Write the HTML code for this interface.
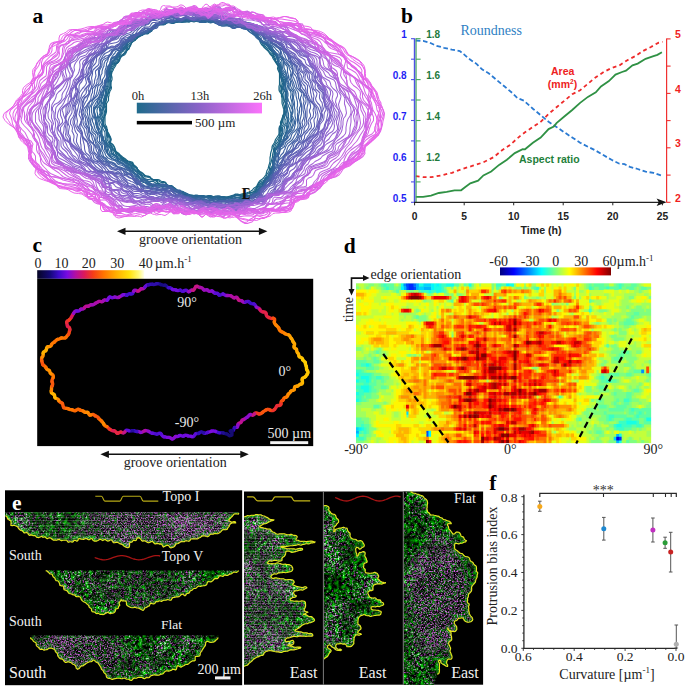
<!DOCTYPE html>
<html><head><meta charset="utf-8"><title>figure</title>
<style>
html,body{margin:0;padding:0;background:#fff;}
body{width:685px;height:687px;overflow:hidden;}
svg{display:block;}
text{font-family:'Liberation Serif',serif;}
.s{font-family:'Liberation Sans',sans-serif;font-weight:bold;}
.lab{font-family:'Liberation Serif',serif;font-weight:bold;font-size:21.5px;}
</style></head>
<body>
<svg width="685" height="687" viewBox="0 0 685 687">
<text class="lab" x="32.6" y="22.8">a</text><g fill="none" stroke-width="1.05" stroke-linejoin="round" transform="scale(0.5)"><polygon points="213,220 213,217 213,213 213,210 213,207 215,204 217,201 217,197 217,194 218,191 218,188 219,185 220,182 222,179 223,175 222,172 222,168 222,165 223,162 224,159 224,155 223,151 223,148 224,144 226,141 227,138 229,135 231,132 232,129 234,126 236,124 238,121 239,118 241,115 243,112 246,110 248,107 250,104 252,102 255,100 258,98 259,95 261,91 262,88 264,84 267,82 270,81 272,78 274,75 278,74 281,72 283,70 286,67 289,66 293,66 296,64 298,61 300,58 303,56 307,55 310,54 313,52 316,51 320,50 323,49 326,48 329,46 333,45 336,44 340,44 343,44 347,43 350,42 353,41 357,41 360,42 364,43 367,44 371,44 374,44 378,44 381,43 384,43 388,44 391,43 395,42 398,42 401,42 405,42 408,42 412,41 415,42 419,42 422,42 426,42 429,43 433,43 436,43 440,44 443,43 447,43 451,43 455,44 458,45 461,46 465,47 469,47 473,47 477,48 480,50 484,50 489,50 492,51 496,53 499,55 502,57 504,60 507,63 510,66 512,69 513,73 515,77 518,79 520,83 521,86 523,89 526,92 528,95 531,97 533,99 536,102 538,105 540,108 543,111 545,114 546,117 548,120 550,123 553,126 555,129 556,133 555,137 556,140 558,144 559,147 559,151 559,155 559,158 559,162 559,166 559,169 558,173 558,177 558,180 559,183 561,186 563,189 563,193 564,196 564,200 564,203 564,206 565,210 566,213 567,217 569,220 569,223 568,227 566,230 565,234 564,237 563,240 561,244 561,247 562,250 561,254 561,257 561,261 560,264 559,267 557,270 555,273 553,276 551,279 550,282 549,285 547,288 545,291 544,294 544,297 543,301 542,304 541,308 541,311 540,315 540,319 540,323 539,327 538,330 537,334 536,338 534,341 533,345 532,349 530,352 528,355 525,358 522,360 519,362 517,365 515,369 513,373 510,375 507,377 505,380 502,382 498,384 495,385 491,387 487,387 483,388 480,389 476,390 472,391 468,391 464,392 461,392 457,393 454,394 450,394 446,394 443,395 439,396 436,397 433,398 429,397 425,396 422,396 418,395 414,394 411,393 407,393 404,393 401,393 398,393 394,393 391,392 388,391 384,390 381,390 378,390 375,390 372,388 368,387 365,385 363,383 360,382 356,382 354,380 351,377 348,375 345,374 342,374 340,373 337,371 334,369 332,366 330,364 327,363 324,363 321,362 319,360 316,359 313,359 309,359 306,359 303,358 301,356 299,353 296,352 292,352 289,350 287,348 285,346 282,344 280,343 277,341 275,338 274,336 272,333 269,331 267,329 266,326 264,324 260,323 256,322 253,320 251,318 248,316 245,314 243,312 240,310 238,307 235,305 232,303 231,300 230,297 229,294 227,291 224,288 221,286 221,283 221,279 220,276 219,273 218,269 217,266 215,263 215,260 214,257 213,253 211,250 210,247 210,244 210,240 210,237 210,233 211,230 212,227 213,223" stroke="#186482" stroke-width="2.30"/><polygon points="213,220 212,217 211,213 210,210 211,207 212,203 213,200 213,197 214,194 215,190 216,187 217,184 218,181 220,178 221,175 221,171 220,168 220,164 220,161 221,158 222,154 222,151 223,147 223,144 224,140 225,137 227,134 229,131 231,128 234,126 237,124 239,121 240,118 241,114 243,112 246,110 248,107 251,105 253,102 255,100 257,97 259,94 261,91 262,88 264,85 267,82 270,81 272,78 275,76 277,73 280,71 283,69 286,68 291,68 295,68 297,67 299,63 301,60 304,57 307,55 310,53 313,51 316,49 319,49 323,47 326,46 329,45 333,44 336,44 340,43 343,43 347,43 350,43 354,43 357,42 360,43 364,43 367,43 371,43 374,43 378,44 381,43 384,42 388,42 391,41 395,40 398,40 401,41 405,42 408,41 412,40 415,41 419,42 422,42 426,42 429,42 433,42 436,43 440,43 443,43 447,43 451,44 454,45 458,46 461,46 466,46 470,45 474,45 478,46 481,48 484,49 488,50 492,51 496,52 499,54 502,57 505,60 508,62 510,65 512,69 514,73 516,76 519,78 521,81 523,85 525,88 527,91 529,94 531,97 534,99 537,101 539,104 542,107 544,109 546,113 548,116 549,119 551,122 553,126 555,129 557,132 558,136 558,139 559,143 560,147 561,150 563,153 563,157 563,161 562,165 562,168 561,172 560,176 560,179 561,183 563,186 564,189 565,192 566,196 566,199 566,203 567,206 568,210 569,213 569,217 569,220 569,223 569,227 567,230 566,234 565,237 564,240 563,244 562,247 562,250 561,254 560,257 560,260 560,264 560,267 559,271 558,274 556,277 554,280 552,283 551,286 549,289 547,292 546,295 547,299 547,303 546,306 545,310 545,314 544,317 543,321 542,325 541,328 540,332 539,336 539,340 537,344 535,347 533,350 532,354 531,358 528,361 524,362 520,364 518,366 516,370 514,374 512,377 509,380 507,383 503,385 499,385 495,387 492,388 488,388 484,390 480,390 476,391 472,391 468,391 465,392 461,393 457,394 454,394 450,394 446,394 443,394 439,394 435,395 432,395 428,395 425,395 421,395 418,394 414,393 411,393 407,392 404,391 401,391 397,392 394,393 391,393 388,391 384,391 381,391 378,392 375,390 371,389 368,387 365,386 362,384 359,383 356,383 353,381 351,378 348,377 345,376 342,375 339,374 336,373 334,371 332,367 330,365 327,365 323,365 320,364 318,362 315,361 312,361 308,361 305,360 303,358 301,355 299,353 295,353 292,352 289,351 287,349 284,347 282,345 279,344 276,342 274,339 273,336 271,334 269,332 266,330 265,327 262,325 259,324 255,323 252,321 250,319 247,317 244,315 242,313 240,310 237,308 234,306 231,303 230,300 229,297 228,294 227,291 224,288 221,286 221,283 222,279 221,275 220,272 218,269 216,267 214,264 212,260 212,257 211,254 208,251 207,248 207,244 208,240 208,237 209,234 209,230 210,227 212,223" stroke="#1a6484" stroke-width="2.30"/><polygon points="211,220 210,217 209,213 209,210 210,207 211,203 210,200 210,196 212,193 214,190 216,187 216,184 217,181 219,178 220,175 220,171 221,168 221,164 220,161 221,157 222,154 221,150 221,146 221,143 222,139 223,136 225,133 227,130 230,128 234,127 237,124 239,121 239,118 241,115 244,112 247,111 250,109 252,106 253,103 254,99 255,95 257,92 260,90 262,87 263,83 265,80 268,79 272,78 275,76 277,73 280,71 282,68 286,67 290,67 294,67 297,66 300,64 302,61 304,58 307,55 309,52 312,51 316,49 319,47 322,45 325,44 329,44 332,44 336,43 339,43 343,43 347,43 350,43 354,43 357,43 361,43 364,43 367,42 371,41 374,41 378,42 381,42 384,40 388,40 391,41 395,41 398,40 401,40 405,41 408,41 412,40 415,41 419,42 422,41 426,41 429,42 433,43 436,44 439,44 443,44 447,45 450,46 454,46 458,45 462,44 466,44 470,44 474,44 479,44 482,46 485,48 489,50 493,51 497,51 500,54 502,57 505,59 508,62 510,66 512,69 514,72 517,75 519,78 522,80 524,83 527,86 528,89 530,92 533,95 536,97 539,99 542,102 544,105 546,108 547,112 548,116 550,119 551,123 552,126 554,129 557,132 558,135 558,139 559,143 561,146 563,149 564,153 565,156 566,160 566,163 565,168 563,172 563,175 563,179 563,182 564,186 565,189 566,192 567,196 568,199 569,202 571,206 572,209 571,213 570,217 568,220 568,223 568,227 567,230 566,234 565,237 565,240 563,244 563,247 561,250 559,253 558,257 558,260 558,263 558,267 559,271 559,274 558,278 557,281 556,284 553,287 551,290 550,293 549,296 549,300 549,304 548,308 548,311 548,315 547,319 546,323 546,327 545,331 543,334 541,337 541,342 540,346 538,349 536,353 534,356 532,359 529,362 526,364 522,366 519,368 516,371 515,374 513,378 511,382 508,384 504,386 500,387 496,388 493,389 489,390 485,391 480,391 476,390 472,391 469,392 465,394 462,395 458,395 454,395 450,394 446,394 442,393 438,392 435,392 431,392 428,393 425,394 421,393 418,393 414,394 411,394 408,394 404,392 401,392 397,392 394,392 391,392 388,391 384,391 381,392 378,392 375,391 371,390 368,388 365,386 362,385 359,385 356,384 353,383 350,381 347,379 345,377 342,375 339,374 336,373 333,372 331,370 328,368 325,368 321,369 318,368 316,365 314,362 312,360 309,360 306,359 303,357 301,356 297,355 294,354 291,354 288,352 285,351 283,349 281,346 279,343 277,341 275,338 274,335 271,334 268,332 266,330 264,328 261,326 258,324 255,323 252,322 248,320 246,318 243,315 241,313 239,311 236,309 233,306 231,304 229,301 227,298 225,295 224,292 222,289 221,286 221,282 222,279 221,275 219,273 216,270 214,267 213,264 212,261 211,257 210,254 208,251 207,248 206,244 206,241 207,237 208,234 208,230 210,227 211,223" stroke="#1c6486" stroke-width="2.29"/><polygon points="208,220 206,217 206,213 207,210 208,206 208,203 208,200 209,196 211,193 214,190 216,187 216,184 216,180 218,177 220,175 221,171 221,168 221,165 220,161 220,157 221,154 220,150 219,146 219,142 220,139 222,135 223,132 225,129 229,127 233,126 236,124 237,120 238,117 239,113 242,111 245,109 248,107 250,104 252,101 253,98 254,94 255,90 258,88 260,86 261,82 263,78 266,76 270,75 274,74 277,72 279,70 282,68 285,67 289,65 292,63 295,63 299,62 302,61 304,58 307,55 310,53 313,51 316,49 319,47 322,45 325,44 329,44 333,44 336,44 340,44 343,43 346,42 350,42 353,42 357,43 361,44 364,44 367,43 371,42 374,42 378,42 381,42 384,41 388,41 391,41 394,42 398,41 401,41 405,40 408,41 412,41 415,42 419,42 422,42 426,42 429,43 432,44 436,44 439,44 443,45 447,45 450,45 454,45 458,44 463,43 466,44 470,45 474,45 478,45 482,46 486,48 489,49 493,50 497,51 500,53 503,56 506,58 508,62 510,66 511,70 514,72 517,75 519,77 522,80 525,83 527,85 530,88 533,90 536,92 539,95 541,98 544,101 546,104 547,108 548,111 550,115 551,118 552,122 554,125 556,128 558,131 558,135 559,139 560,142 561,146 563,149 563,153 564,156 567,159 568,163 567,167 566,171 565,175 565,178 566,182 567,185 568,189 568,192 568,196 568,199 569,202 571,206 571,209 570,213 569,217 568,220 568,223 569,227 568,230 566,234 566,237 565,241 565,244 564,247 562,250 560,253 559,257 559,260 560,264 560,268 561,271 560,275 560,278 559,282 558,285 556,288 554,291 552,294 551,297 550,301 550,305 550,309 550,313 550,317 550,321 549,325 548,329 547,332 544,335 543,338 543,343 542,347 540,351 538,354 536,357 532,360 529,362 527,365 524,367 520,369 518,372 515,375 513,379 511,382 509,386 506,388 502,389 498,391 494,391 489,391 484,390 479,389 475,388 471,389 468,392 465,394 462,395 458,395 454,395 450,395 446,394 442,393 439,393 435,394 432,394 428,394 424,393 421,392 417,392 414,392 411,393 408,394 404,393 401,392 398,393 394,393 391,393 388,393 384,392 381,392 378,392 375,391 371,390 368,389 365,387 362,385 359,385 356,385 353,384 350,383 347,380 345,377 342,375 339,373 337,372 334,372 330,371 327,370 324,370 321,370 318,369 316,367 314,364 311,361 308,360 305,360 302,360 298,359 295,359 292,358 289,357 286,354 284,352 282,350 280,347 279,344 277,341 275,339 273,337 270,335 267,333 265,331 262,329 260,327 257,326 254,324 251,322 248,321 245,319 243,316 241,313 238,311 234,310 231,307 230,304 228,302 226,299 224,296 223,293 221,290 219,287 219,283 218,280 218,276 217,273 216,270 214,267 213,264 213,260 212,257 209,254 207,251 206,248 205,244 205,241 207,237 208,234 208,230 208,227 209,223" stroke="#1f6588" stroke-width="2.29"/><polygon points="206,220 206,217 208,213 208,210 208,206 208,203 209,200 210,196 210,193 212,190 213,187 213,183 214,180 215,177 217,174 218,171 218,167 218,164 218,160 218,156 219,153 220,150 219,146 219,142 219,138 220,135 222,131 224,128 228,127 232,125 234,123 235,119 236,115 238,113 240,110 242,107 244,104 247,102 249,99 251,96 252,93 254,89 256,86 258,83 260,80 262,77 265,75 269,74 273,73 276,71 279,70 282,69 286,67 288,65 291,62 295,62 299,62 302,61 305,59 307,56 310,54 313,52 316,50 319,49 323,48 326,48 330,47 333,46 336,45 340,45 343,45 347,45 350,44 354,44 357,44 361,44 364,45 367,44 371,43 374,43 378,42 381,42 384,42 388,42 391,41 394,42 398,43 401,42 405,41 408,41 412,41 415,42 419,42 422,43 425,44 429,44 432,44 436,44 439,45 443,45 446,46 450,45 455,44 459,43 463,43 467,44 470,45 473,47 477,47 481,47 485,48 489,49 493,50 496,52 500,54 502,57 505,60 507,63 510,66 512,69 514,72 517,74 520,77 522,80 524,83 527,86 531,87 535,89 537,91 539,95 541,98 544,101 546,104 547,107 550,110 552,113 554,116 555,120 557,124 558,127 559,131 559,135 560,139 562,142 562,146 562,150 562,153 563,157 565,160 567,163 568,167 567,170 566,174 567,178 569,181 571,184 571,188 571,192 571,195 571,199 570,202 571,206 571,209 571,213 570,216 570,220 570,224 571,227 570,231 568,234 568,237 568,241 568,244 567,248 565,251 563,254 563,258 563,261 564,265 563,268 563,272 562,275 562,279 560,282 559,285 558,289 556,292 554,295 552,298 551,301 551,305 551,309 550,313 550,317 550,321 548,324 547,328 547,332 546,336 544,339 542,343 541,347 539,350 538,354 535,357 532,359 529,361 526,364 524,368 522,371 519,374 517,377 514,380 512,383 509,386 506,388 502,390 499,392 495,393 490,392 485,391 480,390 475,389 471,388 467,390 464,391 461,393 458,395 454,396 450,395 446,394 443,394 439,395 436,396 432,395 428,394 424,392 421,391 417,391 414,392 411,393 407,393 404,393 401,393 398,394 394,394 391,393 388,392 384,392 381,392 378,391 375,390 371,389 368,387 365,385 362,384 359,383 356,384 353,383 350,381 348,378 345,375 343,372 340,372 337,372 334,371 331,371 327,370 324,370 322,369 319,367 315,367 312,367 310,365 307,363 304,363 300,363 296,362 294,361 291,359 288,357 286,355 284,352 282,350 279,348 277,346 275,343 272,341 270,339 268,337 266,335 264,332 261,330 258,329 255,327 252,325 250,323 247,321 244,319 242,316 239,314 235,313 231,311 228,309 227,306 226,303 225,299 224,296 223,293 220,290 218,287 217,284 215,281 214,278 215,274 215,270 215,267 214,263 214,260 212,257 209,254 207,251 206,248 204,244 204,241 204,237 205,234 204,230 205,227 206,223" stroke="#21658a" stroke-width="2.28"/><polygon points="205,220 207,217 209,213 209,210 208,206 209,203 210,200 211,196 211,193 212,190 212,186 212,183 212,180 214,176 215,173 216,170 216,167 217,163 217,160 217,156 218,153 220,150 220,146 219,142 218,137 219,134 220,130 223,128 227,126 230,124 232,121 233,118 234,114 236,111 239,109 240,106 242,102 245,100 247,97 249,94 251,91 253,88 255,85 257,82 260,80 262,77 265,75 268,73 272,72 276,71 280,71 283,70 286,68 289,65 291,63 295,63 299,63 303,63 305,60 307,56 310,53 313,51 316,50 320,49 323,50 327,50 330,49 333,46 336,45 340,45 344,46 347,46 351,45 354,45 357,44 361,44 364,44 368,44 371,44 374,43 377,42 381,41 384,41 388,41 391,41 395,41 398,42 401,43 405,43 408,42 412,41 415,42 419,42 422,42 425,43 429,44 432,43 436,43 439,44 443,44 447,43 451,43 455,43 459,43 463,43 467,44 470,45 474,46 477,47 481,47 485,49 489,50 492,51 496,53 499,54 502,57 504,61 507,64 509,66 512,69 514,72 516,75 519,77 522,80 524,83 527,85 531,87 534,89 536,93 538,96 541,98 544,101 546,103 549,107 551,109 554,112 556,115 556,120 557,124 558,127 560,130 561,134 562,138 562,141 563,145 562,150 561,154 562,157 563,161 566,163 567,167 567,171 566,174 566,178 569,181 571,184 572,188 572,191 573,195 574,198 574,202 573,206 573,209 573,213 572,216 572,220 571,224 571,227 570,231 569,234 570,238 572,241 572,245 570,248 568,251 565,255 565,258 565,262 565,265 564,269 563,272 563,276 562,279 561,282 559,286 558,289 557,292 555,295 553,298 550,301 550,304 549,308 549,312 549,316 549,320 548,324 547,328 548,333 548,337 546,341 543,344 541,346 539,350 537,354 535,357 532,359 528,361 527,365 525,369 524,373 521,376 519,379 516,382 513,384 509,386 506,388 502,390 499,392 495,394 491,393 486,393 481,393 477,392 472,391 468,391 464,392 461,393 458,394 454,395 450,395 446,393 442,393 439,394 436,395 432,395 428,394 425,393 421,392 418,392 414,393 411,393 407,392 404,392 401,393 398,393 394,392 391,391 388,391 384,391 381,391 378,390 375,389 372,388 368,387 366,384 363,383 359,383 356,383 353,382 351,379 348,376 346,373 343,371 340,371 337,372 333,372 330,371 327,371 324,370 321,369 318,369 314,370 310,370 307,370 304,369 301,367 298,365 295,364 292,363 290,361 287,359 285,356 283,354 281,351 279,349 276,346 275,344 272,342 269,340 267,338 265,336 263,333 261,331 258,329 254,328 251,326 249,324 246,322 243,320 241,317 237,316 234,314 230,312 227,310 224,307 223,304 223,300 222,297 221,294 218,291 216,288 214,285 212,282 212,278 212,275 213,271 213,267 213,264 212,260 210,257 208,254 206,251 206,248 206,244 205,241 203,238 202,234 202,231 203,227 204,223" stroke="#23658d" stroke-width="2.28"/><polygon points="203,220 204,217 206,213 207,210 207,206 208,203 210,200 212,197 213,193 212,190 211,186 211,183 211,179 212,176 213,173 214,170 214,166 215,163 216,159 217,156 218,153 218,149 217,145 216,140 217,137 218,133 220,130 223,128 226,125 228,123 230,120 232,117 233,113 235,110 237,107 239,105 241,102 244,99 247,98 250,95 252,92 253,88 255,85 258,83 260,80 263,78 265,75 268,73 272,72 276,72 280,72 284,71 287,68 289,66 292,64 296,63 299,63 302,61 304,58 306,54 309,52 312,50 316,49 319,49 323,48 327,49 330,48 333,46 336,45 340,46 344,47 347,47 351,45 354,44 357,44 361,43 364,42 367,42 371,42 374,41 377,40 381,39 384,39 388,41 391,40 395,40 398,41 401,43 405,43 408,42 412,41 415,42 418,43 422,44 425,44 429,43 433,43 436,44 439,44 444,43 448,41 452,41 455,43 458,45 462,45 466,45 470,46 473,47 477,47 481,48 485,48 488,50 492,52 495,53 499,54 502,57 505,60 508,62 510,65 512,68 514,72 516,75 519,78 522,80 524,83 528,85 532,86 534,89 537,92 540,94 542,98 544,101 546,103 549,106 552,109 554,112 555,116 555,120 556,124 558,127 560,130 562,134 562,138 562,142 563,145 563,149 563,153 563,157 565,160 568,163 569,166 569,170 568,174 568,178 569,181 570,184 572,188 572,191 573,195 574,198 574,202 573,206 573,209 573,213 574,216 574,220 573,224 572,227 572,231 573,234 574,238 576,242 575,245 572,249 570,252 569,255 568,259 568,262 568,266 566,269 564,272 563,276 562,279 561,282 559,285 558,289 556,292 555,295 553,298 550,301 550,304 550,308 550,313 549,316 548,320 547,323 546,327 546,332 547,337 546,341 544,344 541,347 539,350 537,353 534,356 531,358 528,361 527,365 526,370 525,374 522,377 519,380 516,382 513,384 509,387 507,389 503,392 500,393 496,394 491,394 487,394 482,395 478,395 473,394 469,393 466,394 462,396 459,396 455,396 451,396 446,395 442,393 438,392 435,392 432,393 428,395 425,395 422,395 418,394 414,394 411,392 407,391 404,391 401,391 397,391 394,390 391,390 388,391 384,391 381,390 378,389 375,388 372,388 368,387 366,384 363,383 359,383 356,383 353,382 351,379 348,376 346,374 343,372 340,373 336,374 333,374 330,373 327,373 323,372 320,372 317,372 313,372 309,372 306,372 302,371 300,370 297,368 294,366 291,365 287,364 285,362 283,359 281,357 278,354 276,351 275,348 274,345 271,343 268,341 266,339 264,336 262,334 260,331 258,328 256,327 253,325 249,323 246,322 242,320 239,319 236,316 234,314 231,311 227,310 224,307 222,304 222,301 221,297 219,294 217,292 214,289 213,285 212,282 211,279 210,275 210,272 210,268 210,265 208,261 206,258 205,255 205,251 205,248 205,244 203,241 201,238 200,234 202,231 202,227 202,223" stroke="#25658f" stroke-width="2.27"/><polygon points="201,220 201,216 203,213 204,210 205,206 206,203 207,199 208,196 209,193 208,189 207,185 208,182 209,179 210,176 211,172 212,169 212,165 212,162 213,158 214,155 216,152 217,148 217,145 218,141 219,138 220,134 221,131 223,128 224,125 226,122 228,119 230,116 233,113 235,110 237,108 240,105 242,102 245,100 249,99 252,97 253,93 254,89 255,86 258,83 261,81 264,79 268,78 270,76 273,73 276,72 280,71 284,71 287,69 290,67 293,66 296,65 300,64 302,62 304,58 306,54 309,52 312,50 315,49 319,47 322,46 326,46 329,46 333,45 336,44 340,45 344,45 347,45 350,44 354,43 357,42 360,42 364,41 367,42 371,42 374,42 378,42 381,40 384,39 388,39 391,39 395,39 398,42 401,44 404,44 408,43 412,42 415,43 418,45 421,46 425,45 429,44 432,44 436,44 440,44 444,42 448,42 451,43 455,44 458,45 461,47 465,48 468,48 472,49 476,49 480,49 484,50 488,51 492,52 496,53 499,55 502,57 505,60 508,62 510,65 513,68 515,72 516,75 518,79 520,82 523,84 527,85 531,87 534,89 537,91 541,93 542,97 543,101 546,104 549,106 552,109 554,112 554,116 555,120 556,124 557,128 559,131 561,134 562,137 562,142 563,145 565,148 566,152 567,155 569,159 570,162 570,166 570,170 570,174 570,177 570,181 571,184 572,188 573,191 573,195 574,198 573,202 572,206 572,209 573,213 574,216 574,220 574,224 574,227 574,231 574,234 576,238 576,242 575,245 574,249 573,252 573,256 572,259 572,263 571,267 570,270 568,273 567,277 565,280 563,283 561,286 558,289 556,292 554,295 552,298 551,301 551,305 551,309 550,312 548,316 547,319 546,323 546,327 546,332 547,337 546,341 544,344 542,348 540,351 537,353 533,355 530,357 528,361 528,366 527,371 524,373 520,375 518,379 516,382 513,385 510,387 507,390 504,392 500,394 496,394 491,395 487,395 483,396 479,396 474,395 470,395 466,396 463,397 459,398 455,397 451,397 447,397 443,396 439,394 435,393 432,394 429,396 425,396 422,396 418,395 415,395 411,394 408,394 404,393 401,392 397,391 394,391 391,392 388,393 384,393 381,392 378,390 375,388 372,386 369,385 366,383 363,382 359,382 356,383 353,381 351,379 348,378 345,376 342,374 339,373 336,373 333,374 329,374 326,374 323,373 320,371 317,371 313,371 309,372 305,373 302,372 299,371 296,369 294,367 291,365 287,365 284,363 282,360 280,357 278,355 275,353 273,350 271,348 269,345 266,343 265,340 263,337 260,335 258,333 257,330 255,327 253,324 250,323 245,322 241,321 238,319 235,317 234,313 232,311 228,309 224,307 222,304 222,301 221,297 218,295 216,292 213,289 212,286 210,283 208,280 205,277 204,273 204,270 204,266 204,262 204,259 204,255 204,252 203,248 201,245 199,241 198,238 199,234 201,231 202,227 202,224" stroke="#286591" stroke-width="2.27"/><polygon points="199,220 199,216 200,213 202,209 203,206 203,202 203,199 204,196 206,192 206,189 206,185 206,182 208,179 209,175 210,172 210,168 211,165 211,161 212,158 213,155 214,151 216,148 217,145 219,142 220,138 221,135 222,131 223,128 224,124 226,122 229,119 231,116 233,113 235,110 237,108 239,105 242,102 245,100 248,99 251,96 252,93 253,89 255,85 257,82 260,80 264,79 268,78 270,76 273,73 276,71 280,71 284,70 287,68 290,67 293,66 296,65 300,64 302,62 304,58 307,55 310,53 313,51 316,49 319,47 322,45 325,43 328,43 332,43 336,43 340,43 343,44 347,44 350,42 353,40 357,40 360,42 364,42 367,42 371,42 374,42 378,42 381,41 384,40 388,39 391,38 395,39 398,42 401,45 404,45 408,44 411,43 415,43 418,44 422,45 425,44 429,44 432,46 435,46 439,45 443,43 447,44 450,45 454,46 457,46 461,48 464,50 467,50 471,50 475,51 479,51 483,52 488,52 492,52 496,53 499,55 501,58 504,61 507,63 510,66 513,68 516,70 517,74 519,78 521,82 523,85 526,86 530,88 533,90 536,92 539,95 541,98 543,101 547,103 550,105 553,108 554,112 554,116 555,120 556,124 558,127 561,130 562,133 563,137 562,141 563,145 565,148 567,152 569,155 571,158 571,162 571,166 571,169 571,173 572,177 573,180 573,184 574,187 574,191 574,195 573,199 573,202 573,206 573,209 574,213 574,216 575,220 576,224 577,227 577,231 577,235 578,238 577,242 576,246 576,249 575,253 575,256 574,260 573,263 572,267 571,270 569,274 568,277 567,281 566,284 564,287 560,290 556,292 554,295 552,298 551,301 551,305 551,309 549,312 547,315 546,319 545,322 545,327 546,332 546,337 545,340 542,343 541,347 539,350 536,352 533,355 530,357 529,361 529,367 527,371 523,372 519,373 517,378 516,382 514,386 511,388 507,390 503,392 500,394 496,396 492,396 488,396 484,397 479,397 475,396 471,397 467,397 463,397 459,398 455,397 451,397 448,398 444,398 440,397 436,395 432,394 428,395 425,396 422,397 418,396 415,395 411,395 408,395 404,395 401,394 398,394 394,395 391,395 388,395 384,394 381,393 378,391 375,389 372,387 369,385 366,384 362,384 359,383 357,381 354,380 351,379 347,379 345,376 343,373 339,373 336,374 333,374 330,373 327,372 324,372 321,370 317,370 314,370 310,371 306,372 302,372 299,370 297,368 294,367 291,365 287,364 284,363 282,360 280,357 278,355 275,353 273,350 270,348 268,346 266,343 265,340 263,337 260,336 257,334 255,331 253,328 251,326 248,324 243,324 239,323 236,321 234,317 233,314 230,312 226,310 222,309 219,306 218,302 217,299 216,296 214,292 213,289 211,286 208,283 205,281 203,277 202,274 201,270 202,266 203,263 203,259 202,255 200,252 199,249 198,245 197,242 196,238 197,234 198,231 200,227 200,224" stroke="#2a6693" stroke-width="2.26"/><polygon points="194,220 195,216 198,213 200,209 200,206 201,202 202,199 204,196 205,192 206,189 207,186 207,182 207,178 208,175 209,172 210,168 211,165 213,162 215,159 215,155 214,151 215,148 216,144 217,141 218,138 220,134 221,131 222,127 224,124 227,122 230,120 232,117 235,114 236,111 237,108 238,104 240,101 243,98 246,96 248,94 251,91 251,87 253,83 255,80 259,78 262,77 265,75 268,73 271,71 274,69 278,69 282,69 286,67 289,65 291,63 294,61 298,60 301,59 304,56 306,54 309,52 313,51 316,50 319,48 322,46 325,44 328,43 332,43 336,43 340,44 343,44 347,43 350,41 353,40 357,41 360,42 364,42 367,41 371,40 374,40 377,40 381,40 384,40 388,40 391,40 395,41 398,42 401,44 404,45 408,45 411,45 415,44 418,43 422,42 426,42 429,43 432,47 435,47 439,46 443,45 446,46 449,48 453,48 457,48 460,49 463,51 468,50 472,50 476,50 479,51 483,53 486,53 491,54 495,55 497,57 500,60 503,62 505,65 508,68 512,69 515,71 518,74 520,77 521,81 523,85 526,87 530,88 533,90 536,93 539,95 541,98 545,100 549,102 551,105 553,108 555,111 556,115 557,119 559,122 561,125 562,129 562,133 562,137 563,141 564,145 565,149 567,152 570,154 571,158 572,162 572,165 572,169 571,173 571,177 572,180 573,184 574,187 573,191 572,195 573,199 573,202 574,206 576,209 577,213 579,216 580,220 581,224 582,227 582,231 582,235 582,239 581,242 579,246 578,249 577,253 576,257 575,260 573,264 572,267 570,270 570,274 568,277 567,281 567,284 565,288 562,290 558,293 556,296 556,300 555,303 553,306 551,309 549,312 548,316 548,320 547,323 546,327 546,332 545,336 543,339 541,342 539,345 537,348 536,352 534,356 532,359 530,363 529,367 527,371 523,373 519,374 517,377 515,381 513,385 511,388 507,390 503,392 500,394 497,397 493,398 489,398 484,398 480,399 476,400 472,400 468,400 464,400 460,400 455,398 451,397 447,397 444,398 440,397 436,397 432,395 428,395 425,397 422,398 418,398 415,395 411,394 408,394 404,395 401,394 398,394 394,394 391,395 388,396 384,395 381,393 378,391 375,389 372,387 369,386 365,387 362,387 359,384 357,381 354,380 351,379 348,378 345,376 342,374 339,375 336,375 333,373 330,372 327,371 324,371 321,370 317,370 314,371 310,371 306,371 303,370 301,368 297,367 294,366 291,365 288,364 285,362 283,359 281,357 279,354 277,351 274,349 271,348 268,347 265,344 263,341 261,339 259,337 256,335 254,332 251,330 249,328 246,326 242,325 238,323 236,321 234,318 231,316 227,314 223,312 219,310 216,308 215,304 215,300 214,296 213,293 212,290 210,287 209,283 207,280 206,277 205,273 203,270 202,267 201,263 200,260 198,256 195,253 193,250 193,246 194,242 194,238 195,235 195,231 195,227 194,224" stroke="#2c6695" stroke-width="2.26"/><polygon points="189,220 191,216 194,213 197,209 198,206 200,202 202,199 203,196 205,192 206,189 207,186 208,182 208,179 207,175 209,172 210,168 212,165 215,163 216,159 215,155 215,151 215,148 215,144 215,140 216,137 218,134 221,131 222,128 223,124 226,121 230,120 233,117 235,115 237,112 238,108 238,104 240,100 241,97 244,94 246,92 249,89 250,86 252,82 254,79 257,76 260,74 262,72 266,71 270,70 274,68 277,67 282,68 286,68 289,66 291,63 294,60 297,59 300,58 303,55 306,53 309,51 312,50 315,48 319,47 322,45 325,45 329,45 332,44 336,44 340,43 343,43 347,43 350,42 354,43 357,42 360,41 364,40 367,39 370,39 374,40 377,41 381,41 384,41 388,41 391,42 394,43 398,44 401,45 404,45 408,45 411,44 415,42 419,41 422,41 426,42 429,43 432,46 435,48 439,47 442,48 445,50 448,50 453,49 456,49 459,51 463,52 467,52 471,51 475,50 479,51 483,53 486,55 489,56 492,58 495,60 498,63 501,65 504,67 507,69 510,71 513,73 516,75 519,77 522,80 524,83 527,86 530,88 533,90 537,92 540,94 542,97 546,99 549,102 551,105 553,108 555,112 556,115 559,118 563,120 564,124 564,128 564,133 563,137 564,141 566,144 567,147 570,150 572,154 573,157 573,161 574,165 576,168 575,172 574,176 574,180 575,183 576,187 576,191 575,195 576,198 577,202 579,205 580,209 582,213 583,216 585,220 586,224 585,228 583,231 582,235 583,239 583,243 582,246 581,250 580,254 580,257 578,261 575,264 572,267 572,271 573,275 571,278 568,281 566,284 565,288 562,290 559,293 559,297 559,301 559,305 555,307 551,309 549,312 547,315 547,319 547,324 547,328 547,332 546,336 544,339 542,342 540,346 538,349 537,353 536,357 533,360 531,363 529,367 528,371 526,375 523,378 520,380 516,382 513,385 510,388 507,390 503,392 500,393 497,396 494,399 489,399 485,399 481,401 478,403 474,403 469,402 465,401 461,402 456,401 452,399 448,399 444,399 441,399 437,399 433,398 429,397 426,398 423,400 419,399 415,396 411,396 408,397 405,396 401,396 398,396 394,395 391,395 388,396 384,395 381,393 378,390 375,388 372,388 368,387 365,387 362,386 359,383 356,382 353,381 350,380 348,378 345,377 341,377 338,377 336,375 334,372 331,370 327,370 324,372 320,372 317,372 313,372 310,372 306,371 304,369 301,367 299,365 296,363 293,362 290,360 287,359 284,358 280,357 278,354 277,351 275,349 271,348 267,347 265,345 263,342 261,340 258,337 256,335 253,333 250,331 247,329 245,327 242,325 238,323 235,321 231,319 227,318 224,316 221,313 219,310 216,308 214,305 213,301 212,298 211,294 210,290 210,287 209,283 207,280 207,276 206,273 204,270 201,267 198,264 196,260 194,257 193,253 192,250 191,246 191,242 192,238 193,235 191,231 190,227 189,224" stroke="#2f6697" stroke-width="2.25"/><polygon points="188,220 190,216 193,213 196,209 198,206 198,202 199,198 201,195 203,192 203,188 204,185 206,182 208,179 208,175 209,172 210,168 212,165 214,162 215,159 215,155 215,152 216,148 215,144 214,140 214,136 216,132 218,130 221,127 221,123 223,119 226,117 230,115 233,113 235,110 237,107 239,104 241,101 242,98 243,94 245,91 248,88 251,86 254,84 256,81 257,77 259,74 262,71 265,70 270,69 273,68 277,67 281,67 286,67 290,67 293,66 296,64 299,62 301,59 303,56 306,52 309,51 312,49 315,48 318,46 322,45 325,45 329,44 332,42 335,41 339,41 343,41 346,41 350,43 354,43 357,42 360,41 364,40 367,40 370,39 374,40 377,41 381,42 384,42 388,42 391,41 395,41 398,43 401,45 405,44 408,42 412,40 415,39 419,40 422,42 425,44 428,45 431,47 435,48 438,49 441,51 444,52 448,52 452,51 456,51 459,52 462,53 466,54 470,54 474,53 479,52 483,53 486,54 489,56 492,58 496,60 498,62 501,65 504,67 507,69 510,72 512,75 515,77 518,79 521,81 525,82 529,84 532,86 535,88 539,90 541,93 543,96 546,99 548,102 550,105 553,108 554,112 557,114 562,116 565,119 567,123 567,127 566,132 565,136 566,140 568,143 571,146 572,149 574,153 574,157 574,161 576,164 578,168 578,171 577,175 578,179 581,182 582,186 582,190 581,194 582,198 583,201 584,205 584,209 584,212 585,216 586,220 585,224 583,227 582,231 583,235 585,239 586,243 586,247 585,250 583,254 582,258 580,261 577,264 574,267 574,271 575,275 572,278 567,281 564,284 563,287 562,291 561,294 560,298 560,301 559,305 557,308 553,310 550,313 548,316 547,319 547,324 548,328 547,333 547,337 546,341 543,344 542,347 540,351 539,355 537,359 535,362 532,364 529,367 528,372 527,377 525,381 523,384 519,386 514,386 509,386 505,388 502,390 499,392 496,395 493,398 489,398 484,398 481,400 478,403 474,403 469,401 465,401 461,403 457,403 453,403 449,402 445,403 442,403 438,402 433,400 429,398 426,399 423,401 419,401 415,400 412,400 408,401 405,399 401,397 398,396 394,396 391,396 388,394 384,393 381,392 378,391 375,390 371,391 368,390 365,387 362,385 359,384 356,384 353,383 350,380 348,378 345,377 342,376 339,375 336,373 334,371 331,370 327,370 324,371 320,372 317,372 314,371 310,370 307,369 304,369 301,367 298,365 296,362 294,360 291,359 287,359 283,359 280,358 277,356 275,353 274,350 270,348 268,347 266,344 263,341 260,340 258,338 255,336 253,333 250,331 247,329 244,327 241,326 238,323 234,322 230,320 226,318 223,316 221,313 219,310 216,308 214,305 213,301 211,298 210,294 210,290 209,287 207,284 205,281 206,277 206,273 204,270 201,267 198,264 197,260 197,256 196,253 196,249 195,246 193,242 192,239 191,235 190,231 189,227 188,224" stroke="#336599" stroke-width="2.25"/><polygon points="187,220 188,216 191,213 194,209 195,205 195,202 197,198 199,195 200,192 201,188 203,185 206,182 208,179 209,175 210,172 210,168 210,165 211,161 214,159 215,155 215,151 214,147 214,143 214,140 216,136 217,133 219,130 220,126 221,122 222,119 225,116 228,114 232,112 234,109 236,106 238,104 241,102 244,99 245,95 246,91 248,88 250,86 254,84 257,82 259,79 261,76 263,72 266,70 269,69 273,67 277,66 281,66 285,66 289,65 293,66 296,64 298,61 300,58 303,55 306,52 308,50 312,49 315,48 318,46 321,44 325,44 328,43 332,43 336,43 339,43 343,41 346,40 350,41 353,42 357,41 360,41 364,41 367,41 370,39 374,39 377,40 381,41 384,41 388,41 391,41 395,41 398,42 401,42 405,41 408,40 412,39 416,39 419,40 422,42 425,44 429,45 432,46 435,48 438,50 441,51 444,52 448,52 452,52 455,52 459,53 462,54 465,56 469,56 473,54 478,53 482,55 485,56 489,56 493,57 498,57 501,59 503,62 506,65 508,68 510,71 513,73 515,76 518,79 521,81 525,82 529,84 533,85 536,88 539,90 542,92 545,95 546,99 548,102 551,105 554,107 557,110 560,113 564,115 567,118 568,122 568,126 568,130 568,135 569,138 571,142 572,145 573,149 574,153 575,157 576,160 577,164 578,167 578,171 578,175 581,179 584,182 586,185 585,189 585,193 585,197 585,201 586,205 587,209 586,212 585,216 585,220 584,224 583,228 584,231 586,235 588,239 589,243 589,247 587,251 585,254 584,258 582,262 579,265 576,268 575,272 574,275 571,278 567,281 565,284 565,288 563,291 560,294 559,297 559,301 559,305 558,309 555,311 552,314 551,317 550,321 549,325 548,328 547,332 547,337 546,341 545,345 544,349 544,354 542,358 539,360 536,363 533,366 531,369 528,372 526,376 524,380 523,384 520,388 516,388 510,387 505,388 503,390 500,393 497,396 494,399 489,399 484,398 480,398 477,400 473,401 469,401 465,402 462,404 458,404 454,404 449,403 446,403 442,403 437,401 433,399 429,398 426,399 422,400 419,401 415,401 412,400 408,399 405,398 401,395 398,394 394,395 391,394 388,394 384,394 381,393 378,392 375,392 371,393 368,392 365,389 362,386 359,383 356,383 353,383 350,381 347,380 344,379 341,377 339,375 336,373 334,371 331,370 328,370 325,369 321,369 318,370 314,370 311,369 308,368 304,369 300,370 297,368 295,365 293,362 290,360 286,361 282,361 278,360 275,358 274,355 272,351 270,349 268,347 265,344 263,342 260,340 258,338 255,336 252,334 250,331 248,329 244,328 239,327 236,325 234,322 230,320 226,318 223,316 220,314 217,311 215,308 213,305 211,302 209,299 209,295 209,291 207,288 204,285 203,281 203,277 203,274 202,270 199,267 197,264 196,260 195,257 194,253 195,249 193,246 191,242 190,239 189,235 190,231 189,227 187,224" stroke="#36659c" stroke-width="2.24"/><polygon points="187,220 187,216 188,212 190,209 192,205 194,202 197,198 199,195 200,191 201,188 203,185 206,182 207,178 208,175 210,172 211,169 210,165 211,161 213,158 214,155 213,151 212,146 212,143 215,140 217,137 219,134 220,130 221,127 221,123 222,119 224,116 227,114 231,112 233,109 235,106 238,104 242,102 244,99 244,95 246,91 248,89 251,86 254,84 258,83 261,81 262,77 264,73 267,72 271,71 274,69 278,68 281,67 285,65 287,63 291,62 294,62 297,60 300,58 304,56 306,54 309,51 312,49 315,48 319,47 322,46 326,46 329,46 333,45 336,44 340,44 343,43 346,41 350,41 353,41 357,41 360,40 364,40 367,39 370,38 374,38 377,38 381,38 384,39 388,39 391,39 395,38 398,38 402,38 405,37 409,37 412,39 415,40 419,41 422,41 426,41 429,42 432,44 435,47 438,50 441,50 445,50 449,50 452,50 455,51 459,52 462,54 464,56 468,57 473,55 478,54 481,55 484,57 488,58 492,58 497,58 501,58 504,61 507,64 509,66 512,69 515,71 517,74 519,78 521,81 524,83 529,84 533,85 536,87 540,89 544,91 547,93 550,96 552,99 556,102 558,105 559,109 561,112 564,115 566,118 567,122 569,126 571,129 574,132 575,136 575,140 575,144 576,148 577,152 577,156 579,159 581,163 581,167 581,171 582,174 584,178 587,181 588,185 588,189 587,193 587,197 588,201 589,205 589,208 589,212 589,216 590,220 590,224 590,228 590,232 591,236 592,240 591,244 591,247 590,251 589,255 588,259 585,262 582,266 580,269 578,272 576,276 573,279 570,282 568,285 567,289 565,292 560,294 557,296 556,299 556,304 557,308 555,311 554,315 554,319 553,323 552,326 550,330 549,334 549,338 547,342 546,346 547,351 546,356 544,359 540,361 536,363 533,366 530,369 529,372 526,376 524,379 521,382 520,387 517,390 513,391 508,391 504,393 501,395 497,397 494,399 490,399 485,399 480,399 476,399 473,401 469,401 465,403 462,405 458,405 454,404 450,404 446,404 442,403 437,401 433,400 430,400 426,401 423,401 419,402 416,401 412,400 408,399 405,398 401,396 398,396 394,397 391,397 388,397 384,397 381,397 378,395 374,393 371,393 368,393 365,390 362,384 360,380 357,381 353,382 350,382 347,381 344,380 341,378 339,375 337,372 334,371 331,370 328,369 325,368 322,368 318,370 314,371 311,370 308,368 304,368 300,369 296,370 293,368 290,366 288,363 284,363 280,363 276,362 274,360 273,356 271,353 268,351 265,349 263,346 261,343 259,341 256,339 253,337 251,335 248,333 245,331 241,330 237,329 234,326 232,323 229,321 224,320 220,318 216,316 213,313 211,310 210,306 208,303 206,300 205,297 205,292 204,289 202,286 199,283 199,279 199,275 199,271 197,268 194,265 192,261 190,258 189,254 188,250 187,247 185,243 185,239 187,235 188,231 188,228 187,224" stroke="#3a649e" stroke-width="2.24"/><polygon points="183,220 183,216 183,212 185,209 187,205 190,201 194,198 197,195 199,191 200,188 201,184 202,181 204,178 205,174 208,171 209,168 209,164 209,161 212,158 213,155 213,151 213,147 213,143 215,140 216,137 217,133 218,130 220,126 221,122 221,119 223,115 225,112 227,109 230,106 231,103 235,101 240,101 243,98 244,95 246,92 249,90 252,87 254,84 258,83 262,82 264,80 267,77 269,74 272,72 274,69 278,68 282,68 285,66 288,64 291,62 294,60 297,59 301,59 304,58 307,56 310,53 312,50 315,48 319,48 323,48 326,47 329,46 333,44 336,43 340,44 343,45 347,43 350,41 353,40 357,41 360,42 364,41 367,39 370,38 374,37 377,36 381,37 384,38 388,39 391,38 395,38 398,38 402,38 405,37 409,37 412,39 415,40 419,40 423,38 426,38 429,41 432,44 435,47 438,50 441,49 446,48 450,47 453,47 457,47 460,49 463,52 465,56 468,57 473,55 478,54 482,54 485,56 488,58 492,59 496,59 501,59 504,61 507,63 510,65 514,67 517,69 520,71 522,74 523,79 525,82 529,84 534,84 538,86 542,87 546,89 550,91 553,94 557,96 560,99 561,103 561,108 562,112 564,115 566,118 568,122 570,125 574,128 577,131 578,134 579,138 581,142 582,146 581,150 580,155 581,159 583,162 584,166 585,170 586,173 587,177 590,181 591,184 592,188 592,192 593,196 594,200 595,204 595,208 595,212 594,216 595,220 596,224 595,228 595,232 595,236 595,240 595,244 596,248 596,252 595,256 592,260 589,263 585,266 583,270 582,274 581,277 578,280 574,283 571,286 570,290 569,293 565,296 562,298 559,301 558,305 557,308 557,312 557,317 557,321 556,325 554,328 552,332 551,335 549,339 547,342 545,345 545,350 544,355 542,358 538,360 535,362 533,365 530,369 529,373 527,377 524,380 521,382 519,385 516,389 513,391 509,393 506,395 502,396 497,397 493,397 489,398 485,399 481,401 478,402 474,403 470,403 466,404 462,405 458,406 454,405 449,403 445,403 441,403 438,402 434,403 430,402 426,401 423,400 419,400 415,400 412,399 408,400 405,400 401,399 398,399 395,400 391,399 388,398 384,398 381,399 378,398 374,395 371,393 368,392 365,390 362,385 360,381 357,380 353,381 350,381 347,379 345,378 342,376 339,374 337,372 334,370 331,370 327,371 324,371 321,370 317,371 313,373 309,372 307,370 303,370 299,371 294,372 290,372 287,370 285,368 282,366 278,366 274,365 273,361 272,357 270,354 267,353 264,351 263,347 261,344 259,341 255,340 252,339 248,337 245,336 241,334 236,333 233,331 231,328 228,326 224,324 219,323 216,321 213,317 210,315 207,313 206,309 205,305 203,302 202,298 203,293 202,290 199,287 196,284 194,280 195,276 196,272 195,268 192,265 188,262 186,258 185,255 183,251 182,247 181,243 182,239 184,235 185,232 184,228 183,224" stroke="#3d64a0" stroke-width="2.23"/><polygon points="179,220 179,216 181,212 183,208 184,205 185,201 189,197 192,194 195,191 197,187 198,184 199,180 200,177 201,173 204,170 206,167 205,163 205,159 207,156 209,153 210,149 210,146 210,142 211,138 212,135 213,131 213,127 215,123 216,120 217,116 219,113 221,110 223,106 225,103 228,100 232,99 237,98 241,97 243,93 244,90 247,88 250,85 254,84 258,83 263,83 266,81 268,78 270,75 272,73 275,70 278,68 282,68 286,67 288,65 291,63 294,61 297,59 301,59 304,57 307,56 311,55 314,53 316,50 319,48 322,46 325,45 329,44 332,43 336,42 340,44 343,44 347,44 350,42 353,40 357,41 361,43 364,42 367,40 370,38 374,36 377,36 381,36 384,37 388,39 391,39 395,39 398,40 401,40 405,38 409,38 412,40 415,41 419,40 423,39 426,39 429,41 432,44 435,46 438,49 442,48 446,46 451,44 455,44 458,46 461,48 463,50 466,54 469,55 473,55 478,54 482,54 486,54 489,56 493,56 498,56 502,57 505,60 507,63 510,66 514,67 518,68 522,69 525,72 526,75 528,79 531,81 536,83 539,84 543,86 548,88 551,90 554,93 557,96 560,99 562,102 563,106 564,110 566,114 568,117 571,120 573,124 576,127 578,130 580,133 583,137 585,140 585,145 583,150 583,154 584,158 585,161 587,165 588,169 589,173 591,176 593,180 596,184 597,188 597,192 597,196 599,200 600,204 601,208 601,212 599,216 599,220 599,224 598,228 597,232 597,236 597,240 598,244 600,249 600,253 598,257 595,260 593,264 591,268 589,271 587,275 585,279 582,282 578,285 575,287 573,291 571,294 570,298 568,301 567,305 564,308 562,310 560,314 558,317 556,320 555,324 555,328 554,333 552,336 549,339 548,343 546,346 544,349 542,353 540,356 538,360 535,362 532,364 530,368 529,373 527,376 523,378 520,381 518,384 515,388 513,391 510,394 507,396 502,397 498,398 494,398 489,398 485,400 482,403 479,404 474,404 470,403 465,403 461,403 457,403 453,403 449,402 445,401 441,402 438,403 434,404 430,403 426,401 423,401 419,401 416,401 412,402 409,403 405,402 401,399 398,398 395,399 391,399 388,397 384,399 381,401 377,399 374,395 371,391 368,391 365,392 362,390 359,387 356,383 353,381 351,380 348,378 345,376 342,374 339,374 336,375 333,374 329,374 325,375 322,376 319,375 315,375 311,377 307,377 304,376 301,374 298,373 294,373 290,373 286,372 283,370 280,369 276,368 273,366 271,363 270,359 268,356 265,354 263,352 261,349 260,345 258,342 255,341 252,339 248,337 244,336 239,335 235,334 232,332 230,329 227,327 222,325 217,324 213,322 212,318 209,316 205,313 202,310 201,306 201,302 200,298 199,295 198,291 195,288 193,285 191,281 192,277 192,273 191,269 187,266 184,263 183,259 184,255 182,251 180,248 180,244 180,240 180,236 180,232 179,228 179,224" stroke="#4163a2" stroke-width="2.23"/><polygon points="175,220 176,216 178,212 178,208 179,204 183,201 187,197 190,194 192,190 193,187 194,183 195,179 195,176 196,172 200,169 203,166 202,162 201,158 201,154 202,150 204,147 204,143 205,139 206,136 208,132 208,128 209,125 211,121 214,119 217,116 218,112 220,109 222,106 223,102 227,100 232,99 237,98 240,96 241,92 243,89 245,86 249,84 253,83 257,82 261,81 264,79 266,77 269,74 272,72 275,70 278,68 281,66 284,64 288,64 292,64 295,62 298,60 301,59 305,58 308,57 312,57 315,55 317,51 319,47 322,45 325,43 328,43 332,42 336,42 339,42 343,42 346,42 350,41 353,39 356,38 360,40 364,40 367,38 370,36 374,36 377,36 381,36 384,37 388,38 391,39 395,40 398,41 401,40 405,38 409,37 412,37 416,38 419,39 423,39 426,40 429,41 432,44 435,47 438,49 442,48 446,46 451,44 455,44 458,45 461,47 464,50 466,53 469,55 473,55 477,55 481,55 485,55 489,56 494,55 500,54 504,54 506,58 508,62 510,65 514,66 518,67 522,69 525,72 527,75 530,78 533,80 537,81 541,83 544,86 548,88 552,90 554,93 557,96 561,98 565,100 567,104 568,108 570,111 571,115 573,119 576,122 579,125 581,128 583,132 585,136 586,140 586,144 585,149 586,153 588,157 589,160 591,164 592,168 593,172 594,176 597,179 601,183 604,186 603,191 601,195 601,199 602,204 603,208 603,212 603,216 603,220 603,224 603,228 602,232 601,236 600,240 600,245 601,249 601,253 599,257 597,261 596,265 595,269 594,272 592,276 589,280 586,283 583,286 580,289 577,292 575,296 574,299 573,303 571,307 569,310 566,313 563,316 560,318 557,321 556,324 555,329 556,334 554,337 552,341 551,344 548,347 544,349 541,352 540,356 539,360 536,363 533,366 530,368 528,371 525,374 522,377 519,380 517,383 515,387 512,389 508,392 505,394 502,396 498,398 494,400 490,400 486,401 482,402 477,401 472,400 468,399 464,400 460,400 456,400 452,401 449,401 445,401 441,402 438,404 435,405 431,404 427,403 423,402 419,403 416,404 413,405 409,404 405,402 401,400 398,399 395,399 391,399 388,398 384,400 381,401 377,399 374,395 371,393 368,392 364,393 361,392 358,389 356,385 353,381 350,380 347,380 345,378 342,375 339,375 335,377 332,377 328,377 325,377 321,378 317,378 313,379 309,380 305,380 303,378 300,376 297,374 294,373 289,374 286,372 283,370 280,369 276,369 273,367 270,364 268,361 267,358 265,355 263,352 260,349 258,347 255,345 252,343 250,340 247,338 243,337 239,336 235,334 232,332 229,329 226,327 222,325 217,324 213,322 210,319 207,317 203,314 200,312 198,308 198,304 199,299 198,295 195,292 192,289 191,285 190,282 189,278 188,274 186,270 183,267 180,264 179,260 179,256 178,252 177,248 177,244 178,240 177,236 176,232 175,228 174,224" stroke="#4463a5" stroke-width="2.22"/><polygon points="171,220 173,216 175,212 176,208 179,204 183,201 186,197 187,193 188,190 189,186 189,182 190,178 191,175 193,171 197,168 198,165 198,161 198,157 198,153 199,149 199,145 199,141 201,137 203,134 204,131 204,126 205,122 207,119 211,117 215,115 218,112 222,110 224,107 225,103 228,100 232,99 236,98 239,95 241,92 243,89 246,86 250,85 253,83 255,80 259,79 263,78 266,76 269,74 271,71 275,70 278,68 279,64 282,62 286,62 291,62 294,61 297,59 301,59 305,59 308,58 311,55 313,53 316,50 319,47 322,46 325,45 329,43 332,42 335,40 339,40 343,41 346,40 349,38 352,36 356,36 360,37 363,38 367,36 370,35 374,36 377,36 381,36 384,37 388,37 391,39 395,40 398,41 402,39 405,37 409,35 413,35 416,36 419,38 423,39 426,39 429,41 432,44 435,48 438,49 442,49 446,47 450,45 455,44 458,44 461,46 464,48 467,51 470,52 474,54 477,55 481,55 485,55 489,56 494,56 499,55 504,54 507,57 509,61 511,64 515,66 519,67 523,68 525,71 528,74 531,77 536,77 540,78 542,82 544,86 547,89 551,90 555,93 558,95 562,97 566,100 568,103 571,106 574,109 576,113 577,117 578,121 580,124 583,128 585,131 586,135 586,140 586,144 588,148 591,151 593,155 594,159 595,163 596,167 597,171 598,175 600,179 604,182 608,186 607,190 606,195 607,199 608,203 607,207 606,212 606,216 606,220 607,224 608,228 608,233 607,237 605,241 604,245 605,249 604,254 601,257 599,261 599,265 597,269 596,273 595,277 592,281 588,284 585,287 584,291 582,294 580,298 578,301 575,304 573,307 570,310 568,314 566,317 564,320 562,324 559,327 557,330 556,334 557,339 555,343 553,346 550,349 547,351 543,354 541,357 540,362 539,366 536,369 532,370 529,373 528,377 526,381 522,383 518,385 514,387 510,388 507,390 504,393 502,396 499,399 495,401 491,402 487,402 482,402 477,400 472,398 467,398 464,399 460,400 456,400 453,401 449,402 445,401 441,402 438,403 434,404 431,405 427,405 424,405 420,406 416,406 413,405 409,404 405,402 402,401 398,401 395,401 391,401 388,401 384,402 381,402 377,399 374,396 371,395 368,394 364,393 361,391 359,388 356,386 353,385 350,384 347,383 344,381 341,378 338,377 334,379 331,379 328,379 324,379 321,379 317,379 314,378 310,378 307,378 303,377 299,377 296,375 293,374 290,373 287,371 283,371 279,370 276,369 273,366 271,364 269,361 266,358 265,355 264,351 261,349 258,347 254,346 251,344 248,342 245,340 241,338 238,336 235,334 231,333 227,331 224,329 220,327 215,325 211,323 207,321 204,318 201,316 198,312 198,308 198,304 197,300 195,296 192,293 189,290 187,287 187,283 185,279 184,275 183,271 182,268 179,264 178,260 177,256 175,252 173,249 174,244 175,240 174,236 172,232 170,228 170,224" stroke="#4862a7" stroke-width="2.22"/><polygon points="167,220 169,216 173,212 175,208 178,204 181,200 182,197 182,193 183,189 185,185 185,181 185,177 188,174 191,171 193,167 194,164 194,160 196,156 197,152 197,148 197,144 197,140 199,137 201,134 202,129 201,125 202,121 204,117 208,115 211,112 216,111 220,109 222,106 224,102 226,99 230,98 235,96 238,94 241,92 243,89 245,86 249,84 252,82 255,80 259,78 262,77 266,76 269,74 272,72 276,71 279,69 280,65 282,62 286,61 289,59 292,57 296,56 300,58 304,58 307,56 309,52 312,49 315,48 319,48 323,48 326,46 328,43 331,39 334,36 338,37 342,39 346,38 349,36 352,36 356,38 360,38 363,38 367,37 370,36 374,37 377,37 381,37 384,36 388,36 391,38 395,40 398,41 402,39 405,37 409,36 412,36 416,38 419,40 422,40 426,40 429,41 432,44 435,46 439,47 442,48 445,49 450,47 454,45 458,45 461,47 464,48 468,49 472,49 475,51 479,52 483,53 487,53 490,54 494,56 498,55 503,55 508,56 510,59 512,63 515,65 521,65 525,66 527,70 528,74 532,76 538,75 542,77 543,81 545,85 548,87 551,90 554,93 558,95 562,97 566,99 569,103 572,105 577,107 580,110 581,115 581,120 581,124 584,127 588,130 590,134 590,138 590,143 592,146 595,150 596,154 597,158 598,162 599,166 600,170 601,174 601,178 604,182 607,186 609,190 610,194 612,198 612,203 611,207 609,211 609,216 610,220 611,224 611,229 611,233 610,237 609,241 610,246 609,250 606,254 604,258 603,262 603,266 601,270 598,273 596,277 595,281 591,284 588,288 587,292 586,296 585,300 581,302 576,305 572,307 569,310 568,314 567,318 566,322 564,325 562,328 559,331 557,335 557,339 555,343 553,346 551,350 548,353 545,355 542,358 542,363 541,368 537,370 533,371 530,374 528,378 527,382 524,385 520,387 515,388 512,389 508,391 504,393 500,394 497,396 494,399 491,401 487,403 483,403 478,402 473,400 469,401 465,403 461,403 457,402 453,402 449,403 445,402 441,402 438,402 434,403 431,404 427,405 424,406 420,406 416,405 413,405 409,404 405,403 402,402 398,401 395,401 391,402 388,402 384,402 381,400 378,397 374,395 371,396 367,396 364,394 361,391 358,389 355,388 352,388 349,386 346,384 343,382 340,381 337,380 334,380 331,380 327,381 323,383 320,381 317,379 315,376 312,374 308,374 304,376 300,377 296,376 293,374 289,373 286,373 282,371 279,370 277,367 275,364 272,362 270,360 267,357 265,354 264,350 261,348 257,348 253,347 250,345 248,342 245,340 241,339 236,338 232,336 227,335 223,334 220,331 218,328 215,326 210,324 205,322 201,320 199,317 197,313 196,309 195,305 193,302 192,298 191,294 189,290 186,287 183,284 180,281 178,277 179,272 178,268 177,264 177,260 176,256 173,253 171,249 170,245 171,241 171,236 169,232 167,228 166,224" stroke="#4c62a9" stroke-width="2.21"/><polygon points="164,220 166,216 167,212 169,208 171,204 174,200 175,196 177,192 179,188 180,184 181,180 182,177 185,173 187,170 189,166 189,162 190,158 191,155 192,151 191,146 191,142 194,139 197,136 200,133 201,129 201,125 201,120 203,117 205,113 207,110 210,107 214,105 218,103 221,100 225,98 229,97 232,94 235,92 239,90 242,88 244,85 247,83 251,81 255,80 259,79 262,77 266,76 269,74 271,71 274,69 277,68 280,64 282,62 285,60 288,58 291,56 296,57 300,58 304,56 306,53 309,50 311,47 314,46 318,46 322,46 326,45 329,43 331,39 334,36 337,35 341,36 345,36 349,35 352,36 356,38 360,38 363,38 367,37 370,37 374,37 377,38 381,38 384,37 388,35 391,36 395,37 398,37 402,37 405,37 409,37 412,37 416,38 419,39 423,39 426,38 430,39 433,40 436,43 439,45 442,46 446,47 450,46 454,45 458,45 461,46 465,47 469,46 474,46 477,47 481,48 485,49 489,50 492,51 496,52 500,53 505,53 510,53 513,56 514,60 516,64 520,65 524,67 527,69 530,72 535,73 539,74 543,76 544,80 548,83 551,85 553,89 555,92 559,94 563,96 567,99 570,102 573,105 576,108 580,111 581,115 582,119 583,123 586,126 590,129 593,133 593,137 594,141 595,146 596,150 596,154 597,158 599,162 600,166 601,170 601,174 601,178 604,182 607,186 610,190 613,194 615,198 616,202 616,207 615,211 614,216 614,220 614,224 614,229 614,233 613,237 613,242 614,246 613,250 610,254 608,259 608,263 607,267 604,271 600,274 599,278 598,282 596,286 593,289 591,293 590,297 588,301 584,304 578,306 573,308 570,310 568,314 567,318 566,322 564,325 562,329 560,332 559,336 557,340 555,343 553,346 551,350 549,353 546,356 543,359 543,364 541,368 537,370 534,372 530,374 527,376 524,380 523,385 521,389 518,391 515,394 511,395 505,394 500,394 496,395 493,397 490,399 486,401 482,402 478,402 473,402 470,403 466,405 462,405 457,403 453,402 449,402 445,402 441,402 438,404 434,404 431,405 428,407 424,407 420,405 416,403 412,404 409,405 405,405 402,404 398,403 395,402 391,402 388,403 384,400 381,397 378,396 374,396 371,396 368,394 365,392 361,391 358,390 355,390 352,389 349,387 346,384 343,382 340,382 337,382 334,381 330,381 327,381 323,382 320,382 317,379 314,377 311,376 307,377 303,378 299,377 296,376 292,376 288,376 285,374 283,371 281,367 279,365 276,362 274,360 271,358 268,356 265,354 263,351 260,350 255,349 251,349 248,346 247,343 245,340 241,338 236,338 230,338 225,337 222,334 219,332 216,329 212,327 207,326 204,323 201,320 198,317 195,314 194,310 191,307 188,304 187,300 188,295 188,291 185,287 181,284 179,281 177,277 176,273 175,269 174,265 174,261 173,257 169,253 167,249 166,245 166,241 167,237 166,233 164,228 163,224" stroke="#4f61ab" stroke-width="2.21"/><polygon points="164,220 165,216 165,212 166,207 167,203 168,199 171,195 174,192 178,188 179,184 180,180 182,177 183,173 184,169 184,165 184,161 183,156 184,152 185,148 185,144 186,140 189,137 192,134 196,131 198,127 198,123 198,119 200,115 202,111 204,108 207,105 210,102 213,99 217,97 222,96 226,95 230,93 233,90 237,88 240,86 243,84 246,81 249,79 254,79 259,79 261,76 264,74 268,73 271,71 274,68 276,66 279,64 282,61 284,58 287,56 290,54 295,54 299,54 301,51 303,47 306,45 310,45 314,44 317,44 321,42 324,41 328,40 331,39 334,37 338,36 341,36 345,35 349,35 352,36 356,36 360,38 363,39 367,38 370,37 374,36 377,37 381,37 384,38 388,39 391,40 395,37 398,35 402,34 405,36 409,38 412,39 416,39 419,39 423,39 426,38 430,39 434,39 437,41 440,43 443,45 446,46 450,46 454,46 458,46 461,46 465,46 470,45 475,44 478,45 482,47 485,48 489,48 494,48 499,48 503,50 507,50 511,51 514,54 514,60 516,65 519,67 523,67 528,68 533,69 538,69 541,72 543,76 546,79 549,81 553,84 555,87 558,90 562,92 565,95 568,98 571,101 573,105 575,109 577,112 579,116 581,120 583,123 586,127 590,129 592,133 593,137 594,141 596,145 598,149 598,153 599,157 600,162 601,166 603,170 604,174 606,178 609,181 611,185 613,190 614,194 616,198 618,202 620,207 621,211 621,216 619,220 619,224 621,229 621,233 618,238 616,242 617,247 618,251 617,255 614,260 611,263 607,267 604,271 603,275 603,279 600,283 597,286 594,290 592,293 589,297 586,300 582,303 578,305 574,308 570,311 568,314 566,317 565,321 564,325 563,329 561,332 559,336 558,340 557,344 554,347 551,350 549,354 547,357 544,360 542,363 539,366 536,369 533,371 530,374 526,375 522,377 522,383 521,389 519,393 515,394 511,395 506,395 501,396 497,397 494,399 490,400 486,402 483,403 479,404 475,405 471,406 467,407 462,405 457,403 453,403 450,404 446,404 442,405 439,406 435,406 431,406 428,407 424,407 420,405 416,404 413,405 409,406 406,406 402,405 398,403 395,401 391,401 388,400 384,398 381,395 378,394 374,394 371,393 368,392 365,390 361,391 358,391 355,391 352,389 349,388 346,385 343,382 340,382 337,383 333,383 330,382 327,381 324,380 320,381 316,381 312,381 309,380 306,380 302,379 299,378 295,377 291,378 287,377 284,375 282,371 281,367 280,363 277,361 274,360 271,358 267,357 263,357 260,355 257,353 254,351 250,349 246,348 243,346 242,343 239,340 234,339 229,339 225,337 222,334 219,332 215,330 209,329 205,327 202,324 199,321 196,318 193,315 191,311 189,308 185,305 183,301 183,297 183,292 181,289 179,285 177,281 175,278 173,274 171,270 170,266 169,262 168,258 165,254 163,250 162,246 163,241 165,237 165,233 164,228 162,224" stroke="#5361ad" stroke-width="2.20"/><polygon points="164,220 165,216 165,212 165,207 165,203 167,199 169,195 174,192 177,188 178,184 176,180 177,176 179,172 181,168 181,164 179,159 178,155 180,151 182,147 183,143 183,139 184,135 187,131 190,128 192,125 193,120 193,116 195,112 198,109 203,107 206,104 208,101 211,98 215,96 220,95 226,94 232,94 236,92 238,89 240,86 242,83 244,79 247,77 251,76 255,75 259,73 263,72 267,72 270,70 272,66 274,63 276,60 279,57 282,54 285,52 289,52 292,50 296,49 299,46 300,42 304,40 308,41 312,41 316,40 319,38 322,35 326,35 330,36 334,36 337,35 341,34 345,34 348,35 352,35 356,37 360,39 364,40 367,38 370,37 374,37 377,37 381,38 384,39 388,41 391,41 395,37 398,34 402,33 405,35 409,38 412,38 416,37 419,38 423,38 426,39 429,41 433,41 437,41 441,41 444,42 447,44 450,46 454,46 457,47 461,48 465,48 469,46 474,45 478,46 481,48 485,48 490,47 495,46 500,46 504,47 508,48 511,51 513,55 514,61 515,65 519,66 525,66 531,66 535,66 538,69 540,73 542,77 545,79 549,81 553,83 556,86 559,89 563,92 566,94 570,97 573,100 574,104 574,109 576,113 579,116 581,120 583,123 586,126 591,129 595,132 596,136 597,140 598,144 601,148 603,152 602,157 602,161 604,165 607,169 610,172 611,177 612,181 612,185 613,190 615,194 617,198 620,202 624,206 628,211 628,215 626,220 627,225 627,229 626,234 622,238 620,242 622,247 623,252 622,256 618,260 615,264 611,268 609,272 609,276 607,280 603,284 597,286 594,290 592,294 589,297 584,299 582,303 579,306 576,309 572,312 570,315 570,319 569,323 568,327 564,330 561,333 559,336 558,340 557,344 556,348 554,352 552,355 548,358 545,361 542,364 540,367 537,370 534,372 531,375 526,376 523,378 522,383 521,389 519,392 515,394 511,395 507,397 504,399 500,401 495,401 491,402 487,403 484,406 481,408 476,408 472,408 467,407 462,405 458,404 454,405 451,407 447,408 443,409 440,409 435,408 431,406 427,405 424,405 420,405 416,404 412,404 409,404 405,405 402,405 398,404 395,402 391,401 388,399 384,397 381,396 378,395 374,394 371,394 368,394 364,393 361,391 358,390 355,390 351,391 348,391 345,390 342,388 339,386 336,384 333,384 330,383 327,381 324,380 320,381 316,382 311,383 307,384 303,385 300,384 297,382 293,381 289,381 286,380 283,377 281,374 280,369 278,365 275,364 271,363 268,361 266,359 263,357 259,356 256,354 253,352 249,351 245,350 242,348 239,345 236,343 232,341 227,340 223,339 219,336 217,333 213,331 208,329 205,327 202,324 197,322 192,320 188,317 187,313 186,309 182,306 180,302 180,298 180,293 178,290 176,286 174,282 171,279 167,275 165,271 165,267 164,263 162,259 160,255 160,250 162,246 163,241 165,237 164,233 163,228 163,224" stroke="#5660b0" stroke-width="2.20"/><polygon points="160,220 161,216 162,211 162,207 162,203 163,199 165,195 169,191 172,187 173,183 172,179 173,175 177,171 180,168 179,164 177,159 177,154 179,151 182,147 183,143 183,139 182,134 184,130 186,126 187,122 189,118 190,114 192,111 196,108 200,106 204,103 207,100 210,97 215,95 219,94 224,92 230,93 235,92 238,89 240,86 241,82 243,78 246,76 249,74 252,72 256,70 260,69 264,68 267,65 269,62 272,60 275,57 277,54 279,51 283,50 288,50 291,49 295,48 298,46 301,43 304,41 308,40 311,38 315,37 318,35 321,33 325,32 329,34 333,33 337,32 341,33 344,33 348,33 352,34 356,36 360,38 363,37 367,35 370,34 374,34 377,35 381,36 384,36 388,37 391,37 395,35 398,34 402,36 405,38 409,39 412,37 416,36 420,36 423,37 426,39 430,40 434,39 438,37 442,37 445,40 447,42 451,44 454,46 457,48 461,48 465,47 470,45 474,45 478,46 481,47 486,47 491,46 496,45 500,46 504,47 508,49 510,52 512,57 513,62 515,65 519,67 524,66 530,66 533,68 535,73 536,77 539,80 543,81 548,82 553,83 557,85 560,88 564,91 567,93 570,96 573,100 574,104 575,108 578,111 582,114 585,118 586,121 590,125 595,127 598,130 600,135 599,139 601,143 606,146 608,150 606,155 605,160 608,164 612,167 615,171 615,176 615,180 615,185 616,189 618,193 620,198 622,202 626,206 629,211 630,215 630,220 631,225 632,229 631,234 628,239 628,243 629,248 629,253 627,257 623,261 620,265 618,269 615,273 613,277 610,281 606,284 601,288 598,291 596,295 591,298 587,300 585,304 583,308 579,311 576,313 574,317 572,320 571,324 569,328 566,331 563,334 561,337 558,340 556,343 554,347 552,350 549,353 547,357 544,359 542,363 541,367 538,370 534,372 531,375 528,378 525,380 522,384 521,389 520,394 517,396 512,398 509,399 505,402 501,403 496,402 491,402 487,403 484,406 481,408 477,409 472,409 468,409 463,408 459,408 455,409 452,411 449,413 444,412 440,411 436,410 432,408 428,407 424,407 420,405 416,402 412,401 409,401 405,403 402,404 398,403 395,403 391,403 388,402 384,401 381,400 377,399 374,397 371,397 367,397 364,394 361,390 358,389 355,391 351,393 347,393 344,392 341,390 339,387 336,384 333,383 329,384 325,385 322,386 318,386 314,385 310,385 306,387 301,389 297,388 294,386 291,384 288,382 285,380 281,379 278,378 276,374 274,371 272,368 269,366 266,364 262,363 259,361 255,360 252,358 249,355 246,353 244,350 242,347 238,346 233,345 228,344 223,343 218,342 215,339 213,336 210,333 207,330 204,327 201,324 195,323 189,322 184,319 183,315 182,311 180,307 178,303 178,299 177,294 176,290 175,286 173,283 169,279 165,276 164,272 163,267 162,263 159,259 157,255 159,250 161,246 163,241 162,237 160,233 158,229 159,224" stroke="#5a60b2" stroke-width="2.20"/><polygon points="155,220 156,216 157,211 158,207 159,203 160,198 162,194 163,190 165,186 168,182 170,178 173,175 177,171 179,168 177,163 175,158 174,153 176,150 179,146 181,143 182,138 181,134 182,129 183,125 185,121 187,118 190,114 192,110 196,108 200,105 203,103 207,100 212,98 215,95 216,91 218,88 223,87 228,86 233,85 237,83 239,80 241,76 243,73 247,71 250,69 254,67 258,66 261,65 264,62 267,60 270,57 273,54 275,51 278,48 281,46 285,45 289,44 293,43 296,42 300,41 304,39 307,39 311,37 314,36 318,34 321,32 325,32 329,32 333,32 337,32 341,33 344,33 348,32 351,31 355,31 359,30 362,30 366,31 370,32 374,35 377,37 381,38 384,37 388,35 391,33 395,35 398,37 402,38 405,39 409,39 412,37 416,36 420,36 423,36 427,38 430,37 434,36 438,35 442,37 444,40 448,42 451,43 454,44 458,44 462,44 466,44 471,44 474,45 477,47 481,47 486,46 491,46 495,47 498,49 502,50 506,51 510,53 511,57 513,61 516,64 519,67 523,68 527,69 530,72 532,75 535,78 538,80 542,82 547,83 552,84 556,86 560,89 563,91 566,94 569,97 572,100 575,104 577,107 580,111 584,113 587,116 590,120 593,123 597,126 600,129 602,134 602,138 604,142 609,145 611,149 610,154 610,159 614,163 617,166 618,171 620,175 621,179 621,184 622,188 623,193 624,197 624,202 626,206 630,211 633,215 634,220 635,225 636,230 636,234 635,239 634,244 634,248 633,253 631,258 627,262 624,266 621,270 618,274 615,278 611,281 607,285 604,289 603,293 601,297 598,300 593,303 589,306 585,309 580,311 577,314 575,318 574,321 571,325 569,328 567,331 565,335 563,338 559,341 555,343 552,345 548,348 546,351 546,356 544,360 543,364 541,368 538,371 534,373 532,376 529,379 525,381 522,383 521,388 520,394 518,398 513,399 509,400 506,402 502,404 496,403 492,403 488,405 485,407 481,409 477,410 473,410 469,411 465,412 460,411 456,411 453,413 449,413 444,412 440,411 436,411 432,411 428,409 424,409 420,407 416,404 412,402 409,403 405,405 402,405 398,404 395,404 391,405 388,405 384,403 381,401 377,400 374,399 371,398 367,397 364,395 361,392 358,392 354,393 351,393 348,391 345,390 342,387 339,384 337,382 333,382 329,385 324,389 320,389 317,387 315,384 311,384 307,385 302,387 298,387 294,386 291,384 288,382 285,380 281,381 277,380 274,377 272,374 269,371 266,369 262,368 259,367 255,365 253,363 250,360 248,357 246,354 244,351 241,348 236,347 231,347 225,347 220,346 215,344 212,342 210,338 207,335 204,332 202,329 198,326 193,324 186,323 182,320 181,316 179,312 176,309 172,306 170,302 169,297 169,293 168,288 167,284 166,280 165,276 165,271 164,267 162,263 159,259 156,255 154,251 154,247 155,242 154,238 153,233 153,229 154,224" stroke="#5e60b4" stroke-width="2.19"/><polygon points="152,220 151,216 151,211 154,207 156,202 158,198 158,194 158,189 159,185 162,181 165,177 168,174 171,170 173,166 172,161 171,157 172,153 175,149 177,145 178,141 179,137 180,133 181,129 182,124 184,121 187,118 191,115 194,112 198,109 202,106 205,104 208,101 212,98 213,94 213,89 214,84 218,82 223,81 228,80 232,79 236,77 238,73 241,70 244,68 248,66 251,64 254,62 258,61 262,59 265,57 268,55 272,53 275,51 278,48 280,44 283,42 287,40 290,39 294,38 299,38 303,38 307,37 310,36 314,35 318,34 321,32 325,31 328,29 332,28 335,28 339,28 343,29 347,29 351,28 355,28 358,28 362,28 366,29 370,31 374,34 377,36 381,39 384,39 388,37 391,35 395,36 398,38 402,39 405,39 409,38 412,36 416,36 420,35 424,35 427,35 431,35 435,35 438,36 441,38 444,41 448,42 451,43 455,44 458,44 462,45 465,47 469,46 473,48 475,50 479,51 485,49 489,49 493,50 497,51 501,52 505,53 508,56 510,60 513,62 516,64 519,66 522,68 526,70 529,72 533,74 536,77 540,79 543,81 547,83 552,84 558,85 562,87 564,90 566,94 567,98 570,102 573,105 577,107 580,110 584,113 588,116 593,118 596,122 599,125 602,129 605,132 607,136 608,141 612,144 614,148 615,153 616,157 619,161 621,165 622,170 623,174 625,179 626,183 627,188 628,192 627,197 627,202 629,206 633,211 636,215 638,220 640,225 642,230 642,235 640,239 637,244 636,249 635,253 634,258 631,262 628,267 624,271 620,274 616,278 611,282 608,285 607,289 606,294 605,298 601,301 596,304 591,306 586,309 581,312 578,315 577,318 576,323 574,326 571,329 567,332 565,335 562,338 559,341 555,343 552,346 550,349 549,353 548,358 546,361 543,364 541,367 537,370 534,372 531,375 528,378 525,380 522,383 521,389 521,395 519,399 515,400 510,402 506,403 502,404 497,403 492,404 489,406 485,408 481,409 477,410 473,411 469,412 466,414 461,413 457,413 453,414 449,413 444,412 440,412 437,413 433,413 428,410 424,409 421,410 417,409 413,407 409,406 405,404 402,403 398,403 395,404 391,406 388,406 384,403 381,399 377,399 374,399 371,397 368,395 364,394 361,394 358,394 354,394 351,393 348,390 345,389 342,388 338,388 335,386 332,385 329,385 325,386 322,385 318,384 315,385 311,384 308,383 304,383 300,384 296,383 292,383 288,383 284,383 279,383 277,380 275,376 271,375 268,373 264,372 259,372 256,370 255,366 253,362 249,360 246,358 244,355 242,352 239,350 234,349 230,347 226,346 221,345 215,344 209,343 205,341 204,337 201,334 198,331 195,328 190,326 185,324 181,321 178,317 175,314 172,310 168,307 165,304 163,300 162,295 162,290 161,286 161,282 161,277 162,272 162,268 159,264 155,260 153,256 151,252 149,247 149,243 150,238 150,234 151,229 152,224" stroke="#6161b6" stroke-width="2.19"/><polygon points="151,220 150,215 149,211 151,207 153,202 156,198 156,194 155,189 156,185 158,181 158,176 158,172 160,167 163,164 165,160 167,156 171,153 175,149 176,145 176,140 177,136 180,133 180,128 181,124 184,121 186,117 190,114 195,112 199,110 201,106 203,102 206,99 208,96 210,92 212,88 214,85 218,82 222,81 227,79 231,77 233,74 235,70 238,67 241,65 244,62 246,59 250,57 254,55 257,53 261,51 265,50 269,49 273,48 276,45 280,44 284,43 287,41 291,39 294,38 298,37 302,37 306,36 310,36 314,35 317,33 320,31 324,29 328,28 332,28 335,27 339,27 343,28 347,28 351,27 355,27 358,28 362,28 366,30 370,31 374,33 377,35 381,37 384,39 388,38 391,35 395,34 398,34 402,36 405,38 409,38 412,37 416,36 420,34 424,33 427,34 431,35 434,36 438,36 442,37 445,38 448,40 452,41 455,42 459,43 461,46 465,47 469,47 472,48 475,51 479,52 483,52 487,52 492,52 496,52 500,53 503,55 506,58 509,61 512,63 516,64 519,67 522,69 526,71 530,72 534,74 537,76 541,78 544,80 547,83 553,84 559,84 563,86 565,90 566,94 566,99 569,102 574,104 579,106 584,108 587,112 590,115 594,118 598,121 601,124 604,128 607,131 609,136 611,140 614,143 618,147 619,152 619,156 621,161 624,165 625,169 626,174 627,178 631,182 634,187 633,192 631,197 632,201 635,206 639,210 641,215 642,220 643,225 645,230 645,235 643,240 640,244 638,249 638,254 638,259 636,263 632,268 627,271 622,275 618,279 614,282 612,286 611,291 609,295 607,299 603,302 598,305 594,308 590,311 586,313 582,316 579,319 578,324 576,327 572,330 568,332 564,334 562,338 561,342 558,345 556,349 554,352 552,356 550,360 548,363 545,366 542,368 538,370 534,373 531,376 528,378 525,380 523,384 523,391 523,397 520,400 516,402 511,403 506,403 501,403 497,404 493,405 489,406 485,408 480,407 475,406 472,408 469,411 465,412 461,413 457,413 453,413 448,411 444,411 440,411 436,411 432,411 428,409 424,408 421,409 417,410 413,409 409,406 405,403 402,401 398,401 395,403 391,405 388,405 384,402 381,399 378,398 374,397 371,396 368,394 365,392 361,391 358,393 354,394 351,393 348,391 345,390 341,390 338,391 334,391 331,389 328,387 325,385 322,385 318,386 313,387 310,387 307,385 304,382 301,381 297,381 292,382 288,382 284,381 281,381 278,378 275,376 272,374 269,372 264,372 258,373 255,371 255,366 252,363 248,362 244,361 242,357 240,354 236,353 232,351 229,348 227,345 223,343 216,343 209,344 204,342 200,339 197,337 193,334 190,331 187,327 184,324 181,321 176,318 170,316 166,313 165,309 163,304 161,300 159,296 157,292 155,288 153,284 153,279 154,274 155,269 152,265 150,261 149,256 148,252 146,247 146,243 147,238 149,234 151,229 152,224" stroke="#6561b8" stroke-width="2.18"/><polygon points="148,220 146,215 147,211 149,206 151,202 153,198 153,193 153,189 156,185 156,180 153,175 152,170 154,166 157,162 158,158 161,154 167,151 172,148 173,144 172,139 173,135 175,131 177,127 180,123 183,120 185,117 189,113 193,111 198,109 200,106 202,102 204,98 206,94 208,91 212,88 216,86 219,84 222,81 226,78 230,77 234,75 235,70 237,66 240,64 243,61 245,58 248,55 252,53 255,50 258,48 263,47 267,46 271,44 275,43 279,43 284,43 288,42 291,40 295,38 298,36 301,35 306,35 310,34 313,33 317,31 320,29 323,27 328,29 332,31 336,31 340,31 344,31 347,30 351,29 355,29 359,29 362,28 366,28 370,30 374,33 377,35 381,37 384,40 388,40 391,37 395,35 398,34 402,34 405,35 409,36 412,36 416,36 420,36 423,36 427,36 431,35 434,36 438,36 442,37 445,38 448,40 452,41 456,40 460,40 464,41 468,41 472,41 474,44 477,48 480,50 484,51 488,52 492,51 498,50 502,50 506,52 508,55 511,57 515,59 517,63 519,66 523,68 528,68 532,70 535,73 539,74 545,74 550,75 552,79 554,83 558,85 563,86 567,89 569,93 569,97 572,101 576,103 582,104 587,107 589,110 591,115 594,118 597,121 600,125 604,128 608,131 611,135 613,139 617,143 621,146 624,150 624,155 624,160 628,164 631,168 630,173 631,178 636,182 640,186 639,191 639,196 641,201 644,205 645,210 644,215 644,220 643,225 643,230 641,235 640,239 639,244 638,249 637,254 637,259 637,263 635,268 631,272 626,276 622,280 617,283 615,287 614,292 610,295 606,299 603,302 599,305 596,309 592,312 588,315 585,318 582,321 579,324 577,328 574,331 571,334 567,337 565,340 564,344 561,347 558,350 556,353 553,357 551,360 549,364 547,368 544,371 540,372 536,375 534,378 531,381 528,384 526,388 524,393 523,397 520,401 517,404 512,405 507,404 501,403 496,402 492,403 488,404 484,406 480,406 475,405 471,406 467,407 463,407 459,408 456,409 452,410 448,409 444,409 439,408 435,408 432,408 428,408 424,407 420,407 417,409 413,408 409,405 405,402 402,402 398,403 395,403 391,403 388,404 384,403 381,400 378,397 374,395 371,397 367,398 364,396 361,394 358,394 354,395 351,395 347,393 344,392 341,390 338,390 334,390 331,390 327,389 324,389 320,389 317,388 313,388 310,387 307,386 304,384 300,382 296,383 292,383 289,381 286,379 282,378 278,377 274,377 270,376 267,374 263,373 258,373 254,372 252,368 250,366 246,364 242,363 239,360 237,357 234,354 231,352 228,349 225,346 221,345 214,345 207,345 203,343 198,341 193,339 190,336 186,333 183,330 181,326 179,322 174,319 168,317 164,314 163,309 161,305 159,301 157,297 154,293 151,289 148,285 147,280 148,275 148,271 146,266 144,262 145,257 144,252 141,248 141,243 142,239 146,234 148,229 149,225" stroke="#6961ba" stroke-width="2.18"/><polygon points="144,220 144,215 145,211 146,206 147,202 149,197 150,193 152,189 155,185 155,180 152,175 151,170 154,166 157,162 157,158 160,154 165,150 168,147 168,142 167,137 168,133 171,129 174,126 178,122 181,119 183,115 185,112 189,109 193,106 198,104 201,101 203,97 205,93 207,90 210,87 215,85 218,83 221,80 224,77 229,76 233,74 237,72 239,69 242,66 245,64 247,60 249,55 250,51 253,48 258,47 262,46 266,44 269,42 273,41 278,41 284,43 289,44 293,43 296,41 298,36 301,33 305,34 309,34 313,32 316,30 320,29 324,28 328,29 332,31 336,32 340,30 344,30 347,29 351,28 355,29 359,30 362,30 366,30 370,31 373,33 377,35 381,37 384,39 388,37 391,35 395,34 398,35 402,34 406,33 409,33 413,34 416,35 420,37 423,38 427,37 431,36 435,35 439,35 442,35 446,37 449,38 453,38 457,38 461,37 466,36 470,37 473,38 476,42 478,46 481,48 485,49 488,50 493,50 498,49 503,49 506,51 509,54 512,56 516,57 519,60 521,64 525,66 530,66 534,68 537,70 541,73 547,73 553,72 557,75 559,79 561,82 565,84 570,86 572,90 573,95 575,98 579,101 583,104 587,106 591,109 593,113 596,117 600,120 603,123 605,127 609,131 613,134 617,138 620,142 624,145 626,149 626,154 626,159 630,163 634,167 635,172 637,177 641,181 645,185 644,190 644,195 647,200 649,205 649,210 648,215 646,220 643,225 642,230 641,235 639,239 637,244 636,249 635,253 636,258 636,263 634,268 630,272 626,276 623,280 619,284 617,288 616,292 611,296 606,299 603,302 601,306 597,309 592,312 588,314 585,318 582,321 581,325 579,329 577,333 575,336 573,340 570,343 567,346 562,348 559,351 557,355 556,359 553,362 550,365 549,369 547,374 543,376 539,378 537,382 535,386 533,389 529,392 526,395 523,397 519,400 516,403 512,404 506,403 500,401 494,400 491,401 488,404 484,406 480,406 475,406 471,407 467,406 462,405 458,406 455,408 451,409 447,409 443,408 439,406 435,406 431,406 427,406 424,407 421,409 417,410 413,408 409,405 405,403 402,403 398,402 395,401 391,402 388,406 384,406 381,403 377,399 374,396 371,397 367,398 364,398 360,399 357,399 353,399 350,399 347,397 344,395 340,394 337,393 334,390 332,387 328,389 323,392 318,393 315,392 312,390 309,389 305,389 301,388 298,387 295,385 292,383 289,381 286,380 282,379 277,379 273,379 269,378 265,377 262,374 258,374 254,373 251,370 247,368 244,367 240,365 237,362 235,359 233,355 230,353 227,350 224,348 219,346 214,345 208,344 203,343 197,342 192,339 189,336 185,334 181,331 179,327 177,323 174,319 170,316 166,313 163,309 160,306 157,302 155,298 151,294 146,290 142,286 141,282 141,277 140,272 137,268 137,263 138,258 139,253 137,249 136,244 137,239 139,234 142,229 144,225" stroke="#6d62bd" stroke-width="2.17"/><polygon points="140,220 140,215 141,211 143,206 144,202 147,197 151,193 153,189 155,184 154,180 152,175 152,170 154,166 158,162 161,159 165,155 166,151 165,146 165,141 166,137 168,133 171,129 173,125 175,121 177,117 179,113 183,110 187,108 192,106 198,104 202,102 204,98 205,94 207,90 211,87 215,86 219,84 222,81 225,78 228,75 232,73 236,72 240,70 243,67 245,64 248,60 248,55 250,50 253,47 257,45 260,44 265,42 269,41 272,39 278,40 284,44 290,46 293,45 296,41 298,36 300,32 304,30 308,30 312,29 315,28 320,28 324,29 328,28 331,27 336,29 340,29 344,29 347,29 351,27 355,27 359,29 362,30 366,29 370,30 373,31 377,33 381,35 384,34 388,31 391,29 395,32 398,33 402,32 406,31 410,31 413,32 416,34 420,36 423,38 426,39 430,38 434,36 439,34 443,34 446,34 450,34 454,35 458,36 462,36 466,36 470,37 473,39 475,43 478,45 482,46 486,47 489,49 493,49 498,49 502,50 506,52 509,54 513,56 516,58 520,59 524,61 528,62 532,64 536,66 539,68 542,71 546,73 551,74 555,76 559,79 563,81 568,82 572,85 573,90 575,94 579,96 584,98 588,101 592,104 595,107 597,111 601,114 606,117 610,120 611,125 613,129 618,132 623,135 626,140 627,144 628,149 629,154 630,158 633,163 636,167 637,172 639,176 644,180 647,185 647,190 646,195 648,200 649,205 650,210 652,215 652,220 649,225 648,230 648,235 647,240 643,245 640,249 639,254 638,259 636,263 633,268 630,272 626,276 624,280 622,284 618,288 615,292 611,296 607,299 605,303 602,307 599,310 593,312 589,315 587,319 587,323 585,327 581,330 579,334 577,338 576,342 573,346 570,348 565,350 561,352 560,357 559,361 555,364 551,366 550,371 550,376 547,379 543,381 540,385 538,389 535,392 530,393 526,394 522,397 518,398 514,399 510,402 506,403 501,402 495,401 490,401 487,403 484,406 480,407 477,410 474,412 469,412 464,410 460,410 456,410 451,409 447,409 443,407 439,406 435,406 431,407 428,407 424,409 421,411 417,412 413,409 409,405 405,404 402,404 398,403 395,403 391,404 388,406 384,407 381,404 377,400 374,398 371,397 367,398 364,399 360,400 356,401 353,400 350,398 347,397 343,397 340,396 337,394 334,390 332,387 327,390 322,395 317,397 313,397 310,395 307,394 303,393 299,392 296,391 293,388 290,386 288,383 284,381 280,381 276,381 272,380 268,379 265,377 262,375 258,374 253,373 249,372 245,370 242,368 239,366 236,363 234,360 230,358 226,356 223,354 220,351 217,348 213,346 208,344 202,343 195,343 191,340 188,337 184,334 180,331 177,328 174,324 172,320 170,316 168,312 167,308 164,304 159,301 153,298 147,295 142,292 139,287 139,282 139,277 137,273 134,269 134,264 134,259 134,254 135,249 134,244 132,239 132,235 134,230 138,225" stroke="#7162bf" stroke-width="2.17"/><polygon points="136,220 136,215 138,211 139,206 142,201 145,197 148,193 150,188 152,184 151,179 151,175 152,170 155,166 159,163 163,159 167,156 167,151 166,146 166,141 167,137 168,133 170,129 171,124 173,120 175,116 178,113 182,110 187,108 193,106 198,104 201,101 203,97 204,93 208,90 211,88 216,86 220,84 223,81 226,78 228,75 229,71 233,69 238,68 242,66 244,62 246,59 247,54 250,51 254,49 258,48 262,46 266,44 269,42 274,41 279,43 286,46 290,46 293,43 295,39 298,36 301,33 304,31 308,30 312,30 316,29 320,29 323,27 327,25 331,25 335,27 339,27 343,28 347,28 351,28 355,27 358,28 362,28 366,26 369,27 373,28 377,29 381,30 384,30 388,27 392,26 395,29 399,31 402,31 406,31 409,32 413,34 416,35 420,36 423,39 426,39 430,37 435,34 439,33 443,33 447,33 451,33 454,34 458,36 461,38 464,40 468,42 471,44 474,45 479,44 484,43 487,45 490,48 493,50 498,50 502,51 506,51 510,52 514,53 519,55 523,55 528,56 533,57 536,60 539,63 542,66 544,69 547,72 552,74 556,75 561,77 566,78 570,81 573,84 575,88 580,90 584,93 587,96 590,100 594,102 598,106 600,110 605,112 612,114 617,117 619,122 619,127 621,131 626,134 629,139 630,143 631,148 631,153 630,158 632,163 636,167 639,171 641,176 646,180 650,185 649,190 647,195 647,200 648,205 650,210 652,215 655,220 656,225 655,230 654,235 653,240 651,245 649,250 648,255 644,260 639,264 637,268 635,273 631,277 628,281 625,285 624,290 620,294 615,297 611,300 608,304 605,308 601,311 596,313 593,317 592,321 591,325 587,328 582,331 578,334 576,337 575,342 575,346 572,349 567,351 563,354 562,359 561,363 558,366 554,369 552,372 550,377 548,381 545,384 542,387 539,390 536,393 530,392 524,392 520,393 517,396 514,399 511,403 508,406 504,407 498,406 492,404 488,404 484,406 481,410 479,414 476,416 471,415 466,414 461,412 456,410 452,410 448,411 444,411 439,409 435,408 432,408 428,409 425,411 421,412 418,413 413,411 409,407 406,406 402,407 398,407 395,406 391,406 388,406 384,405 381,403 377,402 374,401 370,401 367,401 364,401 360,401 356,401 353,399 350,396 347,397 343,396 340,395 337,393 334,391 330,391 326,395 321,397 317,396 314,396 309,397 305,396 302,395 299,393 296,391 293,389 289,388 285,387 282,385 279,383 274,383 270,383 266,382 263,379 260,377 256,376 252,374 249,372 246,370 242,368 238,366 235,364 230,363 226,362 222,359 220,356 217,353 215,349 212,346 207,345 200,345 192,344 189,341 186,338 182,335 179,332 176,328 173,325 170,321 166,318 163,314 163,309 163,304 159,301 153,298 148,295 144,291 140,287 137,283 135,278 132,274 131,269 132,264 132,259 131,254 132,249 133,244 131,239 130,235 132,230 135,225" stroke="#7462c1" stroke-width="2.16"/><polygon points="132,220 132,215 135,210 138,206 141,201 143,197 143,192 143,187 144,183 146,178 149,174 153,171 156,166 158,162 162,159 165,155 166,151 164,146 164,141 166,137 167,132 169,128 172,125 174,121 175,116 176,112 181,109 187,107 192,105 196,103 198,99 201,96 204,93 207,90 210,87 214,85 218,82 221,80 224,77 226,73 228,69 232,67 237,66 241,65 244,62 246,59 248,55 251,52 256,51 261,51 265,50 269,48 272,47 276,45 280,44 284,43 287,41 290,38 293,36 297,34 301,33 305,32 308,31 312,31 316,31 320,29 323,27 327,26 331,26 335,27 339,28 343,28 347,29 351,28 354,27 358,26 362,26 366,25 369,25 373,25 377,26 381,28 384,28 388,28 391,28 395,30 399,32 402,33 406,33 409,34 413,33 417,33 420,34 423,36 427,37 431,35 435,33 439,32 443,33 447,33 450,34 454,35 457,37 460,40 463,43 466,44 470,45 474,44 480,43 484,42 488,44 490,48 493,51 496,53 501,52 506,51 512,50 516,51 520,53 524,54 530,54 534,55 537,59 539,63 541,66 544,69 549,71 554,72 560,72 565,73 569,76 572,80 574,83 578,86 582,89 584,92 587,96 590,100 594,103 598,105 602,109 608,111 614,113 618,117 620,121 620,126 622,131 625,135 630,138 634,142 636,147 634,152 631,158 632,163 636,167 640,171 644,175 649,180 652,184 650,190 648,195 648,200 650,205 651,210 654,215 658,220 661,225 660,230 658,236 655,241 652,245 651,250 650,255 646,260 642,264 640,269 639,274 636,278 631,282 628,286 626,291 625,295 621,299 616,302 612,305 608,309 605,312 601,316 598,319 596,323 592,326 588,329 584,332 579,334 576,337 575,342 574,346 572,349 568,353 566,356 566,361 564,365 561,369 557,371 553,373 551,378 550,382 548,386 544,389 540,392 536,393 531,393 525,393 520,393 516,396 514,399 511,403 508,405 504,407 500,409 495,408 490,408 486,409 483,413 481,418 477,420 473,421 468,420 463,417 457,414 452,412 448,412 444,411 440,410 435,408 431,407 428,408 424,408 420,409 417,410 413,411 410,410 406,409 402,408 398,406 395,405 391,405 388,406 384,407 381,406 377,405 374,405 370,404 367,403 363,402 360,402 357,400 354,396 350,396 347,397 343,396 340,394 337,393 333,393 329,395 325,398 321,398 317,396 314,395 309,396 305,398 301,397 298,396 294,394 291,392 287,391 284,390 280,388 276,387 272,387 267,387 264,384 261,382 258,380 254,378 251,376 247,374 244,372 241,369 238,367 235,364 231,362 226,361 222,359 218,357 214,355 211,352 209,348 205,347 198,346 192,345 190,341 187,338 183,335 180,331 177,328 173,324 169,322 163,319 160,316 159,311 158,306 155,302 151,299 147,295 145,291 142,287 137,283 131,279 128,275 126,270 127,265 128,260 128,255 130,249 131,244 131,239 131,235 132,230 132,225" stroke="#7863c3" stroke-width="2.16"/><polygon points="124,220 127,215 133,210 138,206 141,201 142,197 141,192 139,187 140,182 143,178 148,174 150,170 151,165 153,161 157,157 161,154 162,150 162,145 163,140 166,137 167,132 168,128 171,124 173,120 174,116 176,112 180,109 185,107 190,104 193,101 195,98 198,94 202,92 207,90 212,88 216,86 219,83 220,79 222,75 225,72 228,70 233,68 236,66 239,63 242,60 247,59 250,57 253,54 257,53 262,53 266,52 270,51 274,49 277,46 279,43 282,40 286,39 290,39 295,39 299,38 301,34 304,30 308,29 312,31 317,32 320,31 324,28 328,28 332,28 336,28 340,29 344,30 347,30 351,27 354,25 358,25 362,26 366,26 369,26 373,27 377,29 381,30 384,29 388,28 391,29 395,31 399,30 402,31 406,33 409,34 413,34 417,33 420,33 424,35 427,37 431,37 435,35 439,34 443,33 447,32 451,34 454,35 458,35 461,37 464,40 468,41 473,39 477,39 481,40 485,42 488,43 492,44 494,48 496,52 501,52 507,50 513,49 516,51 518,55 522,57 526,59 529,61 533,63 536,65 540,68 545,68 550,69 555,71 560,72 565,74 568,77 571,80 574,83 578,86 580,90 582,94 585,97 590,100 596,101 601,104 605,107 609,110 613,114 616,118 618,122 619,127 621,131 624,135 630,138 636,142 638,146 636,152 634,157 637,162 642,166 645,170 647,175 650,180 651,184 650,190 649,195 649,200 651,205 654,210 656,215 659,220 661,225 660,230 658,236 655,241 652,245 650,250 649,255 646,260 643,264 642,269 641,274 637,278 631,282 627,286 626,291 626,295 624,300 621,304 618,308 614,311 610,315 605,318 600,320 596,323 593,327 592,331 590,335 587,338 582,341 579,344 578,349 576,352 572,355 569,358 567,363 565,367 563,370 560,374 557,377 554,380 552,384 548,387 545,389 540,391 537,394 533,396 528,397 523,398 518,398 514,400 511,403 508,405 504,408 500,409 495,409 490,409 487,411 484,415 481,417 477,418 472,419 468,420 464,420 459,418 454,416 449,414 444,412 440,410 436,409 432,408 428,408 424,408 421,409 417,410 413,410 410,410 406,408 402,404 398,403 395,405 391,406 388,407 384,408 381,409 377,407 374,405 370,404 367,403 363,403 360,403 357,400 354,396 350,397 346,398 343,398 340,396 336,396 332,397 328,399 324,400 320,399 317,396 314,395 309,397 304,399 300,399 297,397 294,394 291,393 286,392 282,392 278,392 274,391 269,390 266,389 263,386 260,383 256,382 251,381 247,380 245,377 243,372 242,368 239,365 235,364 230,363 225,362 221,360 217,358 212,356 208,355 205,352 200,350 195,348 191,345 190,340 188,337 184,334 180,331 175,329 170,326 164,324 159,321 157,317 156,312 153,308 150,304 147,300 143,296 141,292 140,287 135,283 129,280 126,275 124,271 122,266 121,261 121,255 125,250 130,244 131,239 129,235 127,230 126,225" stroke="#7c63c5" stroke-width="2.15"/><polygon points="121,220 125,215 131,210 136,206 136,201 137,196 139,192 141,187 142,183 143,178 146,174 148,169 149,165 150,160 155,157 159,153 161,149 162,145 163,140 165,137 166,132 165,127 167,122 171,119 174,116 177,112 181,109 186,107 189,104 190,99 190,94 193,90 198,89 205,88 210,87 213,84 215,80 217,77 220,73 223,71 227,69 232,67 235,65 237,60 239,57 244,56 249,56 253,54 256,52 261,51 266,52 271,52 275,51 277,48 280,44 283,41 287,40 292,41 297,42 299,40 301,33 303,29 308,30 313,34 319,37 323,37 326,35 329,33 332,31 336,29 339,28 343,28 347,27 351,27 355,28 359,29 362,29 366,30 370,30 373,29 377,30 381,30 384,28 388,27 391,29 395,31 399,30 402,30 406,32 409,33 413,33 417,33 420,32 424,33 427,35 430,37 434,37 439,35 443,31 448,30 451,33 453,36 458,36 462,35 466,37 469,37 474,37 478,37 481,39 485,42 488,43 492,44 495,47 498,50 502,50 507,50 510,52 513,55 516,58 520,60 522,63 526,65 531,65 536,65 540,67 546,67 552,68 555,71 557,75 560,77 565,79 570,81 576,82 578,86 580,90 582,94 585,97 590,100 597,101 604,103 608,105 612,109 615,113 616,117 617,122 619,127 623,130 627,134 630,138 633,142 635,147 637,151 638,156 640,161 644,165 647,170 650,174 650,179 650,185 650,190 650,195 651,200 655,205 657,210 658,215 658,220 659,225 661,230 660,236 657,241 656,246 655,251 654,256 649,260 645,265 645,270 643,275 640,279 635,283 631,287 629,291 627,296 624,300 622,304 620,309 618,313 613,316 608,319 602,321 597,324 594,327 594,332 594,337 592,342 588,345 585,348 583,352 580,355 575,357 571,360 568,363 566,367 565,373 564,377 561,381 558,384 553,385 549,387 545,390 542,393 538,396 535,398 530,400 525,401 521,402 517,404 513,406 509,407 504,408 500,409 496,410 491,410 487,412 484,414 480,415 475,416 471,416 467,417 463,417 458,417 454,416 449,415 445,414 441,413 436,410 432,410 429,412 425,412 421,411 417,410 413,409 409,407 405,404 402,402 398,404 395,406 391,406 388,407 384,408 381,408 377,408 374,405 370,404 367,403 363,402 360,402 356,402 353,400 350,400 346,400 343,398 340,395 336,396 332,397 328,398 324,400 319,401 316,399 313,397 309,398 304,399 300,399 297,397 294,395 290,394 285,395 280,395 276,395 271,395 268,393 265,390 263,386 260,383 255,383 250,383 246,382 243,378 242,374 240,371 236,368 233,366 228,365 222,365 217,364 213,362 209,359 207,355 205,351 202,349 196,347 191,345 189,341 187,337 184,334 179,332 173,330 167,328 162,325 157,322 154,318 151,314 146,311 143,307 141,302 138,298 135,294 133,289 131,285 128,280 127,275 125,270 122,266 118,261 116,256 119,251 125,245 125,240 123,235 121,230 121,225" stroke="#8063c7" stroke-width="2.15"/><polygon points="118,220 121,215 125,210 128,205 130,200 132,196 135,191 138,187 140,182 141,178 143,173 145,169 146,164 147,160 150,156 153,152 156,148 158,143 159,139 160,134 160,129 159,124 161,120 165,117 171,114 176,112 178,108 182,105 185,101 187,98 190,94 193,91 198,89 204,88 209,86 212,83 213,79 216,75 220,73 223,70 225,67 229,64 233,62 235,58 237,55 241,52 246,52 250,51 254,48 259,48 264,49 269,49 274,49 277,48 281,45 284,43 288,42 292,42 295,40 298,36 300,32 304,30 309,32 314,35 319,37 323,39 327,39 330,36 333,33 336,29 339,27 343,25 347,25 351,28 355,30 359,31 363,32 366,31 370,29 373,26 377,27 381,28 384,28 388,28 391,31 395,32 399,31 402,30 406,29 410,28 414,27 417,28 421,29 425,30 428,33 431,36 434,37 438,36 443,34 447,31 451,32 454,36 457,38 461,39 465,38 469,37 474,37 478,37 482,39 485,41 488,44 491,47 494,49 498,50 502,51 505,53 508,55 512,56 518,56 523,56 525,60 527,64 531,65 535,67 539,69 545,68 552,68 554,71 554,77 558,80 564,80 571,80 578,81 581,84 582,88 585,92 588,95 592,99 597,101 605,102 613,103 617,106 617,112 616,118 617,122 620,126 625,129 630,133 632,137 632,143 635,147 639,151 642,155 641,161 641,166 644,170 648,175 650,179 651,184 652,189 653,195 655,199 658,204 660,210 661,215 660,220 661,225 663,231 661,236 659,241 657,246 656,251 655,256 651,261 648,265 646,270 645,275 642,280 639,284 635,288 631,292 629,296 626,301 623,304 620,308 618,313 614,316 609,319 605,322 602,326 599,330 597,334 595,338 593,342 590,346 587,349 585,353 583,357 579,360 574,362 570,365 568,369 568,375 567,380 564,383 559,385 553,386 548,387 544,389 541,392 538,395 534,398 531,401 528,404 524,407 519,407 514,407 508,406 503,407 500,409 496,411 492,412 487,412 482,411 478,412 474,413 470,414 466,414 462,416 458,416 454,416 449,415 445,415 441,414 437,413 433,415 430,416 425,414 421,410 417,408 413,408 409,407 405,405 402,405 398,406 395,406 391,405 388,405 384,407 381,409 377,410 374,407 370,405 367,403 364,401 360,400 356,401 353,401 350,399 346,398 343,397 340,396 336,397 332,399 328,398 324,399 319,402 315,403 311,402 308,399 305,397 301,397 297,398 293,396 290,394 285,395 280,396 276,395 272,394 268,393 264,392 261,389 258,386 255,384 251,383 247,381 243,379 240,376 235,375 231,373 229,370 226,367 219,367 212,368 208,365 207,361 207,356 205,351 201,349 196,347 190,346 185,344 181,341 178,338 175,334 170,331 166,328 161,325 156,323 151,320 147,316 144,312 141,308 138,303 134,299 130,295 127,291 126,286 126,280 125,275 123,271 121,266 117,261 115,256 117,251 119,245 118,240 115,235 115,230 116,225" stroke="#8463c9" stroke-width="2.14"/><polygon points="111,220 112,215 116,210 122,205 126,200 130,196 132,191 133,186 135,182 137,177 139,172 140,168 140,163 141,158 143,154 145,149 147,145 149,140 148,135 149,130 151,126 154,122 157,118 160,114 166,112 172,110 175,106 178,102 182,100 187,97 193,96 197,93 200,90 203,87 205,83 208,80 211,77 215,74 219,73 222,70 224,65 227,62 230,60 234,58 238,56 242,53 245,51 248,48 252,46 257,46 263,47 267,46 272,47 277,47 281,46 285,44 289,44 293,43 295,39 297,35 301,33 305,33 310,34 314,35 318,36 322,36 326,35 330,35 333,34 337,32 340,30 343,27 347,26 351,27 355,30 359,31 362,29 366,27 369,23 373,21 377,23 381,28 384,30 388,31 391,32 395,30 399,30 402,29 406,26 410,23 414,23 418,25 421,28 425,30 428,32 431,33 435,33 439,34 442,36 446,36 450,35 454,35 457,37 461,38 465,38 469,38 474,37 478,37 482,38 485,41 487,45 489,49 493,50 498,49 502,50 506,51 510,52 515,52 521,52 525,53 527,57 529,61 531,65 533,68 538,69 545,68 551,69 553,73 554,77 559,79 566,78 573,79 578,81 582,83 586,86 590,89 594,92 596,96 600,99 606,101 612,103 616,107 616,112 615,118 617,122 621,126 626,129 631,133 634,137 634,142 636,147 640,151 643,155 642,160 641,166 644,170 647,175 649,180 650,185 653,189 656,194 658,199 661,204 663,209 663,215 663,220 665,225 666,231 664,236 663,241 660,246 656,251 653,256 651,261 649,265 648,270 646,275 645,280 644,285 641,290 636,293 632,297 630,302 626,306 622,309 619,313 614,316 610,320 608,324 606,328 604,332 601,336 598,340 593,342 589,345 587,349 585,354 582,357 578,359 573,361 569,364 568,369 568,374 566,379 563,382 558,384 553,386 547,386 542,387 538,388 535,392 533,397 531,401 529,405 525,407 518,406 512,404 507,405 503,406 498,407 495,408 491,410 486,410 481,409 478,411 475,415 471,417 467,417 463,417 458,417 454,417 450,417 446,416 441,415 437,415 434,416 430,417 426,415 421,412 417,410 413,409 410,410 406,411 402,410 399,408 395,405 391,403 388,404 384,406 381,409 377,410 373,407 370,404 367,402 364,399 361,397 357,398 353,398 350,398 346,399 342,400 339,399 336,398 331,399 328,400 324,400 319,401 315,403 311,402 309,398 307,394 303,394 298,395 294,395 291,392 286,393 280,395 276,395 272,394 267,394 262,394 259,392 256,388 253,385 250,384 246,381 243,379 238,378 231,379 224,380 222,376 222,371 219,368 213,367 209,365 208,360 206,356 203,353 199,351 196,348 191,345 185,344 178,343 172,341 170,337 167,333 163,330 159,326 153,324 148,321 143,317 139,313 136,309 134,305 130,301 125,297 122,292 122,287 122,281 121,276 118,272 115,267 114,262 114,256 116,251 116,246 114,241 110,236 110,231 111,225" stroke="#8864cc" stroke-width="2.14"/><polygon points="105,220 105,215 109,209 117,205 122,200 124,195 124,190 126,185 129,181 132,176 134,171 135,167 136,162 139,158 143,154 145,149 146,144 144,139 141,133 141,127 145,124 151,121 154,117 156,112 160,109 166,106 171,104 175,101 180,99 186,97 191,95 194,91 197,88 199,84 201,80 203,76 207,74 211,72 216,70 220,68 224,65 227,62 231,61 236,60 240,58 243,55 247,53 251,51 254,49 258,48 262,46 266,45 271,45 276,46 281,46 284,44 289,44 293,43 295,40 298,36 302,35 306,36 310,36 314,34 317,33 321,31 324,30 329,32 334,35 337,34 340,31 343,29 347,25 350,24 354,26 358,28 362,27 366,26 369,23 373,21 377,23 380,27 384,30 388,29 392,27 395,26 399,26 403,26 407,24 411,22 414,23 418,25 421,28 425,30 428,30 432,30 436,31 439,34 441,39 444,42 448,40 453,39 457,39 460,39 465,38 470,37 474,37 478,37 482,38 485,41 487,45 490,47 494,48 498,49 501,52 505,52 511,51 517,51 520,52 523,55 526,59 529,61 532,64 536,66 541,66 547,67 552,68 556,70 559,73 563,75 569,76 573,78 578,81 583,82 589,84 594,86 598,90 600,94 603,98 606,101 611,104 614,108 615,113 617,117 621,121 624,125 626,129 630,133 633,137 635,142 636,147 638,151 640,156 641,161 641,166 645,170 650,174 653,179 655,184 656,189 656,194 657,199 661,204 665,209 666,215 667,220 669,225 670,231 668,236 666,241 665,247 663,252 660,257 657,262 653,266 651,271 650,276 648,281 648,286 647,291 643,295 637,299 634,303 631,307 628,311 623,315 617,318 614,321 611,325 607,329 605,333 604,338 600,341 593,342 589,345 588,350 585,354 581,356 576,358 572,361 570,365 568,369 567,374 565,379 563,382 559,385 554,387 549,388 544,389 539,390 536,393 533,397 531,400 527,403 521,403 515,401 510,401 507,404 503,406 498,406 494,406 489,407 485,408 481,409 478,412 476,416 473,420 468,419 463,417 458,416 453,415 449,414 445,414 441,413 437,413 433,415 430,417 426,417 422,416 418,416 414,416 410,414 406,413 403,413 399,410 395,407 391,405 388,405 384,405 381,405 377,407 374,407 370,406 366,406 363,404 360,402 356,402 353,401 350,400 346,401 342,401 339,398 336,398 331,400 327,401 324,400 320,400 316,400 313,399 310,396 306,394 302,395 298,395 294,395 290,394 285,394 280,396 275,397 271,395 267,394 263,393 259,391 256,389 252,388 247,387 243,385 241,381 237,380 229,381 222,382 219,379 219,373 219,368 216,364 214,361 212,357 208,355 202,353 198,351 196,347 193,344 186,343 177,343 171,342 167,338 164,334 161,330 157,327 151,325 146,322 140,318 134,315 130,311 126,307 122,303 118,299 118,293 118,288 118,282 115,278 112,273 110,268 109,263 110,257 111,252 111,246 110,241 108,236 108,231 108,225" stroke="#8b64ce" stroke-width="2.13"/><polygon points="103,220 103,215 104,209 107,204 110,199 112,194 113,189 117,184 122,180 126,175 129,170 131,166 134,161 138,157 144,154 146,150 144,144 141,138 139,132 139,127 142,122 147,119 150,115 153,111 158,108 162,105 167,102 172,99 177,97 183,95 188,93 190,89 194,86 198,83 201,80 204,77 208,74 211,71 214,68 218,66 221,63 225,60 231,61 237,61 241,59 244,56 249,56 254,56 257,53 260,50 263,47 266,45 271,45 277,47 282,47 285,45 289,44 293,45 296,42 299,39 302,37 306,36 310,35 313,33 317,33 321,33 325,33 329,34 333,33 336,29 339,25 343,25 346,24 350,25 355,28 359,30 362,29 366,26 369,24 373,23 377,25 381,28 384,28 388,26 392,25 395,24 399,24 403,24 407,25 410,26 414,27 417,27 421,26 425,27 428,29 432,29 436,30 439,34 441,38 445,39 449,37 453,37 456,39 460,40 465,38 470,37 473,38 477,39 481,41 484,42 487,45 491,46 494,48 497,51 500,53 505,53 511,52 516,52 519,54 523,56 527,58 530,60 533,63 538,64 544,64 549,64 554,66 559,67 562,71 565,74 569,76 572,79 576,82 583,83 588,84 593,87 596,90 599,94 601,98 606,101 611,104 615,107 618,111 622,115 625,119 626,124 627,129 629,133 631,138 634,142 637,146 640,151 642,155 643,160 644,165 647,170 654,174 659,178 661,183 661,188 659,194 659,199 663,204 666,209 668,215 671,220 674,225 674,231 672,236 669,242 668,247 669,252 668,258 665,263 658,267 653,272 650,276 648,281 648,286 648,292 645,296 639,300 636,304 634,308 631,313 625,316 618,318 612,321 608,324 604,327 603,332 602,337 597,339 591,341 588,345 588,350 586,354 581,356 576,358 573,361 572,366 570,370 567,374 564,377 560,380 556,382 552,384 549,388 546,391 542,393 536,393 532,395 529,398 524,399 519,399 514,400 510,402 507,404 502,405 497,403 492,404 488,405 485,407 482,410 478,411 475,414 471,416 466,415 462,414 457,414 452,412 448,410 444,410 440,410 436,410 432,411 429,412 425,412 421,413 418,416 415,419 410,417 406,413 402,411 399,409 395,409 391,410 388,410 384,409 381,407 377,407 373,408 370,409 366,409 363,408 359,406 356,406 352,406 348,406 345,404 342,403 339,400 335,399 331,400 328,400 324,398 321,397 317,398 313,397 310,395 306,395 302,396 297,397 292,398 288,398 283,399 276,402 271,403 268,400 265,397 261,395 258,393 254,391 249,391 243,391 240,389 239,384 236,380 231,379 225,379 221,378 218,374 218,369 217,363 216,359 213,356 209,354 202,354 196,352 192,350 187,348 181,346 175,344 171,341 168,338 163,335 157,332 151,330 146,327 141,323 138,319 133,316 129,312 123,308 117,305 114,300 114,294 115,288 115,283 113,278 108,273 106,268 105,263 105,258 105,252 107,247 105,241 103,236 103,231 104,225" stroke="#9064cf" stroke-width="2.13"/><polygon points="98,220 99,215 99,209 98,204 101,198 106,193 109,188 110,183 113,178 118,174 123,169 127,165 131,161 136,157 140,153 140,148 137,142 135,136 136,131 138,126 141,122 145,118 149,114 152,111 157,107 160,103 163,99 167,96 173,94 181,94 186,91 190,89 195,86 199,84 203,81 206,79 210,76 212,72 214,68 215,63 218,59 223,59 231,61 238,62 243,61 246,58 251,58 257,59 261,58 264,55 266,52 270,50 273,48 278,48 282,48 286,47 291,47 295,47 297,44 300,40 302,37 305,34 309,32 313,31 317,32 321,33 325,32 329,31 332,30 336,29 339,27 343,27 347,29 352,32 356,34 359,34 362,31 366,27 369,26 373,26 377,27 380,27 384,25 388,24 392,26 395,28 399,28 403,27 406,27 410,27 414,28 418,26 421,26 424,30 427,34 431,33 435,32 438,35 442,37 446,35 450,34 454,36 456,39 460,39 465,39 468,40 471,42 476,42 480,42 484,43 487,45 491,46 494,49 495,53 499,55 503,55 508,56 512,56 517,56 522,57 526,59 530,60 534,62 538,63 544,64 549,65 554,66 559,68 563,70 566,72 571,75 573,78 577,81 584,82 590,83 594,87 597,90 600,94 602,98 605,102 611,104 616,107 621,110 625,114 628,118 629,123 630,128 631,132 633,137 634,142 638,146 641,150 644,155 648,159 652,164 653,169 656,173 661,178 665,183 666,188 665,193 664,199 666,204 669,209 673,215 677,220 678,226 677,231 675,237 673,242 673,247 675,253 675,259 671,264 665,268 661,273 658,278 653,282 649,286 647,291 645,296 641,300 637,304 635,309 630,312 623,315 615,317 609,319 605,322 602,326 602,331 600,336 596,339 591,341 589,345 589,350 586,354 580,355 574,357 571,360 569,364 567,368 564,371 560,374 558,377 555,381 551,383 548,387 546,391 542,394 537,394 532,395 529,398 524,400 520,401 518,405 514,407 508,405 502,404 496,402 491,402 488,405 485,408 482,410 477,409 473,410 469,411 464,410 460,410 456,411 452,411 447,409 444,409 440,409 436,408 431,407 427,406 424,407 421,410 418,414 414,416 410,415 406,412 402,409 399,408 395,409 391,411 388,411 384,409 381,408 377,409 373,409 370,408 366,406 363,405 359,405 356,406 352,407 348,406 345,405 341,406 338,404 335,399 332,398 328,400 324,400 320,399 315,402 311,402 308,400 305,398 301,397 297,397 291,399 286,401 281,402 275,403 269,406 265,405 263,400 261,396 257,395 252,394 248,393 243,391 239,389 237,385 235,381 231,380 226,379 221,377 217,375 213,373 211,369 210,364 208,360 206,356 201,354 195,353 189,352 183,351 177,349 172,346 169,343 166,339 161,336 154,334 147,332 143,328 139,324 135,321 130,317 125,313 120,309 117,305 114,300 113,294 114,289 114,283 113,278 110,273 108,268 106,263 103,258 103,252 104,247 101,242 97,237 96,231 96,226" stroke="#9464d0" stroke-width="2.12"/><polygon points="92,220 94,214 95,209 96,203 99,198 102,193 104,188 105,182 109,178 116,173 121,169 124,164 130,160 134,156 133,151 131,145 131,140 132,135 134,130 136,125 139,121 143,117 146,113 149,109 153,105 157,102 161,99 166,96 171,93 178,92 183,90 188,88 194,86 198,83 201,80 206,78 209,75 211,71 213,67 215,63 219,61 224,60 232,61 239,63 245,63 249,62 253,61 257,60 261,58 264,56 268,54 271,52 274,50 278,48 282,47 286,48 291,47 294,45 296,42 299,40 303,38 306,35 308,31 311,27 315,27 320,28 324,29 328,30 333,32 337,32 340,30 343,29 348,32 352,35 356,34 359,31 362,26 365,23 369,23 373,25 377,26 380,26 384,24 388,24 392,27 395,31 398,33 402,33 406,30 410,27 414,25 418,25 421,26 425,29 428,31 432,31 436,31 439,35 442,37 446,36 450,34 453,37 456,40 460,40 464,40 467,44 469,46 473,47 478,46 483,45 487,45 490,47 492,51 494,55 498,56 503,56 506,58 510,59 514,60 520,60 525,59 531,59 536,60 540,62 544,64 548,66 554,66 559,67 564,69 568,71 571,74 575,77 580,79 586,80 591,82 594,86 598,90 602,93 605,96 608,100 612,103 617,107 623,109 628,112 632,116 634,121 634,126 634,131 636,136 639,141 641,145 643,150 645,154 652,158 659,162 661,167 662,172 666,177 672,182 675,187 675,192 672,198 671,204 673,209 674,215 677,220 679,226 680,231 679,237 678,242 677,248 678,253 677,259 675,264 673,270 671,275 667,280 660,284 653,288 649,292 647,297 645,301 641,305 634,309 628,311 621,314 614,317 609,319 606,323 605,328 604,332 603,337 599,340 595,343 593,347 591,352 588,355 581,356 575,357 571,360 569,364 567,368 565,372 563,376 561,380 557,383 551,384 548,387 546,391 543,395 538,396 534,397 530,400 525,401 521,402 518,405 514,408 509,407 503,405 497,404 491,402 488,404 485,407 481,409 476,407 471,407 468,409 464,410 461,412 457,412 452,411 448,411 444,412 440,412 436,410 432,408 428,407 424,408 421,411 417,413 414,414 410,415 407,415 403,414 399,412 395,410 391,410 388,411 384,410 381,409 377,407 374,407 370,406 367,404 363,404 359,405 356,405 353,403 349,402 345,403 341,405 338,402 336,398 332,398 327,400 323,401 320,401 315,402 311,403 307,402 303,401 300,400 296,399 290,402 284,405 280,404 276,403 270,404 265,404 262,401 260,397 255,396 249,397 246,395 242,392 239,390 235,388 231,385 228,383 225,380 222,377 217,375 210,376 205,374 204,369 204,363 204,358 202,353 198,351 190,351 183,351 177,349 171,347 167,344 162,341 157,338 150,336 145,333 141,329 136,326 130,322 124,319 118,316 115,311 115,305 114,300 111,295 108,290 108,285 110,279 109,273 106,269 102,264 100,258 99,253 98,247 94,242 91,237 91,231 91,226" stroke="#9864d2" stroke-width="2.12"/><polygon points="92,220 91,214 92,209 96,203 99,198 100,193 101,187 104,182 109,177 115,173 121,169 126,165 130,160 130,155 127,149 125,143 128,139 132,135 134,130 133,124 134,119 137,115 141,111 145,107 150,104 155,101 160,98 165,95 170,92 174,89 178,86 183,84 189,82 193,80 197,77 202,76 207,73 210,71 216,70 221,69 225,67 229,65 234,64 241,65 247,66 252,65 254,62 257,59 260,57 264,55 268,54 271,52 274,50 277,47 282,47 287,48 291,47 293,45 296,42 300,40 303,39 306,36 308,31 311,27 315,26 319,27 324,28 328,29 332,30 336,30 339,27 343,25 347,27 351,29 355,29 358,26 361,21 365,18 369,21 373,24 377,24 380,24 384,24 388,24 392,25 395,27 399,29 402,30 406,29 410,26 414,24 418,25 422,24 426,22 430,23 433,26 436,29 439,33 442,36 446,36 450,35 453,37 456,40 460,41 463,41 466,44 470,46 474,46 479,44 484,43 488,43 490,47 492,51 495,55 498,56 502,56 506,58 509,60 513,62 518,62 525,60 531,59 536,60 539,62 544,64 549,64 556,64 562,65 565,67 568,71 571,75 575,77 582,78 588,79 593,81 596,85 600,88 605,91 609,94 611,98 613,103 617,106 623,109 630,111 636,114 639,119 639,124 638,130 639,135 643,139 647,143 649,148 652,153 659,156 668,160 671,165 672,171 673,176 675,181 679,186 682,192 681,197 679,203 677,209 678,214 680,220 683,226 685,231 683,237 682,243 682,248 682,254 680,259 677,265 675,270 673,275 670,280 666,285 661,290 658,294 655,299 649,303 643,306 636,309 630,312 624,315 618,318 614,321 611,325 608,329 605,333 603,337 601,341 598,345 596,349 594,354 590,357 584,358 579,360 575,363 573,367 569,370 567,374 565,378 563,383 559,385 553,385 548,387 545,390 541,392 538,395 535,399 531,401 525,400 520,400 516,402 512,405 508,406 504,407 499,407 494,407 490,408 486,409 481,409 475,406 471,406 468,408 465,411 461,412 456,411 452,411 448,412 445,413 441,414 437,413 433,412 429,411 425,411 421,412 418,413 414,414 410,416 407,418 403,418 399,416 395,413 391,412 388,414 384,413 381,410 377,407 373,408 370,409 366,410 362,410 359,409 356,405 353,401 350,400 346,401 342,402 339,400 335,398 331,401 327,403 323,402 320,400 316,400 312,400 307,401 302,403 298,404 293,404 288,406 283,407 279,405 276,402 272,402 266,403 261,403 258,400 253,400 248,399 244,397 241,394 237,392 232,391 227,389 225,386 223,381 222,376 218,374 211,375 205,374 203,369 204,363 204,358 202,354 197,352 190,351 180,352 173,351 167,349 163,346 160,342 154,340 148,337 142,334 137,331 130,328 124,325 118,321 113,317 111,312 111,306 109,301 105,297 103,292 104,286 106,280 104,274 98,270 95,265 95,259 95,253 93,248 89,243 87,237 90,231 92,226" stroke="#9d64d3" stroke-width="2.11"/><polygon points="90,220 90,214 92,209 97,203 101,198 102,193 104,188 106,182 109,177 113,173 119,169 125,164 127,160 126,154 124,148 123,143 124,138 127,133 129,128 130,123 129,117 131,112 134,108 140,105 147,102 152,100 158,97 163,94 167,91 173,89 177,86 180,82 184,79 188,76 194,75 201,74 206,73 211,71 217,71 223,70 228,69 233,68 239,69 245,69 249,68 252,65 254,61 257,59 262,59 266,58 269,56 272,53 274,50 278,48 283,50 288,50 290,46 292,43 296,41 299,39 303,38 306,35 309,32 313,33 317,32 320,30 324,28 328,28 332,28 335,28 339,27 343,27 346,25 350,23 354,23 358,23 361,21 365,20 369,22 373,23 377,22 380,21 384,20 388,19 392,19 395,21 399,25 402,29 406,30 410,26 414,23 418,23 422,24 426,22 430,22 433,25 437,27 440,30 443,34 446,35 450,34 453,37 456,39 460,40 464,39 468,41 472,41 476,42 479,44 483,45 486,46 489,49 492,52 495,54 500,54 504,54 507,57 510,60 513,61 519,60 525,60 530,60 535,60 540,61 545,63 550,63 557,63 563,63 566,67 569,71 573,73 580,73 587,74 592,76 595,80 599,83 603,86 607,90 610,93 613,98 616,101 622,104 629,106 635,109 639,113 639,119 640,124 641,129 642,134 646,138 652,142 657,146 660,151 666,155 673,159 678,164 678,169 678,175 679,181 682,186 687,191 690,197 689,203 689,208 691,214 692,220 693,226 691,232 687,237 686,243 686,249 685,254 684,260 682,265 678,271 674,276 670,280 668,285 665,290 663,296 659,300 652,304 644,307 638,310 633,313 626,316 621,319 618,324 616,328 612,331 609,335 608,340 605,344 602,348 599,351 594,354 590,357 587,360 584,364 580,367 577,370 574,373 570,377 568,381 565,384 560,386 556,388 551,390 545,390 539,389 535,392 533,396 528,397 521,396 517,397 513,399 510,402 507,405 504,408 500,410 496,410 491,410 487,411 482,410 477,409 472,408 468,409 465,411 460,411 456,410 452,410 449,412 445,413 441,413 437,414 433,415 429,415 425,413 421,412 418,415 414,417 411,418 407,418 403,416 399,414 395,414 392,416 388,419 384,418 380,414 377,411 373,411 369,413 366,414 362,412 359,409 356,407 352,406 348,406 345,405 342,402 339,399 335,400 330,403 326,406 322,405 319,402 315,402 311,402 307,403 302,404 297,405 293,405 288,406 284,405 280,403 276,402 271,402 266,403 261,402 256,403 250,403 246,402 243,398 239,396 235,395 230,394 225,392 223,387 223,381 223,376 219,374 211,374 206,373 205,368 205,362 202,359 198,357 193,355 186,354 178,354 172,352 167,349 161,347 154,345 149,342 144,339 139,336 131,333 125,330 120,327 117,322 114,317 110,312 107,308 103,303 102,298 103,292 103,286 101,281 97,276 92,271 91,265 92,259 93,254 91,248 89,243 88,237 89,231 90,226" stroke="#a164d5" stroke-width="2.11"/><polygon points="86,220 88,214 92,209 96,203 99,198 104,193 107,188 107,183 107,177 108,172 112,167 115,162 117,157 120,153 121,148 120,142 121,137 123,132 126,127 129,123 131,118 131,112 132,107 138,104 146,102 152,100 156,96 159,92 163,88 169,86 175,84 178,80 180,76 187,75 195,75 201,74 207,73 212,72 218,72 223,70 228,69 234,70 240,70 245,69 248,67 251,65 254,62 258,61 263,61 267,60 270,57 273,54 276,52 279,50 283,50 287,49 289,45 292,42 296,41 299,39 302,36 306,35 310,35 315,37 319,37 322,34 325,31 328,30 332,29 335,27 339,27 343,26 346,22 349,20 354,21 358,25 362,26 365,24 369,23 373,22 377,22 380,21 384,18 388,16 392,17 396,20 399,25 402,30 406,30 410,28 414,24 418,23 422,25 425,26 429,26 433,26 437,27 440,28 444,29 448,30 451,31 455,33 458,35 462,35 466,35 470,36 474,37 477,39 479,43 482,46 486,48 489,49 492,51 497,51 501,51 505,53 509,55 512,57 516,58 521,58 527,58 532,58 538,57 544,57 548,60 551,62 557,63 563,63 568,65 573,67 578,69 584,70 590,72 593,75 596,79 600,83 604,86 607,90 611,93 616,96 621,99 628,101 635,103 641,107 642,112 640,118 640,124 641,129 644,134 649,137 657,140 663,144 666,149 668,154 673,159 677,164 679,169 679,175 681,180 686,186 690,191 692,197 693,202 697,208 701,214 702,220 702,226 700,232 696,238 694,244 693,249 692,255 692,261 691,267 687,272 681,277 675,281 670,286 666,291 667,297 665,302 657,305 650,309 645,312 641,317 636,320 630,323 626,327 621,330 617,333 613,337 611,342 610,347 606,350 601,352 596,355 593,359 592,364 589,368 585,371 582,374 579,378 576,382 571,383 566,385 561,387 556,389 551,389 543,388 536,387 533,389 531,394 527,396 522,397 518,398 515,401 512,404 508,407 505,409 500,410 496,411 492,411 488,412 484,414 480,416 475,416 470,413 465,412 460,411 456,411 453,414 450,417 446,417 442,417 438,416 434,417 430,417 426,416 422,415 418,417 415,419 411,419 407,418 403,414 399,413 395,414 392,417 388,419 384,419 380,416 377,412 373,411 370,412 366,412 362,409 359,407 355,408 351,410 347,410 344,408 341,404 338,402 334,403 329,406 324,410 320,411 316,410 312,410 308,410 304,408 301,406 297,404 293,405 288,406 284,405 280,404 276,403 271,403 267,401 263,400 257,401 251,403 246,401 244,397 239,396 234,395 230,393 227,389 224,387 221,384 218,380 214,378 210,376 207,372 205,368 202,365 198,362 193,360 187,359 182,357 178,354 175,350 170,347 162,346 153,346 146,344 142,340 138,336 131,333 123,331 117,328 115,323 114,317 112,312 108,307 106,302 106,297 105,291 101,286 96,282 93,277 90,271 89,266 90,260 91,254 89,248 88,243 87,237 87,231 86,226" stroke="#a564d6" stroke-width="2.10"/><polygon points="81,220 84,214 85,209 86,203 89,197 96,192 101,187 103,182 103,177 103,171 105,166 108,161 112,156 116,152 117,147 118,141 119,136 121,131 124,126 126,122 129,117 131,112 133,108 139,104 146,102 150,98 152,94 156,90 161,87 166,84 171,82 176,79 181,77 190,77 196,76 200,73 205,72 211,71 217,71 222,69 227,68 232,68 237,66 241,65 245,64 249,62 253,60 257,59 262,59 266,58 269,56 273,54 276,53 280,51 283,48 285,46 288,43 292,42 296,41 299,39 302,37 306,36 311,37 315,37 318,35 321,32 324,30 328,29 332,28 335,27 339,27 342,24 345,20 349,18 353,19 357,21 361,22 365,22 369,22 373,24 377,26 380,26 384,23 388,20 392,19 396,20 399,22 403,25 406,27 410,27 414,26 418,24 422,23 426,25 430,24 434,24 437,25 441,26 445,26 449,27 452,29 455,32 459,33 463,33 468,32 472,31 476,32 480,34 482,39 484,43 487,46 490,47 495,47 499,47 504,47 508,49 513,49 516,51 519,54 523,56 528,56 533,56 540,56 546,55 550,58 552,62 556,64 563,63 571,63 576,64 580,67 584,71 587,74 592,76 597,79 602,81 605,85 608,89 613,92 620,94 626,96 631,99 636,103 641,106 643,111 644,117 646,122 647,127 648,132 652,136 660,140 666,143 669,149 670,154 673,159 675,164 677,170 679,175 682,180 686,186 690,191 694,196 698,202 701,208 706,214 707,220 704,226 702,232 702,238 702,244 701,250 700,256 700,262 699,268 696,274 689,278 681,283 674,287 670,292 671,298 669,303 662,307 656,311 654,316 652,321 647,324 639,327 632,329 625,332 619,334 616,338 615,344 614,349 610,352 605,355 602,359 598,362 593,365 590,368 587,372 585,376 581,379 576,382 570,383 565,385 561,387 555,387 549,388 544,388 538,389 534,391 532,396 531,401 528,404 524,406 519,407 514,407 509,407 504,408 501,411 498,413 493,414 489,415 485,416 481,418 476,418 472,417 467,417 463,417 459,418 456,421 452,422 447,421 443,420 438,419 434,417 430,417 426,417 422,416 418,417 415,418 411,419 407,419 403,418 399,417 395,417 392,417 388,417 384,417 380,415 377,412 373,411 370,410 366,409 363,406 359,405 356,406 351,410 347,413 343,413 340,411 336,409 333,408 328,410 323,414 318,417 313,418 309,418 306,415 303,412 300,409 296,408 291,409 286,410 281,410 277,408 274,406 270,404 268,400 264,398 258,400 251,402 246,401 241,400 237,399 233,397 230,393 227,389 224,387 219,386 214,384 211,380 210,376 208,371 205,368 199,367 195,365 191,361 187,359 182,357 177,354 175,350 170,347 163,346 155,345 147,343 139,341 135,338 131,334 124,331 117,328 113,323 112,318 112,312 111,307 108,302 106,296 103,291 100,287 95,282 91,277 88,272 87,266 87,260 88,254 88,248 84,243 83,237 83,232 81,226" stroke="#a964d8" stroke-width="2.10"/><polygon points="77,220 80,214 81,208 81,203 84,197 90,192 97,187 102,182 105,177 104,171 104,166 109,161 113,156 115,152 116,146 117,141 120,136 123,132 126,127 127,122 129,117 132,113 134,108 137,103 142,100 146,96 151,93 157,91 163,88 165,84 168,80 175,78 185,80 192,79 195,76 197,71 202,69 209,69 213,67 219,67 226,67 231,66 234,63 238,61 243,61 247,60 250,57 254,55 258,54 262,53 266,51 269,49 273,49 278,49 282,47 284,44 288,42 293,43 296,42 299,38 301,33 305,33 310,35 313,33 316,29 319,26 323,25 326,24 330,24 335,25 339,27 342,24 345,19 349,17 353,18 357,20 361,22 365,24 369,26 373,28 377,29 381,30 384,28 388,23 392,20 396,19 399,19 403,20 407,22 410,23 414,25 418,26 422,24 426,22 430,21 434,20 438,22 442,23 446,24 450,24 453,27 456,29 460,31 464,30 469,29 473,29 478,28 482,29 484,34 486,39 490,40 495,40 499,40 504,40 508,41 513,42 517,43 521,45 524,48 527,51 531,53 535,54 540,55 546,56 551,57 555,59 560,61 564,63 570,64 575,65 580,68 584,71 588,73 593,75 600,77 604,80 607,84 611,87 616,90 623,92 629,95 633,99 637,103 641,107 644,111 648,115 654,119 657,123 656,129 657,135 661,139 665,144 669,148 672,154 674,159 677,164 679,169 683,174 687,180 690,185 692,191 696,196 699,202 701,208 706,214 709,220 709,226 707,232 708,238 710,245 710,251 707,257 705,263 703,269 699,274 692,279 686,284 681,289 677,294 676,299 672,304 666,308 659,312 655,316 653,321 649,325 642,328 635,331 627,333 621,336 619,340 618,345 616,350 611,353 606,356 604,360 601,364 595,366 591,369 589,373 587,378 584,382 579,384 573,385 568,387 562,388 556,388 550,389 545,390 541,392 536,393 534,397 533,403 530,407 526,409 520,408 514,407 509,407 504,408 501,410 497,412 492,412 488,413 483,413 478,412 474,413 471,416 468,419 464,421 461,425 458,427 452,424 447,421 443,421 439,421 434,420 430,419 426,419 422,419 419,419 414,417 410,417 407,419 403,419 399,417 395,414 392,414 388,416 384,418 380,418 377,417 373,416 369,412 366,408 363,407 359,406 356,407 351,409 347,413 343,415 339,415 335,414 331,413 327,414 322,418 317,420 312,421 308,421 304,420 300,417 298,414 294,413 289,413 284,413 280,411 277,409 273,408 268,407 264,405 260,404 254,405 249,404 245,403 241,401 236,400 233,397 229,394 226,391 222,389 215,389 211,387 211,381 212,374 210,370 206,367 202,365 198,362 194,360 189,358 184,356 179,353 176,349 171,347 163,346 156,344 147,343 137,342 130,340 128,335 127,330 122,326 115,323 111,318 110,313 109,307 108,302 104,297 101,292 98,287 94,282 91,277 89,271 88,266 87,260 87,254 85,249 80,243 78,238 78,232 77,226" stroke="#ae64d9" stroke-width="2.10"/><polygon points="74,220 79,214 83,208 84,203 86,197 90,192 95,187 102,182 107,177 107,172 106,166 109,161 111,156 112,151 114,146 118,141 121,137 126,133 132,129 134,124 134,119 135,114 136,109 138,104 142,100 147,97 153,94 159,92 163,88 166,84 168,80 174,78 183,78 188,76 189,71 192,67 198,66 206,67 212,66 219,67 226,68 231,66 234,63 237,61 242,60 246,58 248,55 251,51 254,49 259,49 264,48 267,46 270,44 276,45 280,44 282,41 287,40 292,42 296,40 297,35 300,32 304,31 308,31 312,29 315,26 318,24 322,24 326,23 330,23 335,24 339,25 342,22 345,19 349,18 354,21 358,24 362,26 366,27 370,29 373,29 377,27 380,26 384,26 388,23 392,22 396,20 399,19 403,20 407,20 411,20 415,21 418,22 422,21 427,18 431,17 435,17 439,19 443,21 447,20 451,19 455,20 460,20 464,21 467,23 471,24 475,26 479,26 484,25 487,29 489,33 494,33 499,33 502,35 506,37 510,38 515,40 519,41 521,44 524,48 528,50 533,50 538,51 542,53 548,53 553,54 558,56 564,56 569,59 573,61 577,64 581,66 587,68 592,70 597,73 602,75 608,77 614,79 617,84 618,89 623,92 630,94 636,97 640,101 644,105 647,110 651,114 655,118 659,123 662,128 663,133 663,139 665,144 670,148 675,153 677,158 678,164 679,169 683,174 690,179 696,184 698,190 699,196 701,202 704,208 709,214 713,220 714,226 712,232 712,239 713,245 713,251 710,257 707,263 703,269 697,274 692,279 689,284 686,290 683,295 679,300 675,305 669,309 661,312 656,316 653,321 651,326 647,330 639,333 631,335 624,337 622,341 620,346 616,350 610,352 607,356 605,360 601,364 597,367 593,371 590,374 587,378 585,383 582,387 576,388 569,388 562,387 556,389 550,389 544,389 539,390 536,393 534,397 532,402 529,405 524,407 519,407 515,409 511,410 507,411 501,411 497,412 494,415 490,417 485,416 479,414 474,414 471,417 468,420 464,421 461,423 456,424 452,422 447,422 444,424 440,425 435,424 431,421 427,420 423,422 419,423 415,419 411,417 407,419 403,420 399,416 395,412 392,413 388,416 384,418 380,417 377,416 373,415 369,414 366,412 362,412 358,412 355,411 351,411 347,413 342,416 338,418 334,419 330,418 326,416 322,417 318,417 313,418 308,420 303,421 299,419 296,417 292,416 287,417 281,418 278,415 275,412 271,411 265,412 259,413 254,413 249,412 245,410 242,406 240,403 236,400 231,399 226,397 223,395 218,393 212,393 208,389 210,382 211,375 208,371 205,368 203,364 200,360 196,358 190,357 185,354 182,351 178,348 172,347 162,346 152,346 144,345 138,342 133,338 130,334 127,329 123,325 116,322 111,318 109,313 108,307 107,302 103,297 100,292 97,287 94,282 91,277 88,272 85,266 83,261 79,255 75,250 71,244 71,238 71,232 71,226" stroke="#b264db" stroke-width="2.09"/><polygon points="69,220 75,214 81,208 85,203 88,197 91,192 96,187 101,182 103,177 101,171 101,165 104,160 106,155 107,150 112,145 118,141 124,138 130,134 135,130 137,126 137,120 138,115 140,110 141,105 145,101 150,98 156,96 159,92 162,88 165,84 170,81 177,80 183,78 187,75 190,72 194,69 200,68 208,69 216,69 223,70 229,70 234,70 237,67 240,63 242,60 245,57 249,55 251,52 254,49 259,48 263,48 266,45 269,42 274,41 278,41 282,40 286,39 291,39 293,36 295,30 298,28 303,28 308,30 312,31 316,29 320,28 324,28 327,26 330,24 334,23 339,24 343,25 346,25 350,24 354,23 358,24 362,24 366,26 369,27 373,27 377,24 380,23 384,21 388,22 392,24 395,24 399,22 403,21 407,20 411,18 415,17 419,17 423,16 427,16 432,14 436,14 440,16 443,19 447,19 452,17 457,15 462,14 466,14 470,17 473,20 476,23 480,23 485,23 488,26 491,29 496,29 500,30 504,33 507,35 512,36 515,38 519,41 522,44 524,48 528,50 534,49 540,49 546,49 552,49 557,51 562,53 567,54 573,55 576,58 579,62 582,66 586,69 591,71 594,75 597,78 604,80 611,81 616,85 617,89 621,93 627,96 634,98 640,101 645,105 649,109 652,114 653,119 656,124 659,129 660,134 662,139 666,143 672,148 675,153 676,158 676,164 678,169 683,174 692,179 700,184 705,190 708,195 710,201 712,208 714,214 715,220 715,226 716,233 716,239 715,245 714,251 713,257 710,263 706,269 699,274 693,279 691,285 688,290 685,296 681,301 677,306 673,310 666,314 659,317 656,322 654,327 650,331 642,334 633,336 626,338 622,341 619,346 615,349 610,352 608,357 607,362 606,367 602,371 597,373 591,375 587,378 584,382 580,385 572,384 565,385 561,387 558,391 553,391 545,390 541,392 540,398 539,403 535,406 531,407 527,410 522,411 518,413 514,415 510,417 505,417 499,416 495,418 491,420 487,421 482,420 477,419 474,422 470,424 465,422 460,421 457,424 453,427 449,426 444,425 440,425 436,424 431,423 427,423 423,424 419,425 415,423 411,421 407,422 403,422 399,420 395,418 392,417 388,417 384,417 380,416 377,416 373,416 369,416 365,416 362,417 357,419 354,419 350,415 347,414 343,415 339,416 335,416 331,415 327,414 323,414 318,415 314,416 309,417 305,417 301,416 296,417 291,419 285,421 280,421 276,419 272,417 267,418 260,420 254,422 249,420 246,417 243,413 239,410 236,407 233,403 229,401 225,399 222,396 218,393 214,391 210,388 207,384 205,380 203,376 200,372 198,368 196,363 195,359 190,357 184,355 179,353 174,350 169,348 162,346 155,345 148,343 143,340 137,337 131,334 126,330 120,327 114,323 111,318 109,313 108,307 106,302 104,297 100,292 95,288 93,282 91,277 85,272 80,267 78,261 75,256 69,250 65,244 64,238 64,232 65,226" stroke="#b664dc" stroke-width="2.09"/><polygon points="62,220 67,214 76,208 84,203 88,197 91,192 94,186 96,181 98,176 98,170 101,165 104,160 106,155 108,150 113,145 119,142 125,138 130,134 133,130 135,125 137,120 141,117 144,112 145,107 147,102 152,99 158,97 162,93 165,90 168,86 173,83 181,83 188,82 193,80 195,76 198,72 204,71 211,71 217,70 223,70 229,70 233,68 235,65 238,62 241,59 245,57 250,56 252,53 254,49 258,47 262,45 265,43 269,42 273,41 278,41 281,38 284,36 288,34 291,32 294,29 298,28 304,30 309,32 313,32 316,30 320,30 324,30 328,28 331,25 335,24 339,27 343,29 347,28 350,24 353,21 357,20 361,21 365,24 369,25 373,23 377,22 380,22 384,18 388,18 392,22 395,24 399,23 403,23 407,24 411,21 415,18 419,17 423,15 428,14 432,12 436,12 440,14 443,18 447,18 452,17 456,17 461,17 466,15 470,16 473,20 475,25 479,26 484,25 489,25 493,26 498,27 501,28 505,31 508,34 512,35 517,37 521,38 525,40 528,43 531,46 534,49 540,49 546,49 552,49 557,50 564,51 570,51 574,54 576,59 577,64 580,67 586,69 591,71 593,75 595,80 600,82 607,84 613,86 619,88 624,91 628,95 633,99 639,102 646,104 653,107 658,111 660,116 659,123 659,129 661,134 667,137 673,142 675,147 675,153 676,158 678,164 682,169 689,173 696,178 702,184 706,189 710,195 714,201 717,207 717,214 716,220 717,226 719,233 720,239 721,246 720,252 718,258 713,264 708,269 703,275 700,280 697,286 692,291 687,296 682,301 679,306 677,311 672,316 665,320 660,324 657,329 654,333 647,336 638,338 631,341 629,345 627,350 623,354 617,356 613,360 613,366 613,372 607,374 598,374 592,376 590,380 587,385 581,386 574,386 569,388 566,392 562,395 556,395 549,394 546,397 545,404 542,407 536,407 533,410 531,415 526,417 521,417 517,419 513,422 508,422 501,418 495,416 491,418 487,421 482,421 478,422 475,425 471,427 466,425 462,425 458,428 454,429 449,427 444,425 440,426 436,426 432,425 428,426 424,426 419,424 415,422 411,421 407,421 403,420 399,420 396,421 392,421 388,420 384,419 380,418 376,420 373,422 369,421 365,419 361,418 357,421 353,423 349,420 346,416 343,413 340,411 336,411 332,412 327,414 323,414 319,415 314,415 310,415 305,417 300,419 295,420 289,422 284,423 279,423 275,421 271,419 267,418 260,420 253,423 248,422 245,417 243,412 239,411 233,410 231,406 229,401 226,398 222,395 219,392 215,389 210,387 204,387 199,385 197,381 195,376 193,372 192,367 191,361 188,358 183,356 177,354 172,352 168,349 163,346 158,343 152,340 146,338 139,336 132,333 125,330 117,328 110,324 106,320 105,314 105,308 104,303 99,298 94,294 91,289 90,283 89,277 85,272 80,267 77,261 73,256 68,250 64,245 62,239 62,232 62,226" stroke="#ba64de" stroke-width="2.08"/><polygon points="59,220 64,214 75,208 83,203 87,197 89,192 92,186 94,181 96,175 100,171 104,166 106,160 108,155 110,150 114,146 120,142 125,138 130,134 133,130 133,124 135,120 140,116 145,113 146,107 148,103 154,100 159,97 162,94 165,90 169,87 175,85 183,84 191,84 196,82 199,79 202,75 206,73 211,71 216,70 222,70 229,70 232,67 234,63 237,61 239,57 242,54 245,51 249,49 252,47 257,46 261,44 264,41 268,40 274,42 279,42 281,39 284,35 288,34 293,35 297,35 302,36 306,35 310,34 313,33 317,31 321,31 325,31 328,29 331,26 335,27 339,28 343,28 347,27 350,23 353,20 357,21 362,24 366,27 369,26 373,22 377,21 380,20 384,17 388,18 392,22 395,23 399,24 403,25 406,26 411,23 415,20 419,19 423,18 428,15 432,13 436,15 439,17 443,19 447,21 451,21 455,22 459,20 465,17 470,16 473,19 475,24 478,28 483,28 489,25 495,23 499,24 502,27 505,30 509,33 513,34 517,35 522,36 527,38 531,39 534,42 536,46 540,49 546,49 552,49 557,50 563,51 568,53 571,56 573,61 574,66 577,70 583,71 591,71 595,74 597,79 600,82 607,84 615,85 623,86 629,89 631,93 633,99 638,102 647,104 656,106 661,110 664,115 663,121 664,127 669,131 678,134 683,139 682,145 681,151 684,157 688,162 691,167 695,173 699,178 703,184 707,189 712,195 717,201 720,207 721,214 722,220 725,226 728,233 727,240 727,246 725,252 721,258 716,264 712,270 708,276 705,281 701,287 696,292 692,297 689,303 686,308 683,313 678,318 672,322 667,326 663,331 660,336 654,339 646,342 640,345 637,350 636,355 633,359 629,363 626,368 623,372 618,375 609,376 600,376 594,377 592,382 590,387 585,389 578,390 573,392 569,395 564,397 559,398 553,398 549,401 547,406 543,408 537,408 533,410 530,414 525,416 521,417 517,420 513,422 508,422 500,418 493,415 490,417 487,420 483,422 479,424 476,426 471,427 466,426 462,426 458,427 453,427 449,427 445,428 441,430 437,430 432,428 428,426 424,426 420,425 415,425 411,425 407,422 403,421 399,422 396,423 392,424 388,424 384,422 380,421 376,422 372,425 368,424 365,421 361,418 357,420 353,422 349,420 347,415 344,410 340,409 336,412 331,414 326,418 321,420 317,419 314,416 310,415 305,417 299,420 294,422 288,424 283,424 278,424 274,423 270,421 266,419 260,420 254,421 249,421 245,417 242,414 238,412 232,412 228,409 227,403 225,399 220,397 216,395 212,392 207,391 202,389 199,385 197,381 194,377 190,374 188,370 187,365 184,361 180,358 173,357 168,354 164,351 160,348 155,345 151,341 147,338 140,335 133,333 125,330 115,328 107,325 104,321 103,315 103,309 101,304 96,299 91,295 90,289 90,283 88,277 85,272 82,267 78,261 72,256 68,250 64,245 60,239 59,232 59,226" stroke="#bf64df" stroke-width="2.08"/><polygon points="61,220 67,214 75,208 81,203 83,197 85,191 87,186 89,180 94,175 99,170 103,165 104,160 105,155 108,150 111,145 117,141 122,137 127,133 129,128 130,123 133,119 139,116 143,112 143,106 147,103 154,100 158,97 162,93 167,91 173,89 178,86 184,85 190,83 195,81 200,79 204,77 209,76 212,72 215,69 222,69 229,70 233,68 235,65 237,61 239,57 242,54 246,52 248,49 251,45 256,45 261,44 264,41 268,40 272,39 277,40 281,39 285,37 288,35 293,36 298,37 303,37 306,36 309,34 313,33 317,33 322,34 325,31 327,27 330,24 334,24 339,25 343,26 347,25 350,21 353,19 357,22 362,25 366,27 369,26 373,23 377,21 380,20 384,19 388,22 392,27 395,27 399,25 403,25 406,26 410,25 414,23 418,22 422,22 426,21 431,20 434,21 438,22 442,22 446,22 451,21 455,21 460,19 465,18 469,18 473,19 476,22 479,27 482,29 487,28 493,26 498,26 502,28 505,30 510,32 514,33 518,35 521,37 525,40 529,41 535,42 538,44 542,47 547,48 553,48 557,51 560,54 564,57 568,59 572,61 575,65 577,70 582,72 589,72 595,74 598,78 602,81 610,82 619,82 627,84 633,87 636,91 637,97 640,101 648,103 655,106 658,111 661,116 664,121 668,125 674,129 682,133 687,138 687,144 688,150 691,155 694,161 694,167 695,173 698,178 702,184 707,189 712,195 717,201 722,207 725,214 727,220 731,227 732,233 731,240 730,246 729,253 728,259 724,265 720,271 717,277 713,283 708,288 703,294 697,299 692,304 690,309 687,314 682,319 679,324 675,329 671,334 665,338 658,341 651,344 645,347 640,351 637,356 635,361 632,365 629,370 625,374 619,376 612,378 604,379 598,380 594,384 592,389 588,391 581,392 575,393 571,396 567,400 563,402 558,404 553,405 549,408 544,409 538,409 533,411 530,415 527,417 522,419 517,419 511,419 506,419 501,419 496,419 491,419 487,420 483,422 479,423 475,425 471,425 466,424 461,423 457,424 453,426 450,430 446,433 442,432 436,428 431,424 427,423 424,425 420,427 416,425 411,423 407,419 403,420 400,424 396,426 392,426 388,425 384,424 380,423 376,423 372,423 369,424 365,423 361,421 357,419 354,416 351,413 347,412 344,410 340,411 335,413 331,413 326,416 321,419 317,419 313,419 309,419 303,421 298,423 293,424 288,424 284,423 279,423 274,422 269,422 264,423 258,424 253,423 248,422 244,420 240,417 237,413 232,411 228,410 225,406 222,402 218,400 213,398 209,395 206,392 203,388 200,384 196,382 191,379 188,376 186,371 183,367 180,364 174,362 167,361 162,358 159,354 154,351 148,348 145,344 143,340 137,337 128,335 118,333 110,331 104,327 102,321 101,316 99,310 96,305 93,300 90,295 89,289 87,284 85,278 82,273 79,267 75,262 70,256 67,250 65,245 61,239 59,232 59,226" stroke="#c364e0" stroke-width="2.07"/><polygon points="63,220 67,214 73,208 76,202 76,196 79,191 83,185 85,180 90,175 96,170 99,165 99,159 101,154 104,149 107,144 112,140 118,136 121,131 124,127 128,122 134,119 141,116 143,112 144,107 149,104 155,101 159,97 163,94 170,93 177,91 180,88 184,85 191,84 199,84 204,82 207,79 210,76 213,73 216,70 220,67 224,66 228,64 233,63 237,60 238,56 241,53 245,51 248,48 251,45 255,44 260,43 264,42 268,40 271,37 275,36 280,36 284,36 287,32 290,29 294,29 300,31 305,32 309,33 313,33 318,34 322,34 325,33 328,28 330,22 333,19 337,19 342,21 346,22 349,19 353,18 357,20 362,23 365,24 369,24 373,23 377,21 380,20 384,20 388,24 392,27 395,27 399,27 403,28 406,29 410,29 414,28 418,25 422,24 426,24 430,24 433,26 437,27 441,26 445,25 450,24 454,23 459,21 463,21 467,23 471,24 476,24 480,25 483,27 487,29 492,29 497,28 501,29 504,32 508,34 512,36 516,37 520,39 524,41 528,43 533,44 539,43 546,43 551,44 554,47 557,51 560,54 564,57 568,59 574,60 579,63 583,65 588,68 592,70 596,73 601,76 606,78 613,80 620,82 626,85 631,88 635,91 639,96 644,99 650,103 656,106 659,111 661,116 666,120 672,124 677,128 682,133 686,138 689,143 692,149 693,155 693,161 694,167 696,172 702,178 709,183 712,189 714,195 719,201 726,207 732,213 736,220 738,227 738,233 735,240 731,246 731,253 733,260 733,267 729,273 726,279 723,285 717,290 709,295 702,300 697,305 693,310 690,316 688,321 688,328 685,333 677,336 667,339 660,342 654,346 649,349 644,353 642,358 640,363 637,368 632,371 626,374 620,377 614,379 607,381 600,382 595,384 591,388 588,391 582,393 576,394 572,397 570,402 567,406 562,408 556,409 549,408 543,408 537,408 533,411 531,415 529,421 526,424 520,424 513,422 506,420 501,420 497,421 492,420 486,418 481,417 477,419 474,423 471,426 466,425 461,423 456,423 452,424 449,426 445,427 440,427 436,424 431,421 427,420 423,423 419,424 415,422 411,420 407,418 403,417 399,420 396,424 392,427 388,426 384,424 380,424 376,422 373,421 368,424 364,427 361,424 358,418 355,412 351,411 347,414 343,414 339,414 335,415 331,415 327,416 323,415 318,415 313,418 308,422 302,425 296,427 292,426 287,425 283,424 280,421 276,420 270,420 263,424 257,425 252,424 248,422 243,421 239,419 236,414 232,411 227,410 223,408 221,404 219,399 215,396 211,394 208,390 206,385 203,382 197,381 191,379 188,376 185,372 180,370 175,367 170,365 165,362 160,359 156,356 151,353 146,350 142,346 139,342 133,338 124,336 113,335 103,333 99,328 99,322 98,317 94,312 91,307 88,301 84,296 82,291 80,285 79,279 77,274 74,268 70,262 66,257 62,251 60,245 59,239 59,232 61,226" stroke="#c764e2" stroke-width="2.07"/><polygon points="60,220 64,214 69,208 71,202 71,196 74,190 79,185 83,179 88,174 93,169 94,164 95,158 98,153 103,149 106,143 107,138 111,134 116,129 121,125 127,122 133,119 138,115 138,110 139,105 145,102 154,100 161,99 165,95 170,92 174,90 177,86 181,83 189,83 198,83 202,81 203,76 203,71 206,67 209,64 213,62 218,60 224,59 230,60 235,58 237,54 240,51 243,48 245,44 248,41 253,40 257,39 261,38 266,37 270,36 274,34 278,32 281,31 285,28 288,25 293,26 299,29 305,32 310,34 313,33 317,33 322,34 325,32 327,27 329,20 333,17 337,19 342,22 346,23 350,21 353,20 357,21 361,21 365,22 369,21 373,20 376,20 380,20 384,19 388,20 392,22 395,25 399,28 402,30 406,29 410,31 413,31 417,28 421,26 425,25 429,26 433,27 436,29 440,28 445,27 449,26 453,26 457,26 461,28 464,30 468,31 473,29 478,27 483,27 488,27 492,27 496,29 499,32 502,35 506,38 511,38 515,38 519,40 524,41 528,43 531,46 537,46 544,45 550,45 554,48 557,51 562,52 568,53 574,54 579,56 584,58 589,60 595,62 600,65 604,68 609,70 614,73 619,77 623,80 627,84 632,87 637,91 642,94 647,98 650,102 655,106 661,110 665,115 669,119 675,123 682,127 686,132 687,138 690,143 696,148 700,153 700,159 702,165 707,171 714,176 720,182 721,188 720,194 723,201 729,207 737,213 742,220 742,227 739,233 736,240 733,246 732,253 732,260 730,266 726,272 724,278 723,285 720,291 715,296 709,302 703,306 699,312 696,317 694,323 693,329 688,334 679,337 671,341 666,345 659,348 652,351 648,355 645,360 643,365 640,370 634,373 627,375 620,377 613,379 606,380 600,382 594,384 589,386 585,389 582,393 576,395 572,397 569,402 566,405 561,407 554,407 547,406 542,407 538,409 534,412 531,416 529,421 526,425 521,426 515,424 508,422 502,421 498,422 493,422 486,419 481,417 477,419 475,424 471,427 466,426 461,424 456,422 451,421 447,420 443,422 440,425 436,425 431,422 426,417 422,415 418,418 415,421 411,422 407,422 403,420 399,419 396,421 392,424 388,425 384,425 380,425 376,424 372,423 368,425 364,427 361,423 358,417 355,412 351,411 347,413 343,412 340,411 336,411 331,413 327,415 322,416 318,417 312,420 307,423 302,423 298,424 293,424 288,424 284,422 281,419 276,418 270,420 264,423 258,423 254,421 250,420 244,419 240,418 236,414 233,410 229,408 225,406 222,402 219,398 216,395 211,393 207,391 205,387 201,384 195,382 190,381 187,377 184,372 179,371 173,369 169,366 165,362 160,359 154,357 149,354 143,351 138,348 133,344 128,341 121,338 110,337 101,334 97,329 96,324 93,318 90,313 87,308 83,303 79,298 77,292 76,286 73,280 69,275 67,269 67,263 63,257 59,251 57,245 55,239 55,233 57,226" stroke="#cb64e3" stroke-width="2.06"/><polygon points="55,220 57,214 62,208 67,202 69,196 71,190 75,184 82,179 89,174 92,169 94,164 96,158 100,153 104,149 105,143 106,138 109,133 116,129 123,126 129,123 134,119 136,115 136,109 137,103 141,100 150,98 158,97 162,93 165,90 170,87 174,84 178,81 184,79 190,78 194,75 197,71 199,67 201,62 203,59 209,58 215,57 221,57 226,55 228,51 230,47 234,45 238,43 242,40 246,38 250,36 253,33 257,32 263,32 268,33 273,32 276,30 280,28 284,26 289,26 294,28 300,31 305,34 310,36 313,33 317,32 321,32 324,30 327,25 329,20 333,18 338,21 342,24 346,24 350,21 353,21 358,23 362,24 365,22 369,18 372,17 376,20 380,21 384,20 388,19 392,21 395,23 399,27 402,30 406,29 410,30 413,33 417,32 421,30 425,27 429,25 433,24 437,25 441,26 444,29 447,31 451,31 456,30 460,29 463,32 467,34 472,32 477,30 483,26 490,23 495,22 498,26 499,32 501,37 505,39 511,37 517,36 520,39 524,41 530,41 534,42 538,44 544,44 550,45 553,48 556,51 562,53 570,52 577,51 583,52 588,55 593,57 600,58 604,61 609,65 615,67 617,71 619,76 622,80 626,84 631,88 638,90 644,93 648,97 651,102 653,107 659,111 665,114 671,118 676,123 680,128 683,133 685,138 688,144 696,148 704,152 710,158 712,164 715,170 719,175 723,181 725,188 725,194 727,200 733,207 740,213 745,220 744,227 740,233 736,240 734,247 734,253 732,260 728,266 727,272 726,279 724,285 723,292 720,298 714,303 706,307 700,312 697,318 695,324 692,329 685,333 677,336 672,341 670,346 664,350 656,353 652,357 648,362 646,367 643,372 637,375 627,375 620,377 614,379 608,381 602,383 595,384 588,385 584,388 582,393 577,396 572,397 568,400 564,403 560,406 556,409 552,411 548,414 544,417 538,417 533,418 529,421 526,425 521,425 514,424 508,422 502,421 497,421 493,422 488,423 484,424 480,427 478,432 473,432 467,427 461,423 456,422 452,422 448,425 445,427 440,426 435,424 431,422 426,418 422,415 418,418 415,423 412,425 408,426 404,425 400,424 396,424 392,423 388,422 384,423 380,424 376,425 372,426 368,426 365,424 361,421 358,418 354,415 351,414 347,414 344,411 340,408 337,407 332,411 327,415 322,416 318,417 313,418 308,420 303,421 299,422 294,422 289,421 286,419 282,418 276,418 270,420 265,421 260,420 255,419 251,418 246,417 240,417 235,416 232,412 230,407 226,404 223,401 218,399 213,398 207,397 204,394 202,389 198,386 193,384 189,381 186,377 182,374 176,373 170,371 166,367 162,364 157,361 151,359 145,356 138,354 133,351 128,347 123,343 118,339 111,336 103,333 97,329 93,325 90,319 87,314 84,309 81,303 79,298 77,292 74,286 70,281 68,275 67,269 67,263 64,257 59,251 55,245 53,239 52,233 54,226" stroke="#ce64e4" stroke-width="2.06"/><polygon points="47,220 48,214 56,207 65,202 70,196 73,190 77,184 83,179 90,175 95,170 97,164 99,159 100,154 100,148 102,142 105,137 110,133 117,130 124,127 130,123 134,119 135,114 135,108 135,102 137,98 144,95 150,93 155,90 159,86 165,84 170,81 175,79 179,76 184,73 189,71 196,70 200,68 202,64 205,60 209,58 214,56 218,54 223,52 227,50 230,47 234,45 238,43 242,40 245,38 248,34 252,32 257,32 262,31 266,29 269,26 273,25 279,25 284,26 288,25 292,25 298,27 304,30 309,33 314,34 318,35 321,33 325,31 328,30 331,27 334,24 338,23 342,24 346,23 350,22 354,22 358,22 361,23 365,23 369,20 372,18 376,19 380,21 384,20 388,20 392,20 395,21 399,24 403,27 406,28 410,29 413,33 416,37 420,34 425,28 430,23 434,20 439,19 442,24 443,32 445,39 448,39 454,35 460,31 463,32 467,34 472,32 478,29 483,26 489,24 494,25 496,29 499,33 502,36 506,37 512,36 517,36 520,39 523,42 529,41 535,41 540,42 546,43 551,43 555,47 557,50 562,52 570,51 578,50 585,51 593,51 599,53 604,55 608,59 612,63 617,65 620,70 622,75 624,80 627,84 632,87 635,91 637,97 640,101 645,105 650,108 657,112 665,114 673,118 678,122 680,128 682,133 686,138 690,143 696,148 705,152 712,157 715,163 718,169 720,175 723,181 727,187 731,194 735,200 739,207 742,213 743,220 740,227 736,233 732,240 732,246 734,253 732,260 729,266 728,273 728,279 726,286 723,292 720,298 715,303 708,308 703,313 699,318 695,324 690,328 683,333 677,336 672,341 668,346 663,350 657,353 652,357 647,361 642,365 637,368 630,371 623,372 617,375 615,380 612,384 606,386 598,387 590,387 585,389 584,395 582,400 576,401 569,402 565,404 562,409 560,414 557,418 553,420 548,421 541,421 534,420 530,423 527,427 522,428 516,426 509,425 503,423 497,421 493,423 489,425 485,426 481,428 478,431 473,431 467,427 461,424 457,424 453,426 450,429 445,430 440,425 434,419 430,419 427,422 423,423 419,424 416,427 412,428 408,428 404,428 400,428 396,427 392,423 388,420 384,421 380,423 376,426 372,429 368,429 364,427 361,424 357,421 354,418 350,417 346,416 344,411 341,407 337,408 332,411 327,414 323,414 319,414 314,415 309,418 304,419 299,420 295,420 290,420 285,421 280,422 275,421 271,419 267,417 262,417 256,418 250,418 245,418 239,418 233,419 229,415 227,410 224,408 220,405 217,401 213,398 208,397 203,394 200,391 196,388 191,386 186,383 181,381 175,380 170,377 166,374 163,369 160,366 155,362 149,360 142,358 133,356 127,354 122,350 118,346 112,342 106,338 101,334 94,330 88,326 84,321 82,316 80,310 78,304 78,298 78,292 76,286 72,281 69,275 69,269 67,263 64,257 58,251 52,245 49,239 49,233 49,226" stroke="#d164e5" stroke-width="2.05"/><polygon points="45,220 47,214 54,207 62,201 68,196 73,190 77,185 81,179 84,174 90,169 95,164 98,159 98,153 98,147 99,142 102,137 107,132 115,129 123,126 128,122 131,118 132,113 132,107 131,101 133,96 138,92 143,89 148,85 154,83 161,82 167,79 173,77 178,75 181,71 187,69 195,70 201,69 204,65 208,62 211,59 214,56 219,54 223,52 227,50 231,48 236,47 240,45 243,42 245,38 248,34 253,34 260,35 264,34 267,31 269,27 273,25 278,25 283,25 287,23 290,21 295,22 301,24 307,27 312,29 316,30 320,29 324,31 329,32 332,31 335,26 338,24 342,23 346,21 350,22 354,21 357,18 361,16 365,17 369,19 373,20 377,21 380,23 384,23 388,22 392,22 395,23 399,27 402,30 406,30 410,28 413,30 416,34 420,34 425,30 429,25 434,22 439,20 442,21 445,25 447,31 450,35 454,34 459,32 463,33 468,32 473,30 478,28 483,28 487,29 491,30 494,32 498,34 503,35 507,36 512,36 517,36 521,38 524,41 529,42 535,41 541,41 546,42 551,43 555,47 557,51 563,51 572,49 579,49 587,49 597,47 605,48 607,53 610,58 614,61 618,65 619,70 622,75 625,79 630,82 635,86 637,91 635,97 637,102 643,106 650,108 660,110 671,112 679,115 683,120 682,127 682,133 685,138 690,143 696,148 704,152 711,157 718,163 724,168 727,174 729,181 731,187 735,193 738,200 740,207 740,213 737,220 735,227 735,233 736,240 736,247 737,254 734,260 730,266 728,272 726,279 723,285 720,291 720,298 717,304 713,309 709,315 704,320 697,324 691,329 684,333 678,337 672,341 667,345 661,349 656,353 652,357 647,361 641,364 634,366 628,369 622,372 618,375 615,379 611,383 608,388 604,391 598,393 592,395 589,400 587,404 581,406 574,406 568,407 563,409 560,413 557,418 553,420 548,422 542,422 534,420 528,420 525,423 521,426 516,426 511,427 505,426 500,426 495,426 489,425 484,423 479,423 475,425 471,427 467,429 463,429 458,427 453,427 449,427 444,426 439,422 434,417 430,417 426,420 423,423 419,424 415,424 411,422 407,421 403,423 400,425 396,426 392,425 388,424 384,424 380,425 376,428 372,430 368,428 364,425 361,424 357,423 354,419 350,417 346,416 343,413 340,410 336,411 331,413 327,414 323,413 320,412 316,411 311,413 306,414 301,415 296,417 291,418 286,418 280,420 275,420 272,418 268,416 262,417 255,420 248,422 242,422 237,421 231,421 228,417 226,412 222,409 219,405 218,400 215,396 209,395 202,395 196,394 194,390 191,386 186,383 180,382 175,380 170,377 166,373 161,371 155,368 151,365 147,361 140,359 130,358 122,356 115,353 108,350 101,347 96,343 92,338 87,333 83,328 81,322 81,316 79,310 75,305 73,299 73,293 74,286 70,281 66,275 64,269 60,264 55,258 49,252 44,246 42,240 44,233 45,226" stroke="#d364e5" stroke-width="2.05"/><polygon points="43,220 46,214 52,207 57,201 63,195 70,190 76,184 78,179 80,173 82,167 87,162 92,158 96,153 97,147 98,141 99,136 101,130 108,127 117,124 121,120 124,115 126,110 128,105 128,99 129,94 133,90 137,86 142,82 149,80 157,79 164,77 170,76 175,73 179,70 185,68 193,68 198,67 203,64 207,62 211,59 215,57 220,56 224,53 226,49 229,46 234,45 240,45 246,45 249,42 251,38 254,34 258,33 263,32 266,29 270,27 274,26 279,26 283,25 286,22 291,21 295,20 299,19 304,21 309,23 315,26 319,27 324,28 328,29 332,29 335,27 339,27 343,26 346,23 350,23 354,21 357,19 361,18 365,17 369,18 373,19 376,20 380,21 384,20 388,20 392,20 395,21 399,24 403,27 406,29 410,29 413,30 417,32 420,33 425,28 430,23 434,22 438,22 442,21 447,20 451,21 454,25 457,27 461,28 464,30 469,30 474,28 479,27 483,28 487,29 491,30 495,30 500,31 504,33 508,34 513,34 519,33 524,34 528,36 531,39 535,41 540,43 545,44 549,46 552,49 556,51 566,49 576,46 582,46 589,47 597,47 603,50 603,56 604,62 609,64 614,67 617,71 622,74 629,77 635,79 640,83 643,88 645,93 648,97 652,102 658,105 669,107 680,109 687,112 691,118 691,124 689,131 688,137 693,142 699,147 705,152 712,157 720,162 727,168 734,173 738,180 738,186 736,193 736,200 738,207 738,213 737,220 736,227 739,233 741,240 739,247 736,253 734,260 732,266 730,273 728,279 725,285 724,292 724,299 720,304 714,310 709,315 703,320 695,324 688,328 683,332 678,337 671,341 666,345 662,349 658,354 653,358 648,361 642,364 635,367 629,370 625,373 621,377 615,380 609,382 608,388 607,394 603,397 597,399 593,402 588,405 583,408 579,411 574,414 569,415 563,417 559,420 554,422 548,422 541,420 533,419 527,418 523,420 519,423 514,424 509,424 504,425 500,427 496,428 490,426 483,422 478,421 474,423 471,426 466,426 461,423 456,422 452,422 448,422 443,423 439,422 434,420 430,417 426,416 422,418 418,418 414,417 410,414 406,415 403,418 399,421 396,424 392,426 388,425 384,424 380,424 376,426 372,428 368,426 365,423 361,422 357,419 354,416 350,414 347,414 343,415 339,415 335,415 331,415 327,414 324,412 320,410 317,408 313,407 308,409 302,413 297,416 292,416 288,414 283,415 277,417 272,417 268,416 262,416 256,419 248,422 241,424 235,424 231,421 227,418 224,415 221,411 218,407 215,403 211,400 205,400 197,400 192,398 191,392 189,387 185,384 181,381 177,378 174,374 169,371 164,369 157,367 150,365 145,362 139,360 131,358 123,356 114,354 102,353 93,350 89,346 86,340 82,335 77,330 72,325 71,319 71,312 68,307 63,302 61,296 61,289 59,283 56,277 53,271 50,265 44,259 39,253 37,247 38,240 41,233 42,227" stroke="#d664e6" stroke-width="2.04"/><polygon points="40,220 42,213 47,207 53,201 58,195 63,189 69,184 75,178 77,173 78,167 80,161 86,156 92,152 93,146 93,140 93,134 96,129 104,125 113,123 120,119 123,115 124,109 125,104 125,98 127,92 130,88 134,84 140,81 147,79 154,77 160,75 166,73 171,70 177,68 185,68 191,66 196,65 200,62 204,59 208,57 213,55 218,54 222,51 225,48 228,45 233,44 239,43 245,44 250,44 254,41 256,37 258,32 261,29 265,28 270,27 275,28 280,29 284,27 287,24 292,25 297,24 300,22 304,22 310,25 315,27 319,28 323,27 328,28 332,30 336,29 340,29 343,28 347,26 350,23 353,20 357,20 362,24 365,24 369,20 372,18 376,18 380,18 384,17 388,17 392,19 396,19 399,20 403,22 407,24 410,27 414,28 417,31 420,32 425,28 430,23 434,22 438,22 442,21 447,19 452,18 455,20 459,22 462,25 465,28 469,29 473,29 477,29 482,30 486,30 491,29 498,26 504,24 509,25 513,27 517,28 522,29 527,30 530,34 532,38 536,40 539,43 544,45 548,47 551,50 556,51 567,47 577,45 583,46 588,49 593,51 597,54 599,59 600,65 603,68 611,70 618,71 626,72 633,74 640,77 645,80 649,84 654,88 657,93 662,97 670,100 679,103 685,107 689,112 693,117 695,123 694,129 695,136 703,140 711,145 715,150 718,156 721,162 726,168 736,173 743,179 743,186 739,193 737,200 739,207 740,213 741,220 744,227 747,234 747,241 743,247 740,254 738,260 736,267 732,273 728,279 725,285 725,292 725,299 720,304 712,309 707,314 701,319 692,323 684,326 680,331 677,337 671,340 663,343 660,348 658,354 653,358 646,360 640,363 635,367 633,372 631,377 627,381 620,383 614,386 612,391 608,395 601,396 594,397 591,401 587,404 584,408 581,413 577,417 571,418 565,419 560,421 553,421 545,418 538,418 532,417 526,417 521,418 517,420 512,421 506,420 501,418 497,420 494,425 491,428 485,426 480,425 475,426 470,423 463,417 457,414 454,415 450,417 446,418 443,421 439,422 435,421 430,417 426,415 422,416 418,417 414,418 411,418 407,417 403,417 399,420 396,424 392,427 388,426 384,424 380,421 376,420 373,422 369,422 365,421 361,419 358,417 354,417 350,417 346,417 342,419 338,419 334,418 330,418 326,418 322,418 318,415 316,410 313,407 308,409 302,415 296,418 292,416 289,413 284,414 277,417 272,417 269,414 264,414 257,417 248,421 240,425 234,426 230,422 226,419 222,417 218,414 213,412 210,409 205,406 200,404 197,401 193,397 189,394 184,392 180,389 178,384 177,378 174,374 170,371 165,368 158,367 150,365 142,364 134,362 126,360 120,357 112,355 102,353 94,350 88,346 82,342 77,337 71,332 64,328 61,322 60,316 60,309 57,303 56,297 55,290 53,284 51,278 47,272 42,266 36,260 32,254 33,247 36,240 39,233 39,227" stroke="#d864e7" stroke-width="2.04"/><polygon points="39,220 40,213 45,207 51,201 58,195 62,189 66,183 70,178 73,172 74,166 75,160 79,155 84,150 87,145 88,139 89,133 94,128 101,124 109,121 115,117 118,113 119,107 118,101 119,95 123,91 131,89 138,86 141,82 144,77 150,75 158,73 164,71 170,70 178,69 185,68 190,66 195,64 199,61 204,59 208,57 212,54 217,52 222,51 227,50 232,48 236,47 239,44 243,41 248,41 254,42 258,40 259,35 261,30 266,29 271,30 276,30 281,29 284,27 289,27 294,27 297,26 302,26 307,28 311,29 315,27 318,25 323,25 328,29 333,31 336,30 340,29 343,28 347,26 350,23 353,21 358,23 362,28 366,29 369,23 373,19 376,16 380,15 384,14 388,13 392,14 396,17 399,19 403,18 407,17 411,18 414,22 417,27 421,29 425,25 430,21 435,20 438,21 442,21 447,21 451,20 455,19 460,19 464,21 467,24 470,26 474,27 477,30 482,30 487,29 491,29 498,26 504,24 509,25 512,28 517,29 522,29 526,31 528,35 532,38 537,39 539,43 541,48 544,51 549,52 556,52 565,49 573,48 577,51 582,53 587,55 592,58 597,61 600,64 604,68 612,68 621,69 629,70 636,72 644,74 649,78 651,83 656,87 661,91 666,95 673,99 679,103 682,108 686,113 691,118 696,123 699,128 703,133 711,138 719,143 723,148 725,155 724,162 725,168 733,173 742,179 745,186 742,193 740,200 743,206 744,213 746,220 750,227 753,234 754,241 752,248 750,255 749,262 744,268 734,273 725,279 722,285 723,292 723,298 719,304 713,309 708,314 701,319 693,323 687,327 684,333 681,338 673,341 664,344 659,348 656,353 652,357 647,361 642,365 638,369 635,374 635,380 631,384 625,387 619,389 615,393 609,395 600,395 592,395 588,398 586,403 583,408 579,411 574,414 568,415 562,416 557,418 552,419 545,419 539,418 532,417 526,416 521,418 517,420 512,420 506,419 500,417 495,417 492,421 490,426 486,427 481,427 476,428 470,425 464,420 459,418 455,418 451,419 447,419 443,421 439,421 434,420 430,419 426,419 423,421 419,422 415,423 411,423 407,420 403,417 399,419 396,423 392,427 388,428 384,425 380,420 377,417 373,417 369,418 365,418 361,417 357,419 353,423 349,425 345,422 341,421 337,420 334,418 331,415 326,416 321,419 317,419 315,414 312,411 307,412 300,417 295,420 292,416 289,412 284,414 278,416 273,416 270,413 264,413 257,417 249,421 241,423 236,423 232,419 228,417 223,415 217,415 212,414 208,410 204,408 198,406 195,402 192,398 185,397 178,396 175,393 175,386 174,380 170,377 164,375 159,372 153,370 145,368 135,368 125,367 117,365 111,362 106,358 101,353 98,348 93,344 83,341 75,338 68,333 64,328 60,323 57,317 58,310 60,302 59,296 57,290 53,284 50,278 45,272 38,267 34,260 32,254 33,247 36,240 38,233 40,227" stroke="#da64e7" stroke-width="2.03"/><polygon points="36,220 39,213 43,207 48,201 54,195 61,189 65,183 69,177 69,171 68,165 70,159 74,154 81,149 85,144 86,138 87,132 91,127 97,123 103,119 109,115 114,111 117,106 116,100 117,94 122,90 130,88 137,86 138,80 140,75 148,73 159,74 167,73 171,70 175,67 182,66 188,65 192,62 196,59 202,57 208,57 213,55 218,53 224,53 229,53 233,50 236,47 240,45 244,43 250,44 257,46 261,44 262,39 263,33 267,31 273,32 277,31 280,28 284,27 289,27 294,28 298,27 302,27 307,28 310,26 313,23 318,22 323,26 328,29 333,31 336,30 339,28 343,27 346,24 350,21 354,21 358,26 362,29 366,27 369,22 373,18 376,15 380,14 384,13 388,11 392,12 396,16 399,20 403,20 407,18 411,18 414,22 418,26 422,25 426,21 431,17 435,17 439,18 443,19 447,20 450,22 455,21 460,19 465,18 469,19 473,20 476,22 480,25 485,24 490,24 493,27 497,28 502,28 506,29 510,31 516,30 521,31 524,34 527,37 533,37 539,37 543,39 545,44 549,46 553,48 558,49 565,49 572,49 578,51 583,53 587,56 590,60 595,62 602,63 610,64 618,65 626,66 632,68 639,71 646,73 651,77 652,83 657,87 664,90 669,94 673,99 675,104 679,109 685,113 690,118 696,123 701,127 706,133 712,138 718,143 724,148 727,154 727,161 726,168 731,174 739,180 742,186 743,193 747,199 751,206 753,213 754,220 758,227 759,234 757,241 755,248 754,255 755,262 750,269 740,274 732,280 727,286 725,292 727,299 726,306 721,312 714,316 706,321 699,325 694,330 689,335 683,339 676,343 669,346 663,350 656,353 651,357 648,362 647,367 643,372 640,376 635,380 630,383 624,386 619,389 614,392 606,393 597,393 590,393 584,395 582,400 580,405 578,410 574,413 568,414 561,414 555,416 552,419 546,420 540,420 534,419 527,418 522,419 517,419 512,420 508,422 504,424 499,424 495,426 491,428 486,428 481,427 476,428 471,427 466,425 461,425 457,425 453,425 448,424 444,424 439,423 435,423 431,423 427,425 424,427 420,426 415,423 411,421 407,420 403,421 400,423 396,425 392,425 388,425 384,424 380,421 377,419 373,417 369,415 366,413 362,414 357,420 352,426 348,428 344,425 341,420 338,417 335,414 332,411 328,411 323,415 318,416 315,414 311,412 306,413 300,418 294,420 291,417 288,414 284,413 279,414 274,415 269,415 263,416 256,418 250,420 244,420 238,419 233,419 227,418 221,418 216,417 211,414 208,410 205,406 199,405 194,403 189,401 183,399 177,398 174,394 173,387 172,381 168,378 161,377 156,374 151,371 142,370 133,369 125,367 117,365 108,363 102,359 99,354 97,349 94,344 86,340 76,337 68,333 65,328 64,321 62,315 61,309 60,302 59,296 58,290 56,284 50,278 42,273 35,267 34,260 35,254 36,247 37,240 37,233 36,227" stroke="#dd64e8" stroke-width="2.03"/><polygon points="36,220 35,213 34,207 38,200 47,194 56,188 63,183 66,177 65,171 62,164 65,158 74,154 82,149 86,144 86,138 86,132 90,127 96,123 102,119 106,114 111,110 115,106 116,100 115,93 118,88 123,85 130,82 134,78 137,73 144,71 154,71 162,70 168,68 174,66 182,66 189,65 192,61 193,56 198,54 206,55 212,54 218,53 223,52 227,50 230,46 234,45 241,46 247,46 253,47 258,48 262,46 264,41 266,37 269,34 274,34 278,33 281,30 283,26 287,23 292,25 298,27 303,28 306,26 309,22 313,22 318,24 323,26 327,27 331,27 335,25 338,22 342,21 345,20 349,19 353,20 358,25 362,28 366,27 369,23 373,19 376,17 380,18 384,18 388,15 392,15 396,18 399,22 403,22 407,21 411,21 414,22 418,21 423,19 427,17 431,17 435,18 439,20 443,19 447,19 452,18 456,17 461,17 465,18 469,19 473,20 477,20 481,22 485,23 489,25 491,30 494,33 499,32 505,31 509,32 513,34 517,36 521,38 526,39 532,38 539,36 545,37 550,38 554,40 558,43 561,47 565,49 572,49 579,49 585,51 590,54 593,57 598,60 607,60 617,59 625,60 631,62 637,66 641,69 645,73 649,78 653,82 658,86 665,90 671,93 676,97 679,103 683,107 688,112 691,118 694,123 700,128 705,133 710,138 715,143 720,149 724,155 727,161 730,167 733,173 738,180 742,186 745,193 750,199 755,206 758,213 763,220 765,227 763,234 759,241 757,248 758,256 760,263 757,270 750,276 744,282 735,287 728,293 729,300 730,307 726,313 719,318 711,322 704,327 697,331 689,335 685,340 682,345 678,350 671,354 663,356 655,359 648,361 645,366 643,372 640,376 633,379 626,381 620,383 617,388 613,391 604,392 596,392 590,393 584,395 580,398 580,405 578,410 574,414 570,416 565,418 559,420 554,421 547,421 541,421 536,423 530,422 523,420 516,418 512,420 509,425 507,429 502,430 497,430 492,430 486,428 480,427 476,428 472,428 467,427 463,428 459,430 454,430 449,428 445,427 440,425 436,425 432,426 428,427 424,429 420,428 415,425 411,422 407,422 404,425 400,427 396,428 392,427 388,426 384,424 380,423 376,421 373,418 369,416 366,412 362,411 358,417 353,424 348,427 345,425 342,420 339,414 336,411 332,411 327,413 323,413 319,413 315,414 310,416 305,418 299,420 295,419 291,418 287,417 282,417 278,415 274,414 268,416 260,420 254,422 249,421 244,420 238,420 231,421 225,421 220,420 216,417 212,413 209,410 203,408 196,408 191,406 187,403 184,399 179,396 175,393 171,389 168,385 164,381 159,379 153,376 147,374 138,372 131,371 124,368 115,366 105,365 99,361 95,356 92,351 87,346 80,342 73,338 69,333 66,327 65,321 63,315 60,309 58,303 59,296 61,289 59,283 52,278 43,273 38,267 37,260 36,253 34,247 35,240 36,233 36,227" stroke="#df64e8" stroke-width="2.02"/><polygon points="35,220 37,213 37,207 40,200 45,194 52,188 57,182 60,176 62,170 64,164 68,159 77,154 84,150 85,144 85,138 85,132 88,126 92,121 96,117 101,112 107,108 112,104 113,98 113,92 116,87 121,84 127,80 130,75 133,71 142,70 151,69 158,67 163,64 170,63 179,63 187,63 190,60 191,55 196,52 204,53 211,53 217,53 222,51 225,48 229,45 235,46 242,47 247,46 250,44 254,42 258,40 262,39 267,38 270,36 274,34 279,34 283,34 286,31 289,27 292,24 296,23 300,22 304,20 308,19 313,20 318,24 323,26 327,26 331,27 335,25 338,21 341,19 346,21 350,24 354,24 358,23 362,26 366,27 369,24 373,20 376,18 380,20 384,20 388,18 392,17 396,19 399,18 403,17 407,17 411,18 415,19 419,17 423,16 427,17 431,19 434,21 438,24 442,23 447,19 452,15 457,14 462,15 465,18 467,22 471,25 475,25 478,27 483,28 487,29 491,30 495,32 499,32 504,32 508,34 511,38 514,41 519,40 526,39 532,37 538,37 544,38 550,38 555,40 558,43 563,44 569,46 574,47 580,48 586,50 594,50 599,53 601,57 607,60 616,59 624,60 630,63 635,67 639,70 644,74 651,77 658,80 664,83 668,88 673,92 677,97 681,102 685,107 688,112 689,118 693,124 700,128 707,132 713,137 717,143 719,149 723,155 731,160 735,166 737,173 741,179 745,186 749,192 751,199 756,206 762,213 767,220 768,227 766,234 763,242 762,249 763,256 761,263 756,270 750,276 742,282 735,287 731,293 730,300 728,306 723,312 718,317 711,322 701,326 690,329 684,333 682,338 679,344 675,349 670,353 662,356 655,359 649,362 644,366 641,371 637,375 631,377 624,380 619,383 615,387 611,390 605,392 598,393 593,396 587,398 583,401 583,408 582,414 577,417 571,418 566,420 560,421 554,422 546,420 541,420 537,423 532,425 527,426 521,425 516,427 513,430 509,433 503,432 498,432 493,432 488,432 483,433 478,433 472,430 466,426 461,425 458,427 453,427 449,426 445,427 441,428 437,429 433,430 429,431 424,430 420,427 416,425 411,423 407,422 403,423 400,425 396,426 392,426 388,426 384,426 380,426 376,423 373,420 369,419 365,419 361,419 357,421 353,423 349,422 345,421 342,419 338,416 335,414 331,415 326,416 323,415 319,413 315,413 310,416 305,418 301,417 296,417 290,419 285,420 281,419 277,417 273,416 266,419 258,423 253,423 248,422 242,423 235,424 228,424 223,424 219,421 216,416 212,413 207,411 202,409 197,407 193,404 190,400 188,395 185,391 179,389 173,387 169,384 165,381 160,377 153,376 144,376 133,376 124,375 117,372 110,369 103,366 97,362 93,357 88,352 82,348 77,344 76,337 74,331 70,326 66,320 63,315 60,309 61,302 64,295 66,288 62,282 51,278 41,273 40,266 41,260 38,253 33,247 30,240 30,234 32,227" stroke="#e164e9" stroke-width="2.02"/><polygon points="29,220 36,213 41,207 44,200 45,194 47,188 52,182 58,176 63,170 68,165 71,159 74,154 77,148 80,143 83,137 83,131 83,125 85,119 90,114 97,111 102,106 104,101 104,94 106,89 112,85 121,83 128,81 129,75 133,70 141,69 149,68 155,65 161,63 169,62 176,61 181,59 186,56 192,55 198,54 205,54 211,53 217,52 221,51 226,49 231,48 236,47 241,46 246,45 250,43 253,40 256,38 261,37 264,34 267,31 271,29 276,30 282,33 288,35 292,33 293,27 294,18 298,17 304,21 310,24 314,25 318,25 323,25 327,26 331,28 335,27 339,25 342,23 346,24 351,26 354,25 357,21 361,19 365,19 369,20 373,19 376,17 380,18 384,19 388,20 392,20 396,19 400,17 403,17 407,19 411,21 414,22 419,20 423,16 428,14 431,16 435,18 439,20 443,20 448,17 452,16 456,17 460,18 464,20 467,24 469,28 473,30 476,33 480,34 484,33 489,33 493,34 497,36 503,35 509,33 513,35 517,36 523,35 529,35 534,35 540,36 545,37 550,38 554,41 558,43 564,44 570,45 575,46 582,47 589,47 597,48 601,51 601,57 604,62 611,63 618,65 625,67 632,69 638,71 645,74 653,76 661,78 666,82 671,86 677,91 680,96 683,101 686,106 690,111 695,116 700,121 708,125 715,130 721,135 724,141 723,148 725,155 734,160 740,166 742,172 747,179 752,185 754,192 755,199 759,206 764,213 766,220 769,227 768,235 766,242 765,249 763,256 759,263 753,269 745,275 738,281 733,287 730,293 727,299 724,305 721,312 718,318 712,322 702,326 693,330 686,333 678,337 673,341 671,347 668,352 662,356 655,359 648,362 643,365 637,368 632,372 626,374 622,378 619,383 617,388 615,393 611,397 603,398 596,399 592,402 589,406 587,412 584,416 580,419 574,421 567,421 560,421 552,419 543,416 538,418 537,423 534,428 530,430 525,431 518,430 513,430 509,433 505,436 501,438 497,441 494,444 489,445 482,442 474,434 466,427 461,425 457,426 453,425 449,426 445,429 441,429 436,427 433,430 429,434 425,434 420,431 416,429 412,426 407,423 403,422 400,424 396,425 392,424 388,424 384,425 380,426 376,426 372,425 368,425 365,423 361,423 357,424 353,421 350,417 346,420 341,424 337,424 333,422 329,422 325,421 321,421 316,422 312,422 307,422 303,421 299,421 294,422 288,423 284,423 279,422 275,421 269,422 261,427 254,430 249,429 244,427 239,427 233,427 228,425 222,424 217,422 213,419 210,416 205,413 202,410 199,405 198,400 196,394 194,390 189,388 182,387 176,385 170,383 164,381 158,379 150,378 140,378 130,378 120,377 115,373 111,368 106,364 100,361 95,356 90,352 84,347 81,342 80,336 78,330 72,325 66,321 62,315 62,309 64,301 64,295 62,289 56,284 46,279 37,274 36,267 37,260 36,253 32,247 28,240 26,234 26,227" stroke="#e464e9" stroke-width="2.01"/><polygon points="21,220 29,213 36,207 41,200 45,194 48,188 52,182 58,176 63,170 67,165 70,159 70,153 69,146 71,140 75,135 78,130 80,124 81,118 86,113 93,109 98,105 98,98 99,92 102,87 109,84 120,83 127,80 130,75 134,71 139,68 144,64 149,61 158,61 169,62 176,61 179,57 185,55 193,56 200,56 205,54 211,53 217,53 224,53 230,53 234,51 237,48 242,47 248,47 253,47 256,44 257,39 259,35 260,29 264,26 269,26 275,28 281,30 288,34 292,33 294,28 295,21 300,21 306,26 312,30 316,31 319,28 323,25 326,24 330,23 334,21 338,20 342,20 345,20 349,20 353,21 357,18 361,15 365,15 369,20 373,22 376,19 380,18 384,20 388,23 392,22 396,19 400,17 403,18 407,20 411,23 414,23 419,20 424,14 429,10 433,11 436,12 441,12 445,12 450,10 454,10 458,11 462,14 464,19 466,25 469,29 473,30 477,31 480,33 484,34 488,35 492,36 496,37 502,35 509,32 515,31 520,32 525,33 529,34 535,35 540,35 545,37 550,38 557,38 563,38 569,39 575,40 581,41 588,42 593,44 597,48 598,53 600,58 605,61 611,63 619,64 628,65 638,65 644,68 649,71 655,75 660,79 665,83 671,87 676,91 683,95 687,99 690,105 695,110 704,113 712,118 719,122 723,128 726,134 729,140 729,147 730,154 736,159 741,166 744,172 749,178 754,185 756,192 758,199 762,206 762,213 760,220 761,227 761,234 761,241 763,249 762,256 759,263 754,269 747,275 741,282 737,288 731,293 725,299 721,305 718,311 715,317 711,322 705,327 699,332 691,335 682,339 676,342 672,347 667,351 660,355 652,357 646,360 640,363 634,366 629,370 626,374 623,379 620,384 619,389 617,395 612,398 605,399 597,400 591,401 588,406 587,412 584,416 579,418 574,421 569,424 563,424 553,421 545,418 540,420 539,426 537,431 533,435 528,436 520,433 513,431 510,435 508,440 504,444 500,445 495,447 490,447 483,443 475,436 468,430 463,430 459,431 454,429 450,431 447,435 441,431 435,424 431,423 428,429 425,433 421,434 416,431 412,428 408,427 404,428 400,429 396,427 392,424 388,422 384,422 380,426 376,429 372,428 368,426 365,423 361,424 356,426 353,423 350,417 346,418 341,422 337,424 332,424 329,423 324,422 320,424 314,427 310,426 307,423 302,423 297,426 291,427 287,426 283,425 277,426 272,427 266,428 259,430 252,433 247,432 241,432 236,431 231,429 228,425 224,422 218,422 212,421 208,418 206,412 205,407 201,403 199,398 199,392 194,389 187,389 180,388 176,385 171,382 164,381 156,381 148,380 140,378 132,376 124,375 117,372 112,368 107,364 101,360 94,357 88,353 83,348 80,342 79,336 75,331 71,326 67,320 62,315 61,309 62,302 59,296 54,291 50,285 45,279 40,273 36,267 32,261 28,254 25,248 24,241 22,234 19,227" stroke="#e664ea" stroke-width="2.01"/><polygon points="18,220 26,213 31,206 36,200 43,194 47,188 49,181 52,175 58,170 64,164 68,159 66,152 65,145 66,139 70,134 74,128 77,123 81,118 86,113 93,109 98,105 100,99 102,94 105,88 111,85 119,82 123,78 125,73 130,69 136,66 140,62 146,59 156,60 166,60 172,59 178,56 184,55 190,54 197,53 202,51 208,50 214,50 220,49 227,50 233,50 238,49 243,49 249,49 254,48 256,44 256,38 258,33 261,29 265,28 270,28 275,27 280,27 285,28 289,27 292,24 296,22 300,22 305,24 310,24 314,25 318,24 322,22 325,20 329,17 332,15 336,14 340,14 345,15 349,16 353,17 357,16 360,14 364,14 369,18 373,21 376,19 380,18 384,19 388,21 392,21 396,19 400,17 403,17 407,16 412,15 416,14 420,14 424,11 429,8 433,10 437,10 442,8 446,8 450,8 455,8 459,9 462,13 465,16 469,19 472,21 476,23 480,25 483,28 487,29 491,31 494,33 498,34 503,34 508,34 513,34 520,32 525,32 529,34 533,36 538,37 543,38 550,38 559,36 568,33 574,34 579,36 586,37 592,38 596,42 597,48 599,53 604,55 611,57 618,58 625,60 633,61 641,63 647,66 652,70 656,74 660,79 665,83 672,86 678,90 685,93 691,98 692,104 697,109 705,113 713,117 720,122 725,127 729,133 730,140 729,147 730,154 732,160 737,166 744,172 748,178 751,185 753,192 755,199 758,206 760,213 759,220 757,227 756,234 756,241 757,248 757,255 757,263 755,269 751,276 745,282 738,288 730,293 724,299 720,304 717,310 714,316 709,321 702,326 696,330 688,334 681,338 676,342 670,347 663,350 656,353 652,357 648,362 643,365 635,367 629,370 626,375 623,379 620,383 619,389 616,394 610,396 604,398 598,400 591,401 588,405 587,411 585,417 580,420 575,422 570,424 564,425 556,424 548,422 543,423 540,428 536,431 532,434 528,437 523,437 517,437 512,437 507,439 503,441 497,441 492,440 486,439 480,437 474,433 468,430 464,433 461,436 456,435 452,436 447,436 442,432 436,427 432,426 428,428 424,429 420,429 416,427 412,428 408,432 404,435 400,432 396,428 392,425 388,422 384,422 380,425 376,428 372,428 368,425 365,422 361,425 356,428 352,426 349,421 346,419 341,420 337,423 332,424 328,423 324,422 320,423 316,423 312,421 308,422 302,423 296,427 290,431 285,431 281,429 275,430 269,432 264,432 258,432 253,432 246,434 238,436 233,435 229,432 226,427 223,424 217,423 211,422 207,419 205,414 204,408 200,405 195,402 194,397 190,394 182,393 175,393 170,390 166,387 160,384 153,383 147,380 141,377 135,375 127,373 118,371 110,369 105,365 97,362 90,359 84,355 79,350 75,345 73,338 71,333 67,327 64,321 60,316 61,309 61,302 58,296 54,291 49,285 45,279 42,273 39,267 34,260 26,254 21,248 17,241 12,234 12,227" stroke="#e964ea" stroke-width="2.00"/><polygon points="17,220 26,213 30,206 33,200 40,194 45,187 45,181 47,175 54,169 62,164 66,158 67,152 68,146 69,140 72,134 73,128 76,123 82,118 90,114 95,110 96,104 98,98 103,94 110,91 115,87 118,82 118,76 120,70 127,67 133,64 137,60 145,59 155,59 162,58 169,56 175,54 182,53 189,53 196,52 201,50 206,49 210,46 215,44 223,46 231,48 237,48 241,46 246,45 250,43 252,40 255,36 258,32 261,30 266,29 271,30 275,28 277,23 281,21 285,20 290,20 294,19 298,18 303,18 308,20 314,23 318,23 321,19 323,13 327,11 331,12 336,12 340,12 344,14 348,14 352,14 356,13 360,10 364,10 368,12 372,16 376,16 380,15 384,15 388,16 392,17 396,17 400,18 403,17 408,11 412,8 416,10 420,14 424,15 428,13 432,12 437,9 443,5 447,5 451,7 454,10 458,11 462,12 467,12 471,14 474,17 478,19 482,21 485,24 488,26 493,27 497,28 501,29 506,30 509,32 513,34 518,35 522,36 526,38 532,38 540,35 547,34 552,36 559,35 568,33 575,33 580,35 586,36 592,38 594,43 596,48 601,51 608,52 616,53 622,55 625,60 628,64 635,67 643,68 650,71 654,75 658,80 664,83 671,87 677,90 684,94 690,98 694,104 697,109 701,114 706,119 713,124 721,129 727,134 730,140 731,147 731,153 731,160 735,166 741,172 745,179 746,186 747,192 748,199 751,206 757,213 759,220 757,227 755,234 754,241 752,248 750,255 751,262 752,269 749,276 743,282 733,287 726,292 722,298 719,304 717,310 713,316 705,320 696,324 689,328 684,333 679,337 676,343 671,347 664,350 660,354 657,359 653,364 647,368 639,370 632,371 626,374 622,378 620,383 617,388 613,392 606,393 601,396 599,401 594,404 588,405 585,409 584,417 582,422 577,424 570,425 564,425 558,426 551,426 546,427 542,431 538,433 532,434 527,435 523,437 518,439 513,441 508,440 502,440 497,440 491,438 485,437 480,436 474,434 469,434 465,435 460,433 455,433 452,436 447,436 442,434 438,433 433,433 429,433 425,431 420,429 416,427 412,428 408,432 404,433 400,431 396,428 392,426 388,426 384,427 380,429 376,429 372,429 368,426 365,422 361,423 356,426 352,428 348,426 345,422 341,423 335,428 330,431 326,430 323,429 318,429 313,430 309,429 305,428 301,426 297,426 289,431 283,434 279,433 274,432 269,433 264,432 258,432 253,432 247,432 241,432 235,432 230,431 227,427 223,423 217,423 210,423 204,423 201,418 201,410 199,406 194,403 191,399 186,397 179,396 173,394 168,391 164,388 157,387 148,386 142,383 137,380 131,377 125,374 117,372 111,369 104,365 96,363 87,360 79,357 73,352 70,347 71,339 72,332 68,327 63,322 58,316 57,310 59,303 57,296 53,291 46,285 41,280 38,273 36,267 33,261 26,254 17,248 10,241 6,234 8,227" stroke="#eb64eb" stroke-width="2.00"/></g><defs><clipPath id="dclip"><rect x="240" y="185" width="9.5" height="16"/></clipPath></defs><text x="241.5" y="198.8" font-size="16.5" font-weight="bold" fill="#111" clip-path="url(#dclip)">D</text><defs><linearGradient id="tg" x1="0" x2="1" y1="0" y2="0"><stop offset="0" stop-color="#1f6b8c"/><stop offset="0.5" stop-color="#8a62c8"/><stop offset="1" stop-color="#fb72fb"/></linearGradient></defs><rect x="136.8" y="102.7" width="125.2" height="10.7" fill="url(#tg)"/><text x="131.8" y="99.9" font-size="12.5" fill="#222">0h</text><text x="199.8" y="99.9" font-size="12.5" fill="#222" text-anchor="middle">13h</text><text x="272" y="99.9" font-size="12.5" fill="#222" text-anchor="end">26h</text><rect x="136.8" y="120.9" width="55.2" height="3.5" fill="#000"/><text x="195" y="126.7" font-size="13" fill="#222">500 µm</text><line x1="124" y1="231.3" x2="261" y2="231.3" stroke="#111" stroke-width="1.6"/><path d="M117,231.3 l8.5,-3.6 l0,7.2Z M267.4,231.3 l-8.5,-3.6 l0,7.2Z" fill="#111"/><text x="190.6" y="243.9" font-size="14" fill="#222" text-anchor="middle">groove orientation</text><text class="lab" x="401" y="23.3">b</text><path d="M415.8,40.5 423.1,41 429.6,42.6 436.2,45.7 444,47.8 451.9,49.6 459.8,51 463.7,54.1 469,58.8 476.8,64.1 482,69.3 488.6,73.2 496.5,79.8 504.3,86.3 512.2,92.9 517.4,98.1 524,100.7 532.9,108.7 540.7,115.2 548.6,121.8 556.5,127 564.3,132.3 572.2,137.5 580.1,142.7 587.9,146.7 595.8,150.6 603.7,155.3 611.5,159.8 619.4,163.7 624.6,164.2 629.9,166.9 637.7,169 645.6,171.6 653.5,172.9 661.3,175.5" fill="none" stroke="#2a7ad2" stroke-width="1.8" stroke-dasharray="4.6,2.6"/><path d="M415.8,176.2 423.1,177.2 431,177.2 441.4,175.4 451.9,172.8 462.4,168.9 472.9,165.7 483.4,162.3 493.8,157.1 501.7,150.5 509.6,145.3 520,136.1 525,132.3 532.9,127 540.7,121.8 548.6,113.9 556.5,107.3 564.3,100.8 572.2,94.2 580.1,90.3 587.9,83.7 595.8,77.2 603.7,72 611.5,68 619.4,65.4 627.3,60.2 635.1,56.2 643,51 650.9,47 658.7,42.6 662.6,41.8" fill="none" stroke="#ee2a2a" stroke-width="1.8" stroke-dasharray="3.8,3.2"/><path d="M415.8,196.9 423.1,196.9 431,195.6 438.8,193 446.7,191.9 454.5,190.3 461.1,190.3 465,187.2 470.3,183.3 478.1,180.6 483.4,175.4 491.2,171.5 499.1,164.9 506.9,159.7 514.8,153.1 522.7,149.2 525,149.3 532.9,142.7 540.7,137.5 548.6,129.1 553.8,126.5 556.5,123.1 564.3,116.5 572.2,110 580.1,102.9 587.9,96.9 595.8,92.4 601,86.4 608.9,81.1 615.5,74.6 622,72 626,70.6 632.5,65.4 637.7,63.6 645.6,58.8 653.5,56.2 657.4,54.9 661.9,52.3" fill="none" stroke="#2f9144" stroke-width="1.8"/><line x1="414.6" y1="38.2" x2="414.6" y2="202.6" stroke="#4f4fe6" stroke-width="1.6"/><line x1="416.1" y1="38.2" x2="416.1" y2="202" stroke="#46a85a" stroke-width="1.1"/><line x1="411" y1="38.7" x2="414" y2="38.7" stroke="#4f4fe6" stroke-width="1.1"/><line x1="416" y1="38.7" x2="420.6" y2="38.7" stroke="#46a85a" stroke-width="1.1"/><line x1="411" y1="59.2" x2="414" y2="59.2" stroke="#4f4fe6" stroke-width="1.1"/><line x1="416" y1="59.2" x2="420.6" y2="59.2" stroke="#46a85a" stroke-width="1.1"/><line x1="411" y1="79.6" x2="414" y2="79.6" stroke="#4f4fe6" stroke-width="1.1"/><line x1="416" y1="79.6" x2="420.6" y2="79.6" stroke="#46a85a" stroke-width="1.1"/><line x1="411" y1="100" x2="414" y2="100" stroke="#4f4fe6" stroke-width="1.1"/><line x1="416" y1="100" x2="420.6" y2="100" stroke="#46a85a" stroke-width="1.1"/><line x1="411" y1="120.5" x2="414" y2="120.5" stroke="#4f4fe6" stroke-width="1.1"/><line x1="416" y1="120.5" x2="420.6" y2="120.5" stroke="#46a85a" stroke-width="1.1"/><line x1="411" y1="140.9" x2="414" y2="140.9" stroke="#4f4fe6" stroke-width="1.1"/><line x1="416" y1="140.9" x2="420.6" y2="140.9" stroke="#46a85a" stroke-width="1.1"/><line x1="411" y1="161.4" x2="414" y2="161.4" stroke="#4f4fe6" stroke-width="1.1"/><line x1="416" y1="161.4" x2="420.6" y2="161.4" stroke="#46a85a" stroke-width="1.1"/><line x1="411" y1="181.9" x2="414" y2="181.9" stroke="#4f4fe6" stroke-width="1.1"/><line x1="416" y1="181.9" x2="420.6" y2="181.9" stroke="#46a85a" stroke-width="1.1"/><line x1="411" y1="202.3" x2="414" y2="202.3" stroke="#4f4fe6" stroke-width="1.1"/><text class="s" x="406.7" y="38.2" font-size="10" fill="#1f1ff5" text-anchor="end">1</text><text class="s" x="406.7" y="79.1" font-size="10" fill="#1f1ff5" text-anchor="end">0.8</text><text class="s" x="406.7" y="120" font-size="10" fill="#1f1ff5" text-anchor="end">0.7</text><text class="s" x="406.7" y="160.9" font-size="10" fill="#1f1ff5" text-anchor="end">0.6</text><text class="s" x="406.7" y="201.8" font-size="10" fill="#1f1ff5" text-anchor="end">0.5</text><text class="s" x="426.2" y="38.2" font-size="10" fill="#1e7a3c">1.8</text><text class="s" x="426.2" y="79.1" font-size="10" fill="#1e7a3c">1.6</text><text class="s" x="426.2" y="120" font-size="10" fill="#1e7a3c">1.4</text><text class="s" x="426.2" y="160.9" font-size="10" fill="#1e7a3c">1.2</text><line x1="666.6" y1="38.6" x2="666.6" y2="202.6" stroke="#f03030" stroke-width="1.2"/><line x1="666.6" y1="38.9" x2="670.6" y2="38.9" stroke="#f03030" stroke-width="1.1"/><line x1="666.6" y1="66.1" x2="670.6" y2="66.1" stroke="#f03030" stroke-width="1.1"/><line x1="666.6" y1="93.4" x2="670.6" y2="93.4" stroke="#f03030" stroke-width="1.1"/><line x1="666.6" y1="120.6" x2="670.6" y2="120.6" stroke="#f03030" stroke-width="1.1"/><line x1="666.6" y1="147.8" x2="670.6" y2="147.8" stroke="#f03030" stroke-width="1.1"/><line x1="666.6" y1="175.1" x2="670.6" y2="175.1" stroke="#f03030" stroke-width="1.1"/><line x1="666.6" y1="202.3" x2="670.6" y2="202.3" stroke="#f03030" stroke-width="1.1"/><text class="s" x="675" y="38.3" font-size="10.5" fill="#f01e1e">5</text><text class="s" x="675" y="92.7" font-size="10.5" fill="#f01e1e">4</text><text class="s" x="675" y="147.2" font-size="10.5" fill="#f01e1e">3</text><text class="s" x="675" y="202.4" font-size="10.5" fill="#f01e1e">2</text><line x1="414" y1="202.3" x2="660" y2="202.3" stroke="#222" stroke-width="1.3"/><path d="M666.6,202.3 L656.6,198.5 L658.8,202.3 L656.6,206.1Z" fill="#111"/><line x1="414.6" y1="202.3" x2="414.6" y2="205.3" stroke="#222" stroke-width="1"/><text class="s" x="414.6" y="219.8" font-size="10.3" fill="#222" text-anchor="middle">0</text><line x1="464.2" y1="202.3" x2="464.2" y2="205.3" stroke="#222" stroke-width="1"/><text class="s" x="464.2" y="219.8" font-size="10.3" fill="#222" text-anchor="middle">5</text><line x1="513.7" y1="202.3" x2="513.7" y2="205.3" stroke="#222" stroke-width="1"/><text class="s" x="513.7" y="219.8" font-size="10.3" fill="#222" text-anchor="middle">10</text><line x1="563.2" y1="202.3" x2="563.2" y2="205.3" stroke="#222" stroke-width="1"/><text class="s" x="563.2" y="219.8" font-size="10.3" fill="#222" text-anchor="middle">15</text><line x1="612.8" y1="202.3" x2="612.8" y2="205.3" stroke="#222" stroke-width="1"/><text class="s" x="612.8" y="219.8" font-size="10.3" fill="#222" text-anchor="middle">20</text><line x1="662.4" y1="202.3" x2="662.4" y2="205.3" stroke="#222" stroke-width="1"/><text class="s" x="662.4" y="219.8" font-size="10.3" fill="#222" text-anchor="middle">25</text><text class="s" x="541" y="233.7" font-size="10.6" fill="#222" text-anchor="middle">Time (h)</text><text x="460.5" y="35" font-size="14" fill="#2f7fc4">Roundness</text><text class="s" x="562.7" y="74.6" font-size="10.5" fill="#ee2222" text-anchor="middle">Area</text><text class="s" x="562.5" y="88.2" font-size="10.5" fill="#ee2222" text-anchor="middle">(mm<tspan font-size="6.5" dy="-4">2</tspan><tspan dy="4">)</tspan></text><text class="s" x="519" y="162.5" font-size="10.5" fill="#1e7f3a">Aspect ratio</text><text class="lab" x="32.5" y="252.3">c</text><defs><linearGradient id="fire" x1="0" x2="1" y1="0" y2="0"><stop offset="0.00" stop-color="#050523"/><stop offset="0.12" stop-color="#140878"/><stop offset="0.20" stop-color="#3c0ac8"/><stop offset="0.28" stop-color="#780ae1"/><stop offset="0.36" stop-color="#b40fa0"/><stop offset="0.44" stop-color="#dc195a"/><stop offset="0.52" stop-color="#f53c19"/><stop offset="0.62" stop-color="#ff7300"/><stop offset="0.74" stop-color="#ffaf00"/><stop offset="0.86" stop-color="#ffe10a"/><stop offset="0.95" stop-color="#fffa78"/><stop offset="1.00" stop-color="#ffffeb"/></linearGradient></defs><rect x="37.2" y="270.2" width="107" height="8.6" fill="url(#fire)"/><text x="37.9" y="267.6" font-size="14" fill="#222" text-anchor="middle">0</text><text x="61.5" y="267.6" font-size="14" fill="#222" text-anchor="middle">10</text><text x="88.8" y="267.6" font-size="14" fill="#222" text-anchor="middle">20</text><text x="117.2" y="267.6" font-size="14" fill="#222" text-anchor="middle">30</text><text x="138.8" y="267.6" font-size="14" fill="#222">40<tspan dx="2">µm.h</tspan><tspan font-size="9" dy="-5.5">-1</tspan></text><rect x="37.2" y="278.8" width="276" height="167.3" fill="#000"/><g fill="none" stroke-width="3.4" stroke-linecap="round" stroke-linejoin="round" filter="url(#bl05)"><path d="M156.7,283.7 157.8,283.7 158.9,283.9 159.9,284.2 160.9,284.6" stroke="#27099e"/><path d="M160.9,284.6 162,284.9 163,285.2 164.1,285.2 165.1,285.2" stroke="#190883"/><path d="M165.1,285.2 166.1,285.6 166.8,286.4 167.6,287.3 168.5,287.7" stroke="#1d0889"/><path d="M168.5,287.7 169.5,287.7 170.5,287.8 171.4,288.4 172.3,289.2" stroke="#3f0ac9"/><path d="M172.3,289.2 173.2,289.7 174.2,289.8 175.2,289.8 176.2,290.1" stroke="#700ade"/><path d="M176.2,290.1 177.1,290.5 178.1,290.6 179.2,290.4 180.2,290.2" stroke="#710ade"/><path d="M180.2,290.2 181.2,290.6 182.2,291.2 183.2,291.3 184.2,290.7" stroke="#510ad1"/><path d="M184.2,290.7 185.2,290.1 186.2,290.2 187.4,291.1 188.6,291.7" stroke="#5a0ad4"/><path d="M188.6,291.7 189.6,291.5 190.5,290.6 191.3,290 192.4,290.1" stroke="#990dbd"/><path d="M192.4,290.1 193.4,290.2 194.2,289.4 195,287.9 195.9,286.5" stroke="#c51382"/><path d="M195.9,286.5 197,286.1 198.1,286.7 199.1,287.3 200.2,287.5" stroke="#c31386"/><path d="M200.2,287.5 201.2,287.6 202.2,288 203,289 203.8,289.9" stroke="#a90eab"/><path d="M203.8,289.9 204.8,290.1 205.9,289.8 207,289.7 207.8,290.3" stroke="#980dbe"/><path d="M207.8,290.3 208.6,291.1 209.6,291.4 210.7,291.2 211.9,291" stroke="#960cc1"/><path d="M211.9,291 212.8,291.3 213.5,292.3 214.3,293.1 215.3,293.2" stroke="#810bd8"/><path d="M215.3,293.2 216.4,293.1 217.4,293.2 218.2,294 219,295" stroke="#590ad4"/><path d="M219,295 219.9,295.2 221.1,294.7 222.1,294.1 223.1,294" stroke="#490ace"/><path d="M223.1,294 224.1,294.6 225,295.2 226,295.5 227,295.5" stroke="#6b0adb"/><path d="M227,295.5 228,295.5 229,295.6 230,295.6 231,295.8" stroke="#9c0dba"/><path d="M231,295.8 231.9,296.4 232.8,297.2 233.6,297.8 234.7,297.7" stroke="#b10fa3"/><path d="M234.7,297.7 235.8,297.2 236.8,297.2 237.6,298.1 238.2,299.4" stroke="#b20fa2"/><path d="M238.2,299.4 238.8,300.4 239.8,300.6 240.9,300.5 241.8,300.8" stroke="#c31386"/><path d="M241.8,300.8 242.6,301.5 243.4,302.2 244.3,302.4 245.6,302" stroke="#9c0dba"/><path d="M245.6,302 247,301.5 248.1,301.4 249.1,301.8 249.8,302.5" stroke="#540ad2"/><path d="M249.8,302.5 250.6,303.2 251.5,303.6 252.6,303.8 253.7,303.9" stroke="#3c0ac8"/><path d="M253.7,303.9 254.6,304.3 255.3,305.2 255.8,306.2 256.5,307.1" stroke="#4e0acf"/><path d="M256.5,307.1 257.3,307.6 258.3,308 259.1,308.5 259.8,309.3" stroke="#960cc1"/><path d="M259.8,309.3 260.3,310.2 260.9,311.1 261.8,311.6 262.9,311.9" stroke="#d81861"/><path d="M262.9,311.9 264.1,312 265.2,312.2 265.9,312.9 266.2,314.1" stroke="#e32347"/><path d="M266.2,314.1 266.4,315.4 267,316.4 267.9,317 268.8,317.4" stroke="#e2224a"/><path d="M268.8,317.4 269.8,317.9 270.7,318.3 271.8,318.5 272.9,318.3" stroke="#e92b39"/><path d="M272.9,318.3 273.9,318.4 274.6,319.2 274.6,320.5 274.3,321.6" stroke="#f94f10"/><path d="M274.3,321.6 274.3,322.6 274.7,323.4 275.3,324.2 275.9,325" stroke="#ff7d00"/><path d="M275.9,325 276.7,325.8 277.5,326.6 278.3,327.3 278.8,328.2" stroke="#ff8500"/><path d="M278.8,328.2 279.2,329.2 279.6,330.3 280.4,331.1 281.3,331.6" stroke="#ff7a00"/><path d="M281.3,331.6 282.3,332 283.2,332.5 284.1,333 284.9,333.6" stroke="#ff7800"/><path d="M284.9,333.6 285.8,334.1 286.7,334.4 287.8,334.6 288.8,335" stroke="#ff8800"/><path d="M288.8,335 289.6,335.7 290.1,336.6 290.6,337.5 291.2,338.3" stroke="#ff9d00"/><path d="M291.2,338.3 291.9,339.1 292.4,340 292.7,341 293.2,341.9" stroke="#ffa700"/><path d="M293.2,341.9 293.9,342.7 294.5,343.5 294.6,344.5 294.2,345.8" stroke="#ffa800"/><path d="M294.2,345.8 293.9,347.1 294.4,348 295.4,348.6 296.4,349.2" stroke="#ffa500"/><path d="M296.4,349.2 296.7,350.1 296.8,351.3 297.1,352.2 297.8,353" stroke="#ffa600"/><path d="M297.8,353 298.4,353.8 298.7,354.8 298.8,355.9 299.3,356.7" stroke="#ffb100"/><path d="M299.3,356.7 300.5,357.2 301.6,357.7 302.3,358.4 302.6,359.4" stroke="#ffbf03"/><path d="M302.6,359.4 303.1,360.3 303.9,361 304.7,361.7 305.3,362.5" stroke="#ffcd06"/><path d="M305.3,362.5 305.4,363.6 305.6,364.6 306,365.6 306.3,366.5" stroke="#ffce06"/><path d="M306.3,366.5 306.5,367.5 306.5,368.6 306.7,369.6 307.2,370.4" stroke="#ffcb06"/><path d="M307.2,370.4 307.8,371.2 308.1,372.2 307.8,373.2 307.3,374" stroke="#ffc805"/><path d="M307.3,374 306.8,374.8 306.3,375.6 305.8,376.4 305,377" stroke="#ffc705"/><path d="M305,377 304.1,377.5 303.1,377.9 302.3,378.6 302.2,379.8" stroke="#ffc404"/><path d="M302.2,379.8 302.4,381.4 302.5,382.9 302,383.8 300.9,384.2" stroke="#ffbb02"/><path d="M300.9,384.2 299.8,384.5 298.9,385.1 298.2,385.8 297.2,386.2" stroke="#ffae00"/><path d="M297.2,386.2 296,386.3 294.9,386.7 294.5,387.7 294.4,389" stroke="#ff9f00"/><path d="M294.4,389 294,390 293,390.4 291.8,390.6 290.9,391.2" stroke="#ff9500"/><path d="M290.9,391.2 290.4,392 289.8,392.9 289,393.5 288.2,394.2" stroke="#ff9300"/><path d="M288.2,394.2 287.8,395.2 287.5,396.2 286.8,397 285.7,397.3" stroke="#ff8a00"/><path d="M285.7,397.3 284.6,397.6 283.9,398.3 283.5,399.3 282.9,400.2" stroke="#ff7400"/><path d="M282.9,400.2 282.1,400.7 281.3,401.3 281,402.5 281,404" stroke="#f84d11"/><path d="M281,404 280.5,405.1 279.5,405.5 278.2,405.5 277.1,405.7" stroke="#ed312d"/><path d="M277.1,405.7 276.4,406.5 275.9,407.6 275.2,408.7 274.4,409.5" stroke="#e92b39"/><path d="M274.4,409.5 273.5,410.2 272.6,410.6 271.5,410.6 270.2,410.1" stroke="#ef3329"/><path d="M270.2,410.1 268.9,409.5 267.8,409.3 266.8,409.6 265.9,410" stroke="#f74a13"/><path d="M265.9,410 265,410.5 264.2,411.1 263.3,411.7 262.5,412.4" stroke="#fa590c"/><path d="M262.5,412.4 261.7,413 260.8,413.6 259.9,414 258.8,413.9" stroke="#f9550e"/><path d="M258.8,413.9 257.6,413.4 256.3,412.9 255.3,412.9 254.5,413.8" stroke="#f13723"/><path d="M254.5,413.8 253.8,414.8 252.9,415.2 251.7,415 250.4,414.6" stroke="#c51382"/><path d="M250.4,414.6 249.4,414.9 248.7,415.7 248,416.6 247.2,417.3" stroke="#8f0cc9"/><path d="M247.2,417.3 246.3,417.7 245.5,418.3 244.7,418.9 243.8,419.4" stroke="#8c0ccb"/><path d="M243.8,419.4 242.8,419.8 242,420.3 241.5,421.3 241,422.3" stroke="#b6109c"/><path d="M241,422.3 240.2,422.9 239.1,423.2 238.3,423.7 237.9,424.9" stroke="#be128e"/><path d="M237.9,424.9 237.7,426.4 237.2,427.3 236.1,427.4 234.8,427.5" stroke="#8a0bce"/><path d="M234.8,427.5 234.1,428.2 233.8,429.4 233.4,430.4 232.4,430.6" stroke="#370abd"/><path d="M232.4,430.6 231,430.5 230.1,431 230.7,432 231.9,432.7" stroke="#140878"/><path d="M231.9,432.7 232,435.1 229.6,435.8 228.2,434.8 227.2,434.1" stroke="#130871"/><path d="M227.2,434.1 226.3,433.8 225.3,433.7 224.3,433.4 223.4,433" stroke="#140877"/><path d="M223.4,433 222.4,432.8 221.4,432.7 220.4,432.8 219.4,432.8" stroke="#200990"/><path d="M219.4,432.8 218.4,432.6 217.5,432.2 216.5,431.8 215.5,431.4" stroke="#3f0ac9"/><path d="M215.5,431.4 214.6,431.1 213.6,431 212.5,431 211.5,431.2" stroke="#750ae0"/><path d="M211.5,431.2 210.4,431.6 209.4,431.9 208.4,432.2 207.4,432.5" stroke="#7c0add"/><path d="M207.4,432.5 206.5,432.9 205.5,433.2 204.5,433.2 203.5,432.8" stroke="#500ad0"/><path d="M203.5,432.8 202.3,432.1 201.2,431.8 200.3,432.2 199.4,432.9" stroke="#2c09a7"/><path d="M199.4,432.9 198.5,433.5 197.5,433.5 196.5,433.4 195.5,433.9" stroke="#3109b3"/><path d="M195.5,433.9 194.7,435.1 193.8,436.3 192.9,436.8 191.8,436.6" stroke="#5a0ad4"/><path d="M191.8,436.6 190.8,436.2 189.7,436.1 188.7,436.1 187.7,435.8" stroke="#750ae0"/><path d="M187.7,435.8 186.7,435.3 185.6,435.1 184.7,435.4 183.7,436" stroke="#710ade"/><path d="M183.7,436 182.7,436.2 181.7,435.9 180.7,435.5 179.6,435.6" stroke="#6c0adc"/><path d="M179.6,435.6 178.7,436.1 177.8,436.5 176.8,436.5 175.7,436.5" stroke="#790ae0"/><path d="M175.7,436.5 174.8,437.1 174.1,438 173.2,438.8 172.2,438.9" stroke="#890bcf"/><path d="M172.2,438.9 171,438.4 170,437.7 169.1,437.4 168.1,437.4" stroke="#890bcf"/><path d="M168.1,437.4 167.1,437.4 166.1,437.2 165.2,436.9 164.2,436.8" stroke="#7c0add"/><path d="M164.2,436.8 163.2,436.5 162.4,435.9 161.7,434.9 161,433.8" stroke="#680ada"/><path d="M161,433.8 160.2,433.2 159.1,433.3 157.8,433.8 156.7,434.1" stroke="#530ad2"/><path d="M156.7,434.1 155.7,433.9 154.7,433.6 153.7,433.4 152.7,433.3" stroke="#4a0ace"/><path d="M152.7,433.3 151.7,433.2 150.8,432.8 149.9,432.2 149,431.6" stroke="#5e0ad6"/><path d="M149,431.6 148,431.1 147.1,430.8 146.1,430.6 145.1,430.6" stroke="#8f0cc9"/><path d="M145.1,430.6 144,431.1 142.8,431.8 141.8,432.3 140.8,432.4" stroke="#ad0ea8"/><path d="M140.8,432.4 139.8,432 138.8,431.6 137.9,431.5 136.9,431.5" stroke="#880bcf"/><path d="M136.9,431.5 135.9,431.4 134.9,431 133.9,430.7 132.9,430.6" stroke="#3c0ac8"/><path d="M132.9,430.6 131.9,430.7 130.9,431 129.9,431.1 128.9,430.8" stroke="#27099f"/><path d="M128.9,430.8 127.8,430.3 126.8,430.1 125.8,430.6 125,431.7" stroke="#5f0ad7"/><path d="M125,431.7 124.1,432.7 123.1,433 122,432.6 121,432.1" stroke="#c31386"/><path d="M121,432.1 120,432.1 119,432.7 118,433.3 116.9,433" stroke="#e7283e"/><path d="M116.9,433 116,432.1 115.1,431.2 114.3,430.7 113.3,430.7" stroke="#e52544"/><path d="M113.3,430.7 112.3,430.6 111.4,430.2 110.6,429.7 109.8,429.2" stroke="#de1c54"/><path d="M109.8,429.2 108.9,428.7 108.3,428 107.6,427.2 106.8,426.6" stroke="#f23821"/><path d="M106.8,426.6 105.9,426.2 105,425.7 104.3,425 103.8,424.1" stroke="#ff7200"/><path d="M103.8,424.1 103.3,423.2 102.7,422.4 102.1,421.7 101.5,421" stroke="#ff8c00"/><path d="M101.5,421 100.8,420.3 100,419.7 99.3,419 98.6,418.2" stroke="#ff7600"/><path d="M98.6,418.2 98,417.3 97.2,416.7 96.2,416.2 95.2,415.8" stroke="#f9540e"/><path d="M95.2,415.8 94.4,415.2 93.5,414.5 92.4,414.5 91.1,414.9" stroke="#fb5b0b"/><path d="M91.1,414.9 90,415.2 89.2,414.7 88.5,413.5 87.8,412.5" stroke="#ff7d00"/><path d="M87.8,412.5 86.8,412.2 85.7,412.3 84.7,412.2 83.9,411.6" stroke="#ff8d00"/><path d="M83.9,411.6 83,410.9 82,410.6 81.1,410.4 80.1,410.1" stroke="#ff7b00"/><path d="M80.1,410.1 79.2,409.5 78.3,409.2 77.2,409.6 75.9,410.4" stroke="#fd6506"/><path d="M75.9,410.4 74.7,410.8 73.8,410.6 72.9,410.1 72,409.7" stroke="#fd6905"/><path d="M72,409.7 70.9,409.6 69.9,409.5 69,409.1 68,408.7" stroke="#ff7800"/><path d="M68,408.7 67,408.4 65.9,408.3 64.8,408.1 63.8,407.6" stroke="#fe7002"/><path d="M63.8,407.6 63.2,406.5 62.9,405.2 62.6,404 62.1,403.2" stroke="#fa580c"/><path d="M62.1,403.2 61.2,402.6 60.2,402.2 59.3,401.5 58.8,400.6" stroke="#fb5e0a"/><path d="M58.8,400.6 58.5,399.7 57.7,399 56.5,398.5 55.3,398" stroke="#ff8c00"/><path d="M55.3,398 54.7,397.2 54.7,396 54.5,395 53.7,394.2" stroke="#ffb802"/><path d="M53.7,394.2 52.5,393.6 51.5,392.9 51.2,392 51.3,390.7" stroke="#ffb401"/><path d="M51.3,390.7 51.5,389.5 51.5,388.4 51.6,387.2 52,386.1" stroke="#ff8500"/><path d="M52,386.1 52.5,385 52.7,384 52.5,383 52.1,382" stroke="#fa580c"/><path d="M52.1,382 51.9,381 52.1,380 52.6,378.9 53.2,377.5" stroke="#fb5b0b"/><path d="M53.2,377.5 53.3,376.1 52.9,375 51.9,374.2 50.9,373.6" stroke="#ff7a00"/><path d="M50.9,373.6 50.2,372.9 49.9,371.9 49.6,371 48.9,370.3" stroke="#ff9400"/><path d="M48.9,370.3 47.8,369.8 46.9,369.3 46.3,368.4 45.9,367.5" stroke="#ff9000"/><path d="M45.9,367.5 45.4,366.7 44.6,366 43.7,365.4 42.9,364.7" stroke="#fe7001"/><path d="M42.9,364.7 42.5,363.8 42.2,362.8 42,361.9 41.8,360.9" stroke="#f95110"/><path d="M41.8,360.9 41.7,360 41.6,359 41.7,358.1 42.1,357.2" stroke="#fc6208"/><path d="M42.1,357.2 42.7,356.5 43.1,355.7 43.2,354.7 43.1,353.4" stroke="#ff9000"/><path d="M43.1,353.4 43.4,352.3 44.2,351.5 45.2,351.1 45.9,350.5" stroke="#ffb100"/><path d="M45.9,350.5 46.4,349.4 46.6,348 47.1,347.1 48.1,346.7" stroke="#ffaf00"/><path d="M48.1,346.7 49.3,346.6 50.3,346.4 51,345.7 51.5,344.8" stroke="#ff9400"/><path d="M51.5,344.8 51.9,343.9 52.6,343.2 53.5,342.6 54.3,342.1" stroke="#ff7b00"/><path d="M54.3,342.1 55.1,341.4 55.8,340.6 56.5,339.9 57.5,339.4" stroke="#ff7300"/><path d="M57.5,339.4 58.5,339.1 59.6,338.8 60.5,338.4 61.4,338" stroke="#ff7500"/><path d="M61.4,338 62.5,337.9 63.6,338.1 64.7,338.1 65.7,337.6" stroke="#ff7900"/><path d="M65.7,337.6 66.4,336.8 67.1,335.9 67.9,335 68.5,334.2" stroke="#fe6e02"/><path d="M68.5,334.2 69.1,333.2 69.2,332.1 69.5,331 69.8,329.8" stroke="#f84c12"/><path d="M69.8,329.8 69.8,328.6 69.4,327.7 68.4,326.9 67.6,326.2" stroke="#e82a3b"/><path d="M67.6,326.2 67.2,325.3 67,324.4 66.9,323.5 66.7,322.5" stroke="#e01f4f"/><path d="M66.7,322.5 66.8,321.6 67.4,320.9 68.2,320.6 69.1,320.1" stroke="#ea2d36"/><path d="M69.1,320.1 69.7,319.5 70.3,318.7 70.9,317.9 71.5,317" stroke="#f3391e"/><path d="M71.5,317 72,316.1 72.5,315.1 73,314.2 73.6,313.3" stroke="#da185e"/><path d="M73.6,313.3 74.2,312.4 74.8,311.5 75.7,311 76.9,311" stroke="#900cc8"/><path d="M76.9,311 78.2,311 79.2,310.8 79.9,310.1 80.6,309.3" stroke="#6c0adc"/><path d="M80.6,309.3 81.6,309 82.7,309 83.7,308.7 84.4,307.9" stroke="#990dbd"/><path d="M84.4,307.9 85.1,306.8 86,306.2 87,306.2 88.1,306.3" stroke="#bb1194"/><path d="M88.1,306.3 89,305.9 89.9,305.3 90.8,304.8 91.8,304.8" stroke="#b60f9d"/><path d="M91.8,304.8 92.9,304.8 93.8,304.5 94.7,303.8 95.5,303.2" stroke="#9f0db7"/><path d="M95.5,303.2 96.4,302.8 97.3,302.4 98.1,301.8 99,301.4" stroke="#ac0ea9"/><path d="M99,301.4 100.1,301.4 101.3,301.7 102.3,301.7 103.2,301" stroke="#b30fa1"/><path d="M103.2,301 103.9,300.1 104.8,299.8 106,300.1 107.1,300.2" stroke="#a10db5"/><path d="M107.1,300.2 107.9,299.5 108.5,298.2 109.2,297.2 110.2,297.1" stroke="#790ae0"/><path d="M110.2,297.1 111.4,297.5 112.6,297.7 113.6,297.4 114.5,297.1" stroke="#6f0add"/><path d="M114.5,297.1 115.6,297.1 116.8,297.5 117.9,297.6 118.9,297.3" stroke="#8d0cca"/><path d="M118.9,297.3 119.7,296.7 120.6,296.2 121.5,295.7 122.3,295.2" stroke="#a00db5"/><path d="M122.3,295.2 123.2,294.7 124.3,294.7 125.5,294.9 126.6,295.2" stroke="#7a0adf"/><path d="M126.6,295.2 127.5,294.9 128.4,294.2 129.2,293.7 130.3,293.8" stroke="#420aca"/><path d="M130.3,293.8 131.4,294 132.4,293.8 133,292.8 133.6,291.3" stroke="#490acd"/><path d="M133.6,291.3 134.4,290.2 135.4,290.1 136.5,290.6 137.7,291.1" stroke="#950cc1"/><path d="M137.7,291.1 138.7,291 139.5,290.2 140.3,289.4 141.2,288.8" stroke="#c51382"/><path d="M141.2,288.8 142.2,288.7 143.3,288.7 144.2,288.1 144.9,287.1" stroke="#ae0fa6"/><path d="M144.9,287.1 145.7,286 146.6,285.2 147.5,284.9 148.5,284.8" stroke="#5e0ad6"/><path d="M148.5,284.8 149.5,284.5 150.5,284.2 151.5,284.2 152.6,284.3" stroke="#3109b2"/><path d="M152.6,284.3 153.7,284.5 154.7,284.4 155.7,284 156.7,283.7" stroke="#2d09a9"/></g><defs><filter id="bl05" x="-5%" y="-5%" width="110%" height="110%"><feGaussianBlur stdDeviation="0.45"/></filter></defs><text x="187" y="306.8" font-size="14" fill="#eaeaea" text-anchor="middle">90°</text><text x="278.6" y="375.8" font-size="14" fill="#eaeaea">0°</text><text x="174.8" y="427.1" font-size="14" fill="#eaeaea">-90°</text><text x="267.6" y="438.1" font-size="14" fill="#eaeaea">500 µm</text><rect x="270.2" y="441.2" width="38" height="2.9" fill="#f4f4f4"/><line x1="106.4" y1="454.3" x2="242.8" y2="454.3" stroke="#111" stroke-width="1.6"/><path d="M100.4,454.3 l8.5,-3.6 l0,7.2Z M248.8,454.3 l-8.5,-3.6 l0,7.2Z" fill="#111"/><text x="175.2" y="467.2" font-size="14" fill="#222" text-anchor="middle">groove orientation</text><text class="lab" x="343.8" y="252.8">d</text><defs><clipPath id="hmc"><rect x="356.0" y="283.2" width="295.2" height="160"/></clipPath><filter id="hmb" x="0" y="0" width="100%" height="100%"><feGaussianBlur stdDeviation="0.7"/></filter></defs><g clip-path="url(#hmc)"><g filter="url(#hmb)"><rect x="356.0" y="283.2" width="295.2" height="160" fill="#80ff80"/><path fill="#a1ff5d" d="M356 283.2h2.9v3.6h-2.9zM363.5 283.2h5.4v3.6h-5.4zM373.5 283.2h5.4v3.6h-5.4zM393.5 283.2h2.9v3.6h-2.9zM458.6 283.2h2.9v3.6h-2.9zM478.6 283.2h2.9v3.6h-2.9zM493.6 283.2h2.9v3.6h-2.9zM513.6 283.2h2.9v3.6h-2.9zM523.6 283.2h2.9v3.6h-2.9zM531.1 283.2h5.4v3.6h-5.4zM583.7 283.2h2.9v3.6h-2.9zM638.7 283.2h2.9v3.6h-2.9zM358.5 286.4h2.9v3.6h-2.9zM363.5 286.4h2.9v3.6h-2.9zM368.5 286.4h2.9v3.6h-2.9zM376 286.4h5.4v3.6h-5.4zM456.1 286.4h2.9v3.6h-2.9zM471.1 286.4h2.9v3.6h-2.9zM513.6 286.4h2.9v3.6h-2.9zM526.1 286.4h2.9v3.6h-2.9zM538.6 286.4h2.9v3.6h-2.9zM543.6 286.4h2.9v3.6h-2.9zM583.7 286.4h2.9v3.6h-2.9zM636.2 286.4h2.9v3.6h-2.9zM381 289.6h7.9v3.6h-7.9zM391 289.6h2.9v3.6h-2.9zM398.5 289.6h2.9v3.6h-2.9zM413.5 289.6h5.4v3.6h-5.4zM446.1 289.6h2.9v3.6h-2.9zM491.1 289.6h2.9v3.6h-2.9zM536.1 289.6h2.9v3.6h-2.9zM543.6 289.6h2.9v3.6h-2.9zM573.6 289.6h2.9v3.6h-2.9zM578.7 289.6h5.4v3.6h-5.4zM633.7 289.6h5.4v3.6h-5.4zM641.2 289.6h2.9v3.6h-2.9zM398.5 292.8h2.9v3.6h-2.9zM426 292.8h2.9v3.6h-2.9zM431.1 292.8h2.9v3.6h-2.9zM443.6 292.8h2.9v3.6h-2.9zM448.6 292.8h2.9v3.6h-2.9zM461.1 292.8h2.9v3.6h-2.9zM491.1 292.8h2.9v3.6h-2.9zM573.6 292.8h2.9v3.6h-2.9zM588.7 292.8h2.9v3.6h-2.9zM603.7 292.8h5.4v3.6h-5.4zM623.7 292.8h12.9v3.6h-12.9zM643.7 292.8h5.4v3.6h-5.4zM451.1 296h5.4v3.6h-5.4zM526.1 296h2.9v3.6h-2.9zM531.1 296h5.4v3.6h-5.4zM538.6 296h2.9v3.6h-2.9zM543.6 296h2.9v3.6h-2.9zM578.7 296h2.9v3.6h-2.9zM606.2 296h2.9v3.6h-2.9zM623.7 296h5.4v3.6h-5.4zM381 299.2h5.4v3.6h-5.4zM426 299.2h5.4v3.6h-5.4zM446.1 299.2h2.9v3.6h-2.9zM593.7 299.2h7.9v3.6h-7.9zM621.2 299.2h7.9v3.6h-7.9zM553.6 302.4h5.4v3.6h-5.4zM561.1 302.4h2.9v3.6h-2.9zM596.2 302.4h5.4v3.6h-5.4zM621.2 302.4h12.9v3.6h-12.9zM641.2 302.4h10.4v3.6h-10.4zM406 305.6h2.9v3.6h-2.9zM436.1 305.6h2.9v3.6h-2.9zM451.1 305.6h2.9v3.6h-2.9zM618.7 305.6h7.9v3.6h-7.9zM628.7 305.6h2.9v3.6h-2.9zM633.7 305.6h2.9v3.6h-2.9zM641.2 305.6h5.4v3.6h-5.4zM648.7 305.6h2.9v3.6h-2.9zM413.5 308.8h2.9v3.6h-2.9zM418.5 308.8h2.9v3.6h-2.9zM431.1 308.8h2.9v3.6h-2.9zM511.1 308.8h2.9v3.6h-2.9zM583.7 308.8h5.4v3.6h-5.4zM591.2 308.8h2.9v3.6h-2.9zM596.2 308.8h2.9v3.6h-2.9zM606.2 308.8h2.9v3.6h-2.9zM621.2 308.8h5.4v3.6h-5.4zM628.7 308.8h2.9v3.6h-2.9zM643.7 308.8h2.9v3.6h-2.9zM398.5 312h17.9v3.6h-17.9zM423.5 312h2.9v3.6h-2.9zM506.1 312h2.9v3.6h-2.9zM571.1 312h2.9v3.6h-2.9zM613.7 312h12.9v3.6h-12.9zM403.5 315.2h2.9v3.6h-2.9zM411 315.2h2.9v3.6h-2.9zM426 315.2h2.9v3.6h-2.9zM436.1 315.2h2.9v3.6h-2.9zM551.1 315.2h2.9v3.6h-2.9zM611.2 315.2h10.4v3.6h-10.4zM626.2 315.2h2.9v3.6h-2.9zM641.2 315.2h2.9v3.6h-2.9zM646.2 315.2h5.4v3.6h-5.4zM401 318.4h2.9v3.6h-2.9zM411 318.4h2.9v3.6h-2.9zM416 318.4h2.9v3.6h-2.9zM426 318.4h2.9v3.6h-2.9zM611.2 318.4h2.9v3.6h-2.9zM616.2 318.4h7.9v3.6h-7.9zM633.7 318.4h2.9v3.6h-2.9zM646.2 318.4h5.4v3.6h-5.4zM593.7 321.6h2.9v3.6h-2.9zM598.7 321.6h2.9v3.6h-2.9zM606.2 321.6h2.9v3.6h-2.9zM611.2 321.6h5.4v3.6h-5.4zM636.2 321.6h2.9v3.6h-2.9zM618.7 324.8h5.4v3.6h-5.4zM628.7 324.8h2.9v3.6h-2.9zM591.2 328h2.9v3.6h-2.9zM611.2 328h2.9v3.6h-2.9zM616.2 328h2.9v3.6h-2.9zM621.2 328h5.4v3.6h-5.4zM633.7 328h2.9v3.6h-2.9zM451.1 331.2h2.9v3.6h-2.9zM608.7 334.4h2.9v3.6h-2.9zM616.2 334.4h10.4v3.6h-10.4zM631.2 334.4h2.9v3.6h-2.9zM611.2 337.6h2.9v3.6h-2.9zM623.7 337.6h2.9v3.6h-2.9zM633.7 340.8h2.9v3.6h-2.9zM361 344h2.9v3.6h-2.9zM603.7 344h2.9v3.6h-2.9zM608.7 344h2.9v3.6h-2.9zM616.2 344h2.9v3.6h-2.9zM628.7 344h7.9v3.6h-7.9zM361 347.2h2.9v3.6h-2.9zM376 347.2h2.9v3.6h-2.9zM611.2 347.2h2.9v3.6h-2.9zM618.7 347.2h5.4v3.6h-5.4zM631.2 347.2h10.4v3.6h-10.4zM361 350.4h2.9v3.6h-2.9zM368.5 350.4h5.4v3.6h-5.4zM381 350.4h5.4v3.6h-5.4zM606.2 350.4h5.4v3.6h-5.4zM631.2 350.4h5.4v3.6h-5.4zM363.5 353.6h5.4v3.6h-5.4zM371 353.6h5.4v3.6h-5.4zM378.5 353.6h5.4v3.6h-5.4zM406 353.6h2.9v3.6h-2.9zM411 353.6h2.9v3.6h-2.9zM418.5 353.6h2.9v3.6h-2.9zM608.7 353.6h7.9v3.6h-7.9zM631.2 353.6h5.4v3.6h-5.4zM356 356.8h7.9v3.6h-7.9zM366 356.8h5.4v3.6h-5.4zM378.5 356.8h2.9v3.6h-2.9zM598.7 356.8h5.4v3.6h-5.4zM623.7 356.8h2.9v3.6h-2.9zM636.2 356.8h2.9v3.6h-2.9zM381 360h2.9v3.6h-2.9zM601.2 360h2.9v3.6h-2.9zM606.2 360h2.9v3.6h-2.9zM618.7 360h2.9v3.6h-2.9zM626.2 360h2.9v3.6h-2.9zM643.7 360h5.4v3.6h-5.4zM373.5 363.2h5.4v3.6h-5.4zM598.7 363.2h2.9v3.6h-2.9zM603.7 363.2h2.9v3.6h-2.9zM616.2 363.2h7.9v3.6h-7.9zM631.2 363.2h5.4v3.6h-5.4zM641.2 363.2h2.9v3.6h-2.9zM648.7 363.2h2.9v3.6h-2.9zM378.5 366.4h5.4v3.6h-5.4zM531.1 366.4h2.9v3.6h-2.9zM536.1 366.4h2.9v3.6h-2.9zM611.2 366.4h5.4v3.6h-5.4zM618.7 366.4h5.4v3.6h-5.4zM628.7 366.4h2.9v3.6h-2.9zM633.7 366.4h2.9v3.6h-2.9zM366 369.6h10.4v3.6h-10.4zM596.2 369.6h2.9v3.6h-2.9zM616.2 369.6h7.9v3.6h-7.9zM626.2 369.6h2.9v3.6h-2.9zM643.7 369.6h2.9v3.6h-2.9zM648.7 369.6h2.9v3.6h-2.9zM381 372.8h7.9v3.6h-7.9zM596.2 372.8h2.9v3.6h-2.9zM633.7 372.8h12.9v3.6h-12.9zM388.5 376h2.9v3.6h-2.9zM593.7 376h2.9v3.6h-2.9zM608.7 376h12.9v3.6h-12.9zM623.7 376h7.9v3.6h-7.9zM646.2 376h2.9v3.6h-2.9zM386 379.2h7.9v3.6h-7.9zM486.1 379.2h2.9v3.6h-2.9zM576.1 379.2h2.9v3.6h-2.9zM618.7 379.2h2.9v3.6h-2.9zM631.2 379.2h5.4v3.6h-5.4zM643.7 379.2h2.9v3.6h-2.9zM648.7 379.2h2.9v3.6h-2.9zM383.5 382.4h10.4v3.6h-10.4zM396 382.4h2.9v3.6h-2.9zM596.2 382.4h2.9v3.6h-2.9zM606.2 382.4h2.9v3.6h-2.9zM611.2 382.4h27.9v3.6h-27.9zM641.2 382.4h2.9v3.6h-2.9zM583.7 385.6h2.9v3.6h-2.9zM593.7 385.6h2.9v3.6h-2.9zM603.7 385.6h2.9v3.6h-2.9zM613.7 385.6h2.9v3.6h-2.9zM626.2 385.6h2.9v3.6h-2.9zM631.2 385.6h5.4v3.6h-5.4zM638.7 385.6h2.9v3.6h-2.9zM643.7 385.6h5.4v3.6h-5.4zM378.5 388.8h7.9v3.6h-7.9zM391 388.8h2.9v3.6h-2.9zM583.7 388.8h2.9v3.6h-2.9zM591.2 388.8h7.9v3.6h-7.9zM608.7 388.8h5.4v3.6h-5.4zM621.2 388.8h2.9v3.6h-2.9zM626.2 388.8h5.4v3.6h-5.4zM641.2 388.8h2.9v3.6h-2.9zM376 392h2.9v3.6h-2.9zM381 392h10.4v3.6h-10.4zM578.7 392h2.9v3.6h-2.9zM586.2 392h7.9v3.6h-7.9zM598.7 392h2.9v3.6h-2.9zM608.7 392h2.9v3.6h-2.9zM633.7 392h7.9v3.6h-7.9zM561.1 395.2h2.9v3.6h-2.9zM601.2 395.2h12.9v3.6h-12.9zM631.2 395.2h5.4v3.6h-5.4zM368.5 398.4h7.9v3.6h-7.9zM593.7 398.4h2.9v3.6h-2.9zM603.7 398.4h10.4v3.6h-10.4zM638.7 398.4h7.9v3.6h-7.9zM361 401.6h22.9v3.6h-22.9zM386 401.6h2.9v3.6h-2.9zM603.7 401.6h7.9v3.6h-7.9zM618.7 401.6h2.9v3.6h-2.9zM631.2 401.6h7.9v3.6h-7.9zM641.2 401.6h7.9v3.6h-7.9zM356 404.8h17.9v3.6h-17.9zM591.2 404.8h5.4v3.6h-5.4zM608.7 404.8h5.4v3.6h-5.4zM631.2 404.8h5.4v3.6h-5.4zM643.7 404.8h2.9v3.6h-2.9zM356 408h5.4v3.6h-5.4zM371 408h5.4v3.6h-5.4zM381 408h2.9v3.6h-2.9zM431.1 408h2.9v3.6h-2.9zM596.2 408h2.9v3.6h-2.9zM356 411.2h10.4v3.6h-10.4zM381 411.2h2.9v3.6h-2.9zM393.5 411.2h5.4v3.6h-5.4zM581.2 411.2h2.9v3.6h-2.9zM588.7 411.2h2.9v3.6h-2.9zM623.7 411.2h2.9v3.6h-2.9zM356 414.4h10.4v3.6h-10.4zM393.5 414.4h5.4v3.6h-5.4zM426 414.4h2.9v3.6h-2.9zM576.1 414.4h10.4v3.6h-10.4zM591.2 414.4h10.4v3.6h-10.4zM368.5 417.6h2.9v3.6h-2.9zM581.2 417.6h10.4v3.6h-10.4zM596.2 417.6h2.9v3.6h-2.9zM368.5 420.8h2.9v3.6h-2.9zM551.1 420.8h2.9v3.6h-2.9zM576.1 420.8h2.9v3.6h-2.9zM581.2 420.8h7.9v3.6h-7.9zM598.7 420.8h5.4v3.6h-5.4zM608.7 420.8h7.9v3.6h-7.9zM571.1 424h2.9v3.6h-2.9zM576.1 424h15.4v3.6h-15.4zM596.2 424h5.4v3.6h-5.4zM643.7 424h7.9v3.6h-7.9zM568.6 427.2h7.9v3.6h-7.9zM586.2 427.2h2.9v3.6h-2.9zM591.2 427.2h2.9v3.6h-2.9zM601.2 427.2h5.4v3.6h-5.4zM608.7 427.2h5.4v3.6h-5.4zM636.2 427.2h2.9v3.6h-2.9zM641.2 427.2h5.4v3.6h-5.4zM371 430.4h2.9v3.6h-2.9zM553.6 430.4h2.9v3.6h-2.9zM576.1 430.4h5.4v3.6h-5.4zM586.2 430.4h2.9v3.6h-2.9zM591.2 430.4h2.9v3.6h-2.9zM611.2 430.4h2.9v3.6h-2.9zM633.7 430.4h2.9v3.6h-2.9zM646.2 430.4h5.4v3.6h-5.4zM371 433.6h5.4v3.6h-5.4zM591.2 433.6h7.9v3.6h-7.9zM603.7 433.6h12.9v3.6h-12.9zM621.2 433.6h2.9v3.6h-2.9zM646.2 433.6h5.4v3.6h-5.4zM366 436.8h5.4v3.6h-5.4zM376 436.8h5.4v3.6h-5.4zM588.7 436.8h2.9v3.6h-2.9zM593.7 436.8h2.9v3.6h-2.9zM598.7 436.8h2.9v3.6h-2.9zM608.7 436.8h5.4v3.6h-5.4zM621.2 436.8h2.9v3.6h-2.9zM626.2 436.8h2.9v3.6h-2.9zM631.2 436.8h2.9v3.6h-2.9zM638.7 436.8h2.9v3.6h-2.9zM363.5 440h5.4v3.6h-5.4zM376 440h2.9v3.6h-2.9zM588.7 440h2.9v3.6h-2.9zM601.2 440h2.9v3.6h-2.9zM606.2 440h2.9v3.6h-2.9zM621.2 440h5.4v3.6h-5.4zM636.2 440h5.4v3.6h-5.4zM643.7 440h5.4v3.6h-5.4z"/><path fill="#c3ff3b" d="M358.5 283.2h5.4v3.6h-5.4zM396 283.2h2.9v3.6h-2.9zM461.1 283.2h2.9v3.6h-2.9zM473.6 283.2h2.9v3.6h-2.9zM551.1 283.2h2.9v3.6h-2.9zM556.1 283.2h2.9v3.6h-2.9zM561.1 283.2h2.9v3.6h-2.9zM581.2 283.2h2.9v3.6h-2.9zM608.7 283.2h5.4v3.6h-5.4zM641.2 283.2h2.9v3.6h-2.9zM361 286.4h2.9v3.6h-2.9zM373.5 286.4h2.9v3.6h-2.9zM446.1 286.4h5.4v3.6h-5.4zM473.6 286.4h2.9v3.6h-2.9zM493.6 286.4h2.9v3.6h-2.9zM511.1 286.4h2.9v3.6h-2.9zM521.1 286.4h2.9v3.6h-2.9zM528.6 286.4h2.9v3.6h-2.9zM551.1 286.4h2.9v3.6h-2.9zM571.1 286.4h2.9v3.6h-2.9zM578.7 286.4h5.4v3.6h-5.4zM378.5 289.6h2.9v3.6h-2.9zM388.5 289.6h2.9v3.6h-2.9zM401 289.6h5.4v3.6h-5.4zM456.1 289.6h2.9v3.6h-2.9zM463.6 289.6h2.9v3.6h-2.9zM496.1 289.6h2.9v3.6h-2.9zM533.6 289.6h2.9v3.6h-2.9zM566.1 289.6h7.9v3.6h-7.9zM583.7 289.6h2.9v3.6h-2.9zM588.7 289.6h15.4v3.6h-15.4zM613.7 289.6h5.4v3.6h-5.4zM621.2 289.6h5.4v3.6h-5.4zM628.7 289.6h5.4v3.6h-5.4zM643.7 289.6h5.4v3.6h-5.4zM376 292.8h15.4v3.6h-15.4zM396 292.8h2.9v3.6h-2.9zM436.1 292.8h2.9v3.6h-2.9zM463.6 292.8h2.9v3.6h-2.9zM483.6 292.8h7.9v3.6h-7.9zM523.6 292.8h2.9v3.6h-2.9zM543.6 292.8h2.9v3.6h-2.9zM578.7 292.8h7.9v3.6h-7.9zM591.2 292.8h12.9v3.6h-12.9zM608.7 292.8h2.9v3.6h-2.9zM613.7 292.8h10.4v3.6h-10.4zM636.2 292.8h7.9v3.6h-7.9zM648.7 292.8h2.9v3.6h-2.9zM373.5 296h7.9v3.6h-7.9zM501.1 296h2.9v3.6h-2.9zM528.6 296h2.9v3.6h-2.9zM541.1 296h2.9v3.6h-2.9zM551.1 296h2.9v3.6h-2.9zM571.1 296h2.9v3.6h-2.9zM588.7 296h2.9v3.6h-2.9zM608.7 296h7.9v3.6h-7.9zM621.2 296h2.9v3.6h-2.9zM633.7 296h2.9v3.6h-2.9zM646.2 296h2.9v3.6h-2.9zM358.5 299.2h2.9v3.6h-2.9zM373.5 299.2h7.9v3.6h-7.9zM386 299.2h2.9v3.6h-2.9zM393.5 299.2h5.4v3.6h-5.4zM421 299.2h2.9v3.6h-2.9zM431.1 299.2h2.9v3.6h-2.9zM478.6 299.2h2.9v3.6h-2.9zM516.1 299.2h5.4v3.6h-5.4zM601.2 299.2h7.9v3.6h-7.9zM618.7 299.2h2.9v3.6h-2.9zM628.7 299.2h2.9v3.6h-2.9zM643.7 299.2h2.9v3.6h-2.9zM378.5 302.4h2.9v3.6h-2.9zM406 302.4h7.9v3.6h-7.9zM418.5 302.4h2.9v3.6h-2.9zM428.5 302.4h5.4v3.6h-5.4zM438.6 302.4h2.9v3.6h-2.9zM443.6 302.4h2.9v3.6h-2.9zM451.1 302.4h2.9v3.6h-2.9zM463.6 302.4h2.9v3.6h-2.9zM506.1 302.4h2.9v3.6h-2.9zM558.6 302.4h2.9v3.6h-2.9zM563.6 302.4h2.9v3.6h-2.9zM588.7 302.4h2.9v3.6h-2.9zM593.7 302.4h2.9v3.6h-2.9zM601.2 302.4h2.9v3.6h-2.9zM613.7 302.4h2.9v3.6h-2.9zM618.7 302.4h2.9v3.6h-2.9zM633.7 302.4h7.9v3.6h-7.9zM383.5 305.6h2.9v3.6h-2.9zM401 305.6h5.4v3.6h-5.4zM408.5 305.6h10.4v3.6h-10.4zM423.5 305.6h2.9v3.6h-2.9zM428.5 305.6h5.4v3.6h-5.4zM443.6 305.6h7.9v3.6h-7.9zM478.6 305.6h2.9v3.6h-2.9zM531.1 305.6h2.9v3.6h-2.9zM591.2 305.6h2.9v3.6h-2.9zM613.7 305.6h5.4v3.6h-5.4zM631.2 305.6h2.9v3.6h-2.9zM646.2 305.6h2.9v3.6h-2.9zM371 308.8h7.9v3.6h-7.9zM381 308.8h5.4v3.6h-5.4zM428.5 308.8h2.9v3.6h-2.9zM436.1 308.8h2.9v3.6h-2.9zM558.6 308.8h2.9v3.6h-2.9zM581.2 308.8h2.9v3.6h-2.9zM593.7 308.8h2.9v3.6h-2.9zM608.7 308.8h2.9v3.6h-2.9zM618.7 308.8h2.9v3.6h-2.9zM626.2 308.8h2.9v3.6h-2.9zM371 312h15.4v3.6h-15.4zM391 312h2.9v3.6h-2.9zM416 312h2.9v3.6h-2.9zM421 312h2.9v3.6h-2.9zM426 312h5.4v3.6h-5.4zM436.1 312h2.9v3.6h-2.9zM448.6 312h5.4v3.6h-5.4zM491.1 312h2.9v3.6h-2.9zM568.6 312h2.9v3.6h-2.9zM588.7 312h2.9v3.6h-2.9zM593.7 312h10.4v3.6h-10.4zM606.2 312h5.4v3.6h-5.4zM356 315.2h17.9v3.6h-17.9zM398.5 315.2h5.4v3.6h-5.4zM406 315.2h5.4v3.6h-5.4zM438.6 315.2h2.9v3.6h-2.9zM491.1 315.2h2.9v3.6h-2.9zM553.6 315.2h5.4v3.6h-5.4zM601.2 315.2h10.4v3.6h-10.4zM621.2 315.2h5.4v3.6h-5.4zM643.7 315.2h2.9v3.6h-2.9zM356 318.4h5.4v3.6h-5.4zM378.5 318.4h2.9v3.6h-2.9zM398.5 318.4h2.9v3.6h-2.9zM403.5 318.4h7.9v3.6h-7.9zM413.5 318.4h2.9v3.6h-2.9zM428.5 318.4h2.9v3.6h-2.9zM451.1 318.4h2.9v3.6h-2.9zM528.6 318.4h5.4v3.6h-5.4zM636.2 318.4h2.9v3.6h-2.9zM643.7 318.4h2.9v3.6h-2.9zM356 321.6h2.9v3.6h-2.9zM418.5 321.6h2.9v3.6h-2.9zM478.6 321.6h5.4v3.6h-5.4zM551.1 321.6h2.9v3.6h-2.9zM591.2 321.6h2.9v3.6h-2.9zM601.2 321.6h5.4v3.6h-5.4zM616.2 321.6h2.9v3.6h-2.9zM638.7 321.6h5.4v3.6h-5.4zM648.7 321.6h2.9v3.6h-2.9zM368.5 324.8h2.9v3.6h-2.9zM613.7 324.8h5.4v3.6h-5.4zM631.2 324.8h5.4v3.6h-5.4zM413.5 328h2.9v3.6h-2.9zM601.2 328h10.4v3.6h-10.4zM626.2 328h2.9v3.6h-2.9zM631.2 328h2.9v3.6h-2.9zM636.2 328h2.9v3.6h-2.9zM356 331.2h5.4v3.6h-5.4zM606.2 331.2h2.9v3.6h-2.9zM613.7 331.2h5.4v3.6h-5.4zM626.2 331.2h2.9v3.6h-2.9zM633.7 331.2h5.4v3.6h-5.4zM606.2 334.4h2.9v3.6h-2.9zM626.2 334.4h5.4v3.6h-5.4zM633.7 334.4h7.9v3.6h-7.9zM648.7 334.4h2.9v3.6h-2.9zM606.2 337.6h5.4v3.6h-5.4zM626.2 337.6h7.9v3.6h-7.9zM606.2 340.8h2.9v3.6h-2.9zM613.7 340.8h5.4v3.6h-5.4zM626.2 340.8h2.9v3.6h-2.9zM631.2 340.8h2.9v3.6h-2.9zM636.2 340.8h5.4v3.6h-5.4zM646.2 340.8h5.4v3.6h-5.4zM356 344h5.4v3.6h-5.4zM363.5 344h7.9v3.6h-7.9zM626.2 344h2.9v3.6h-2.9zM636.2 344h5.4v3.6h-5.4zM363.5 347.2h2.9v3.6h-2.9zM368.5 347.2h2.9v3.6h-2.9zM373.5 347.2h2.9v3.6h-2.9zM381 347.2h2.9v3.6h-2.9zM408.5 347.2h2.9v3.6h-2.9zM598.7 347.2h5.4v3.6h-5.4zM606.2 347.2h5.4v3.6h-5.4zM623.7 347.2h7.9v3.6h-7.9zM641.2 347.2h2.9v3.6h-2.9zM356 350.4h5.4v3.6h-5.4zM363.5 350.4h5.4v3.6h-5.4zM386 350.4h2.9v3.6h-2.9zM426 350.4h2.9v3.6h-2.9zM598.7 350.4h7.9v3.6h-7.9zM641.2 350.4h2.9v3.6h-2.9zM356 353.6h7.9v3.6h-7.9zM376 353.6h2.9v3.6h-2.9zM386 353.6h2.9v3.6h-2.9zM416 353.6h2.9v3.6h-2.9zM606.2 353.6h2.9v3.6h-2.9zM636.2 353.6h5.4v3.6h-5.4zM396 356.8h10.4v3.6h-10.4zM596.2 356.8h2.9v3.6h-2.9zM603.7 356.8h7.9v3.6h-7.9zM638.7 356.8h12.9v3.6h-12.9zM383.5 360h5.4v3.6h-5.4zM418.5 360h2.9v3.6h-2.9zM598.7 360h2.9v3.6h-2.9zM608.7 360h2.9v3.6h-2.9zM621.2 360h5.4v3.6h-5.4zM633.7 360h10.4v3.6h-10.4zM378.5 363.2h2.9v3.6h-2.9zM596.2 363.2h2.9v3.6h-2.9zM606.2 363.2h10.4v3.6h-10.4zM636.2 363.2h5.4v3.6h-5.4zM643.7 363.2h5.4v3.6h-5.4zM383.5 366.4h5.4v3.6h-5.4zM608.7 366.4h2.9v3.6h-2.9zM616.2 366.4h2.9v3.6h-2.9zM623.7 366.4h5.4v3.6h-5.4zM636.2 366.4h10.4v3.6h-10.4zM648.7 366.4h2.9v3.6h-2.9zM376 369.6h17.9v3.6h-17.9zM451.1 369.6h2.9v3.6h-2.9zM536.1 369.6h2.9v3.6h-2.9zM608.7 369.6h7.9v3.6h-7.9zM623.7 369.6h2.9v3.6h-2.9zM388.5 372.8h2.9v3.6h-2.9zM571.1 372.8h2.9v3.6h-2.9zM576.1 372.8h2.9v3.6h-2.9zM591.2 372.8h5.4v3.6h-5.4zM391 376h5.4v3.6h-5.4zM621.2 376h2.9v3.6h-2.9zM631.2 376h5.4v3.6h-5.4zM638.7 376h7.9v3.6h-7.9zM393.5 379.2h5.4v3.6h-5.4zM571.1 379.2h5.4v3.6h-5.4zM591.2 379.2h7.9v3.6h-7.9zM621.2 379.2h2.9v3.6h-2.9zM628.7 379.2h2.9v3.6h-2.9zM636.2 379.2h7.9v3.6h-7.9zM393.5 382.4h2.9v3.6h-2.9zM398.5 382.4h2.9v3.6h-2.9zM558.6 382.4h2.9v3.6h-2.9zM608.7 382.4h2.9v3.6h-2.9zM648.7 382.4h2.9v3.6h-2.9zM388.5 385.6h2.9v3.6h-2.9zM396 385.6h2.9v3.6h-2.9zM591.2 385.6h2.9v3.6h-2.9zM606.2 385.6h2.9v3.6h-2.9zM611.2 385.6h2.9v3.6h-2.9zM616.2 385.6h2.9v3.6h-2.9zM623.7 385.6h2.9v3.6h-2.9zM641.2 385.6h2.9v3.6h-2.9zM648.7 385.6h2.9v3.6h-2.9zM386 388.8h5.4v3.6h-5.4zM623.7 388.8h2.9v3.6h-2.9zM378.5 392h2.9v3.6h-2.9zM391 392h2.9v3.6h-2.9zM576.1 392h2.9v3.6h-2.9zM581.2 392h5.4v3.6h-5.4zM601.2 392h7.9v3.6h-7.9zM641.2 392h2.9v3.6h-2.9zM648.7 392h2.9v3.6h-2.9zM378.5 395.2h2.9v3.6h-2.9zM383.5 395.2h10.4v3.6h-10.4zM536.1 395.2h2.9v3.6h-2.9zM556.1 395.2h2.9v3.6h-2.9zM598.7 395.2h2.9v3.6h-2.9zM636.2 395.2h5.4v3.6h-5.4zM646.2 395.2h5.4v3.6h-5.4zM376 398.4h2.9v3.6h-2.9zM381 398.4h10.4v3.6h-10.4zM588.7 398.4h2.9v3.6h-2.9zM646.2 398.4h2.9v3.6h-2.9zM388.5 401.6h2.9v3.6h-2.9zM578.7 401.6h2.9v3.6h-2.9zM588.7 401.6h7.9v3.6h-7.9zM381 404.8h2.9v3.6h-2.9zM586.2 404.8h5.4v3.6h-5.4zM636.2 404.8h2.9v3.6h-2.9zM641.2 404.8h2.9v3.6h-2.9zM361 408h10.4v3.6h-10.4zM376 408h5.4v3.6h-5.4zM383.5 408h2.9v3.6h-2.9zM426 408h5.4v3.6h-5.4zM433.6 408h2.9v3.6h-2.9zM583.7 408h2.9v3.6h-2.9zM366 411.2h7.9v3.6h-7.9zM378.5 411.2h2.9v3.6h-2.9zM383.5 411.2h2.9v3.6h-2.9zM391 411.2h2.9v3.6h-2.9zM398.5 411.2h2.9v3.6h-2.9zM426 411.2h2.9v3.6h-2.9zM443.6 411.2h5.4v3.6h-5.4zM366 414.4h10.4v3.6h-10.4zM391 414.4h2.9v3.6h-2.9zM398.5 414.4h2.9v3.6h-2.9zM423.5 414.4h2.9v3.6h-2.9zM428.5 414.4h7.9v3.6h-7.9zM371 417.6h5.4v3.6h-5.4zM391 417.6h10.4v3.6h-10.4zM561.1 417.6h2.9v3.6h-2.9zM573.6 417.6h2.9v3.6h-2.9zM591.2 417.6h5.4v3.6h-5.4zM371 420.8h2.9v3.6h-2.9zM418.5 420.8h5.4v3.6h-5.4zM431.1 420.8h2.9v3.6h-2.9zM566.1 420.8h10.4v3.6h-10.4zM578.7 420.8h2.9v3.6h-2.9zM588.7 420.8h2.9v3.6h-2.9zM593.7 420.8h5.4v3.6h-5.4zM371 424h2.9v3.6h-2.9zM568.6 424h2.9v3.6h-2.9zM573.6 424h2.9v3.6h-2.9zM591.2 424h2.9v3.6h-2.9zM601.2 424h7.9v3.6h-7.9zM376 427.2h2.9v3.6h-2.9zM566.1 427.2h2.9v3.6h-2.9zM576.1 427.2h10.4v3.6h-10.4zM588.7 427.2h2.9v3.6h-2.9zM646.2 427.2h5.4v3.6h-5.4zM388.5 430.4h2.9v3.6h-2.9zM551.1 430.4h2.9v3.6h-2.9zM581.2 430.4h5.4v3.6h-5.4zM603.7 430.4h2.9v3.6h-2.9zM608.7 430.4h2.9v3.6h-2.9zM618.7 430.4h10.4v3.6h-10.4zM631.2 430.4h2.9v3.6h-2.9zM636.2 430.4h10.4v3.6h-10.4zM578.7 433.6h12.9v3.6h-12.9zM623.7 433.6h22.9v3.6h-22.9zM371 436.8h5.4v3.6h-5.4zM381 436.8h2.9v3.6h-2.9zM568.6 436.8h2.9v3.6h-2.9zM586.2 436.8h2.9v3.6h-2.9zM591.2 436.8h2.9v3.6h-2.9zM601.2 436.8h7.9v3.6h-7.9zM623.7 436.8h2.9v3.6h-2.9zM633.7 436.8h5.4v3.6h-5.4zM641.2 436.8h10.4v3.6h-10.4zM368.5 440h2.9v3.6h-2.9zM373.5 440h2.9v3.6h-2.9zM378.5 440h7.9v3.6h-7.9zM411 440h2.9v3.6h-2.9zM418.5 440h5.4v3.6h-5.4zM566.1 440h5.4v3.6h-5.4zM586.2 440h2.9v3.6h-2.9zM603.7 440h2.9v3.6h-2.9zM648.7 440h2.9v3.6h-2.9z"/><path fill="#7fff7f" d="M368.5 283.2h5.4v3.6h-5.4zM378.5 283.2h2.9v3.6h-2.9zM398.5 283.2h2.9v3.6h-2.9zM466.1 283.2h2.9v3.6h-2.9zM471.1 283.2h2.9v3.6h-2.9zM491.1 283.2h2.9v3.6h-2.9zM586.2 283.2h2.9v3.6h-2.9zM591.2 283.2h2.9v3.6h-2.9zM603.7 283.2h5.4v3.6h-5.4zM613.7 283.2h2.9v3.6h-2.9zM623.7 283.2h7.9v3.6h-7.9zM636.2 283.2h2.9v3.6h-2.9zM356 286.4h2.9v3.6h-2.9zM366 286.4h2.9v3.6h-2.9zM381 286.4h2.9v3.6h-2.9zM393.5 286.4h5.4v3.6h-5.4zM443.6 286.4h2.9v3.6h-2.9zM451.1 286.4h2.9v3.6h-2.9zM468.6 286.4h2.9v3.6h-2.9zM491.1 286.4h2.9v3.6h-2.9zM498.6 286.4h2.9v3.6h-2.9zM516.1 286.4h5.4v3.6h-5.4zM523.6 286.4h2.9v3.6h-2.9zM531.1 286.4h2.9v3.6h-2.9zM573.6 286.4h2.9v3.6h-2.9zM586.2 286.4h2.9v3.6h-2.9zM593.7 286.4h5.4v3.6h-5.4zM621.2 286.4h5.4v3.6h-5.4zM633.7 286.4h2.9v3.6h-2.9zM638.7 286.4h2.9v3.6h-2.9zM646.2 286.4h5.4v3.6h-5.4zM393.5 289.6h2.9v3.6h-2.9zM406 289.6h7.9v3.6h-7.9zM638.7 289.6h2.9v3.6h-2.9zM428.5 292.8h2.9v3.6h-2.9zM446.1 292.8h2.9v3.6h-2.9zM451.1 292.8h2.9v3.6h-2.9zM456.1 292.8h5.4v3.6h-5.4zM498.6 296h2.9v3.6h-2.9zM523.6 296h2.9v3.6h-2.9zM536.1 296h2.9v3.6h-2.9zM573.6 296h2.9v3.6h-2.9zM628.7 296h5.4v3.6h-5.4zM648.7 296h2.9v3.6h-2.9zM423.5 299.2h2.9v3.6h-2.9zM448.6 299.2h2.9v3.6h-2.9zM591.2 299.2h2.9v3.6h-2.9zM551.1 302.4h2.9v3.6h-2.9zM566.1 302.4h2.9v3.6h-2.9zM588.7 305.6h2.9v3.6h-2.9zM626.2 305.6h2.9v3.6h-2.9zM636.2 305.6h5.4v3.6h-5.4zM416 308.8h2.9v3.6h-2.9zM556.1 308.8h2.9v3.6h-2.9zM598.7 308.8h7.9v3.6h-7.9zM631.2 308.8h12.9v3.6h-12.9zM646.2 308.8h5.4v3.6h-5.4zM626.2 312h7.9v3.6h-7.9zM638.7 312h12.9v3.6h-12.9zM413.5 315.2h2.9v3.6h-2.9zM418.5 315.2h7.9v3.6h-7.9zM628.7 315.2h2.9v3.6h-2.9zM633.7 315.2h7.9v3.6h-7.9zM418.5 318.4h7.9v3.6h-7.9zM606.2 318.4h5.4v3.6h-5.4zM613.7 318.4h2.9v3.6h-2.9zM623.7 318.4h2.9v3.6h-2.9zM631.2 318.4h2.9v3.6h-2.9zM596.2 321.6h2.9v3.6h-2.9zM608.7 321.6h2.9v3.6h-2.9zM618.7 321.6h5.4v3.6h-5.4zM633.7 321.6h2.9v3.6h-2.9zM623.7 324.8h5.4v3.6h-5.4zM613.7 328h2.9v3.6h-2.9zM618.7 328h2.9v3.6h-2.9zM618.7 331.2h7.9v3.6h-7.9zM451.1 334.4h2.9v3.6h-2.9zM611.2 334.4h5.4v3.6h-5.4zM613.7 337.6h10.4v3.6h-10.4zM611.2 344h5.4v3.6h-5.4zM356 347.2h5.4v3.6h-5.4zM378.5 347.2h2.9v3.6h-2.9zM613.7 347.2h5.4v3.6h-5.4zM373.5 350.4h2.9v3.6h-2.9zM378.5 350.4h2.9v3.6h-2.9zM611.2 350.4h10.4v3.6h-10.4zM623.7 350.4h2.9v3.6h-2.9zM628.7 350.4h2.9v3.6h-2.9zM636.2 350.4h5.4v3.6h-5.4zM368.5 353.6h2.9v3.6h-2.9zM383.5 353.6h2.9v3.6h-2.9zM408.5 353.6h2.9v3.6h-2.9zM413.5 353.6h2.9v3.6h-2.9zM616.2 353.6h2.9v3.6h-2.9zM623.7 353.6h7.9v3.6h-7.9zM363.5 356.8h2.9v3.6h-2.9zM371 356.8h2.9v3.6h-2.9zM376 356.8h2.9v3.6h-2.9zM611.2 356.8h2.9v3.6h-2.9zM618.7 356.8h5.4v3.6h-5.4zM626.2 356.8h10.4v3.6h-10.4zM366 360h7.9v3.6h-7.9zM378.5 360h2.9v3.6h-2.9zM603.7 360h2.9v3.6h-2.9zM611.2 360h7.9v3.6h-7.9zM628.7 360h5.4v3.6h-5.4zM648.7 360h2.9v3.6h-2.9zM371 363.2h2.9v3.6h-2.9zM601.2 363.2h2.9v3.6h-2.9zM623.7 363.2h7.9v3.6h-7.9zM356 366.4h10.4v3.6h-10.4zM373.5 366.4h5.4v3.6h-5.4zM533.6 366.4h2.9v3.6h-2.9zM631.2 366.4h2.9v3.6h-2.9zM363.5 369.6h2.9v3.6h-2.9zM628.7 369.6h5.4v3.6h-5.4zM373.5 372.8h7.9v3.6h-7.9zM598.7 372.8h2.9v3.6h-2.9zM603.7 372.8h5.4v3.6h-5.4zM618.7 372.8h7.9v3.6h-7.9zM631.2 372.8h2.9v3.6h-2.9zM646.2 372.8h2.9v3.6h-2.9zM383.5 376h5.4v3.6h-5.4zM596.2 376h2.9v3.6h-2.9zM606.2 376h2.9v3.6h-2.9zM648.7 376h2.9v3.6h-2.9zM371 379.2h2.9v3.6h-2.9zM376 379.2h5.4v3.6h-5.4zM383.5 379.2h2.9v3.6h-2.9zM598.7 379.2h2.9v3.6h-2.9zM616.2 379.2h2.9v3.6h-2.9zM646.2 379.2h2.9v3.6h-2.9zM376 382.4h7.9v3.6h-7.9zM598.7 382.4h7.9v3.6h-7.9zM638.7 382.4h2.9v3.6h-2.9zM373.5 385.6h7.9v3.6h-7.9zM386 385.6h2.9v3.6h-2.9zM586.2 385.6h5.4v3.6h-5.4zM596.2 385.6h2.9v3.6h-2.9zM628.7 385.6h2.9v3.6h-2.9zM636.2 385.6h2.9v3.6h-2.9zM376 388.8h2.9v3.6h-2.9zM586.2 388.8h5.4v3.6h-5.4zM598.7 388.8h10.4v3.6h-10.4zM613.7 388.8h7.9v3.6h-7.9zM631.2 388.8h2.9v3.6h-2.9zM638.7 388.8h2.9v3.6h-2.9zM371 392h5.4v3.6h-5.4zM593.7 392h5.4v3.6h-5.4zM611.2 392h2.9v3.6h-2.9zM616.2 392h10.4v3.6h-10.4zM631.2 392h2.9v3.6h-2.9zM363.5 395.2h2.9v3.6h-2.9zM371 395.2h7.9v3.6h-7.9zM613.7 395.2h12.9v3.6h-12.9zM366 398.4h2.9v3.6h-2.9zM591.2 398.4h2.9v3.6h-2.9zM596.2 398.4h2.9v3.6h-2.9zM601.2 398.4h2.9v3.6h-2.9zM613.7 398.4h2.9v3.6h-2.9zM618.7 398.4h5.4v3.6h-5.4zM631.2 398.4h7.9v3.6h-7.9zM356 401.6h5.4v3.6h-5.4zM383.5 401.6h2.9v3.6h-2.9zM596.2 401.6h7.9v3.6h-7.9zM611.2 401.6h2.9v3.6h-2.9zM616.2 401.6h2.9v3.6h-2.9zM621.2 401.6h2.9v3.6h-2.9zM628.7 401.6h2.9v3.6h-2.9zM638.7 401.6h2.9v3.6h-2.9zM648.7 401.6h2.9v3.6h-2.9zM378.5 404.8h2.9v3.6h-2.9zM596.2 404.8h2.9v3.6h-2.9zM606.2 404.8h2.9v3.6h-2.9zM613.7 404.8h2.9v3.6h-2.9zM626.2 404.8h5.4v3.6h-5.4zM646.2 404.8h5.4v3.6h-5.4zM586.2 408h10.4v3.6h-10.4zM598.7 408h10.4v3.6h-10.4zM623.7 408h5.4v3.6h-5.4zM583.7 411.2h5.4v3.6h-5.4zM591.2 411.2h12.9v3.6h-12.9zM606.2 411.2h17.9v3.6h-17.9zM626.2 411.2h2.9v3.6h-2.9zM633.7 411.2h2.9v3.6h-2.9zM643.7 411.2h2.9v3.6h-2.9zM586.2 414.4h5.4v3.6h-5.4zM601.2 414.4h5.4v3.6h-5.4zM626.2 414.4h7.9v3.6h-7.9zM361 417.6h7.9v3.6h-7.9zM576.1 417.6h2.9v3.6h-2.9zM598.7 417.6h7.9v3.6h-7.9zM613.7 417.6h10.4v3.6h-10.4zM638.7 417.6h5.4v3.6h-5.4zM363.5 420.8h5.4v3.6h-5.4zM603.7 420.8h5.4v3.6h-5.4zM616.2 420.8h2.9v3.6h-2.9zM638.7 420.8h5.4v3.6h-5.4zM368.5 424h2.9v3.6h-2.9zM593.7 424h2.9v3.6h-2.9zM608.7 424h5.4v3.6h-5.4zM368.5 427.2h7.9v3.6h-7.9zM593.7 427.2h7.9v3.6h-7.9zM606.2 427.2h2.9v3.6h-2.9zM631.2 427.2h5.4v3.6h-5.4zM638.7 427.2h2.9v3.6h-2.9zM368.5 430.4h2.9v3.6h-2.9zM588.7 430.4h2.9v3.6h-2.9zM593.7 430.4h2.9v3.6h-2.9zM601.2 430.4h2.9v3.6h-2.9zM358.5 433.6h5.4v3.6h-5.4zM366 433.6h5.4v3.6h-5.4zM598.7 433.6h5.4v3.6h-5.4zM596.2 436.8h2.9v3.6h-2.9zM628.7 436.8h2.9v3.6h-2.9zM356 440h7.9v3.6h-7.9zM591.2 440h10.4v3.6h-10.4zM608.7 440h7.9v3.6h-7.9zM628.7 440h7.9v3.6h-7.9zM641.2 440h2.9v3.6h-2.9z"/><path fill="#5dffa1" d="M381 283.2h2.9v3.6h-2.9zM386 283.2h7.9v3.6h-7.9zM453.6 283.2h5.4v3.6h-5.4zM463.6 283.2h2.9v3.6h-2.9zM501.1 283.2h5.4v3.6h-5.4zM588.7 283.2h2.9v3.6h-2.9zM593.7 283.2h10.4v3.6h-10.4zM616.2 283.2h2.9v3.6h-2.9zM621.2 283.2h2.9v3.6h-2.9zM631.2 283.2h5.4v3.6h-5.4zM383.5 286.4h2.9v3.6h-2.9zM388.5 286.4h5.4v3.6h-5.4zM398.5 286.4h2.9v3.6h-2.9zM496.1 286.4h2.9v3.6h-2.9zM533.6 286.4h2.9v3.6h-2.9zM591.2 286.4h2.9v3.6h-2.9zM598.7 286.4h7.9v3.6h-7.9zM608.7 286.4h10.4v3.6h-10.4zM626.2 286.4h7.9v3.6h-7.9zM641.2 286.4h5.4v3.6h-5.4zM396 289.6h2.9v3.6h-2.9zM418.5 289.6h2.9v3.6h-2.9zM443.6 289.6h2.9v3.6h-2.9zM451.1 299.2h2.9v3.6h-2.9zM588.7 299.2h2.9v3.6h-2.9zM633.7 312h5.4v3.6h-5.4zM416 315.2h2.9v3.6h-2.9zM631.2 315.2h2.9v3.6h-2.9zM626.2 318.4h5.4v3.6h-5.4zM623.7 321.6h10.4v3.6h-10.4zM606.2 344h2.9v3.6h-2.9zM376 350.4h2.9v3.6h-2.9zM621.2 350.4h2.9v3.6h-2.9zM626.2 350.4h2.9v3.6h-2.9zM618.7 353.6h5.4v3.6h-5.4zM373.5 356.8h2.9v3.6h-2.9zM613.7 356.8h5.4v3.6h-5.4zM356 360h10.4v3.6h-10.4zM373.5 360h5.4v3.6h-5.4zM356 363.2h5.4v3.6h-5.4zM366 366.4h7.9v3.6h-7.9zM361 369.6h2.9v3.6h-2.9zM633.7 369.6h7.9v3.6h-7.9zM371 372.8h2.9v3.6h-2.9zM601.2 372.8h2.9v3.6h-2.9zM608.7 372.8h10.4v3.6h-10.4zM626.2 372.8h5.4v3.6h-5.4zM648.7 372.8h2.9v3.6h-2.9zM356 376h2.9v3.6h-2.9zM371 376h5.4v3.6h-5.4zM381 376h2.9v3.6h-2.9zM598.7 376h2.9v3.6h-2.9zM603.7 376h2.9v3.6h-2.9zM373.5 379.2h2.9v3.6h-2.9zM381 379.2h2.9v3.6h-2.9zM601.2 379.2h5.4v3.6h-5.4zM611.2 379.2h5.4v3.6h-5.4zM356 382.4h7.9v3.6h-7.9zM368.5 382.4h7.9v3.6h-7.9zM371 385.6h2.9v3.6h-2.9zM381 385.6h5.4v3.6h-5.4zM598.7 385.6h5.4v3.6h-5.4zM356 388.8h2.9v3.6h-2.9zM371 388.8h5.4v3.6h-5.4zM633.7 388.8h5.4v3.6h-5.4zM363.5 392h7.9v3.6h-7.9zM613.7 392h2.9v3.6h-2.9zM626.2 392h5.4v3.6h-5.4zM361 395.2h2.9v3.6h-2.9zM366 395.2h5.4v3.6h-5.4zM558.6 395.2h2.9v3.6h-2.9zM626.2 395.2h5.4v3.6h-5.4zM361 398.4h5.4v3.6h-5.4zM598.7 398.4h2.9v3.6h-2.9zM616.2 398.4h2.9v3.6h-2.9zM628.7 398.4h2.9v3.6h-2.9zM613.7 401.6h2.9v3.6h-2.9zM623.7 401.6h5.4v3.6h-5.4zM373.5 404.8h5.4v3.6h-5.4zM598.7 404.8h7.9v3.6h-7.9zM616.2 404.8h10.4v3.6h-10.4zM608.7 408h15.4v3.6h-15.4zM628.7 408h2.9v3.6h-2.9zM633.7 408h17.9v3.6h-17.9zM603.7 411.2h2.9v3.6h-2.9zM628.7 411.2h5.4v3.6h-5.4zM636.2 411.2h2.9v3.6h-2.9zM641.2 411.2h2.9v3.6h-2.9zM646.2 411.2h5.4v3.6h-5.4zM406 414.4h2.9v3.6h-2.9zM606.2 414.4h2.9v3.6h-2.9zM613.7 414.4h12.9v3.6h-12.9zM633.7 414.4h2.9v3.6h-2.9zM638.7 414.4h12.9v3.6h-12.9zM356 417.6h5.4v3.6h-5.4zM578.7 417.6h2.9v3.6h-2.9zM606.2 417.6h2.9v3.6h-2.9zM611.2 417.6h2.9v3.6h-2.9zM623.7 417.6h2.9v3.6h-2.9zM631.2 417.6h7.9v3.6h-7.9zM643.7 417.6h2.9v3.6h-2.9zM356 420.8h7.9v3.6h-7.9zM643.7 420.8h7.9v3.6h-7.9zM356 424h5.4v3.6h-5.4zM363.5 424h5.4v3.6h-5.4zM631.2 424h5.4v3.6h-5.4zM641.2 424h2.9v3.6h-2.9zM366 427.2h2.9v3.6h-2.9zM613.7 427.2h2.9v3.6h-2.9zM623.7 427.2h7.9v3.6h-7.9zM361 430.4h2.9v3.6h-2.9zM366 430.4h2.9v3.6h-2.9zM596.2 430.4h5.4v3.6h-5.4zM363.5 433.6h2.9v3.6h-2.9zM356 436.8h2.9v3.6h-2.9zM363.5 436.8h2.9v3.6h-2.9zM626.2 440h2.9v3.6h-2.9z"/><path fill="#3bffc3" d="M383.5 283.2h2.9v3.6h-2.9zM441.1 283.2h5.4v3.6h-5.4zM496.1 283.2h5.4v3.6h-5.4zM618.7 283.2h2.9v3.6h-2.9zM386 286.4h2.9v3.6h-2.9zM441.1 286.4h2.9v3.6h-2.9zM536.1 286.4h2.9v3.6h-2.9zM588.7 286.4h2.9v3.6h-2.9zM606.2 286.4h2.9v3.6h-2.9zM618.7 286.4h2.9v3.6h-2.9zM421 289.6h7.9v3.6h-7.9zM431.1 289.6h5.4v3.6h-5.4zM441.1 289.6h2.9v3.6h-2.9zM588.7 308.8h2.9v3.6h-2.9zM361 363.2h5.4v3.6h-5.4zM368.5 363.2h2.9v3.6h-2.9zM356 369.6h5.4v3.6h-5.4zM358.5 372.8h12.9v3.6h-12.9zM358.5 376h2.9v3.6h-2.9zM368.5 376h2.9v3.6h-2.9zM376 376h5.4v3.6h-5.4zM601.2 376h2.9v3.6h-2.9zM358.5 379.2h7.9v3.6h-7.9zM368.5 379.2h2.9v3.6h-2.9zM606.2 379.2h5.4v3.6h-5.4zM363.5 382.4h5.4v3.6h-5.4zM356 385.6h5.4v3.6h-5.4zM368.5 385.6h2.9v3.6h-2.9zM358.5 388.8h5.4v3.6h-5.4zM368.5 388.8h2.9v3.6h-2.9zM358.5 392h5.4v3.6h-5.4zM356 395.2h5.4v3.6h-5.4zM358.5 398.4h2.9v3.6h-2.9zM623.7 398.4h5.4v3.6h-5.4zM631.2 408h2.9v3.6h-2.9zM638.7 411.2h2.9v3.6h-2.9zM608.7 414.4h5.4v3.6h-5.4zM636.2 414.4h2.9v3.6h-2.9zM608.7 417.6h2.9v3.6h-2.9zM626.2 417.6h5.4v3.6h-5.4zM618.7 420.8h7.9v3.6h-7.9zM636.2 420.8h2.9v3.6h-2.9zM361 424h2.9v3.6h-2.9zM613.7 424h2.9v3.6h-2.9zM621.2 424h10.4v3.6h-10.4zM636.2 424h5.4v3.6h-5.4zM363.5 427.2h2.9v3.6h-2.9zM616.2 427.2h7.9v3.6h-7.9zM358.5 430.4h2.9v3.6h-2.9zM363.5 430.4h2.9v3.6h-2.9zM358.5 436.8h5.4v3.6h-5.4z"/><path fill="#19ffe5" d="M401 283.2h2.9v3.6h-2.9zM418.5 283.2h5.4v3.6h-5.4zM433.6 283.2h2.9v3.6h-2.9zM438.6 283.2h2.9v3.6h-2.9zM446.1 283.2h7.9v3.6h-7.9zM468.6 283.2h2.9v3.6h-2.9zM508.6 283.2h5.4v3.6h-5.4zM433.6 286.4h7.9v3.6h-7.9zM428.5 289.6h2.9v3.6h-2.9zM436.1 289.6h5.4v3.6h-5.4zM366 363.2h2.9v3.6h-2.9zM356 372.8h2.9v3.6h-2.9zM361 376h7.9v3.6h-7.9zM356 379.2h2.9v3.6h-2.9zM366 379.2h2.9v3.6h-2.9zM361 385.6h7.9v3.6h-7.9zM363.5 388.8h5.4v3.6h-5.4zM356 392h2.9v3.6h-2.9zM356 398.4h2.9v3.6h-2.9zM646.2 417.6h5.4v3.6h-5.4zM626.2 420.8h10.4v3.6h-10.4zM616.2 424h5.4v3.6h-5.4zM361 427.2h2.9v3.6h-2.9zM618.7 433.6h2.9v3.6h-2.9zM618.7 440h2.9v3.6h-2.9z"/><path fill="#0090ff" d="M403.5 283.2h2.9v3.6h-2.9zM641.2 369.6h2.9v3.6h-2.9z"/><path fill="#004cff" d="M406 283.2h2.9v3.6h-2.9zM406 286.4h2.9v3.6h-2.9zM413.5 286.4h2.9v3.6h-2.9zM426 430.4h2.9v3.6h-2.9zM426 433.6h2.9v3.6h-2.9z"/><path fill="#002aff" d="M408.5 283.2h5.4v3.6h-5.4zM408.5 286.4h5.4v3.6h-5.4zM618.7 436.8h2.9v3.6h-2.9z"/><path fill="#006eff" d="M413.5 283.2h2.9v3.6h-2.9z"/><path fill="#00b2ff" d="M416 283.2h2.9v3.6h-2.9zM403.5 286.4h2.9v3.6h-2.9zM416 286.4h2.9v3.6h-2.9zM423.5 286.4h7.9v3.6h-7.9zM356 430.4h2.9v3.6h-2.9zM616.2 433.6h2.9v3.6h-2.9zM616.2 440h2.9v3.6h-2.9z"/><path fill="#00d4ff" d="M423.5 283.2h7.9v3.6h-7.9zM418.5 286.4h5.4v3.6h-5.4zM406 411.2h2.9v3.6h-2.9zM356 427.2h2.9v3.6h-2.9zM613.7 436.8h2.9v3.6h-2.9z"/><path fill="#00f6ff" d="M431.1 283.2h2.9v3.6h-2.9zM436.1 283.2h2.9v3.6h-2.9zM506.1 283.2h2.9v3.6h-2.9zM401 286.4h2.9v3.6h-2.9zM431.1 286.4h2.9v3.6h-2.9zM358.5 427.2h2.9v3.6h-2.9zM428.5 430.4h2.9v3.6h-2.9zM356 433.6h2.9v3.6h-2.9zM428.5 433.6h2.9v3.6h-2.9z"/><path fill="#e5ff19" d="M476.1 283.2h2.9v3.6h-2.9zM481.1 283.2h10.4v3.6h-10.4zM518.6 283.2h2.9v3.6h-2.9zM536.1 283.2h2.9v3.6h-2.9zM543.6 283.2h2.9v3.6h-2.9zM553.6 283.2h2.9v3.6h-2.9zM558.6 283.2h2.9v3.6h-2.9zM566.1 283.2h2.9v3.6h-2.9zM573.6 283.2h2.9v3.6h-2.9zM578.7 283.2h2.9v3.6h-2.9zM643.7 283.2h7.9v3.6h-7.9zM371 286.4h2.9v3.6h-2.9zM453.6 286.4h2.9v3.6h-2.9zM458.6 286.4h2.9v3.6h-2.9zM463.6 286.4h2.9v3.6h-2.9zM478.6 286.4h2.9v3.6h-2.9zM501.1 286.4h2.9v3.6h-2.9zM541.1 286.4h2.9v3.6h-2.9zM548.6 286.4h2.9v3.6h-2.9zM561.1 286.4h2.9v3.6h-2.9zM566.1 286.4h5.4v3.6h-5.4zM366 289.6h2.9v3.6h-2.9zM376 289.6h2.9v3.6h-2.9zM448.6 289.6h5.4v3.6h-5.4zM458.6 289.6h5.4v3.6h-5.4zM493.6 289.6h2.9v3.6h-2.9zM531.1 289.6h2.9v3.6h-2.9zM551.1 289.6h2.9v3.6h-2.9zM576.1 289.6h2.9v3.6h-2.9zM603.7 289.6h10.4v3.6h-10.4zM618.7 289.6h2.9v3.6h-2.9zM626.2 289.6h2.9v3.6h-2.9zM648.7 289.6h2.9v3.6h-2.9zM371 292.8h5.4v3.6h-5.4zM391 292.8h5.4v3.6h-5.4zM401 292.8h2.9v3.6h-2.9zM423.5 292.8h2.9v3.6h-2.9zM433.6 292.8h2.9v3.6h-2.9zM438.6 292.8h5.4v3.6h-5.4zM453.6 292.8h2.9v3.6h-2.9zM506.1 292.8h2.9v3.6h-2.9zM511.1 292.8h2.9v3.6h-2.9zM526.1 292.8h2.9v3.6h-2.9zM531.1 292.8h7.9v3.6h-7.9zM546.1 292.8h7.9v3.6h-7.9zM571.1 292.8h2.9v3.6h-2.9zM586.2 292.8h2.9v3.6h-2.9zM611.2 292.8h2.9v3.6h-2.9zM368.5 296h5.4v3.6h-5.4zM381 296h2.9v3.6h-2.9zM386 296h12.9v3.6h-12.9zM456.1 296h2.9v3.6h-2.9zM496.1 296h2.9v3.6h-2.9zM506.1 296h2.9v3.6h-2.9zM521.1 296h2.9v3.6h-2.9zM546.1 296h5.4v3.6h-5.4zM576.1 296h2.9v3.6h-2.9zM581.2 296h2.9v3.6h-2.9zM601.2 296h5.4v3.6h-5.4zM616.2 296h5.4v3.6h-5.4zM636.2 296h5.4v3.6h-5.4zM356 299.2h2.9v3.6h-2.9zM361 299.2h2.9v3.6h-2.9zM388.5 299.2h5.4v3.6h-5.4zM398.5 299.2h2.9v3.6h-2.9zM406 299.2h2.9v3.6h-2.9zM413.5 299.2h2.9v3.6h-2.9zM443.6 299.2h2.9v3.6h-2.9zM453.6 299.2h2.9v3.6h-2.9zM471.1 299.2h7.9v3.6h-7.9zM511.1 299.2h2.9v3.6h-2.9zM523.6 299.2h2.9v3.6h-2.9zM543.6 299.2h2.9v3.6h-2.9zM578.7 299.2h10.4v3.6h-10.4zM608.7 299.2h10.4v3.6h-10.4zM631.2 299.2h5.4v3.6h-5.4zM641.2 299.2h2.9v3.6h-2.9zM646.2 299.2h2.9v3.6h-2.9zM356 302.4h2.9v3.6h-2.9zM363.5 302.4h5.4v3.6h-5.4zM371 302.4h7.9v3.6h-7.9zM381 302.4h5.4v3.6h-5.4zM393.5 302.4h12.9v3.6h-12.9zM413.5 302.4h5.4v3.6h-5.4zM421 302.4h5.4v3.6h-5.4zM436.1 302.4h2.9v3.6h-2.9zM441.1 302.4h2.9v3.6h-2.9zM446.1 302.4h5.4v3.6h-5.4zM501.1 302.4h2.9v3.6h-2.9zM568.6 302.4h5.4v3.6h-5.4zM578.7 302.4h7.9v3.6h-7.9zM591.2 302.4h2.9v3.6h-2.9zM603.7 302.4h10.4v3.6h-10.4zM616.2 302.4h2.9v3.6h-2.9zM356 305.6h5.4v3.6h-5.4zM371 305.6h12.9v3.6h-12.9zM386 305.6h2.9v3.6h-2.9zM398.5 305.6h2.9v3.6h-2.9zM418.5 305.6h5.4v3.6h-5.4zM426 305.6h2.9v3.6h-2.9zM433.6 305.6h2.9v3.6h-2.9zM438.6 305.6h2.9v3.6h-2.9zM453.6 305.6h2.9v3.6h-2.9zM463.6 305.6h2.9v3.6h-2.9zM471.1 305.6h2.9v3.6h-2.9zM476.1 305.6h2.9v3.6h-2.9zM518.6 305.6h5.4v3.6h-5.4zM533.6 305.6h2.9v3.6h-2.9zM566.1 305.6h2.9v3.6h-2.9zM583.7 305.6h5.4v3.6h-5.4zM593.7 305.6h2.9v3.6h-2.9zM606.2 305.6h7.9v3.6h-7.9zM356 308.8h5.4v3.6h-5.4zM368.5 308.8h2.9v3.6h-2.9zM378.5 308.8h2.9v3.6h-2.9zM386 308.8h2.9v3.6h-2.9zM393.5 308.8h5.4v3.6h-5.4zM423.5 308.8h5.4v3.6h-5.4zM433.6 308.8h2.9v3.6h-2.9zM463.6 308.8h2.9v3.6h-2.9zM478.6 308.8h2.9v3.6h-2.9zM506.1 308.8h5.4v3.6h-5.4zM551.1 308.8h5.4v3.6h-5.4zM561.1 308.8h2.9v3.6h-2.9zM578.7 308.8h2.9v3.6h-2.9zM611.2 308.8h7.9v3.6h-7.9zM368.5 312h2.9v3.6h-2.9zM386 312h5.4v3.6h-5.4zM393.5 312h5.4v3.6h-5.4zM418.5 312h2.9v3.6h-2.9zM431.1 312h2.9v3.6h-2.9zM443.6 312h5.4v3.6h-5.4zM463.6 312h2.9v3.6h-2.9zM496.1 312h2.9v3.6h-2.9zM501.1 312h5.4v3.6h-5.4zM511.1 312h2.9v3.6h-2.9zM516.1 312h2.9v3.6h-2.9zM566.1 312h2.9v3.6h-2.9zM573.6 312h2.9v3.6h-2.9zM591.2 312h2.9v3.6h-2.9zM603.7 312h2.9v3.6h-2.9zM611.2 312h2.9v3.6h-2.9zM373.5 315.2h10.4v3.6h-10.4zM391 315.2h7.9v3.6h-7.9zM428.5 315.2h2.9v3.6h-2.9zM486.1 315.2h5.4v3.6h-5.4zM496.1 315.2h2.9v3.6h-2.9zM583.7 315.2h2.9v3.6h-2.9zM596.2 315.2h5.4v3.6h-5.4zM361 318.4h7.9v3.6h-7.9zM373.5 318.4h5.4v3.6h-5.4zM381 318.4h17.9v3.6h-17.9zM431.1 318.4h2.9v3.6h-2.9zM603.7 318.4h2.9v3.6h-2.9zM638.7 318.4h5.4v3.6h-5.4zM358.5 321.6h7.9v3.6h-7.9zM381 321.6h2.9v3.6h-2.9zM386 321.6h20.4v3.6h-20.4zM416 321.6h2.9v3.6h-2.9zM451.1 321.6h2.9v3.6h-2.9zM588.7 321.6h2.9v3.6h-2.9zM643.7 321.6h5.4v3.6h-5.4zM358.5 324.8h2.9v3.6h-2.9zM371 324.8h2.9v3.6h-2.9zM391 324.8h2.9v3.6h-2.9zM401 324.8h5.4v3.6h-5.4zM418.5 324.8h2.9v3.6h-2.9zM576.1 324.8h2.9v3.6h-2.9zM611.2 324.8h2.9v3.6h-2.9zM636.2 324.8h10.4v3.6h-10.4zM356 328h2.9v3.6h-2.9zM398.5 328h2.9v3.6h-2.9zM416 328h2.9v3.6h-2.9zM451.1 328h2.9v3.6h-2.9zM588.7 328h2.9v3.6h-2.9zM593.7 328h7.9v3.6h-7.9zM628.7 328h2.9v3.6h-2.9zM638.7 328h2.9v3.6h-2.9zM361 331.2h2.9v3.6h-2.9zM418.5 331.2h2.9v3.6h-2.9zM448.6 331.2h2.9v3.6h-2.9zM563.6 331.2h2.9v3.6h-2.9zM601.2 331.2h5.4v3.6h-5.4zM608.7 331.2h5.4v3.6h-5.4zM628.7 331.2h5.4v3.6h-5.4zM356 334.4h12.9v3.6h-12.9zM391 334.4h2.9v3.6h-2.9zM501.1 334.4h2.9v3.6h-2.9zM563.6 334.4h2.9v3.6h-2.9zM601.2 334.4h5.4v3.6h-5.4zM646.2 334.4h2.9v3.6h-2.9zM356 337.6h5.4v3.6h-5.4zM426 337.6h2.9v3.6h-2.9zM603.7 337.6h2.9v3.6h-2.9zM633.7 337.6h5.4v3.6h-5.4zM646.2 337.6h5.4v3.6h-5.4zM356 340.8h2.9v3.6h-2.9zM363.5 340.8h5.4v3.6h-5.4zM603.7 340.8h2.9v3.6h-2.9zM608.7 340.8h5.4v3.6h-5.4zM618.7 340.8h7.9v3.6h-7.9zM628.7 340.8h2.9v3.6h-2.9zM641.2 340.8h5.4v3.6h-5.4zM371 344h2.9v3.6h-2.9zM398.5 344h7.9v3.6h-7.9zM408.5 344h2.9v3.6h-2.9zM601.2 344h2.9v3.6h-2.9zM618.7 344h7.9v3.6h-7.9zM366 347.2h2.9v3.6h-2.9zM371 347.2h2.9v3.6h-2.9zM388.5 347.2h2.9v3.6h-2.9zM396 347.2h12.9v3.6h-12.9zM603.7 347.2h2.9v3.6h-2.9zM643.7 347.2h5.4v3.6h-5.4zM388.5 350.4h10.4v3.6h-10.4zM406 350.4h5.4v3.6h-5.4zM428.5 350.4h2.9v3.6h-2.9zM591.2 350.4h7.9v3.6h-7.9zM643.7 350.4h7.9v3.6h-7.9zM388.5 353.6h2.9v3.6h-2.9zM396 353.6h5.4v3.6h-5.4zM403.5 353.6h2.9v3.6h-2.9zM453.6 353.6h2.9v3.6h-2.9zM603.7 353.6h2.9v3.6h-2.9zM641.2 353.6h2.9v3.6h-2.9zM646.2 353.6h5.4v3.6h-5.4zM381 356.8h5.4v3.6h-5.4zM388.5 360h2.9v3.6h-2.9zM398.5 360h2.9v3.6h-2.9zM408.5 360h2.9v3.6h-2.9zM596.2 360h2.9v3.6h-2.9zM381 363.2h7.9v3.6h-7.9zM408.5 363.2h2.9v3.6h-2.9zM388.5 366.4h5.4v3.6h-5.4zM418.5 366.4h2.9v3.6h-2.9zM593.7 366.4h7.9v3.6h-7.9zM393.5 369.6h5.4v3.6h-5.4zM418.5 369.6h2.9v3.6h-2.9zM446.1 369.6h5.4v3.6h-5.4zM453.6 369.6h2.9v3.6h-2.9zM471.1 369.6h2.9v3.6h-2.9zM593.7 369.6h2.9v3.6h-2.9zM598.7 369.6h2.9v3.6h-2.9zM391 372.8h2.9v3.6h-2.9zM573.6 372.8h2.9v3.6h-2.9zM588.7 372.8h2.9v3.6h-2.9zM396 376h2.9v3.6h-2.9zM558.6 376h2.9v3.6h-2.9zM591.2 376h2.9v3.6h-2.9zM636.2 376h2.9v3.6h-2.9zM398.5 379.2h2.9v3.6h-2.9zM583.7 379.2h2.9v3.6h-2.9zM588.7 379.2h2.9v3.6h-2.9zM623.7 379.2h5.4v3.6h-5.4zM583.7 382.4h12.9v3.6h-12.9zM643.7 382.4h5.4v3.6h-5.4zM391 385.6h5.4v3.6h-5.4zM398.5 385.6h2.9v3.6h-2.9zM608.7 385.6h2.9v3.6h-2.9zM618.7 385.6h5.4v3.6h-5.4zM393.5 388.8h2.9v3.6h-2.9zM428.5 388.8h2.9v3.6h-2.9zM581.2 388.8h2.9v3.6h-2.9zM643.7 388.8h2.9v3.6h-2.9zM393.5 392h2.9v3.6h-2.9zM643.7 392h5.4v3.6h-5.4zM381 395.2h2.9v3.6h-2.9zM393.5 395.2h2.9v3.6h-2.9zM578.7 395.2h2.9v3.6h-2.9zM583.7 395.2h2.9v3.6h-2.9zM593.7 395.2h5.4v3.6h-5.4zM641.2 395.2h5.4v3.6h-5.4zM378.5 398.4h2.9v3.6h-2.9zM391 398.4h5.4v3.6h-5.4zM428.5 398.4h2.9v3.6h-2.9zM558.6 398.4h2.9v3.6h-2.9zM571.1 398.4h2.9v3.6h-2.9zM648.7 398.4h2.9v3.6h-2.9zM391 401.6h2.9v3.6h-2.9zM566.1 401.6h2.9v3.6h-2.9zM576.1 401.6h2.9v3.6h-2.9zM383.5 404.8h2.9v3.6h-2.9zM578.7 404.8h7.9v3.6h-7.9zM638.7 404.8h2.9v3.6h-2.9zM388.5 408h2.9v3.6h-2.9zM396 408h2.9v3.6h-2.9zM401 408h5.4v3.6h-5.4zM421 408h5.4v3.6h-5.4zM576.1 408h5.4v3.6h-5.4zM373.5 411.2h5.4v3.6h-5.4zM386 411.2h5.4v3.6h-5.4zM401 411.2h2.9v3.6h-2.9zM418.5 411.2h7.9v3.6h-7.9zM428.5 411.2h5.4v3.6h-5.4zM448.6 411.2h2.9v3.6h-2.9zM526.1 411.2h2.9v3.6h-2.9zM578.7 411.2h2.9v3.6h-2.9zM376 414.4h15.4v3.6h-15.4zM401 414.4h2.9v3.6h-2.9zM416 414.4h7.9v3.6h-7.9zM436.1 414.4h2.9v3.6h-2.9zM551.1 414.4h2.9v3.6h-2.9zM571.1 414.4h5.4v3.6h-5.4zM376 417.6h7.9v3.6h-7.9zM388.5 417.6h2.9v3.6h-2.9zM401 417.6h10.4v3.6h-10.4zM413.5 417.6h12.9v3.6h-12.9zM431.1 417.6h15.4v3.6h-15.4zM551.1 417.6h2.9v3.6h-2.9zM556.1 417.6h5.4v3.6h-5.4zM563.6 417.6h2.9v3.6h-2.9zM571.1 417.6h2.9v3.6h-2.9zM373.5 420.8h2.9v3.6h-2.9zM378.5 420.8h15.4v3.6h-15.4zM398.5 420.8h20.4v3.6h-20.4zM423.5 420.8h7.9v3.6h-7.9zM433.6 420.8h5.4v3.6h-5.4zM553.6 420.8h5.4v3.6h-5.4zM563.6 420.8h2.9v3.6h-2.9zM591.2 420.8h2.9v3.6h-2.9zM373.5 424h2.9v3.6h-2.9zM421 424h2.9v3.6h-2.9zM451.1 424h2.9v3.6h-2.9zM378.5 427.2h12.9v3.6h-12.9zM551.1 427.2h2.9v3.6h-2.9zM563.6 427.2h2.9v3.6h-2.9zM373.5 430.4h2.9v3.6h-2.9zM381 430.4h7.9v3.6h-7.9zM556.1 430.4h2.9v3.6h-2.9zM568.6 430.4h2.9v3.6h-2.9zM573.6 430.4h2.9v3.6h-2.9zM606.2 430.4h2.9v3.6h-2.9zM613.7 430.4h5.4v3.6h-5.4zM628.7 430.4h2.9v3.6h-2.9zM376 433.6h2.9v3.6h-2.9zM383.5 433.6h10.4v3.6h-10.4zM421 433.6h5.4v3.6h-5.4zM433.6 433.6h5.4v3.6h-5.4zM576.1 433.6h2.9v3.6h-2.9zM383.5 436.8h5.4v3.6h-5.4zM413.5 436.8h2.9v3.6h-2.9zM431.1 436.8h7.9v3.6h-7.9zM561.1 436.8h7.9v3.6h-7.9zM371 440h2.9v3.6h-2.9zM386 440h2.9v3.6h-2.9zM393.5 440h2.9v3.6h-2.9zM413.5 440h5.4v3.6h-5.4zM423.5 440h2.9v3.6h-2.9zM431.1 440h5.4v3.6h-5.4zM551.1 440h5.4v3.6h-5.4zM561.1 440h5.4v3.6h-5.4zM571.1 440h2.9v3.6h-2.9zM578.7 440h7.9v3.6h-7.9z"/><path fill="#fff600" d="M516.1 283.2h2.9v3.6h-2.9zM521.1 283.2h2.9v3.6h-2.9zM526.1 283.2h2.9v3.6h-2.9zM538.6 283.2h2.9v3.6h-2.9zM548.6 283.2h2.9v3.6h-2.9zM563.6 283.2h2.9v3.6h-2.9zM568.6 283.2h5.4v3.6h-5.4zM476.1 286.4h2.9v3.6h-2.9zM481.1 286.4h10.4v3.6h-10.4zM506.1 286.4h2.9v3.6h-2.9zM546.1 286.4h2.9v3.6h-2.9zM553.6 286.4h5.4v3.6h-5.4zM576.1 286.4h2.9v3.6h-2.9zM356 289.6h10.4v3.6h-10.4zM368.5 289.6h7.9v3.6h-7.9zM538.6 289.6h2.9v3.6h-2.9zM546.1 289.6h5.4v3.6h-5.4zM561.1 289.6h2.9v3.6h-2.9zM586.2 289.6h2.9v3.6h-2.9zM366 292.8h5.4v3.6h-5.4zM403.5 292.8h2.9v3.6h-2.9zM468.6 292.8h2.9v3.6h-2.9zM478.6 292.8h5.4v3.6h-5.4zM508.6 292.8h2.9v3.6h-2.9zM513.6 292.8h10.4v3.6h-10.4zM576.1 292.8h2.9v3.6h-2.9zM356 296h5.4v3.6h-5.4zM363.5 296h5.4v3.6h-5.4zM383.5 296h2.9v3.6h-2.9zM398.5 296h2.9v3.6h-2.9zM503.6 296h2.9v3.6h-2.9zM583.7 296h2.9v3.6h-2.9zM591.2 296h5.4v3.6h-5.4zM598.7 296h2.9v3.6h-2.9zM641.2 296h5.4v3.6h-5.4zM363.5 299.2h10.4v3.6h-10.4zM401 299.2h5.4v3.6h-5.4zM408.5 299.2h5.4v3.6h-5.4zM416 299.2h5.4v3.6h-5.4zM433.6 299.2h5.4v3.6h-5.4zM513.6 299.2h2.9v3.6h-2.9zM521.1 299.2h2.9v3.6h-2.9zM541.1 299.2h2.9v3.6h-2.9zM573.6 299.2h2.9v3.6h-2.9zM636.2 299.2h5.4v3.6h-5.4zM648.7 299.2h2.9v3.6h-2.9zM358.5 302.4h5.4v3.6h-5.4zM368.5 302.4h2.9v3.6h-2.9zM386 302.4h7.9v3.6h-7.9zM426 302.4h2.9v3.6h-2.9zM433.6 302.4h2.9v3.6h-2.9zM466.1 302.4h2.9v3.6h-2.9zM503.6 302.4h2.9v3.6h-2.9zM543.6 302.4h2.9v3.6h-2.9zM548.6 302.4h2.9v3.6h-2.9zM573.6 302.4h2.9v3.6h-2.9zM586.2 302.4h2.9v3.6h-2.9zM361 305.6h10.4v3.6h-10.4zM388.5 305.6h2.9v3.6h-2.9zM393.5 305.6h5.4v3.6h-5.4zM441.1 305.6h2.9v3.6h-2.9zM456.1 305.6h2.9v3.6h-2.9zM461.1 305.6h2.9v3.6h-2.9zM473.6 305.6h2.9v3.6h-2.9zM523.6 305.6h2.9v3.6h-2.9zM536.1 305.6h2.9v3.6h-2.9zM551.1 305.6h2.9v3.6h-2.9zM561.1 305.6h2.9v3.6h-2.9zM596.2 305.6h2.9v3.6h-2.9zM601.2 305.6h5.4v3.6h-5.4zM361 308.8h7.9v3.6h-7.9zM388.5 308.8h5.4v3.6h-5.4zM411 308.8h2.9v3.6h-2.9zM421 308.8h2.9v3.6h-2.9zM438.6 308.8h2.9v3.6h-2.9zM451.1 308.8h2.9v3.6h-2.9zM456.1 308.8h2.9v3.6h-2.9zM476.1 308.8h2.9v3.6h-2.9zM501.1 308.8h2.9v3.6h-2.9zM516.1 308.8h2.9v3.6h-2.9zM361 312h2.9v3.6h-2.9zM366 312h2.9v3.6h-2.9zM433.6 312h2.9v3.6h-2.9zM438.6 312h2.9v3.6h-2.9zM461.1 312h2.9v3.6h-2.9zM488.6 312h2.9v3.6h-2.9zM493.6 312h2.9v3.6h-2.9zM508.6 312h2.9v3.6h-2.9zM561.1 312h5.4v3.6h-5.4zM576.1 312h5.4v3.6h-5.4zM583.7 312h5.4v3.6h-5.4zM383.5 315.2h7.9v3.6h-7.9zM431.1 315.2h5.4v3.6h-5.4zM443.6 315.2h2.9v3.6h-2.9zM483.6 315.2h2.9v3.6h-2.9zM493.6 315.2h2.9v3.6h-2.9zM558.6 315.2h5.4v3.6h-5.4zM581.2 315.2h2.9v3.6h-2.9zM588.7 315.2h2.9v3.6h-2.9zM368.5 318.4h5.4v3.6h-5.4zM436.1 318.4h2.9v3.6h-2.9zM588.7 318.4h7.9v3.6h-7.9zM601.2 318.4h2.9v3.6h-2.9zM366 321.6h15.4v3.6h-15.4zM383.5 321.6h2.9v3.6h-2.9zM406 321.6h10.4v3.6h-10.4zM421 321.6h2.9v3.6h-2.9zM476.1 321.6h2.9v3.6h-2.9zM543.6 321.6h2.9v3.6h-2.9zM553.6 321.6h2.9v3.6h-2.9zM356 324.8h2.9v3.6h-2.9zM361 324.8h2.9v3.6h-2.9zM366 324.8h2.9v3.6h-2.9zM373.5 324.8h5.4v3.6h-5.4zM386 324.8h5.4v3.6h-5.4zM393.5 324.8h7.9v3.6h-7.9zM406 324.8h2.9v3.6h-2.9zM413.5 324.8h5.4v3.6h-5.4zM421 324.8h2.9v3.6h-2.9zM488.6 324.8h5.4v3.6h-5.4zM496.1 324.8h2.9v3.6h-2.9zM563.6 324.8h2.9v3.6h-2.9zM568.6 324.8h5.4v3.6h-5.4zM601.2 324.8h2.9v3.6h-2.9zM606.2 324.8h5.4v3.6h-5.4zM646.2 324.8h5.4v3.6h-5.4zM358.5 328h27.9v3.6h-27.9zM396 328h2.9v3.6h-2.9zM401 328h5.4v3.6h-5.4zM411 328h2.9v3.6h-2.9zM418.5 328h2.9v3.6h-2.9zM428.5 328h2.9v3.6h-2.9zM443.6 328h2.9v3.6h-2.9zM553.6 328h2.9v3.6h-2.9zM581.2 328h2.9v3.6h-2.9zM363.5 331.2h2.9v3.6h-2.9zM373.5 331.2h5.4v3.6h-5.4zM408.5 331.2h10.4v3.6h-10.4zM426 331.2h2.9v3.6h-2.9zM516.1 331.2h2.9v3.6h-2.9zM576.1 331.2h2.9v3.6h-2.9zM638.7 331.2h2.9v3.6h-2.9zM646.2 331.2h5.4v3.6h-5.4zM368.5 334.4h7.9v3.6h-7.9zM381 334.4h5.4v3.6h-5.4zM388.5 334.4h2.9v3.6h-2.9zM393.5 334.4h5.4v3.6h-5.4zM426 334.4h2.9v3.6h-2.9zM448.6 334.4h2.9v3.6h-2.9zM503.6 334.4h2.9v3.6h-2.9zM641.2 334.4h5.4v3.6h-5.4zM361 337.6h7.9v3.6h-7.9zM388.5 337.6h5.4v3.6h-5.4zM596.2 337.6h7.9v3.6h-7.9zM638.7 337.6h5.4v3.6h-5.4zM358.5 340.8h5.4v3.6h-5.4zM388.5 340.8h7.9v3.6h-7.9zM403.5 340.8h2.9v3.6h-2.9zM426 340.8h2.9v3.6h-2.9zM591.2 340.8h2.9v3.6h-2.9zM601.2 340.8h2.9v3.6h-2.9zM378.5 344h2.9v3.6h-2.9zM388.5 344h5.4v3.6h-5.4zM396 344h2.9v3.6h-2.9zM406 344h2.9v3.6h-2.9zM553.6 344h12.9v3.6h-12.9zM598.7 344h2.9v3.6h-2.9zM641.2 344h2.9v3.6h-2.9zM383.5 347.2h5.4v3.6h-5.4zM391 347.2h5.4v3.6h-5.4zM411 347.2h2.9v3.6h-2.9zM566.1 347.2h2.9v3.6h-2.9zM648.7 347.2h2.9v3.6h-2.9zM398.5 350.4h7.9v3.6h-7.9zM411 350.4h5.4v3.6h-5.4zM418.5 350.4h2.9v3.6h-2.9zM423.5 350.4h2.9v3.6h-2.9zM451.1 350.4h2.9v3.6h-2.9zM523.6 350.4h2.9v3.6h-2.9zM391 353.6h5.4v3.6h-5.4zM401 353.6h2.9v3.6h-2.9zM451.1 353.6h2.9v3.6h-2.9zM543.6 353.6h5.4v3.6h-5.4zM596.2 353.6h2.9v3.6h-2.9zM643.7 353.6h2.9v3.6h-2.9zM386 356.8h2.9v3.6h-2.9zM393.5 356.8h2.9v3.6h-2.9zM406 356.8h5.4v3.6h-5.4zM593.7 356.8h2.9v3.6h-2.9zM391 360h2.9v3.6h-2.9zM396 360h2.9v3.6h-2.9zM403.5 360h5.4v3.6h-5.4zM421 360h7.9v3.6h-7.9zM446.1 360h2.9v3.6h-2.9zM388.5 363.2h2.9v3.6h-2.9zM406 363.2h2.9v3.6h-2.9zM411 363.2h2.9v3.6h-2.9zM428.5 363.2h2.9v3.6h-2.9zM393.5 366.4h7.9v3.6h-7.9zM403.5 366.4h5.4v3.6h-5.4zM528.6 366.4h2.9v3.6h-2.9zM591.2 366.4h2.9v3.6h-2.9zM398.5 369.6h2.9v3.6h-2.9zM428.5 369.6h2.9v3.6h-2.9zM473.6 369.6h2.9v3.6h-2.9zM538.6 369.6h2.9v3.6h-2.9zM576.1 369.6h2.9v3.6h-2.9zM393.5 372.8h7.9v3.6h-7.9zM418.5 372.8h2.9v3.6h-2.9zM566.1 372.8h2.9v3.6h-2.9zM418.5 376h5.4v3.6h-5.4zM571.1 376h2.9v3.6h-2.9zM588.7 376h2.9v3.6h-2.9zM428.5 379.2h2.9v3.6h-2.9zM461.1 379.2h2.9v3.6h-2.9zM566.1 379.2h2.9v3.6h-2.9zM578.7 379.2h5.4v3.6h-5.4zM586.2 379.2h2.9v3.6h-2.9zM401 382.4h12.9v3.6h-12.9zM561.1 382.4h2.9v3.6h-2.9zM576.1 382.4h7.9v3.6h-7.9zM401 385.6h2.9v3.6h-2.9zM536.1 385.6h2.9v3.6h-2.9zM546.1 385.6h5.4v3.6h-5.4zM576.1 385.6h2.9v3.6h-2.9zM581.2 385.6h2.9v3.6h-2.9zM396 388.8h5.4v3.6h-5.4zM433.6 388.8h2.9v3.6h-2.9zM578.7 388.8h2.9v3.6h-2.9zM646.2 388.8h5.4v3.6h-5.4zM396 392h5.4v3.6h-5.4zM571.1 392h2.9v3.6h-2.9zM396 395.2h2.9v3.6h-2.9zM553.6 395.2h2.9v3.6h-2.9zM563.6 395.2h2.9v3.6h-2.9zM571.1 395.2h2.9v3.6h-2.9zM576.1 395.2h2.9v3.6h-2.9zM581.2 395.2h2.9v3.6h-2.9zM586.2 395.2h7.9v3.6h-7.9zM396 398.4h2.9v3.6h-2.9zM421 398.4h2.9v3.6h-2.9zM426 398.4h2.9v3.6h-2.9zM431.1 398.4h5.4v3.6h-5.4zM521.1 398.4h2.9v3.6h-2.9zM561.1 398.4h10.4v3.6h-10.4zM576.1 398.4h7.9v3.6h-7.9zM393.5 401.6h12.9v3.6h-12.9zM426 401.6h5.4v3.6h-5.4zM508.6 401.6h2.9v3.6h-2.9zM548.6 401.6h2.9v3.6h-2.9zM558.6 401.6h5.4v3.6h-5.4zM568.6 401.6h5.4v3.6h-5.4zM581.2 401.6h7.9v3.6h-7.9zM386 404.8h5.4v3.6h-5.4zM393.5 404.8h10.4v3.6h-10.4zM416 404.8h7.9v3.6h-7.9zM426 404.8h2.9v3.6h-2.9zM431.1 404.8h7.9v3.6h-7.9zM576.1 404.8h2.9v3.6h-2.9zM386 408h2.9v3.6h-2.9zM391 408h5.4v3.6h-5.4zM398.5 408h2.9v3.6h-2.9zM408.5 408h2.9v3.6h-2.9zM418.5 408h2.9v3.6h-2.9zM436.1 408h2.9v3.6h-2.9zM581.2 408h2.9v3.6h-2.9zM403.5 411.2h2.9v3.6h-2.9zM408.5 411.2h2.9v3.6h-2.9zM441.1 411.2h2.9v3.6h-2.9zM451.1 411.2h2.9v3.6h-2.9zM571.1 411.2h2.9v3.6h-2.9zM576.1 411.2h2.9v3.6h-2.9zM403.5 414.4h2.9v3.6h-2.9zM548.6 414.4h2.9v3.6h-2.9zM568.6 414.4h2.9v3.6h-2.9zM383.5 417.6h5.4v3.6h-5.4zM411 417.6h2.9v3.6h-2.9zM426 417.6h2.9v3.6h-2.9zM478.6 417.6h2.9v3.6h-2.9zM553.6 417.6h2.9v3.6h-2.9zM566.1 417.6h5.4v3.6h-5.4zM376 420.8h2.9v3.6h-2.9zM393.5 420.8h5.4v3.6h-5.4zM536.1 420.8h5.4v3.6h-5.4zM548.6 420.8h2.9v3.6h-2.9zM558.6 420.8h2.9v3.6h-2.9zM376 424h20.4v3.6h-20.4zM401 424h12.9v3.6h-12.9zM418.5 424h2.9v3.6h-2.9zM423.5 424h2.9v3.6h-2.9zM431.1 424h2.9v3.6h-2.9zM436.1 424h2.9v3.6h-2.9zM448.6 424h2.9v3.6h-2.9zM391 427.2h5.4v3.6h-5.4zM411 427.2h7.9v3.6h-7.9zM538.6 427.2h5.4v3.6h-5.4zM546.1 427.2h2.9v3.6h-2.9zM561.1 427.2h2.9v3.6h-2.9zM376 430.4h5.4v3.6h-5.4zM391 430.4h2.9v3.6h-2.9zM411 430.4h10.4v3.6h-10.4zM431.1 430.4h25.4v3.6h-25.4zM461.1 430.4h2.9v3.6h-2.9zM563.6 430.4h5.4v3.6h-5.4zM571.1 430.4h2.9v3.6h-2.9zM378.5 433.6h5.4v3.6h-5.4zM393.5 433.6h2.9v3.6h-2.9zM408.5 433.6h7.9v3.6h-7.9zM418.5 433.6h2.9v3.6h-2.9zM431.1 433.6h2.9v3.6h-2.9zM438.6 433.6h2.9v3.6h-2.9zM466.1 433.6h2.9v3.6h-2.9zM471.1 433.6h2.9v3.6h-2.9zM573.6 433.6h2.9v3.6h-2.9zM388.5 436.8h10.4v3.6h-10.4zM408.5 436.8h5.4v3.6h-5.4zM416 436.8h2.9v3.6h-2.9zM428.5 436.8h2.9v3.6h-2.9zM471.1 436.8h2.9v3.6h-2.9zM558.6 436.8h2.9v3.6h-2.9zM576.1 436.8h10.4v3.6h-10.4zM388.5 440h5.4v3.6h-5.4zM396 440h2.9v3.6h-2.9zM408.5 440h2.9v3.6h-2.9zM436.1 440h2.9v3.6h-2.9zM558.6 440h2.9v3.6h-2.9zM573.6 440h5.4v3.6h-5.4z"/><path fill="#ffd400" d="M528.6 283.2h2.9v3.6h-2.9zM541.1 283.2h2.9v3.6h-2.9zM546.1 283.2h2.9v3.6h-2.9zM576.1 283.2h2.9v3.6h-2.9zM461.1 286.4h2.9v3.6h-2.9zM466.1 286.4h2.9v3.6h-2.9zM503.6 286.4h2.9v3.6h-2.9zM508.6 286.4h2.9v3.6h-2.9zM558.6 286.4h2.9v3.6h-2.9zM563.6 286.4h2.9v3.6h-2.9zM468.6 289.6h10.4v3.6h-10.4zM488.6 289.6h2.9v3.6h-2.9zM498.6 289.6h2.9v3.6h-2.9zM541.1 289.6h2.9v3.6h-2.9zM563.6 289.6h2.9v3.6h-2.9zM363.5 292.8h2.9v3.6h-2.9zM528.6 292.8h2.9v3.6h-2.9zM538.6 292.8h5.4v3.6h-5.4zM566.1 292.8h5.4v3.6h-5.4zM361 296h2.9v3.6h-2.9zM426 296h5.4v3.6h-5.4zM478.6 296h2.9v3.6h-2.9zM511.1 296h2.9v3.6h-2.9zM518.6 296h2.9v3.6h-2.9zM553.6 296h2.9v3.6h-2.9zM586.2 296h2.9v3.6h-2.9zM596.2 296h2.9v3.6h-2.9zM438.6 299.2h5.4v3.6h-5.4zM506.1 299.2h2.9v3.6h-2.9zM526.1 299.2h2.9v3.6h-2.9zM536.1 299.2h5.4v3.6h-5.4zM561.1 299.2h2.9v3.6h-2.9zM461.1 302.4h2.9v3.6h-2.9zM491.1 302.4h2.9v3.6h-2.9zM498.6 302.4h2.9v3.6h-2.9zM511.1 302.4h2.9v3.6h-2.9zM531.1 302.4h2.9v3.6h-2.9zM546.1 302.4h2.9v3.6h-2.9zM391 305.6h2.9v3.6h-2.9zM458.6 305.6h2.9v3.6h-2.9zM481.1 305.6h5.4v3.6h-5.4zM516.1 305.6h2.9v3.6h-2.9zM526.1 305.6h5.4v3.6h-5.4zM563.6 305.6h2.9v3.6h-2.9zM568.6 305.6h5.4v3.6h-5.4zM581.2 305.6h2.9v3.6h-2.9zM598.7 305.6h2.9v3.6h-2.9zM398.5 308.8h2.9v3.6h-2.9zM453.6 308.8h2.9v3.6h-2.9zM458.6 308.8h5.4v3.6h-5.4zM466.1 308.8h2.9v3.6h-2.9zM471.1 308.8h5.4v3.6h-5.4zM513.6 308.8h2.9v3.6h-2.9zM356 312h5.4v3.6h-5.4zM363.5 312h2.9v3.6h-2.9zM456.1 312h5.4v3.6h-5.4zM466.1 312h2.9v3.6h-2.9zM471.1 312h2.9v3.6h-2.9zM478.6 312h2.9v3.6h-2.9zM483.6 312h5.4v3.6h-5.4zM498.6 312h2.9v3.6h-2.9zM551.1 312h2.9v3.6h-2.9zM556.1 312h5.4v3.6h-5.4zM581.2 312h2.9v3.6h-2.9zM481.1 315.2h2.9v3.6h-2.9zM498.6 315.2h5.4v3.6h-5.4zM531.1 315.2h2.9v3.6h-2.9zM543.6 315.2h2.9v3.6h-2.9zM548.6 315.2h2.9v3.6h-2.9zM591.2 315.2h5.4v3.6h-5.4zM433.6 318.4h2.9v3.6h-2.9zM443.6 318.4h2.9v3.6h-2.9zM448.6 318.4h2.9v3.6h-2.9zM453.6 318.4h2.9v3.6h-2.9zM463.6 318.4h2.9v3.6h-2.9zM526.1 318.4h2.9v3.6h-2.9zM581.2 318.4h5.4v3.6h-5.4zM596.2 318.4h5.4v3.6h-5.4zM436.1 321.6h2.9v3.6h-2.9zM443.6 321.6h2.9v3.6h-2.9zM453.6 321.6h2.9v3.6h-2.9zM473.6 321.6h2.9v3.6h-2.9zM483.6 321.6h2.9v3.6h-2.9zM546.1 321.6h5.4v3.6h-5.4zM363.5 324.8h2.9v3.6h-2.9zM378.5 324.8h7.9v3.6h-7.9zM411 324.8h2.9v3.6h-2.9zM436.1 324.8h2.9v3.6h-2.9zM451.1 324.8h2.9v3.6h-2.9zM498.6 324.8h5.4v3.6h-5.4zM543.6 324.8h2.9v3.6h-2.9zM553.6 324.8h5.4v3.6h-5.4zM566.1 324.8h2.9v3.6h-2.9zM573.6 324.8h2.9v3.6h-2.9zM596.2 324.8h5.4v3.6h-5.4zM603.7 324.8h2.9v3.6h-2.9zM386 328h10.4v3.6h-10.4zM406 328h5.4v3.6h-5.4zM423.5 328h5.4v3.6h-5.4zM431.1 328h2.9v3.6h-2.9zM446.1 328h5.4v3.6h-5.4zM473.6 328h2.9v3.6h-2.9zM521.1 328h2.9v3.6h-2.9zM551.1 328h2.9v3.6h-2.9zM556.1 328h2.9v3.6h-2.9zM576.1 328h2.9v3.6h-2.9zM583.7 328h5.4v3.6h-5.4zM641.2 328h2.9v3.6h-2.9zM646.2 328h5.4v3.6h-5.4zM366 331.2h7.9v3.6h-7.9zM378.5 331.2h7.9v3.6h-7.9zM396 331.2h12.9v3.6h-12.9zM421 331.2h5.4v3.6h-5.4zM428.5 331.2h2.9v3.6h-2.9zM453.6 331.2h2.9v3.6h-2.9zM466.1 331.2h2.9v3.6h-2.9zM491.1 331.2h2.9v3.6h-2.9zM496.1 331.2h2.9v3.6h-2.9zM518.6 331.2h5.4v3.6h-5.4zM561.1 331.2h2.9v3.6h-2.9zM568.6 331.2h5.4v3.6h-5.4zM578.7 331.2h5.4v3.6h-5.4zM641.2 331.2h5.4v3.6h-5.4zM376 334.4h5.4v3.6h-5.4zM386 334.4h2.9v3.6h-2.9zM398.5 334.4h2.9v3.6h-2.9zM416 334.4h5.4v3.6h-5.4zM423.5 334.4h2.9v3.6h-2.9zM428.5 334.4h2.9v3.6h-2.9zM453.6 334.4h2.9v3.6h-2.9zM491.1 334.4h2.9v3.6h-2.9zM496.1 334.4h5.4v3.6h-5.4zM566.1 334.4h2.9v3.6h-2.9zM598.7 334.4h2.9v3.6h-2.9zM368.5 337.6h2.9v3.6h-2.9zM383.5 337.6h5.4v3.6h-5.4zM393.5 337.6h7.9v3.6h-7.9zM411 337.6h10.4v3.6h-10.4zM423.5 337.6h2.9v3.6h-2.9zM428.5 337.6h2.9v3.6h-2.9zM466.1 337.6h7.9v3.6h-7.9zM511.1 337.6h2.9v3.6h-2.9zM531.1 337.6h2.9v3.6h-2.9zM643.7 337.6h2.9v3.6h-2.9zM368.5 340.8h2.9v3.6h-2.9zM373.5 340.8h2.9v3.6h-2.9zM383.5 340.8h5.4v3.6h-5.4zM396 340.8h7.9v3.6h-7.9zM413.5 340.8h7.9v3.6h-7.9zM423.5 340.8h2.9v3.6h-2.9zM428.5 340.8h2.9v3.6h-2.9zM451.1 340.8h2.9v3.6h-2.9zM496.1 340.8h7.9v3.6h-7.9zM511.1 340.8h2.9v3.6h-2.9zM516.1 340.8h2.9v3.6h-2.9zM593.7 340.8h7.9v3.6h-7.9zM373.5 344h5.4v3.6h-5.4zM381 344h7.9v3.6h-7.9zM393.5 344h2.9v3.6h-2.9zM411 344h5.4v3.6h-5.4zM566.1 344h2.9v3.6h-2.9zM591.2 344h7.9v3.6h-7.9zM643.7 344h7.9v3.6h-7.9zM413.5 347.2h2.9v3.6h-2.9zM418.5 347.2h2.9v3.6h-2.9zM511.1 347.2h2.9v3.6h-2.9zM563.6 347.2h2.9v3.6h-2.9zM596.2 347.2h2.9v3.6h-2.9zM416 350.4h2.9v3.6h-2.9zM446.1 350.4h2.9v3.6h-2.9zM521.1 350.4h2.9v3.6h-2.9zM546.1 350.4h2.9v3.6h-2.9zM421 353.6h2.9v3.6h-2.9zM456.1 353.6h5.4v3.6h-5.4zM541.1 353.6h2.9v3.6h-2.9zM581.2 353.6h2.9v3.6h-2.9zM586.2 353.6h2.9v3.6h-2.9zM598.7 353.6h5.4v3.6h-5.4zM388.5 356.8h5.4v3.6h-5.4zM418.5 356.8h2.9v3.6h-2.9zM441.1 356.8h2.9v3.6h-2.9zM573.6 356.8h2.9v3.6h-2.9zM591.2 356.8h2.9v3.6h-2.9zM393.5 360h2.9v3.6h-2.9zM401 360h2.9v3.6h-2.9zM413.5 360h5.4v3.6h-5.4zM428.5 360h2.9v3.6h-2.9zM451.1 360h2.9v3.6h-2.9zM593.7 360h2.9v3.6h-2.9zM391 363.2h5.4v3.6h-5.4zM403.5 363.2h2.9v3.6h-2.9zM413.5 363.2h2.9v3.6h-2.9zM418.5 363.2h2.9v3.6h-2.9zM451.1 363.2h5.4v3.6h-5.4zM593.7 363.2h2.9v3.6h-2.9zM401 366.4h2.9v3.6h-2.9zM408.5 366.4h2.9v3.6h-2.9zM421 366.4h2.9v3.6h-2.9zM523.6 366.4h5.4v3.6h-5.4zM538.6 366.4h2.9v3.6h-2.9zM548.6 366.4h5.4v3.6h-5.4zM566.1 366.4h2.9v3.6h-2.9zM571.1 366.4h7.9v3.6h-7.9zM581.2 366.4h2.9v3.6h-2.9zM401 369.6h10.4v3.6h-10.4zM416 369.6h2.9v3.6h-2.9zM421 369.6h2.9v3.6h-2.9zM443.6 369.6h2.9v3.6h-2.9zM516.1 369.6h2.9v3.6h-2.9zM586.2 369.6h7.9v3.6h-7.9zM401 372.8h2.9v3.6h-2.9zM408.5 372.8h5.4v3.6h-5.4zM421 372.8h2.9v3.6h-2.9zM428.5 372.8h2.9v3.6h-2.9zM463.6 372.8h2.9v3.6h-2.9zM568.6 372.8h2.9v3.6h-2.9zM578.7 372.8h2.9v3.6h-2.9zM586.2 372.8h2.9v3.6h-2.9zM398.5 376h2.9v3.6h-2.9zM403.5 376h7.9v3.6h-7.9zM451.1 376h2.9v3.6h-2.9zM566.1 376h2.9v3.6h-2.9zM576.1 376h2.9v3.6h-2.9zM401 379.2h2.9v3.6h-2.9zM431.1 379.2h7.9v3.6h-7.9zM478.6 379.2h7.9v3.6h-7.9zM488.6 379.2h2.9v3.6h-2.9zM568.6 379.2h2.9v3.6h-2.9zM413.5 382.4h2.9v3.6h-2.9zM428.5 382.4h2.9v3.6h-2.9zM433.6 382.4h2.9v3.6h-2.9zM446.1 382.4h5.4v3.6h-5.4zM461.1 382.4h2.9v3.6h-2.9zM403.5 385.6h7.9v3.6h-7.9zM461.1 385.6h5.4v3.6h-5.4zM471.1 385.6h2.9v3.6h-2.9zM501.1 385.6h2.9v3.6h-2.9zM521.1 385.6h2.9v3.6h-2.9zM551.1 385.6h2.9v3.6h-2.9zM558.6 385.6h2.9v3.6h-2.9zM578.7 385.6h2.9v3.6h-2.9zM401 388.8h2.9v3.6h-2.9zM426 388.8h2.9v3.6h-2.9zM431.1 388.8h2.9v3.6h-2.9zM436.1 388.8h2.9v3.6h-2.9zM443.6 388.8h2.9v3.6h-2.9zM461.1 388.8h2.9v3.6h-2.9zM486.1 388.8h2.9v3.6h-2.9zM576.1 388.8h2.9v3.6h-2.9zM401 392h2.9v3.6h-2.9zM421 392h2.9v3.6h-2.9zM428.5 392h2.9v3.6h-2.9zM558.6 392h2.9v3.6h-2.9zM566.1 392h2.9v3.6h-2.9zM573.6 392h2.9v3.6h-2.9zM411 395.2h12.9v3.6h-12.9zM478.6 395.2h5.4v3.6h-5.4zM538.6 395.2h2.9v3.6h-2.9zM551.1 395.2h2.9v3.6h-2.9zM566.1 395.2h2.9v3.6h-2.9zM573.6 395.2h2.9v3.6h-2.9zM398.5 398.4h7.9v3.6h-7.9zM418.5 398.4h2.9v3.6h-2.9zM423.5 398.4h2.9v3.6h-2.9zM436.1 398.4h2.9v3.6h-2.9zM526.1 398.4h2.9v3.6h-2.9zM583.7 398.4h5.4v3.6h-5.4zM406 401.6h5.4v3.6h-5.4zM416 401.6h2.9v3.6h-2.9zM423.5 401.6h2.9v3.6h-2.9zM431.1 401.6h5.4v3.6h-5.4zM516.1 401.6h2.9v3.6h-2.9zM521.1 401.6h2.9v3.6h-2.9zM546.1 401.6h2.9v3.6h-2.9zM551.1 401.6h2.9v3.6h-2.9zM556.1 401.6h2.9v3.6h-2.9zM563.6 401.6h2.9v3.6h-2.9zM573.6 401.6h2.9v3.6h-2.9zM391 404.8h2.9v3.6h-2.9zM403.5 404.8h2.9v3.6h-2.9zM423.5 404.8h2.9v3.6h-2.9zM428.5 404.8h2.9v3.6h-2.9zM571.1 404.8h2.9v3.6h-2.9zM411 408h2.9v3.6h-2.9zM416 408h2.9v3.6h-2.9zM466.1 408h2.9v3.6h-2.9zM573.6 408h2.9v3.6h-2.9zM411 411.2h2.9v3.6h-2.9zM416 411.2h2.9v3.6h-2.9zM433.6 411.2h7.9v3.6h-7.9zM461.1 411.2h2.9v3.6h-2.9zM546.1 411.2h2.9v3.6h-2.9zM561.1 411.2h10.4v3.6h-10.4zM573.6 411.2h2.9v3.6h-2.9zM408.5 414.4h7.9v3.6h-7.9zM438.6 414.4h7.9v3.6h-7.9zM546.1 414.4h2.9v3.6h-2.9zM566.1 414.4h2.9v3.6h-2.9zM428.5 417.6h2.9v3.6h-2.9zM446.1 417.6h5.4v3.6h-5.4zM438.6 420.8h7.9v3.6h-7.9zM451.1 420.8h5.4v3.6h-5.4zM466.1 420.8h2.9v3.6h-2.9zM496.1 420.8h2.9v3.6h-2.9zM546.1 420.8h2.9v3.6h-2.9zM561.1 420.8h2.9v3.6h-2.9zM396 424h5.4v3.6h-5.4zM413.5 424h5.4v3.6h-5.4zM426 424h5.4v3.6h-5.4zM433.6 424h2.9v3.6h-2.9zM438.6 424h5.4v3.6h-5.4zM453.6 424h2.9v3.6h-2.9zM478.6 424h2.9v3.6h-2.9zM483.6 424h2.9v3.6h-2.9zM566.1 424h2.9v3.6h-2.9zM396 427.2h2.9v3.6h-2.9zM408.5 427.2h2.9v3.6h-2.9zM418.5 427.2h12.9v3.6h-12.9zM478.6 427.2h2.9v3.6h-2.9zM536.1 427.2h2.9v3.6h-2.9zM543.6 427.2h2.9v3.6h-2.9zM548.6 427.2h2.9v3.6h-2.9zM553.6 427.2h2.9v3.6h-2.9zM558.6 427.2h2.9v3.6h-2.9zM393.5 430.4h5.4v3.6h-5.4zM401 430.4h2.9v3.6h-2.9zM408.5 430.4h2.9v3.6h-2.9zM421 430.4h5.4v3.6h-5.4zM456.1 430.4h5.4v3.6h-5.4zM466.1 430.4h2.9v3.6h-2.9zM546.1 430.4h2.9v3.6h-2.9zM558.6 430.4h5.4v3.6h-5.4zM403.5 433.6h5.4v3.6h-5.4zM416 433.6h2.9v3.6h-2.9zM441.1 433.6h2.9v3.6h-2.9zM468.6 433.6h2.9v3.6h-2.9zM551.1 433.6h5.4v3.6h-5.4zM561.1 433.6h5.4v3.6h-5.4zM568.6 433.6h2.9v3.6h-2.9zM398.5 436.8h2.9v3.6h-2.9zM406 436.8h2.9v3.6h-2.9zM418.5 436.8h5.4v3.6h-5.4zM438.6 436.8h2.9v3.6h-2.9zM451.1 436.8h5.4v3.6h-5.4zM546.1 436.8h2.9v3.6h-2.9zM553.6 436.8h5.4v3.6h-5.4zM571.1 436.8h5.4v3.6h-5.4zM398.5 440h5.4v3.6h-5.4zM406 440h2.9v3.6h-2.9zM438.6 440h5.4v3.6h-5.4zM471.1 440h2.9v3.6h-2.9zM533.6 440h2.9v3.6h-2.9zM546.1 440h2.9v3.6h-2.9zM556.1 440h2.9v3.6h-2.9z"/><path fill="#ffb200" d="M453.6 289.6h2.9v3.6h-2.9zM478.6 289.6h2.9v3.6h-2.9zM511.1 289.6h2.9v3.6h-2.9zM516.1 289.6h5.4v3.6h-5.4zM528.6 289.6h2.9v3.6h-2.9zM553.6 289.6h5.4v3.6h-5.4zM356 292.8h7.9v3.6h-7.9zM466.1 292.8h2.9v3.6h-2.9zM471.1 292.8h7.9v3.6h-7.9zM496.1 292.8h7.9v3.6h-7.9zM553.6 292.8h5.4v3.6h-5.4zM561.1 292.8h5.4v3.6h-5.4zM401 296h2.9v3.6h-2.9zM476.1 296h2.9v3.6h-2.9zM491.1 296h2.9v3.6h-2.9zM508.6 296h2.9v3.6h-2.9zM566.1 296h5.4v3.6h-5.4zM456.1 299.2h2.9v3.6h-2.9zM468.6 299.2h2.9v3.6h-2.9zM481.1 299.2h2.9v3.6h-2.9zM508.6 299.2h2.9v3.6h-2.9zM531.1 299.2h5.4v3.6h-5.4zM546.1 299.2h2.9v3.6h-2.9zM571.1 299.2h2.9v3.6h-2.9zM576.1 299.2h2.9v3.6h-2.9zM453.6 302.4h7.9v3.6h-7.9zM468.6 302.4h2.9v3.6h-2.9zM496.1 302.4h2.9v3.6h-2.9zM508.6 302.4h2.9v3.6h-2.9zM521.1 302.4h10.4v3.6h-10.4zM466.1 305.6h5.4v3.6h-5.4zM486.1 305.6h2.9v3.6h-2.9zM538.6 305.6h7.9v3.6h-7.9zM553.6 305.6h7.9v3.6h-7.9zM578.7 305.6h2.9v3.6h-2.9zM443.6 308.8h2.9v3.6h-2.9zM481.1 308.8h2.9v3.6h-2.9zM498.6 308.8h2.9v3.6h-2.9zM503.6 308.8h2.9v3.6h-2.9zM518.6 308.8h2.9v3.6h-2.9zM531.1 308.8h2.9v3.6h-2.9zM563.6 308.8h5.4v3.6h-5.4zM441.1 312h2.9v3.6h-2.9zM453.6 312h2.9v3.6h-2.9zM476.1 312h2.9v3.6h-2.9zM481.1 312h2.9v3.6h-2.9zM513.6 312h2.9v3.6h-2.9zM531.1 312h2.9v3.6h-2.9zM543.6 312h2.9v3.6h-2.9zM441.1 315.2h2.9v3.6h-2.9zM446.1 315.2h2.9v3.6h-2.9zM451.1 315.2h2.9v3.6h-2.9zM506.1 315.2h2.9v3.6h-2.9zM528.6 315.2h2.9v3.6h-2.9zM541.1 315.2h2.9v3.6h-2.9zM546.1 315.2h2.9v3.6h-2.9zM563.6 315.2h10.4v3.6h-10.4zM578.7 315.2h2.9v3.6h-2.9zM586.2 315.2h2.9v3.6h-2.9zM438.6 318.4h2.9v3.6h-2.9zM446.1 318.4h2.9v3.6h-2.9zM456.1 318.4h2.9v3.6h-2.9zM466.1 318.4h2.9v3.6h-2.9zM471.1 318.4h2.9v3.6h-2.9zM523.6 318.4h2.9v3.6h-2.9zM533.6 318.4h2.9v3.6h-2.9zM571.1 318.4h2.9v3.6h-2.9zM576.1 318.4h5.4v3.6h-5.4zM586.2 318.4h2.9v3.6h-2.9zM438.6 321.6h2.9v3.6h-2.9zM456.1 321.6h2.9v3.6h-2.9zM463.6 321.6h2.9v3.6h-2.9zM471.1 321.6h2.9v3.6h-2.9zM486.1 321.6h2.9v3.6h-2.9zM556.1 321.6h2.9v3.6h-2.9zM581.2 321.6h2.9v3.6h-2.9zM408.5 324.8h2.9v3.6h-2.9zM423.5 324.8h2.9v3.6h-2.9zM438.6 324.8h2.9v3.6h-2.9zM486.1 324.8h2.9v3.6h-2.9zM493.6 324.8h2.9v3.6h-2.9zM531.1 324.8h2.9v3.6h-2.9zM536.1 324.8h2.9v3.6h-2.9zM558.6 324.8h5.4v3.6h-5.4zM578.7 324.8h2.9v3.6h-2.9zM593.7 324.8h2.9v3.6h-2.9zM421 328h2.9v3.6h-2.9zM436.1 328h2.9v3.6h-2.9zM463.6 328h2.9v3.6h-2.9zM523.6 328h2.9v3.6h-2.9zM578.7 328h2.9v3.6h-2.9zM643.7 328h2.9v3.6h-2.9zM386 331.2h10.4v3.6h-10.4zM431.1 331.2h2.9v3.6h-2.9zM446.1 331.2h2.9v3.6h-2.9zM468.6 331.2h2.9v3.6h-2.9zM481.1 331.2h2.9v3.6h-2.9zM486.1 331.2h5.4v3.6h-5.4zM501.1 331.2h2.9v3.6h-2.9zM523.6 331.2h2.9v3.6h-2.9zM553.6 331.2h2.9v3.6h-2.9zM558.6 331.2h2.9v3.6h-2.9zM566.1 331.2h2.9v3.6h-2.9zM573.6 331.2h2.9v3.6h-2.9zM598.7 331.2h2.9v3.6h-2.9zM401 334.4h5.4v3.6h-5.4zM413.5 334.4h2.9v3.6h-2.9zM421 334.4h2.9v3.6h-2.9zM431.1 334.4h2.9v3.6h-2.9zM478.6 334.4h2.9v3.6h-2.9zM486.1 334.4h5.4v3.6h-5.4zM521.1 334.4h2.9v3.6h-2.9zM561.1 334.4h2.9v3.6h-2.9zM568.6 334.4h5.4v3.6h-5.4zM371 337.6h2.9v3.6h-2.9zM381 337.6h2.9v3.6h-2.9zM401 337.6h2.9v3.6h-2.9zM408.5 337.6h2.9v3.6h-2.9zM451.1 337.6h2.9v3.6h-2.9zM496.1 337.6h2.9v3.6h-2.9zM528.6 337.6h2.9v3.6h-2.9zM533.6 337.6h2.9v3.6h-2.9zM553.6 337.6h2.9v3.6h-2.9zM371 340.8h2.9v3.6h-2.9zM376 340.8h7.9v3.6h-7.9zM406 340.8h5.4v3.6h-5.4zM458.6 340.8h2.9v3.6h-2.9zM463.6 340.8h5.4v3.6h-5.4zM486.1 340.8h2.9v3.6h-2.9zM503.6 340.8h2.9v3.6h-2.9zM518.6 340.8h2.9v3.6h-2.9zM588.7 340.8h2.9v3.6h-2.9zM418.5 344h2.9v3.6h-2.9zM451.1 344h2.9v3.6h-2.9zM486.1 344h2.9v3.6h-2.9zM503.6 344h2.9v3.6h-2.9zM416 347.2h2.9v3.6h-2.9zM451.1 347.2h2.9v3.6h-2.9zM496.1 347.2h2.9v3.6h-2.9zM568.6 347.2h5.4v3.6h-5.4zM421 350.4h2.9v3.6h-2.9zM431.1 350.4h2.9v3.6h-2.9zM448.6 350.4h2.9v3.6h-2.9zM458.6 350.4h2.9v3.6h-2.9zM486.1 350.4h2.9v3.6h-2.9zM548.6 350.4h2.9v3.6h-2.9zM588.7 350.4h2.9v3.6h-2.9zM438.6 353.6h5.4v3.6h-5.4zM533.6 353.6h7.9v3.6h-7.9zM548.6 353.6h2.9v3.6h-2.9zM583.7 353.6h2.9v3.6h-2.9zM588.7 353.6h7.9v3.6h-7.9zM411 356.8h2.9v3.6h-2.9zM548.6 356.8h2.9v3.6h-2.9zM571.1 356.8h2.9v3.6h-2.9zM576.1 356.8h2.9v3.6h-2.9zM411 360h2.9v3.6h-2.9zM448.6 360h2.9v3.6h-2.9zM536.1 360h5.4v3.6h-5.4zM543.6 360h5.4v3.6h-5.4zM586.2 360h2.9v3.6h-2.9zM591.2 360h2.9v3.6h-2.9zM396 363.2h2.9v3.6h-2.9zM426 363.2h2.9v3.6h-2.9zM458.6 363.2h2.9v3.6h-2.9zM586.2 363.2h7.9v3.6h-7.9zM416 366.4h2.9v3.6h-2.9zM423.5 366.4h5.4v3.6h-5.4zM521.1 366.4h2.9v3.6h-2.9zM583.7 366.4h7.9v3.6h-7.9zM606.2 366.4h2.9v3.6h-2.9zM411 369.6h5.4v3.6h-5.4zM423.5 369.6h5.4v3.6h-5.4zM431.1 369.6h5.4v3.6h-5.4zM441.1 369.6h2.9v3.6h-2.9zM508.6 369.6h2.9v3.6h-2.9zM533.6 369.6h2.9v3.6h-2.9zM541.1 369.6h2.9v3.6h-2.9zM573.6 369.6h2.9v3.6h-2.9zM578.7 369.6h2.9v3.6h-2.9zM403.5 372.8h5.4v3.6h-5.4zM413.5 372.8h5.4v3.6h-5.4zM426 372.8h2.9v3.6h-2.9zM461.1 372.8h2.9v3.6h-2.9zM466.1 372.8h2.9v3.6h-2.9zM581.2 372.8h5.4v3.6h-5.4zM401 376h2.9v3.6h-2.9zM411 376h2.9v3.6h-2.9zM416 376h2.9v3.6h-2.9zM423.5 376h7.9v3.6h-7.9zM436.1 376h2.9v3.6h-2.9zM446.1 376h5.4v3.6h-5.4zM453.6 376h2.9v3.6h-2.9zM531.1 376h2.9v3.6h-2.9zM536.1 376h2.9v3.6h-2.9zM556.1 376h2.9v3.6h-2.9zM561.1 376h2.9v3.6h-2.9zM568.6 376h2.9v3.6h-2.9zM573.6 376h2.9v3.6h-2.9zM586.2 376h2.9v3.6h-2.9zM403.5 379.2h5.4v3.6h-5.4zM421 379.2h2.9v3.6h-2.9zM426 379.2h2.9v3.6h-2.9zM438.6 379.2h5.4v3.6h-5.4zM453.6 379.2h7.9v3.6h-7.9zM463.6 379.2h2.9v3.6h-2.9zM508.6 379.2h2.9v3.6h-2.9zM558.6 379.2h2.9v3.6h-2.9zM416 382.4h7.9v3.6h-7.9zM426 382.4h2.9v3.6h-2.9zM431.1 382.4h2.9v3.6h-2.9zM443.6 382.4h2.9v3.6h-2.9zM451.1 382.4h2.9v3.6h-2.9zM516.1 382.4h2.9v3.6h-2.9zM546.1 382.4h5.4v3.6h-5.4zM556.1 382.4h2.9v3.6h-2.9zM563.6 382.4h2.9v3.6h-2.9zM411 385.6h2.9v3.6h-2.9zM418.5 385.6h5.4v3.6h-5.4zM426 385.6h5.4v3.6h-5.4zM443.6 385.6h2.9v3.6h-2.9zM466.1 385.6h2.9v3.6h-2.9zM508.6 385.6h2.9v3.6h-2.9zM526.1 385.6h2.9v3.6h-2.9zM531.1 385.6h2.9v3.6h-2.9zM538.6 385.6h7.9v3.6h-7.9zM566.1 385.6h2.9v3.6h-2.9zM571.1 385.6h2.9v3.6h-2.9zM403.5 388.8h2.9v3.6h-2.9zM411 388.8h7.9v3.6h-7.9zM421 388.8h2.9v3.6h-2.9zM438.6 388.8h5.4v3.6h-5.4zM463.6 388.8h2.9v3.6h-2.9zM496.1 388.8h2.9v3.6h-2.9zM403.5 392h10.4v3.6h-10.4zM426 392h2.9v3.6h-2.9zM431.1 392h5.4v3.6h-5.4zM443.6 392h5.4v3.6h-5.4zM481.1 392h2.9v3.6h-2.9zM548.6 392h5.4v3.6h-5.4zM563.6 392h2.9v3.6h-2.9zM568.6 392h2.9v3.6h-2.9zM398.5 395.2h2.9v3.6h-2.9zM408.5 395.2h2.9v3.6h-2.9zM426 395.2h10.4v3.6h-10.4zM406 398.4h2.9v3.6h-2.9zM411 398.4h2.9v3.6h-2.9zM451.1 398.4h2.9v3.6h-2.9zM508.6 398.4h2.9v3.6h-2.9zM516.1 398.4h2.9v3.6h-2.9zM523.6 398.4h2.9v3.6h-2.9zM556.1 398.4h2.9v3.6h-2.9zM573.6 398.4h2.9v3.6h-2.9zM411 401.6h5.4v3.6h-5.4zM418.5 401.6h5.4v3.6h-5.4zM436.1 401.6h2.9v3.6h-2.9zM518.6 401.6h2.9v3.6h-2.9zM408.5 404.8h2.9v3.6h-2.9zM413.5 404.8h2.9v3.6h-2.9zM438.6 404.8h2.9v3.6h-2.9zM536.1 404.8h5.4v3.6h-5.4zM573.6 404.8h2.9v3.6h-2.9zM413.5 408h2.9v3.6h-2.9zM438.6 408h2.9v3.6h-2.9zM448.6 408h5.4v3.6h-5.4zM471.1 408h2.9v3.6h-2.9zM526.1 408h2.9v3.6h-2.9zM546.1 408h2.9v3.6h-2.9zM556.1 408h10.4v3.6h-10.4zM571.1 408h2.9v3.6h-2.9zM413.5 411.2h2.9v3.6h-2.9zM528.6 411.2h2.9v3.6h-2.9zM538.6 411.2h2.9v3.6h-2.9zM543.6 411.2h2.9v3.6h-2.9zM551.1 411.2h2.9v3.6h-2.9zM556.1 411.2h5.4v3.6h-5.4zM446.1 414.4h5.4v3.6h-5.4zM496.1 414.4h2.9v3.6h-2.9zM508.6 414.4h2.9v3.6h-2.9zM536.1 414.4h5.4v3.6h-5.4zM553.6 414.4h2.9v3.6h-2.9zM563.6 414.4h2.9v3.6h-2.9zM451.1 417.6h2.9v3.6h-2.9zM461.1 417.6h2.9v3.6h-2.9zM481.1 417.6h5.4v3.6h-5.4zM548.6 417.6h2.9v3.6h-2.9zM448.6 420.8h2.9v3.6h-2.9zM456.1 420.8h2.9v3.6h-2.9zM498.6 420.8h2.9v3.6h-2.9zM526.1 420.8h5.4v3.6h-5.4zM533.6 420.8h2.9v3.6h-2.9zM443.6 424h5.4v3.6h-5.4zM486.1 424h2.9v3.6h-2.9zM508.6 424h5.4v3.6h-5.4zM516.1 424h2.9v3.6h-2.9zM538.6 424h2.9v3.6h-2.9zM563.6 424h2.9v3.6h-2.9zM398.5 427.2h10.4v3.6h-10.4zM431.1 427.2h2.9v3.6h-2.9zM471.1 427.2h2.9v3.6h-2.9zM483.6 427.2h2.9v3.6h-2.9zM533.6 427.2h2.9v3.6h-2.9zM556.1 427.2h2.9v3.6h-2.9zM398.5 430.4h2.9v3.6h-2.9zM403.5 430.4h5.4v3.6h-5.4zM463.6 430.4h2.9v3.6h-2.9zM471.1 430.4h2.9v3.6h-2.9zM503.6 430.4h2.9v3.6h-2.9zM548.6 430.4h2.9v3.6h-2.9zM396 433.6h7.9v3.6h-7.9zM443.6 433.6h2.9v3.6h-2.9zM448.6 433.6h5.4v3.6h-5.4zM461.1 433.6h5.4v3.6h-5.4zM478.6 433.6h2.9v3.6h-2.9zM546.1 433.6h2.9v3.6h-2.9zM556.1 433.6h5.4v3.6h-5.4zM566.1 433.6h2.9v3.6h-2.9zM571.1 433.6h2.9v3.6h-2.9zM401 436.8h5.4v3.6h-5.4zM423.5 436.8h2.9v3.6h-2.9zM441.1 436.8h2.9v3.6h-2.9zM456.1 436.8h5.4v3.6h-5.4zM478.6 436.8h2.9v3.6h-2.9zM551.1 436.8h2.9v3.6h-2.9zM403.5 440h2.9v3.6h-2.9zM443.6 440h2.9v3.6h-2.9zM491.1 440h2.9v3.6h-2.9zM528.6 440h5.4v3.6h-5.4z"/><path fill="#ff9000" d="M466.1 289.6h2.9v3.6h-2.9zM506.1 289.6h2.9v3.6h-2.9zM513.6 289.6h2.9v3.6h-2.9zM523.6 289.6h5.4v3.6h-5.4zM558.6 289.6h2.9v3.6h-2.9zM406 292.8h2.9v3.6h-2.9zM421 292.8h2.9v3.6h-2.9zM493.6 292.8h2.9v3.6h-2.9zM503.6 292.8h2.9v3.6h-2.9zM423.5 296h2.9v3.6h-2.9zM448.6 296h2.9v3.6h-2.9zM468.6 296h5.4v3.6h-5.4zM516.1 296h2.9v3.6h-2.9zM556.1 296h2.9v3.6h-2.9zM561.1 296h2.9v3.6h-2.9zM483.6 299.2h2.9v3.6h-2.9zM491.1 299.2h2.9v3.6h-2.9zM528.6 299.2h2.9v3.6h-2.9zM551.1 299.2h2.9v3.6h-2.9zM558.6 299.2h2.9v3.6h-2.9zM471.1 302.4h2.9v3.6h-2.9zM488.6 302.4h2.9v3.6h-2.9zM518.6 302.4h2.9v3.6h-2.9zM541.1 302.4h2.9v3.6h-2.9zM576.1 302.4h2.9v3.6h-2.9zM488.6 305.6h5.4v3.6h-5.4zM501.1 305.6h2.9v3.6h-2.9zM506.1 305.6h2.9v3.6h-2.9zM548.6 305.6h2.9v3.6h-2.9zM573.6 305.6h2.9v3.6h-2.9zM441.1 308.8h2.9v3.6h-2.9zM448.6 308.8h2.9v3.6h-2.9zM468.6 308.8h2.9v3.6h-2.9zM521.1 308.8h2.9v3.6h-2.9zM576.1 308.8h2.9v3.6h-2.9zM468.6 312h2.9v3.6h-2.9zM473.6 312h2.9v3.6h-2.9zM518.6 312h2.9v3.6h-2.9zM541.1 312h2.9v3.6h-2.9zM546.1 312h2.9v3.6h-2.9zM553.6 312h2.9v3.6h-2.9zM448.6 315.2h2.9v3.6h-2.9zM458.6 315.2h7.9v3.6h-7.9zM478.6 315.2h2.9v3.6h-2.9zM503.6 315.2h2.9v3.6h-2.9zM511.1 315.2h2.9v3.6h-2.9zM516.1 315.2h2.9v3.6h-2.9zM533.6 315.2h7.9v3.6h-7.9zM458.6 318.4h2.9v3.6h-2.9zM468.6 318.4h2.9v3.6h-2.9zM521.1 318.4h2.9v3.6h-2.9zM536.1 318.4h2.9v3.6h-2.9zM558.6 318.4h2.9v3.6h-2.9zM568.6 318.4h2.9v3.6h-2.9zM573.6 318.4h2.9v3.6h-2.9zM441.1 321.6h2.9v3.6h-2.9zM446.1 321.6h5.4v3.6h-5.4zM458.6 321.6h2.9v3.6h-2.9zM466.1 321.6h2.9v3.6h-2.9zM541.1 321.6h2.9v3.6h-2.9zM558.6 321.6h2.9v3.6h-2.9zM583.7 321.6h5.4v3.6h-5.4zM443.6 324.8h2.9v3.6h-2.9zM448.6 324.8h2.9v3.6h-2.9zM463.6 324.8h2.9v3.6h-2.9zM521.1 324.8h2.9v3.6h-2.9zM533.6 324.8h2.9v3.6h-2.9zM541.1 324.8h2.9v3.6h-2.9zM551.1 324.8h2.9v3.6h-2.9zM581.2 324.8h2.9v3.6h-2.9zM591.2 324.8h2.9v3.6h-2.9zM438.6 328h5.4v3.6h-5.4zM453.6 328h10.4v3.6h-10.4zM466.1 328h2.9v3.6h-2.9zM476.1 328h5.4v3.6h-5.4zM491.1 328h2.9v3.6h-2.9zM518.6 328h2.9v3.6h-2.9zM531.1 328h2.9v3.6h-2.9zM541.1 328h5.4v3.6h-5.4zM548.6 328h2.9v3.6h-2.9zM558.6 328h2.9v3.6h-2.9zM443.6 331.2h2.9v3.6h-2.9zM463.6 331.2h2.9v3.6h-2.9zM471.1 331.2h2.9v3.6h-2.9zM493.6 331.2h2.9v3.6h-2.9zM498.6 331.2h2.9v3.6h-2.9zM511.1 331.2h2.9v3.6h-2.9zM531.1 331.2h2.9v3.6h-2.9zM591.2 331.2h2.9v3.6h-2.9zM596.2 331.2h2.9v3.6h-2.9zM406 334.4h5.4v3.6h-5.4zM446.1 334.4h2.9v3.6h-2.9zM473.6 334.4h2.9v3.6h-2.9zM481.1 334.4h2.9v3.6h-2.9zM493.6 334.4h2.9v3.6h-2.9zM506.1 334.4h2.9v3.6h-2.9zM518.6 334.4h2.9v3.6h-2.9zM523.6 334.4h2.9v3.6h-2.9zM531.1 334.4h2.9v3.6h-2.9zM553.6 334.4h2.9v3.6h-2.9zM573.6 334.4h5.4v3.6h-5.4zM581.2 334.4h2.9v3.6h-2.9zM591.2 334.4h2.9v3.6h-2.9zM373.5 337.6h7.9v3.6h-7.9zM403.5 337.6h5.4v3.6h-5.4zM421 337.6h2.9v3.6h-2.9zM431.1 337.6h2.9v3.6h-2.9zM436.1 337.6h2.9v3.6h-2.9zM473.6 337.6h2.9v3.6h-2.9zM498.6 337.6h2.9v3.6h-2.9zM516.1 337.6h2.9v3.6h-2.9zM521.1 337.6h5.4v3.6h-5.4zM551.1 337.6h2.9v3.6h-2.9zM563.6 337.6h2.9v3.6h-2.9zM576.1 337.6h7.9v3.6h-7.9zM591.2 337.6h5.4v3.6h-5.4zM411 340.8h2.9v3.6h-2.9zM421 340.8h2.9v3.6h-2.9zM431.1 340.8h2.9v3.6h-2.9zM453.6 340.8h5.4v3.6h-5.4zM461.1 340.8h2.9v3.6h-2.9zM488.6 340.8h5.4v3.6h-5.4zM586.2 340.8h2.9v3.6h-2.9zM416 344h2.9v3.6h-2.9zM506.1 344h2.9v3.6h-2.9zM551.1 344h2.9v3.6h-2.9zM568.6 344h2.9v3.6h-2.9zM426 347.2h5.4v3.6h-5.4zM436.1 347.2h2.9v3.6h-2.9zM488.6 347.2h5.4v3.6h-5.4zM503.6 347.2h2.9v3.6h-2.9zM516.1 347.2h10.4v3.6h-10.4zM531.1 347.2h2.9v3.6h-2.9zM561.1 347.2h2.9v3.6h-2.9zM573.6 347.2h2.9v3.6h-2.9zM581.2 347.2h2.9v3.6h-2.9zM593.7 347.2h2.9v3.6h-2.9zM433.6 350.4h10.4v3.6h-10.4zM453.6 350.4h5.4v3.6h-5.4zM488.6 350.4h2.9v3.6h-2.9zM528.6 350.4h5.4v3.6h-5.4zM543.6 350.4h2.9v3.6h-2.9zM551.1 350.4h2.9v3.6h-2.9zM566.1 350.4h2.9v3.6h-2.9zM581.2 350.4h2.9v3.6h-2.9zM423.5 353.6h7.9v3.6h-7.9zM466.1 353.6h2.9v3.6h-2.9zM496.1 353.6h2.9v3.6h-2.9zM413.5 356.8h5.4v3.6h-5.4zM428.5 356.8h2.9v3.6h-2.9zM438.6 356.8h2.9v3.6h-2.9zM443.6 356.8h5.4v3.6h-5.4zM531.1 356.8h2.9v3.6h-2.9zM578.7 356.8h5.4v3.6h-5.4zM586.2 356.8h5.4v3.6h-5.4zM433.6 360h12.9v3.6h-12.9zM453.6 360h2.9v3.6h-2.9zM458.6 360h2.9v3.6h-2.9zM473.6 360h2.9v3.6h-2.9zM486.1 360h2.9v3.6h-2.9zM508.6 360h5.4v3.6h-5.4zM533.6 360h2.9v3.6h-2.9zM541.1 360h2.9v3.6h-2.9zM548.6 360h2.9v3.6h-2.9zM583.7 360h2.9v3.6h-2.9zM588.7 360h2.9v3.6h-2.9zM398.5 363.2h5.4v3.6h-5.4zM416 363.2h2.9v3.6h-2.9zM421 363.2h5.4v3.6h-5.4zM431.1 363.2h2.9v3.6h-2.9zM446.1 363.2h2.9v3.6h-2.9zM456.1 363.2h2.9v3.6h-2.9zM478.6 363.2h2.9v3.6h-2.9zM548.6 363.2h2.9v3.6h-2.9zM556.1 363.2h5.4v3.6h-5.4zM581.2 363.2h5.4v3.6h-5.4zM411 366.4h5.4v3.6h-5.4zM428.5 366.4h2.9v3.6h-2.9zM471.1 366.4h2.9v3.6h-2.9zM553.6 366.4h7.9v3.6h-7.9zM578.7 366.4h2.9v3.6h-2.9zM601.2 366.4h2.9v3.6h-2.9zM436.1 369.6h5.4v3.6h-5.4zM456.1 369.6h2.9v3.6h-2.9zM468.6 369.6h2.9v3.6h-2.9zM476.1 369.6h5.4v3.6h-5.4zM506.1 369.6h2.9v3.6h-2.9zM511.1 369.6h2.9v3.6h-2.9zM521.1 369.6h2.9v3.6h-2.9zM571.1 369.6h2.9v3.6h-2.9zM581.2 369.6h5.4v3.6h-5.4zM423.5 372.8h2.9v3.6h-2.9zM458.6 372.8h2.9v3.6h-2.9zM468.6 372.8h5.4v3.6h-5.4zM516.1 372.8h2.9v3.6h-2.9zM531.1 372.8h2.9v3.6h-2.9zM413.5 376h2.9v3.6h-2.9zM438.6 376h7.9v3.6h-7.9zM563.6 376h2.9v3.6h-2.9zM578.7 376h7.9v3.6h-7.9zM408.5 379.2h5.4v3.6h-5.4zM418.5 379.2h2.9v3.6h-2.9zM443.6 379.2h2.9v3.6h-2.9zM491.1 379.2h2.9v3.6h-2.9zM506.1 379.2h2.9v3.6h-2.9zM563.6 379.2h2.9v3.6h-2.9zM436.1 382.4h7.9v3.6h-7.9zM508.6 382.4h2.9v3.6h-2.9zM551.1 382.4h2.9v3.6h-2.9zM566.1 382.4h2.9v3.6h-2.9zM413.5 385.6h5.4v3.6h-5.4zM423.5 385.6h2.9v3.6h-2.9zM433.6 385.6h2.9v3.6h-2.9zM446.1 385.6h12.9v3.6h-12.9zM506.1 385.6h2.9v3.6h-2.9zM516.1 385.6h2.9v3.6h-2.9zM523.6 385.6h2.9v3.6h-2.9zM533.6 385.6h2.9v3.6h-2.9zM553.6 385.6h5.4v3.6h-5.4zM561.1 385.6h5.4v3.6h-5.4zM573.6 385.6h2.9v3.6h-2.9zM406 388.8h5.4v3.6h-5.4zM418.5 388.8h2.9v3.6h-2.9zM423.5 388.8h2.9v3.6h-2.9zM446.1 388.8h2.9v3.6h-2.9zM456.1 388.8h2.9v3.6h-2.9zM488.6 388.8h7.9v3.6h-7.9zM508.6 388.8h2.9v3.6h-2.9zM551.1 388.8h2.9v3.6h-2.9zM571.1 388.8h2.9v3.6h-2.9zM418.5 392h2.9v3.6h-2.9zM423.5 392h2.9v3.6h-2.9zM436.1 392h7.9v3.6h-7.9zM448.6 392h5.4v3.6h-5.4zM456.1 392h2.9v3.6h-2.9zM461.1 392h2.9v3.6h-2.9zM478.6 392h2.9v3.6h-2.9zM546.1 392h2.9v3.6h-2.9zM553.6 392h2.9v3.6h-2.9zM561.1 392h2.9v3.6h-2.9zM401 395.2h7.9v3.6h-7.9zM423.5 395.2h2.9v3.6h-2.9zM436.1 395.2h2.9v3.6h-2.9zM476.1 395.2h2.9v3.6h-2.9zM486.1 395.2h2.9v3.6h-2.9zM533.6 395.2h2.9v3.6h-2.9zM548.6 395.2h2.9v3.6h-2.9zM568.6 395.2h2.9v3.6h-2.9zM408.5 398.4h2.9v3.6h-2.9zM413.5 398.4h5.4v3.6h-5.4zM438.6 398.4h7.9v3.6h-7.9zM453.6 398.4h5.4v3.6h-5.4zM518.6 398.4h2.9v3.6h-2.9zM536.1 398.4h2.9v3.6h-2.9zM438.6 401.6h2.9v3.6h-2.9zM451.1 401.6h2.9v3.6h-2.9zM526.1 401.6h2.9v3.6h-2.9zM553.6 401.6h2.9v3.6h-2.9zM411 404.8h2.9v3.6h-2.9zM443.6 404.8h2.9v3.6h-2.9zM548.6 404.8h5.4v3.6h-5.4zM558.6 404.8h12.9v3.6h-12.9zM406 408h2.9v3.6h-2.9zM441.1 408h7.9v3.6h-7.9zM486.1 408h2.9v3.6h-2.9zM548.6 408h7.9v3.6h-7.9zM566.1 408h2.9v3.6h-2.9zM456.1 411.2h2.9v3.6h-2.9zM508.6 411.2h2.9v3.6h-2.9zM523.6 411.2h2.9v3.6h-2.9zM541.1 411.2h2.9v3.6h-2.9zM548.6 411.2h2.9v3.6h-2.9zM553.6 411.2h2.9v3.6h-2.9zM451.1 414.4h2.9v3.6h-2.9zM556.1 414.4h2.9v3.6h-2.9zM561.1 414.4h2.9v3.6h-2.9zM453.6 417.6h5.4v3.6h-5.4zM466.1 417.6h2.9v3.6h-2.9zM471.1 417.6h2.9v3.6h-2.9zM476.1 417.6h2.9v3.6h-2.9zM486.1 417.6h2.9v3.6h-2.9zM496.1 417.6h2.9v3.6h-2.9zM508.6 417.6h2.9v3.6h-2.9zM526.1 417.6h5.4v3.6h-5.4zM538.6 417.6h2.9v3.6h-2.9zM546.1 417.6h2.9v3.6h-2.9zM446.1 420.8h2.9v3.6h-2.9zM461.1 420.8h2.9v3.6h-2.9zM471.1 420.8h2.9v3.6h-2.9zM501.1 420.8h2.9v3.6h-2.9zM531.1 420.8h2.9v3.6h-2.9zM456.1 424h2.9v3.6h-2.9zM466.1 424h2.9v3.6h-2.9zM481.1 424h2.9v3.6h-2.9zM488.6 424h2.9v3.6h-2.9zM518.6 424h5.4v3.6h-5.4zM541.1 424h2.9v3.6h-2.9zM546.1 424h2.9v3.6h-2.9zM433.6 427.2h7.9v3.6h-7.9zM443.6 427.2h10.4v3.6h-10.4zM468.6 430.4h2.9v3.6h-2.9zM478.6 430.4h2.9v3.6h-2.9zM508.6 430.4h2.9v3.6h-2.9zM446.1 433.6h2.9v3.6h-2.9zM453.6 433.6h2.9v3.6h-2.9zM483.6 433.6h2.9v3.6h-2.9zM548.6 433.6h2.9v3.6h-2.9zM426 436.8h2.9v3.6h-2.9zM443.6 436.8h2.9v3.6h-2.9zM448.6 436.8h2.9v3.6h-2.9zM461.1 436.8h2.9v3.6h-2.9zM466.1 436.8h5.4v3.6h-5.4zM508.6 436.8h5.4v3.6h-5.4zM516.1 436.8h5.4v3.6h-5.4zM446.1 440h7.9v3.6h-7.9zM526.1 440h2.9v3.6h-2.9zM536.1 440h7.9v3.6h-7.9zM548.6 440h2.9v3.6h-2.9z"/><path fill="#ff2a00" d="M481.1 289.6h5.4v3.6h-5.4zM503.6 289.6h2.9v3.6h-2.9zM408.5 292.8h2.9v3.6h-2.9zM418.5 292.8h2.9v3.6h-2.9zM446.1 296h2.9v3.6h-2.9zM458.6 296h2.9v3.6h-2.9zM488.6 296h2.9v3.6h-2.9zM493.6 299.2h2.9v3.6h-2.9zM501.1 299.2h5.4v3.6h-5.4zM553.6 299.2h2.9v3.6h-2.9zM481.1 302.4h2.9v3.6h-2.9zM536.1 302.4h5.4v3.6h-5.4zM493.6 305.6h2.9v3.6h-2.9zM513.6 305.6h2.9v3.6h-2.9zM576.1 305.6h2.9v3.6h-2.9zM401 308.8h2.9v3.6h-2.9zM408.5 308.8h2.9v3.6h-2.9zM486.1 308.8h2.9v3.6h-2.9zM526.1 312h2.9v3.6h-2.9zM471.1 315.2h5.4v3.6h-5.4zM513.6 315.2h2.9v3.6h-2.9zM523.6 315.2h2.9v3.6h-2.9zM483.6 318.4h2.9v3.6h-2.9zM488.6 318.4h5.4v3.6h-5.4zM498.6 318.4h2.9v3.6h-2.9zM503.6 318.4h2.9v3.6h-2.9zM516.1 318.4h5.4v3.6h-5.4zM546.1 318.4h2.9v3.6h-2.9zM551.1 318.4h2.9v3.6h-2.9zM506.1 321.6h2.9v3.6h-2.9zM526.1 321.6h2.9v3.6h-2.9zM538.6 321.6h2.9v3.6h-2.9zM566.1 321.6h2.9v3.6h-2.9zM573.6 321.6h2.9v3.6h-2.9zM431.1 324.8h2.9v3.6h-2.9zM456.1 324.8h7.9v3.6h-7.9zM471.1 324.8h5.4v3.6h-5.4zM481.1 324.8h5.4v3.6h-5.4zM526.1 324.8h2.9v3.6h-2.9zM486.1 328h2.9v3.6h-2.9zM503.6 328h2.9v3.6h-2.9zM511.1 328h2.9v3.6h-2.9zM438.6 331.2h5.4v3.6h-5.4zM461.1 331.2h2.9v3.6h-2.9zM476.1 331.2h2.9v3.6h-2.9zM508.6 331.2h2.9v3.6h-2.9zM546.1 331.2h5.4v3.6h-5.4zM443.6 334.4h2.9v3.6h-2.9zM458.6 334.4h2.9v3.6h-2.9zM463.6 334.4h2.9v3.6h-2.9zM471.1 334.4h2.9v3.6h-2.9zM508.6 334.4h2.9v3.6h-2.9zM526.1 334.4h2.9v3.6h-2.9zM536.1 334.4h2.9v3.6h-2.9zM441.1 337.6h7.9v3.6h-7.9zM456.1 337.6h2.9v3.6h-2.9zM461.1 337.6h2.9v3.6h-2.9zM478.6 337.6h5.4v3.6h-5.4zM526.1 337.6h2.9v3.6h-2.9zM538.6 337.6h2.9v3.6h-2.9zM571.1 337.6h2.9v3.6h-2.9zM583.7 337.6h5.4v3.6h-5.4zM441.1 340.8h2.9v3.6h-2.9zM473.6 340.8h2.9v3.6h-2.9zM478.6 340.8h2.9v3.6h-2.9zM563.6 340.8h2.9v3.6h-2.9zM568.6 340.8h2.9v3.6h-2.9zM428.5 344h2.9v3.6h-2.9zM456.1 344h2.9v3.6h-2.9zM463.6 344h2.9v3.6h-2.9zM471.1 344h2.9v3.6h-2.9zM491.1 344h2.9v3.6h-2.9zM496.1 344h5.4v3.6h-5.4zM541.1 344h5.4v3.6h-5.4zM571.1 344h2.9v3.6h-2.9zM578.7 344h2.9v3.6h-2.9zM446.1 347.2h5.4v3.6h-5.4zM466.1 347.2h2.9v3.6h-2.9zM471.1 347.2h5.4v3.6h-5.4zM478.6 347.2h5.4v3.6h-5.4zM513.6 347.2h2.9v3.6h-2.9zM541.1 347.2h7.9v3.6h-7.9zM588.7 347.2h2.9v3.6h-2.9zM478.6 350.4h5.4v3.6h-5.4zM493.6 350.4h2.9v3.6h-2.9zM501.1 350.4h2.9v3.6h-2.9zM538.6 350.4h2.9v3.6h-2.9zM556.1 350.4h2.9v3.6h-2.9zM561.1 350.4h2.9v3.6h-2.9zM433.6 353.6h2.9v3.6h-2.9zM506.1 353.6h2.9v3.6h-2.9zM523.6 353.6h2.9v3.6h-2.9zM553.6 353.6h12.9v3.6h-12.9zM578.7 353.6h2.9v3.6h-2.9zM451.1 356.8h2.9v3.6h-2.9zM488.6 356.8h2.9v3.6h-2.9zM506.1 356.8h2.9v3.6h-2.9zM511.1 356.8h2.9v3.6h-2.9zM516.1 356.8h2.9v3.6h-2.9zM523.6 356.8h2.9v3.6h-2.9zM541.1 356.8h2.9v3.6h-2.9zM563.6 356.8h2.9v3.6h-2.9zM568.6 356.8h2.9v3.6h-2.9zM463.6 360h7.9v3.6h-7.9zM476.1 360h2.9v3.6h-2.9zM481.1 360h2.9v3.6h-2.9zM491.1 360h2.9v3.6h-2.9zM496.1 360h2.9v3.6h-2.9zM521.1 360h2.9v3.6h-2.9zM528.6 360h2.9v3.6h-2.9zM551.1 360h2.9v3.6h-2.9zM558.6 360h5.4v3.6h-5.4zM466.1 363.2h5.4v3.6h-5.4zM476.1 363.2h2.9v3.6h-2.9zM481.1 363.2h2.9v3.6h-2.9zM503.6 363.2h2.9v3.6h-2.9zM518.6 363.2h2.9v3.6h-2.9zM526.1 363.2h2.9v3.6h-2.9zM546.1 363.2h2.9v3.6h-2.9zM431.1 366.4h2.9v3.6h-2.9zM446.1 366.4h2.9v3.6h-2.9zM451.1 366.4h2.9v3.6h-2.9zM456.1 366.4h2.9v3.6h-2.9zM476.1 366.4h2.9v3.6h-2.9zM481.1 366.4h2.9v3.6h-2.9zM486.1 366.4h2.9v3.6h-2.9zM506.1 366.4h2.9v3.6h-2.9zM518.6 366.4h2.9v3.6h-2.9zM603.7 366.4h2.9v3.6h-2.9zM463.6 369.6h2.9v3.6h-2.9zM481.1 369.6h2.9v3.6h-2.9zM513.6 369.6h2.9v3.6h-2.9zM523.6 369.6h5.4v3.6h-5.4zM546.1 369.6h5.4v3.6h-5.4zM568.6 369.6h2.9v3.6h-2.9zM606.2 369.6h2.9v3.6h-2.9zM436.1 372.8h10.4v3.6h-10.4zM448.6 372.8h5.4v3.6h-5.4zM481.1 372.8h2.9v3.6h-2.9zM496.1 372.8h2.9v3.6h-2.9zM501.1 372.8h2.9v3.6h-2.9zM506.1 372.8h2.9v3.6h-2.9zM523.6 372.8h7.9v3.6h-7.9zM541.1 372.8h5.4v3.6h-5.4zM551.1 372.8h2.9v3.6h-2.9zM456.1 376h2.9v3.6h-2.9zM516.1 376h2.9v3.6h-2.9zM523.6 376h5.4v3.6h-5.4zM543.6 376h2.9v3.6h-2.9zM531.1 379.2h2.9v3.6h-2.9zM536.1 379.2h2.9v3.6h-2.9zM541.1 379.2h2.9v3.6h-2.9zM553.6 379.2h2.9v3.6h-2.9zM476.1 382.4h2.9v3.6h-2.9zM501.1 382.4h2.9v3.6h-2.9zM506.1 382.4h2.9v3.6h-2.9zM513.6 382.4h2.9v3.6h-2.9zM536.1 382.4h2.9v3.6h-2.9zM541.1 382.4h2.9v3.6h-2.9zM476.1 385.6h2.9v3.6h-2.9zM486.1 385.6h2.9v3.6h-2.9zM511.1 385.6h2.9v3.6h-2.9zM471.1 388.8h2.9v3.6h-2.9zM498.6 388.8h2.9v3.6h-2.9zM503.6 388.8h2.9v3.6h-2.9zM528.6 388.8h2.9v3.6h-2.9zM546.1 388.8h2.9v3.6h-2.9zM556.1 388.8h2.9v3.6h-2.9zM563.6 388.8h2.9v3.6h-2.9zM501.1 392h2.9v3.6h-2.9zM526.1 392h2.9v3.6h-2.9zM541.1 392h5.4v3.6h-5.4zM448.6 395.2h2.9v3.6h-2.9zM453.6 395.2h5.4v3.6h-5.4zM473.6 395.2h2.9v3.6h-2.9zM498.6 395.2h2.9v3.6h-2.9zM503.6 395.2h2.9v3.6h-2.9zM543.6 395.2h2.9v3.6h-2.9zM476.1 398.4h2.9v3.6h-2.9zM501.1 398.4h2.9v3.6h-2.9zM533.6 398.4h2.9v3.6h-2.9zM541.1 398.4h2.9v3.6h-2.9zM548.6 398.4h2.9v3.6h-2.9zM481.1 401.6h2.9v3.6h-2.9zM498.6 401.6h2.9v3.6h-2.9zM503.6 401.6h2.9v3.6h-2.9zM528.6 401.6h5.4v3.6h-5.4zM538.6 401.6h2.9v3.6h-2.9zM543.6 401.6h2.9v3.6h-2.9zM448.6 404.8h2.9v3.6h-2.9zM463.6 404.8h2.9v3.6h-2.9zM473.6 404.8h2.9v3.6h-2.9zM481.1 404.8h2.9v3.6h-2.9zM496.1 404.8h2.9v3.6h-2.9zM518.6 404.8h2.9v3.6h-2.9zM523.6 404.8h2.9v3.6h-2.9zM531.1 404.8h5.4v3.6h-5.4zM543.6 404.8h2.9v3.6h-2.9zM531.1 408h2.9v3.6h-2.9zM536.1 408h2.9v3.6h-2.9zM463.6 411.2h2.9v3.6h-2.9zM471.1 411.2h2.9v3.6h-2.9zM491.1 411.2h2.9v3.6h-2.9zM496.1 411.2h2.9v3.6h-2.9zM506.1 411.2h2.9v3.6h-2.9zM513.6 411.2h5.4v3.6h-5.4zM531.1 411.2h2.9v3.6h-2.9zM461.1 414.4h2.9v3.6h-2.9zM503.6 414.4h2.9v3.6h-2.9zM511.1 414.4h5.4v3.6h-5.4zM518.6 414.4h2.9v3.6h-2.9zM458.6 417.6h2.9v3.6h-2.9zM468.6 417.6h2.9v3.6h-2.9zM473.6 417.6h2.9v3.6h-2.9zM493.6 417.6h2.9v3.6h-2.9zM501.1 417.6h2.9v3.6h-2.9zM506.1 417.6h2.9v3.6h-2.9zM533.6 417.6h2.9v3.6h-2.9zM473.6 420.8h5.4v3.6h-5.4zM483.6 420.8h2.9v3.6h-2.9zM508.6 420.8h2.9v3.6h-2.9zM468.6 424h2.9v3.6h-2.9zM496.1 424h2.9v3.6h-2.9zM503.6 424h2.9v3.6h-2.9zM533.6 424h2.9v3.6h-2.9zM461.1 427.2h2.9v3.6h-2.9zM511.1 427.2h2.9v3.6h-2.9zM481.1 430.4h2.9v3.6h-2.9zM488.6 430.4h2.9v3.6h-2.9zM496.1 430.4h7.9v3.6h-7.9zM506.1 430.4h2.9v3.6h-2.9zM538.6 430.4h2.9v3.6h-2.9zM473.6 433.6h2.9v3.6h-2.9zM486.1 433.6h5.4v3.6h-5.4zM493.6 433.6h2.9v3.6h-2.9zM518.6 433.6h2.9v3.6h-2.9zM536.1 433.6h10.4v3.6h-10.4zM491.1 436.8h2.9v3.6h-2.9zM513.6 436.8h2.9v3.6h-2.9zM523.6 436.8h5.4v3.6h-5.4zM456.1 440h2.9v3.6h-2.9zM461.1 440h2.9v3.6h-2.9zM466.1 440h2.9v3.6h-2.9zM486.1 440h2.9v3.6h-2.9zM493.6 440h5.4v3.6h-5.4zM513.6 440h2.9v3.6h-2.9zM523.6 440h2.9v3.6h-2.9z"/><path fill="#ff6e00" d="M486.1 289.6h2.9v3.6h-2.9zM508.6 289.6h2.9v3.6h-2.9zM521.1 289.6h2.9v3.6h-2.9zM558.6 292.8h2.9v3.6h-2.9zM403.5 296h2.9v3.6h-2.9zM473.6 296h2.9v3.6h-2.9zM493.6 296h2.9v3.6h-2.9zM513.6 296h2.9v3.6h-2.9zM486.1 299.2h5.4v3.6h-5.4zM496.1 299.2h2.9v3.6h-2.9zM548.6 299.2h2.9v3.6h-2.9zM556.1 299.2h2.9v3.6h-2.9zM563.6 299.2h5.4v3.6h-5.4zM478.6 302.4h2.9v3.6h-2.9zM486.1 302.4h2.9v3.6h-2.9zM493.6 302.4h2.9v3.6h-2.9zM516.1 302.4h2.9v3.6h-2.9zM533.6 302.4h2.9v3.6h-2.9zM496.1 305.6h5.4v3.6h-5.4zM511.1 305.6h2.9v3.6h-2.9zM546.1 305.6h2.9v3.6h-2.9zM446.1 308.8h2.9v3.6h-2.9zM483.6 308.8h2.9v3.6h-2.9zM496.1 308.8h2.9v3.6h-2.9zM523.6 308.8h2.9v3.6h-2.9zM528.6 308.8h2.9v3.6h-2.9zM533.6 308.8h2.9v3.6h-2.9zM548.6 308.8h2.9v3.6h-2.9zM571.1 308.8h2.9v3.6h-2.9zM521.1 312h2.9v3.6h-2.9zM528.6 312h2.9v3.6h-2.9zM533.6 312h5.4v3.6h-5.4zM548.6 312h2.9v3.6h-2.9zM456.1 315.2h2.9v3.6h-2.9zM508.6 315.2h2.9v3.6h-2.9zM521.1 315.2h2.9v3.6h-2.9zM526.1 315.2h2.9v3.6h-2.9zM441.1 318.4h2.9v3.6h-2.9zM461.1 318.4h2.9v3.6h-2.9zM473.6 318.4h2.9v3.6h-2.9zM486.1 318.4h2.9v3.6h-2.9zM496.1 318.4h2.9v3.6h-2.9zM543.6 318.4h2.9v3.6h-2.9zM556.1 318.4h2.9v3.6h-2.9zM561.1 318.4h7.9v3.6h-7.9zM461.1 321.6h2.9v3.6h-2.9zM468.6 321.6h2.9v3.6h-2.9zM531.1 321.6h2.9v3.6h-2.9zM571.1 321.6h2.9v3.6h-2.9zM578.7 321.6h2.9v3.6h-2.9zM433.6 324.8h2.9v3.6h-2.9zM446.1 324.8h2.9v3.6h-2.9zM466.1 324.8h2.9v3.6h-2.9zM523.6 324.8h2.9v3.6h-2.9zM538.6 324.8h2.9v3.6h-2.9zM546.1 324.8h2.9v3.6h-2.9zM588.7 324.8h2.9v3.6h-2.9zM433.6 328h2.9v3.6h-2.9zM471.1 328h2.9v3.6h-2.9zM481.1 328h2.9v3.6h-2.9zM493.6 328h5.4v3.6h-5.4zM501.1 328h2.9v3.6h-2.9zM526.1 328h5.4v3.6h-5.4zM533.6 328h7.9v3.6h-7.9zM546.1 328h2.9v3.6h-2.9zM568.6 328h5.4v3.6h-5.4zM433.6 331.2h5.4v3.6h-5.4zM456.1 331.2h2.9v3.6h-2.9zM473.6 331.2h2.9v3.6h-2.9zM478.6 331.2h2.9v3.6h-2.9zM503.6 331.2h2.9v3.6h-2.9zM528.6 331.2h2.9v3.6h-2.9zM551.1 331.2h2.9v3.6h-2.9zM556.1 331.2h2.9v3.6h-2.9zM583.7 331.2h2.9v3.6h-2.9zM593.7 331.2h2.9v3.6h-2.9zM411 334.4h2.9v3.6h-2.9zM433.6 334.4h2.9v3.6h-2.9zM456.1 334.4h2.9v3.6h-2.9zM466.1 334.4h2.9v3.6h-2.9zM476.1 334.4h2.9v3.6h-2.9zM528.6 334.4h2.9v3.6h-2.9zM543.6 334.4h5.4v3.6h-5.4zM558.6 334.4h2.9v3.6h-2.9zM578.7 334.4h2.9v3.6h-2.9zM588.7 334.4h2.9v3.6h-2.9zM593.7 334.4h5.4v3.6h-5.4zM433.6 337.6h2.9v3.6h-2.9zM463.6 337.6h2.9v3.6h-2.9zM488.6 337.6h5.4v3.6h-5.4zM501.1 337.6h7.9v3.6h-7.9zM518.6 337.6h2.9v3.6h-2.9zM536.1 337.6h2.9v3.6h-2.9zM543.6 337.6h7.9v3.6h-7.9zM556.1 337.6h7.9v3.6h-7.9zM566.1 337.6h2.9v3.6h-2.9zM433.6 340.8h5.4v3.6h-5.4zM481.1 340.8h2.9v3.6h-2.9zM493.6 340.8h2.9v3.6h-2.9zM506.1 340.8h5.4v3.6h-5.4zM513.6 340.8h2.9v3.6h-2.9zM521.1 340.8h2.9v3.6h-2.9zM423.5 344h5.4v3.6h-5.4zM446.1 344h5.4v3.6h-5.4zM466.1 344h2.9v3.6h-2.9zM488.6 344h2.9v3.6h-2.9zM501.1 344h2.9v3.6h-2.9zM508.6 344h5.4v3.6h-5.4zM531.1 344h5.4v3.6h-5.4zM548.6 344h2.9v3.6h-2.9zM581.2 344h2.9v3.6h-2.9zM588.7 344h2.9v3.6h-2.9zM421 347.2h5.4v3.6h-5.4zM431.1 347.2h5.4v3.6h-5.4zM438.6 347.2h2.9v3.6h-2.9zM486.1 347.2h2.9v3.6h-2.9zM493.6 347.2h2.9v3.6h-2.9zM498.6 347.2h5.4v3.6h-5.4zM506.1 347.2h5.4v3.6h-5.4zM528.6 347.2h2.9v3.6h-2.9zM533.6 347.2h5.4v3.6h-5.4zM576.1 347.2h5.4v3.6h-5.4zM583.7 347.2h2.9v3.6h-2.9zM591.2 347.2h2.9v3.6h-2.9zM443.6 350.4h2.9v3.6h-2.9zM461.1 350.4h7.9v3.6h-7.9zM496.1 350.4h2.9v3.6h-2.9zM518.6 350.4h2.9v3.6h-2.9zM526.1 350.4h2.9v3.6h-2.9zM541.1 350.4h2.9v3.6h-2.9zM553.6 350.4h2.9v3.6h-2.9zM571.1 350.4h10.4v3.6h-10.4zM586.2 350.4h2.9v3.6h-2.9zM436.1 353.6h2.9v3.6h-2.9zM443.6 353.6h5.4v3.6h-5.4zM468.6 353.6h5.4v3.6h-5.4zM498.6 353.6h2.9v3.6h-2.9zM531.1 353.6h2.9v3.6h-2.9zM421 356.8h7.9v3.6h-7.9zM433.6 356.8h5.4v3.6h-5.4zM486.1 356.8h2.9v3.6h-2.9zM496.1 356.8h2.9v3.6h-2.9zM533.6 356.8h2.9v3.6h-2.9zM546.1 356.8h2.9v3.6h-2.9zM566.1 356.8h2.9v3.6h-2.9zM583.7 356.8h2.9v3.6h-2.9zM431.1 360h2.9v3.6h-2.9zM478.6 360h2.9v3.6h-2.9zM516.1 360h2.9v3.6h-2.9zM531.1 360h2.9v3.6h-2.9zM581.2 360h2.9v3.6h-2.9zM441.1 363.2h2.9v3.6h-2.9zM448.6 363.2h2.9v3.6h-2.9zM461.1 363.2h2.9v3.6h-2.9zM508.6 363.2h2.9v3.6h-2.9zM521.1 363.2h2.9v3.6h-2.9zM533.6 363.2h2.9v3.6h-2.9zM551.1 363.2h2.9v3.6h-2.9zM576.1 363.2h2.9v3.6h-2.9zM453.6 366.4h2.9v3.6h-2.9zM468.6 366.4h2.9v3.6h-2.9zM473.6 366.4h2.9v3.6h-2.9zM478.6 366.4h2.9v3.6h-2.9zM508.6 366.4h2.9v3.6h-2.9zM541.1 366.4h7.9v3.6h-7.9zM561.1 366.4h5.4v3.6h-5.4zM568.6 366.4h2.9v3.6h-2.9zM518.6 369.6h2.9v3.6h-2.9zM531.1 369.6h2.9v3.6h-2.9zM543.6 369.6h2.9v3.6h-2.9zM558.6 369.6h10.4v3.6h-10.4zM446.1 372.8h2.9v3.6h-2.9zM453.6 372.8h2.9v3.6h-2.9zM478.6 372.8h2.9v3.6h-2.9zM508.6 372.8h2.9v3.6h-2.9zM536.1 372.8h2.9v3.6h-2.9zM548.6 372.8h2.9v3.6h-2.9zM563.6 372.8h2.9v3.6h-2.9zM433.6 376h2.9v3.6h-2.9zM486.1 376h2.9v3.6h-2.9zM521.1 376h2.9v3.6h-2.9zM533.6 376h2.9v3.6h-2.9zM548.6 376h5.4v3.6h-5.4zM413.5 379.2h5.4v3.6h-5.4zM423.5 379.2h2.9v3.6h-2.9zM446.1 379.2h2.9v3.6h-2.9zM451.1 379.2h2.9v3.6h-2.9zM471.1 379.2h2.9v3.6h-2.9zM476.1 379.2h2.9v3.6h-2.9zM496.1 379.2h2.9v3.6h-2.9zM511.1 379.2h2.9v3.6h-2.9zM516.1 379.2h2.9v3.6h-2.9zM526.1 379.2h2.9v3.6h-2.9zM561.1 379.2h2.9v3.6h-2.9zM423.5 382.4h2.9v3.6h-2.9zM453.6 382.4h7.9v3.6h-7.9zM463.6 382.4h2.9v3.6h-2.9zM481.1 382.4h2.9v3.6h-2.9zM521.1 382.4h2.9v3.6h-2.9zM553.6 382.4h2.9v3.6h-2.9zM571.1 382.4h2.9v3.6h-2.9zM431.1 385.6h2.9v3.6h-2.9zM458.6 385.6h2.9v3.6h-2.9zM473.6 385.6h2.9v3.6h-2.9zM503.6 385.6h2.9v3.6h-2.9zM568.6 385.6h2.9v3.6h-2.9zM501.1 388.8h2.9v3.6h-2.9zM506.1 388.8h2.9v3.6h-2.9zM526.1 388.8h2.9v3.6h-2.9zM548.6 388.8h2.9v3.6h-2.9zM558.6 388.8h2.9v3.6h-2.9zM566.1 388.8h2.9v3.6h-2.9zM413.5 392h5.4v3.6h-5.4zM458.6 392h2.9v3.6h-2.9zM486.1 392h2.9v3.6h-2.9zM556.1 392h2.9v3.6h-2.9zM438.6 395.2h7.9v3.6h-7.9zM461.1 395.2h2.9v3.6h-2.9zM483.6 395.2h2.9v3.6h-2.9zM501.1 395.2h2.9v3.6h-2.9zM508.6 395.2h2.9v3.6h-2.9zM541.1 395.2h2.9v3.6h-2.9zM546.1 395.2h2.9v3.6h-2.9zM446.1 398.4h2.9v3.6h-2.9zM478.6 398.4h5.4v3.6h-5.4zM551.1 398.4h5.4v3.6h-5.4zM441.1 401.6h7.9v3.6h-7.9zM456.1 401.6h2.9v3.6h-2.9zM461.1 401.6h7.9v3.6h-7.9zM506.1 401.6h2.9v3.6h-2.9zM511.1 401.6h5.4v3.6h-5.4zM523.6 401.6h2.9v3.6h-2.9zM441.1 404.8h2.9v3.6h-2.9zM446.1 404.8h2.9v3.6h-2.9zM466.1 404.8h2.9v3.6h-2.9zM508.6 404.8h2.9v3.6h-2.9zM521.1 404.8h2.9v3.6h-2.9zM526.1 404.8h2.9v3.6h-2.9zM546.1 404.8h2.9v3.6h-2.9zM556.1 404.8h2.9v3.6h-2.9zM461.1 408h5.4v3.6h-5.4zM468.6 408h2.9v3.6h-2.9zM473.6 408h12.9v3.6h-12.9zM523.6 408h2.9v3.6h-2.9zM528.6 408h2.9v3.6h-2.9zM538.6 408h2.9v3.6h-2.9zM543.6 408h2.9v3.6h-2.9zM568.6 408h2.9v3.6h-2.9zM453.6 411.2h2.9v3.6h-2.9zM458.6 411.2h2.9v3.6h-2.9zM521.1 411.2h2.9v3.6h-2.9zM536.1 411.2h2.9v3.6h-2.9zM453.6 414.4h5.4v3.6h-5.4zM491.1 414.4h5.4v3.6h-5.4zM526.1 414.4h5.4v3.6h-5.4zM533.6 414.4h2.9v3.6h-2.9zM543.6 414.4h2.9v3.6h-2.9zM558.6 414.4h2.9v3.6h-2.9zM531.1 417.6h2.9v3.6h-2.9zM536.1 417.6h2.9v3.6h-2.9zM468.6 420.8h2.9v3.6h-2.9zM478.6 420.8h2.9v3.6h-2.9zM491.1 420.8h5.4v3.6h-5.4zM503.6 420.8h2.9v3.6h-2.9zM521.1 420.8h2.9v3.6h-2.9zM541.1 420.8h5.4v3.6h-5.4zM461.1 424h2.9v3.6h-2.9zM513.6 424h2.9v3.6h-2.9zM523.6 424h5.4v3.6h-5.4zM536.1 424h2.9v3.6h-2.9zM543.6 424h2.9v3.6h-2.9zM551.1 424h12.9v3.6h-12.9zM441.1 427.2h2.9v3.6h-2.9zM466.1 427.2h2.9v3.6h-2.9zM476.1 427.2h2.9v3.6h-2.9zM508.6 427.2h2.9v3.6h-2.9zM483.6 430.4h2.9v3.6h-2.9zM491.1 433.6h2.9v3.6h-2.9zM446.1 436.8h2.9v3.6h-2.9zM473.6 436.8h5.4v3.6h-5.4zM503.6 436.8h2.9v3.6h-2.9zM521.1 436.8h2.9v3.6h-2.9zM533.6 436.8h2.9v3.6h-2.9zM538.6 436.8h7.9v3.6h-7.9zM548.6 436.8h2.9v3.6h-2.9zM453.6 440h2.9v3.6h-2.9zM478.6 440h2.9v3.6h-2.9zM488.6 440h2.9v3.6h-2.9zM511.1 440h2.9v3.6h-2.9zM543.6 440h2.9v3.6h-2.9z"/><path fill="#ff4c00" d="M501.1 289.6h2.9v3.6h-2.9zM431.1 296h2.9v3.6h-2.9zM466.1 296h2.9v3.6h-2.9zM481.1 296h2.9v3.6h-2.9zM558.6 296h2.9v3.6h-2.9zM563.6 296h2.9v3.6h-2.9zM466.1 299.2h2.9v3.6h-2.9zM498.6 299.2h2.9v3.6h-2.9zM568.6 299.2h2.9v3.6h-2.9zM473.6 302.4h5.4v3.6h-5.4zM483.6 302.4h2.9v3.6h-2.9zM513.6 302.4h2.9v3.6h-2.9zM503.6 305.6h2.9v3.6h-2.9zM508.6 305.6h2.9v3.6h-2.9zM526.1 308.8h2.9v3.6h-2.9zM536.1 308.8h2.9v3.6h-2.9zM543.6 308.8h5.4v3.6h-5.4zM568.6 308.8h2.9v3.6h-2.9zM573.6 308.8h2.9v3.6h-2.9zM538.6 312h2.9v3.6h-2.9zM453.6 315.2h2.9v3.6h-2.9zM466.1 315.2h2.9v3.6h-2.9zM476.1 315.2h2.9v3.6h-2.9zM518.6 315.2h2.9v3.6h-2.9zM573.6 315.2h5.4v3.6h-5.4zM476.1 318.4h7.9v3.6h-7.9zM501.1 318.4h2.9v3.6h-2.9zM506.1 318.4h2.9v3.6h-2.9zM538.6 318.4h5.4v3.6h-5.4zM423.5 321.6h2.9v3.6h-2.9zM433.6 321.6h2.9v3.6h-2.9zM488.6 321.6h2.9v3.6h-2.9zM521.1 321.6h5.4v3.6h-5.4zM528.6 321.6h2.9v3.6h-2.9zM536.1 321.6h2.9v3.6h-2.9zM561.1 321.6h5.4v3.6h-5.4zM568.6 321.6h2.9v3.6h-2.9zM576.1 321.6h2.9v3.6h-2.9zM426 324.8h2.9v3.6h-2.9zM441.1 324.8h2.9v3.6h-2.9zM453.6 324.8h2.9v3.6h-2.9zM503.6 324.8h2.9v3.6h-2.9zM511.1 324.8h2.9v3.6h-2.9zM516.1 324.8h5.4v3.6h-5.4zM528.6 324.8h2.9v3.6h-2.9zM583.7 324.8h5.4v3.6h-5.4zM488.6 328h2.9v3.6h-2.9zM498.6 328h2.9v3.6h-2.9zM516.1 328h2.9v3.6h-2.9zM561.1 328h7.9v3.6h-7.9zM573.6 328h2.9v3.6h-2.9zM458.6 331.2h2.9v3.6h-2.9zM483.6 331.2h2.9v3.6h-2.9zM506.1 331.2h2.9v3.6h-2.9zM513.6 331.2h2.9v3.6h-2.9zM526.1 331.2h2.9v3.6h-2.9zM533.6 331.2h2.9v3.6h-2.9zM586.2 331.2h5.4v3.6h-5.4zM436.1 334.4h2.9v3.6h-2.9zM483.6 334.4h2.9v3.6h-2.9zM511.1 334.4h2.9v3.6h-2.9zM516.1 334.4h2.9v3.6h-2.9zM533.6 334.4h2.9v3.6h-2.9zM548.6 334.4h5.4v3.6h-5.4zM556.1 334.4h2.9v3.6h-2.9zM583.7 334.4h5.4v3.6h-5.4zM438.6 337.6h2.9v3.6h-2.9zM448.6 337.6h2.9v3.6h-2.9zM453.6 337.6h2.9v3.6h-2.9zM458.6 337.6h2.9v3.6h-2.9zM486.1 337.6h2.9v3.6h-2.9zM493.6 337.6h2.9v3.6h-2.9zM508.6 337.6h2.9v3.6h-2.9zM513.6 337.6h2.9v3.6h-2.9zM541.1 337.6h2.9v3.6h-2.9zM568.6 337.6h2.9v3.6h-2.9zM588.7 337.6h2.9v3.6h-2.9zM438.6 340.8h2.9v3.6h-2.9zM448.6 340.8h2.9v3.6h-2.9zM483.6 340.8h2.9v3.6h-2.9zM543.6 340.8h7.9v3.6h-7.9zM566.1 340.8h2.9v3.6h-2.9zM581.2 340.8h5.4v3.6h-5.4zM421 344h2.9v3.6h-2.9zM443.6 344h2.9v3.6h-2.9zM453.6 344h2.9v3.6h-2.9zM458.6 344h2.9v3.6h-2.9zM468.6 344h2.9v3.6h-2.9zM518.6 344h7.9v3.6h-7.9zM528.6 344h2.9v3.6h-2.9zM536.1 344h2.9v3.6h-2.9zM546.1 344h2.9v3.6h-2.9zM583.7 344h5.4v3.6h-5.4zM441.1 347.2h2.9v3.6h-2.9zM453.6 347.2h2.9v3.6h-2.9zM468.6 347.2h2.9v3.6h-2.9zM526.1 347.2h2.9v3.6h-2.9zM538.6 347.2h2.9v3.6h-2.9zM558.6 347.2h2.9v3.6h-2.9zM586.2 347.2h2.9v3.6h-2.9zM491.1 350.4h2.9v3.6h-2.9zM498.6 350.4h2.9v3.6h-2.9zM533.6 350.4h5.4v3.6h-5.4zM558.6 350.4h2.9v3.6h-2.9zM563.6 350.4h2.9v3.6h-2.9zM568.6 350.4h2.9v3.6h-2.9zM583.7 350.4h2.9v3.6h-2.9zM431.1 353.6h2.9v3.6h-2.9zM448.6 353.6h2.9v3.6h-2.9zM461.1 353.6h5.4v3.6h-5.4zM473.6 353.6h2.9v3.6h-2.9zM491.1 353.6h5.4v3.6h-5.4zM501.1 353.6h5.4v3.6h-5.4zM518.6 353.6h5.4v3.6h-5.4zM551.1 353.6h2.9v3.6h-2.9zM566.1 353.6h2.9v3.6h-2.9zM431.1 356.8h2.9v3.6h-2.9zM508.6 356.8h2.9v3.6h-2.9zM518.6 356.8h5.4v3.6h-5.4zM528.6 356.8h2.9v3.6h-2.9zM536.1 356.8h2.9v3.6h-2.9zM543.6 356.8h2.9v3.6h-2.9zM551.1 356.8h2.9v3.6h-2.9zM456.1 360h2.9v3.6h-2.9zM461.1 360h2.9v3.6h-2.9zM471.1 360h2.9v3.6h-2.9zM488.6 360h2.9v3.6h-2.9zM506.1 360h2.9v3.6h-2.9zM433.6 363.2h7.9v3.6h-7.9zM443.6 363.2h2.9v3.6h-2.9zM463.6 363.2h2.9v3.6h-2.9zM471.1 363.2h5.4v3.6h-5.4zM486.1 363.2h2.9v3.6h-2.9zM496.1 363.2h2.9v3.6h-2.9zM506.1 363.2h2.9v3.6h-2.9zM511.1 363.2h2.9v3.6h-2.9zM516.1 363.2h2.9v3.6h-2.9zM523.6 363.2h2.9v3.6h-2.9zM531.1 363.2h2.9v3.6h-2.9zM536.1 363.2h2.9v3.6h-2.9zM553.6 363.2h2.9v3.6h-2.9zM571.1 363.2h5.4v3.6h-5.4zM578.7 363.2h2.9v3.6h-2.9zM433.6 366.4h5.4v3.6h-5.4zM466.1 366.4h2.9v3.6h-2.9zM511.1 366.4h2.9v3.6h-2.9zM516.1 366.4h2.9v3.6h-2.9zM646.2 366.4h2.9v3.6h-2.9zM458.6 369.6h5.4v3.6h-5.4zM466.1 369.6h2.9v3.6h-2.9zM496.1 369.6h2.9v3.6h-2.9zM501.1 369.6h2.9v3.6h-2.9zM646.2 369.6h2.9v3.6h-2.9zM431.1 372.8h2.9v3.6h-2.9zM456.1 372.8h2.9v3.6h-2.9zM473.6 372.8h5.4v3.6h-5.4zM486.1 372.8h2.9v3.6h-2.9zM511.1 372.8h2.9v3.6h-2.9zM521.1 372.8h2.9v3.6h-2.9zM533.6 372.8h2.9v3.6h-2.9zM538.6 372.8h2.9v3.6h-2.9zM546.1 372.8h2.9v3.6h-2.9zM558.6 372.8h5.4v3.6h-5.4zM431.1 376h2.9v3.6h-2.9zM528.6 376h2.9v3.6h-2.9zM538.6 376h2.9v3.6h-2.9zM546.1 376h2.9v3.6h-2.9zM553.6 376h2.9v3.6h-2.9zM448.6 379.2h2.9v3.6h-2.9zM466.1 379.2h2.9v3.6h-2.9zM473.6 379.2h2.9v3.6h-2.9zM493.6 379.2h2.9v3.6h-2.9zM501.1 379.2h2.9v3.6h-2.9zM521.1 379.2h5.4v3.6h-5.4zM543.6 379.2h10.4v3.6h-10.4zM556.1 379.2h2.9v3.6h-2.9zM471.1 382.4h5.4v3.6h-5.4zM478.6 382.4h2.9v3.6h-2.9zM486.1 382.4h2.9v3.6h-2.9zM511.1 382.4h2.9v3.6h-2.9zM518.6 382.4h2.9v3.6h-2.9zM526.1 382.4h2.9v3.6h-2.9zM543.6 382.4h2.9v3.6h-2.9zM568.6 382.4h2.9v3.6h-2.9zM573.6 382.4h2.9v3.6h-2.9zM436.1 385.6h7.9v3.6h-7.9zM468.6 385.6h2.9v3.6h-2.9zM518.6 385.6h2.9v3.6h-2.9zM528.6 385.6h2.9v3.6h-2.9zM448.6 388.8h7.9v3.6h-7.9zM458.6 388.8h2.9v3.6h-2.9zM466.1 388.8h2.9v3.6h-2.9zM531.1 388.8h2.9v3.6h-2.9zM553.6 388.8h2.9v3.6h-2.9zM568.6 388.8h2.9v3.6h-2.9zM573.6 388.8h2.9v3.6h-2.9zM453.6 392h2.9v3.6h-2.9zM476.1 392h2.9v3.6h-2.9zM483.6 392h2.9v3.6h-2.9zM446.1 395.2h2.9v3.6h-2.9zM451.1 395.2h2.9v3.6h-2.9zM463.6 395.2h5.4v3.6h-5.4zM471.1 395.2h2.9v3.6h-2.9zM496.1 395.2h2.9v3.6h-2.9zM506.1 395.2h2.9v3.6h-2.9zM516.1 395.2h2.9v3.6h-2.9zM526.1 395.2h2.9v3.6h-2.9zM531.1 395.2h2.9v3.6h-2.9zM448.6 398.4h2.9v3.6h-2.9zM506.1 398.4h2.9v3.6h-2.9zM511.1 398.4h5.4v3.6h-5.4zM528.6 398.4h5.4v3.6h-5.4zM538.6 398.4h2.9v3.6h-2.9zM448.6 401.6h2.9v3.6h-2.9zM453.6 401.6h2.9v3.6h-2.9zM471.1 401.6h2.9v3.6h-2.9zM478.6 401.6h2.9v3.6h-2.9zM486.1 401.6h2.9v3.6h-2.9zM496.1 401.6h2.9v3.6h-2.9zM501.1 401.6h2.9v3.6h-2.9zM536.1 401.6h2.9v3.6h-2.9zM461.1 404.8h2.9v3.6h-2.9zM471.1 404.8h2.9v3.6h-2.9zM476.1 404.8h5.4v3.6h-5.4zM516.1 404.8h2.9v3.6h-2.9zM541.1 404.8h2.9v3.6h-2.9zM553.6 404.8h2.9v3.6h-2.9zM453.6 408h5.4v3.6h-5.4zM521.1 408h2.9v3.6h-2.9zM541.1 408h2.9v3.6h-2.9zM466.1 411.2h2.9v3.6h-2.9zM511.1 411.2h2.9v3.6h-2.9zM498.6 414.4h2.9v3.6h-2.9zM506.1 414.4h2.9v3.6h-2.9zM516.1 414.4h2.9v3.6h-2.9zM521.1 414.4h5.4v3.6h-5.4zM531.1 414.4h2.9v3.6h-2.9zM541.1 414.4h2.9v3.6h-2.9zM463.6 417.6h2.9v3.6h-2.9zM488.6 417.6h5.4v3.6h-5.4zM498.6 417.6h2.9v3.6h-2.9zM503.6 417.6h2.9v3.6h-2.9zM511.1 417.6h2.9v3.6h-2.9zM521.1 417.6h5.4v3.6h-5.4zM541.1 417.6h5.4v3.6h-5.4zM458.6 420.8h2.9v3.6h-2.9zM463.6 420.8h2.9v3.6h-2.9zM516.1 420.8h5.4v3.6h-5.4zM523.6 420.8h2.9v3.6h-2.9zM458.6 424h2.9v3.6h-2.9zM471.1 424h2.9v3.6h-2.9zM476.1 424h2.9v3.6h-2.9zM491.1 424h2.9v3.6h-2.9zM548.6 424h2.9v3.6h-2.9zM453.6 427.2h2.9v3.6h-2.9zM468.6 427.2h2.9v3.6h-2.9zM473.6 427.2h2.9v3.6h-2.9zM481.1 427.2h2.9v3.6h-2.9zM486.1 427.2h7.9v3.6h-7.9zM531.1 427.2h2.9v3.6h-2.9zM491.1 430.4h2.9v3.6h-2.9zM511.1 430.4h2.9v3.6h-2.9zM541.1 430.4h5.4v3.6h-5.4zM456.1 433.6h5.4v3.6h-5.4zM476.1 433.6h2.9v3.6h-2.9zM496.1 433.6h2.9v3.6h-2.9zM516.1 433.6h2.9v3.6h-2.9zM533.6 433.6h2.9v3.6h-2.9zM463.6 436.8h2.9v3.6h-2.9zM536.1 436.8h2.9v3.6h-2.9zM468.6 440h2.9v3.6h-2.9zM473.6 440h5.4v3.6h-5.4zM483.6 440h2.9v3.6h-2.9zM508.6 440h2.9v3.6h-2.9zM516.1 440h2.9v3.6h-2.9z"/><path fill="#e50000" d="M411 292.8h2.9v3.6h-2.9zM416 292.8h2.9v3.6h-2.9zM433.6 296h12.9v3.6h-12.9zM461.1 296h2.9v3.6h-2.9zM486.1 296h2.9v3.6h-2.9zM461.1 299.2h2.9v3.6h-2.9zM403.5 308.8h5.4v3.6h-5.4zM493.6 308.8h2.9v3.6h-2.9zM538.6 308.8h2.9v3.6h-2.9zM468.6 315.2h2.9v3.6h-2.9zM508.6 318.4h2.9v3.6h-2.9zM548.6 318.4h2.9v3.6h-2.9zM426 321.6h7.9v3.6h-7.9zM508.6 321.6h2.9v3.6h-2.9zM518.6 321.6h2.9v3.6h-2.9zM506.1 324.8h2.9v3.6h-2.9zM513.6 324.8h2.9v3.6h-2.9zM483.6 328h2.9v3.6h-2.9zM506.1 328h2.9v3.6h-2.9zM441.1 334.4h2.9v3.6h-2.9zM461.1 334.4h2.9v3.6h-2.9zM538.6 334.4h2.9v3.6h-2.9zM531.1 340.8h5.4v3.6h-5.4zM578.7 340.8h2.9v3.6h-2.9zM431.1 344h2.9v3.6h-2.9zM493.6 344h2.9v3.6h-2.9zM516.1 344h2.9v3.6h-2.9zM573.6 344h2.9v3.6h-2.9zM443.6 347.2h2.9v3.6h-2.9zM456.1 347.2h5.4v3.6h-5.4zM483.6 347.2h2.9v3.6h-2.9zM551.1 347.2h2.9v3.6h-2.9zM468.6 350.4h2.9v3.6h-2.9zM473.6 350.4h2.9v3.6h-2.9zM506.1 350.4h2.9v3.6h-2.9zM511.1 350.4h2.9v3.6h-2.9zM516.1 350.4h2.9v3.6h-2.9zM511.1 353.6h2.9v3.6h-2.9zM528.6 353.6h2.9v3.6h-2.9zM568.6 353.6h2.9v3.6h-2.9zM448.6 356.8h2.9v3.6h-2.9zM458.6 356.8h2.9v3.6h-2.9zM473.6 356.8h2.9v3.6h-2.9zM498.6 356.8h7.9v3.6h-7.9zM553.6 356.8h2.9v3.6h-2.9zM493.6 360h2.9v3.6h-2.9zM498.6 360h2.9v3.6h-2.9zM513.6 360h2.9v3.6h-2.9zM526.1 360h2.9v3.6h-2.9zM576.1 360h2.9v3.6h-2.9zM488.6 363.2h2.9v3.6h-2.9zM493.6 363.2h2.9v3.6h-2.9zM498.6 363.2h2.9v3.6h-2.9zM538.6 363.2h5.4v3.6h-5.4zM568.6 363.2h2.9v3.6h-2.9zM458.6 366.4h2.9v3.6h-2.9zM463.6 366.4h2.9v3.6h-2.9zM483.6 366.4h2.9v3.6h-2.9zM501.1 366.4h5.4v3.6h-5.4zM601.2 369.6h2.9v3.6h-2.9zM483.6 372.8h2.9v3.6h-2.9zM488.6 372.8h7.9v3.6h-7.9zM498.6 372.8h2.9v3.6h-2.9zM553.6 372.8h2.9v3.6h-2.9zM481.1 376h2.9v3.6h-2.9zM488.6 376h2.9v3.6h-2.9zM496.1 376h2.9v3.6h-2.9zM501.1 376h2.9v3.6h-2.9zM506.1 376h2.9v3.6h-2.9zM513.6 379.2h2.9v3.6h-2.9zM533.6 379.2h2.9v3.6h-2.9zM466.1 382.4h2.9v3.6h-2.9zM488.6 382.4h2.9v3.6h-2.9zM496.1 382.4h2.9v3.6h-2.9zM528.6 382.4h2.9v3.6h-2.9zM538.6 382.4h2.9v3.6h-2.9zM481.1 385.6h2.9v3.6h-2.9zM488.6 385.6h2.9v3.6h-2.9zM496.1 385.6h2.9v3.6h-2.9zM513.6 385.6h2.9v3.6h-2.9zM478.6 388.8h7.9v3.6h-7.9zM516.1 388.8h2.9v3.6h-2.9zM521.1 388.8h5.4v3.6h-5.4zM536.1 388.8h2.9v3.6h-2.9zM463.6 392h2.9v3.6h-2.9zM471.1 392h5.4v3.6h-5.4zM488.6 392h5.4v3.6h-5.4zM498.6 392h2.9v3.6h-2.9zM508.6 392h2.9v3.6h-2.9zM521.1 392h2.9v3.6h-2.9zM536.1 392h2.9v3.6h-2.9zM458.6 395.2h2.9v3.6h-2.9zM468.6 395.2h2.9v3.6h-2.9zM493.6 395.2h2.9v3.6h-2.9zM511.1 395.2h2.9v3.6h-2.9zM518.6 395.2h2.9v3.6h-2.9zM523.6 395.2h2.9v3.6h-2.9zM528.6 395.2h2.9v3.6h-2.9zM458.6 398.4h2.9v3.6h-2.9zM498.6 398.4h2.9v3.6h-2.9zM543.6 398.4h2.9v3.6h-2.9zM468.6 401.6h2.9v3.6h-2.9zM491.1 401.6h5.4v3.6h-5.4zM406 404.8h2.9v3.6h-2.9zM451.1 404.8h2.9v3.6h-2.9zM468.6 404.8h2.9v3.6h-2.9zM493.6 404.8h2.9v3.6h-2.9zM498.6 404.8h2.9v3.6h-2.9zM503.6 404.8h2.9v3.6h-2.9zM458.6 408h2.9v3.6h-2.9zM488.6 408h2.9v3.6h-2.9zM493.6 408h2.9v3.6h-2.9zM533.6 408h2.9v3.6h-2.9zM468.6 411.2h2.9v3.6h-2.9zM478.6 411.2h7.9v3.6h-7.9zM498.6 411.2h2.9v3.6h-2.9zM458.6 414.4h2.9v3.6h-2.9zM481.1 414.4h2.9v3.6h-2.9zM486.1 414.4h5.4v3.6h-5.4zM506.1 420.8h2.9v3.6h-2.9zM498.6 424h5.4v3.6h-5.4zM531.1 424h2.9v3.6h-2.9zM458.6 427.2h2.9v3.6h-2.9zM463.6 427.2h2.9v3.6h-2.9zM493.6 427.2h2.9v3.6h-2.9zM513.6 427.2h2.9v3.6h-2.9zM473.6 430.4h2.9v3.6h-2.9zM493.6 430.4h2.9v3.6h-2.9zM521.1 430.4h7.9v3.6h-7.9zM498.6 433.6h2.9v3.6h-2.9zM508.6 433.6h7.9v3.6h-7.9zM523.6 433.6h2.9v3.6h-2.9zM528.6 433.6h2.9v3.6h-2.9zM483.6 436.8h2.9v3.6h-2.9zM506.1 436.8h2.9v3.6h-2.9zM503.6 440h2.9v3.6h-2.9zM518.6 440h2.9v3.6h-2.9z"/><path fill="#c30000" d="M413.5 292.8h2.9v3.6h-2.9zM493.6 321.6h2.9v3.6h-2.9zM498.6 321.6h2.9v3.6h-2.9zM508.6 324.8h2.9v3.6h-2.9zM508.6 328h2.9v3.6h-2.9zM538.6 331.2h5.4v3.6h-5.4zM483.6 337.6h2.9v3.6h-2.9zM476.1 340.8h2.9v3.6h-2.9zM536.1 340.8h2.9v3.6h-2.9zM556.1 340.8h5.4v3.6h-5.4zM573.6 340.8h5.4v3.6h-5.4zM473.6 344h2.9v3.6h-2.9zM478.6 344h2.9v3.6h-2.9zM463.6 347.2h2.9v3.6h-2.9zM476.1 347.2h2.9v3.6h-2.9zM471.1 350.4h2.9v3.6h-2.9zM508.6 350.4h2.9v3.6h-2.9zM526.1 353.6h2.9v3.6h-2.9zM456.1 356.8h2.9v3.6h-2.9zM466.1 356.8h2.9v3.6h-2.9zM478.6 356.8h7.9v3.6h-7.9zM556.1 356.8h2.9v3.6h-2.9zM553.6 360h5.4v3.6h-5.4zM483.6 363.2h2.9v3.6h-2.9zM491.1 363.2h2.9v3.6h-2.9zM441.1 366.4h5.4v3.6h-5.4zM483.6 369.6h2.9v3.6h-2.9zM493.6 369.6h2.9v3.6h-2.9zM553.6 369.6h2.9v3.6h-2.9zM603.7 369.6h2.9v3.6h-2.9zM503.6 372.8h2.9v3.6h-2.9zM476.1 376h2.9v3.6h-2.9zM483.6 376h2.9v3.6h-2.9zM508.6 376h2.9v3.6h-2.9zM468.6 382.4h2.9v3.6h-2.9zM491.1 382.4h2.9v3.6h-2.9zM498.6 382.4h2.9v3.6h-2.9zM503.6 382.4h2.9v3.6h-2.9zM533.6 382.4h2.9v3.6h-2.9zM483.6 385.6h2.9v3.6h-2.9zM491.1 385.6h2.9v3.6h-2.9zM468.6 388.8h2.9v3.6h-2.9zM473.6 388.8h2.9v3.6h-2.9zM513.6 388.8h2.9v3.6h-2.9zM533.6 388.8h2.9v3.6h-2.9zM493.6 392h2.9v3.6h-2.9zM523.6 392h2.9v3.6h-2.9zM528.6 392h5.4v3.6h-5.4zM471.1 398.4h5.4v3.6h-5.4zM491.1 398.4h5.4v3.6h-5.4zM456.1 404.8h5.4v3.6h-5.4zM491.1 404.8h2.9v3.6h-2.9zM501.1 408h2.9v3.6h-2.9zM508.6 408h2.9v3.6h-2.9zM476.1 411.2h2.9v3.6h-2.9zM488.6 411.2h2.9v3.6h-2.9zM471.1 414.4h2.9v3.6h-2.9zM511.1 420.8h5.4v3.6h-5.4zM473.6 424h2.9v3.6h-2.9zM496.1 427.2h2.9v3.6h-2.9zM503.6 427.2h5.4v3.6h-5.4zM523.6 427.2h2.9v3.6h-2.9zM513.6 430.4h2.9v3.6h-2.9zM518.6 430.4h2.9v3.6h-2.9zM528.6 430.4h2.9v3.6h-2.9zM486.1 436.8h2.9v3.6h-2.9zM496.1 436.8h5.4v3.6h-5.4zM498.6 440h2.9v3.6h-2.9z"/><path fill="#ff0800" d="M406 296h2.9v3.6h-2.9zM421 296h2.9v3.6h-2.9zM463.6 296h2.9v3.6h-2.9zM483.6 296h2.9v3.6h-2.9zM458.6 299.2h2.9v3.6h-2.9zM463.6 299.2h2.9v3.6h-2.9zM488.6 308.8h5.4v3.6h-5.4zM541.1 308.8h2.9v3.6h-2.9zM523.6 312h2.9v3.6h-2.9zM493.6 318.4h2.9v3.6h-2.9zM511.1 318.4h2.9v3.6h-2.9zM553.6 318.4h2.9v3.6h-2.9zM491.1 321.6h2.9v3.6h-2.9zM496.1 321.6h2.9v3.6h-2.9zM501.1 321.6h5.4v3.6h-5.4zM511.1 321.6h2.9v3.6h-2.9zM516.1 321.6h2.9v3.6h-2.9zM533.6 321.6h2.9v3.6h-2.9zM428.5 324.8h2.9v3.6h-2.9zM468.6 324.8h2.9v3.6h-2.9zM476.1 324.8h5.4v3.6h-5.4zM548.6 324.8h2.9v3.6h-2.9zM468.6 328h2.9v3.6h-2.9zM536.1 331.2h2.9v3.6h-2.9zM543.6 331.2h2.9v3.6h-2.9zM438.6 334.4h2.9v3.6h-2.9zM468.6 334.4h2.9v3.6h-2.9zM541.1 334.4h2.9v3.6h-2.9zM476.1 337.6h2.9v3.6h-2.9zM573.6 337.6h2.9v3.6h-2.9zM443.6 340.8h5.4v3.6h-5.4zM468.6 340.8h5.4v3.6h-5.4zM523.6 340.8h2.9v3.6h-2.9zM541.1 340.8h2.9v3.6h-2.9zM551.1 340.8h5.4v3.6h-5.4zM561.1 340.8h2.9v3.6h-2.9zM571.1 340.8h2.9v3.6h-2.9zM441.1 344h2.9v3.6h-2.9zM461.1 344h2.9v3.6h-2.9zM481.1 344h5.4v3.6h-5.4zM526.1 344h2.9v3.6h-2.9zM538.6 344h2.9v3.6h-2.9zM576.1 344h2.9v3.6h-2.9zM548.6 347.2h2.9v3.6h-2.9zM553.6 347.2h5.4v3.6h-5.4zM483.6 350.4h2.9v3.6h-2.9zM503.6 350.4h2.9v3.6h-2.9zM478.6 353.6h2.9v3.6h-2.9zM486.1 353.6h5.4v3.6h-5.4zM508.6 353.6h2.9v3.6h-2.9zM516.1 353.6h2.9v3.6h-2.9zM571.1 353.6h7.9v3.6h-7.9zM453.6 356.8h2.9v3.6h-2.9zM468.6 356.8h5.4v3.6h-5.4zM491.1 356.8h5.4v3.6h-5.4zM526.1 356.8h2.9v3.6h-2.9zM538.6 356.8h2.9v3.6h-2.9zM558.6 356.8h5.4v3.6h-5.4zM483.6 360h2.9v3.6h-2.9zM501.1 360h5.4v3.6h-5.4zM518.6 360h2.9v3.6h-2.9zM523.6 360h2.9v3.6h-2.9zM563.6 360h5.4v3.6h-5.4zM571.1 360h5.4v3.6h-5.4zM578.7 360h2.9v3.6h-2.9zM501.1 363.2h2.9v3.6h-2.9zM528.6 363.2h2.9v3.6h-2.9zM543.6 363.2h2.9v3.6h-2.9zM561.1 363.2h2.9v3.6h-2.9zM566.1 363.2h2.9v3.6h-2.9zM438.6 366.4h2.9v3.6h-2.9zM448.6 366.4h2.9v3.6h-2.9zM486.1 369.6h2.9v3.6h-2.9zM498.6 369.6h2.9v3.6h-2.9zM503.6 369.6h2.9v3.6h-2.9zM528.6 369.6h2.9v3.6h-2.9zM551.1 369.6h2.9v3.6h-2.9zM556.1 369.6h2.9v3.6h-2.9zM433.6 372.8h2.9v3.6h-2.9zM513.6 372.8h2.9v3.6h-2.9zM518.6 372.8h2.9v3.6h-2.9zM556.1 372.8h2.9v3.6h-2.9zM478.6 376h2.9v3.6h-2.9zM518.6 376h2.9v3.6h-2.9zM541.1 376h2.9v3.6h-2.9zM468.6 379.2h2.9v3.6h-2.9zM498.6 379.2h2.9v3.6h-2.9zM503.6 379.2h2.9v3.6h-2.9zM518.6 379.2h2.9v3.6h-2.9zM528.6 379.2h2.9v3.6h-2.9zM538.6 379.2h2.9v3.6h-2.9zM483.6 382.4h2.9v3.6h-2.9zM523.6 382.4h2.9v3.6h-2.9zM531.1 382.4h2.9v3.6h-2.9zM478.6 385.6h2.9v3.6h-2.9zM498.6 385.6h2.9v3.6h-2.9zM511.1 388.8h2.9v3.6h-2.9zM561.1 388.8h2.9v3.6h-2.9zM496.1 392h2.9v3.6h-2.9zM516.1 392h2.9v3.6h-2.9zM538.6 392h2.9v3.6h-2.9zM488.6 395.2h5.4v3.6h-5.4zM513.6 395.2h2.9v3.6h-2.9zM521.1 395.2h2.9v3.6h-2.9zM461.1 398.4h2.9v3.6h-2.9zM483.6 398.4h5.4v3.6h-5.4zM496.1 398.4h2.9v3.6h-2.9zM503.6 398.4h2.9v3.6h-2.9zM546.1 398.4h2.9v3.6h-2.9zM458.6 401.6h2.9v3.6h-2.9zM473.6 401.6h5.4v3.6h-5.4zM483.6 401.6h2.9v3.6h-2.9zM533.6 401.6h2.9v3.6h-2.9zM541.1 401.6h2.9v3.6h-2.9zM483.6 404.8h5.4v3.6h-5.4zM501.1 404.8h2.9v3.6h-2.9zM506.1 404.8h2.9v3.6h-2.9zM511.1 404.8h5.4v3.6h-5.4zM528.6 404.8h2.9v3.6h-2.9zM491.1 408h2.9v3.6h-2.9zM496.1 408h2.9v3.6h-2.9zM516.1 408h5.4v3.6h-5.4zM486.1 411.2h2.9v3.6h-2.9zM493.6 411.2h2.9v3.6h-2.9zM501.1 411.2h5.4v3.6h-5.4zM518.6 411.2h2.9v3.6h-2.9zM533.6 411.2h2.9v3.6h-2.9zM466.1 414.4h2.9v3.6h-2.9zM478.6 414.4h2.9v3.6h-2.9zM483.6 414.4h2.9v3.6h-2.9zM501.1 414.4h2.9v3.6h-2.9zM513.6 417.6h7.9v3.6h-7.9zM481.1 420.8h2.9v3.6h-2.9zM486.1 420.8h5.4v3.6h-5.4zM463.6 424h2.9v3.6h-2.9zM493.6 424h2.9v3.6h-2.9zM506.1 424h2.9v3.6h-2.9zM528.6 424h2.9v3.6h-2.9zM456.1 427.2h2.9v3.6h-2.9zM516.1 427.2h2.9v3.6h-2.9zM526.1 427.2h5.4v3.6h-5.4zM476.1 430.4h2.9v3.6h-2.9zM486.1 430.4h2.9v3.6h-2.9zM516.1 430.4h2.9v3.6h-2.9zM533.6 430.4h5.4v3.6h-5.4zM481.1 433.6h2.9v3.6h-2.9zM521.1 433.6h2.9v3.6h-2.9zM526.1 433.6h2.9v3.6h-2.9zM531.1 433.6h2.9v3.6h-2.9zM488.6 436.8h2.9v3.6h-2.9zM501.1 436.8h2.9v3.6h-2.9zM528.6 436.8h5.4v3.6h-5.4zM428.5 440h2.9v3.6h-2.9zM458.6 440h2.9v3.6h-2.9zM463.6 440h2.9v3.6h-2.9zM521.1 440h2.9v3.6h-2.9z"/><path fill="#a10000" d="M408.5 296h2.9v3.6h-2.9zM418.5 296h2.9v3.6h-2.9zM513.6 318.4h2.9v3.6h-2.9zM513.6 328h2.9v3.6h-2.9zM513.6 334.4h2.9v3.6h-2.9zM528.6 340.8h2.9v3.6h-2.9zM538.6 340.8h2.9v3.6h-2.9zM433.6 344h7.9v3.6h-7.9zM513.6 344h2.9v3.6h-2.9zM461.1 347.2h2.9v3.6h-2.9zM476.1 350.4h2.9v3.6h-2.9zM476.1 353.6h2.9v3.6h-2.9zM461.1 356.8h2.9v3.6h-2.9zM568.6 360h2.9v3.6h-2.9zM513.6 363.2h2.9v3.6h-2.9zM563.6 363.2h2.9v3.6h-2.9zM461.1 366.4h2.9v3.6h-2.9zM496.1 366.4h2.9v3.6h-2.9zM513.6 366.4h2.9v3.6h-2.9zM488.6 369.6h5.4v3.6h-5.4zM458.6 376h5.4v3.6h-5.4zM473.6 376h2.9v3.6h-2.9zM491.1 376h5.4v3.6h-5.4zM503.6 376h2.9v3.6h-2.9zM493.6 382.4h2.9v3.6h-2.9zM493.6 385.6h2.9v3.6h-2.9zM476.1 388.8h2.9v3.6h-2.9zM538.6 388.8h7.9v3.6h-7.9zM503.6 392h5.4v3.6h-5.4zM511.1 392h5.4v3.6h-5.4zM518.6 392h2.9v3.6h-2.9zM463.6 398.4h2.9v3.6h-2.9zM488.6 401.6h2.9v3.6h-2.9zM498.6 408h2.9v3.6h-2.9zM513.6 408h2.9v3.6h-2.9zM473.6 411.2h2.9v3.6h-2.9zM463.6 414.4h2.9v3.6h-2.9zM476.1 414.4h2.9v3.6h-2.9zM518.6 427.2h5.4v3.6h-5.4zM531.1 430.4h2.9v3.6h-2.9zM503.6 433.6h2.9v3.6h-2.9zM493.6 436.8h2.9v3.6h-2.9zM426 440h2.9v3.6h-2.9zM481.1 440h2.9v3.6h-2.9z"/><path fill="#7f0000" d="M411 296h7.9v3.6h-7.9zM513.6 321.6h2.9v3.6h-2.9zM526.1 340.8h2.9v3.6h-2.9zM476.1 344h2.9v3.6h-2.9zM513.6 350.4h2.9v3.6h-2.9zM481.1 353.6h5.4v3.6h-5.4zM513.6 353.6h2.9v3.6h-2.9zM463.6 356.8h2.9v3.6h-2.9zM476.1 356.8h2.9v3.6h-2.9zM513.6 356.8h2.9v3.6h-2.9zM488.6 366.4h7.9v3.6h-7.9zM498.6 366.4h2.9v3.6h-2.9zM463.6 376h10.4v3.6h-10.4zM498.6 376h2.9v3.6h-2.9zM511.1 376h5.4v3.6h-5.4zM518.6 388.8h2.9v3.6h-2.9zM466.1 392h5.4v3.6h-5.4zM533.6 392h2.9v3.6h-2.9zM466.1 398.4h5.4v3.6h-5.4zM488.6 398.4h2.9v3.6h-2.9zM453.6 404.8h2.9v3.6h-2.9zM488.6 404.8h2.9v3.6h-2.9zM503.6 408h5.4v3.6h-5.4zM511.1 408h2.9v3.6h-2.9zM468.6 414.4h2.9v3.6h-2.9zM473.6 414.4h2.9v3.6h-2.9zM498.6 427.2h5.4v3.6h-5.4zM501.1 433.6h2.9v3.6h-2.9zM506.1 433.6h2.9v3.6h-2.9zM481.1 436.8h2.9v3.6h-2.9zM501.1 440h2.9v3.6h-2.9zM506.1 440h2.9v3.6h-2.9z"/><path fill="#0000e5" d="M616.2 436.8h2.9v3.6h-2.9z"/></g></g><path d="M383.2,353.8 L448.5,442.5 M631.8,338.5 L576.2,443.5" stroke="#000" stroke-width="2.2" stroke-dasharray="6.5,4" fill="none"/><defs><linearGradient id="jetg" x1="0" x2="1" y1="0" y2="0"><stop offset="0.000" stop-color="#00007f"/><stop offset="0.125" stop-color="#0000ff"/><stop offset="0.250" stop-color="#007fff"/><stop offset="0.375" stop-color="#00ffff"/><stop offset="0.500" stop-color="#7fff7f"/><stop offset="0.625" stop-color="#ffff00"/><stop offset="0.750" stop-color="#ff7f00"/><stop offset="0.875" stop-color="#ff0000"/><stop offset="1.000" stop-color="#7f0000"/></linearGradient></defs><rect x="500" y="267.4" width="111" height="8" fill="url(#jetg)"/><text x="498.7" y="266.3" font-size="14" fill="#222" text-anchor="middle">-60</text><text x="530.1" y="266.3" font-size="14" fill="#222" text-anchor="middle">-30</text><text x="555.7" y="266.3" font-size="14" fill="#222" text-anchor="middle">0</text><text x="581.2" y="266.3" font-size="14" fill="#222" text-anchor="middle">30</text><text x="602.6" y="266.3" font-size="14" fill="#222">60µm.h<tspan font-size="9" dy="-5.5">-1</tspan></text><path d="M351.5,292 V278.1 H364" stroke="#111" stroke-width="1.6" fill="none"/><path d="M369.5,278.1 l-6.5,-3 l0,6Z M351.5,295.5 l-3,-6.5 l6,0Z" fill="#111"/><text x="370.6" y="279.3" font-size="14" fill="#222">edge orientation</text><text transform="translate(353.4,309.6) rotate(-90)" font-size="14" fill="#222" text-anchor="middle">time</text><text x="344.2" y="453.6" font-size="14" fill="#222">-90°</text><text x="510.4" y="453.6" font-size="14" fill="#222" text-anchor="middle">0°</text><text x="643.4" y="453.6" font-size="14" fill="#222">90°</text><rect x="5" y="490.3" width="237.4" height="194.9" fill="#000"/><rect x="243.9" y="491.5" width="239.2" height="193.2" fill="#000"/><defs><clipPath id="tis"><path d="M5.4,515.7 6.7,516.4 7.2,517.5 7.5,518.7 8.3,519.5 9.3,520.1 10.5,520.6 11.1,521.6 11,523.6 10.9,525.5 12.4,525.6 14.2,525.3 15.3,525.8 16.5,526.2 17.6,526.7 18.2,527.9 19,529 19.9,529.8 20.9,530.5 22.1,530.8 23.1,531.6 23.9,532.8 25.2,532.8 26.6,532.5 27.7,533.1 28.4,534.5 29.4,535.4 30.9,534.9 32.1,535.1 33.2,535.7 34.5,535.5 35.6,536 36.5,537.2 37.7,537.5 38.9,537.6 40.3,536.9 41.6,536.3 42.7,537.2 43.9,537.1 45.1,536.8 46.2,538 47.3,538.7 48.6,538 49.9,537.7 51,538.3 52.1,539.3 53.2,540.1 54.4,540.1 55.6,540 56.8,540.2 58.1,539.6 59.4,539.4 60.5,540.3 61.6,540.8 62.9,540.3 64.2,540.2 65.5,540.2 66.8,540.2 67.6,541.7 68.6,542.3 69.9,541.7 71,541.8 72.1,542.1 73.2,541.7 73.9,540.4 75.2,540.3 76.9,541.2 77.9,540.5 78.5,538.7 79.8,538.6 81.2,539.1 82.4,539.2 83.6,539.4 84.8,538.8 86.1,538.5 87.2,538.9 88.4,539.7 89.6,539.6 90.9,538.6 92.1,538.8 93.1,540.4 94.3,541.1 95.5,541 96.7,541.1 98,540.5 99.3,539.6 100.5,539.3 101.7,540 102.8,540.6 104.1,539.8 105.3,539.6 106.5,540.4 107.6,541.1 108.8,541 110.2,540 111.4,539.8 112.4,541.3 113.4,542.7 114.6,542.8 115.9,542.4 117.2,542.3 118.3,542.7 119.3,543.4 120.4,543.9 121.6,544.2 122.6,544.8 123.5,545.7 124.6,546.4 126,547.2 127.9,547.8 129.3,547.1 129.6,545.2 129.6,543 130.5,542.3 131.9,542.2 132.7,541.2 133.4,540.2 135.2,540.6 136.3,540.2 136.9,538.4 138.1,537.7 139.5,538.1 140.7,539.1 141.6,540.5 142.6,541.2 143.9,540.9 145.2,540.9 146.3,541.7 147.3,542.4 148.5,542.8 149.8,542.4 151.2,541.6 152.5,541.5 153.5,542.4 154.4,543.7 155.6,543.9 157,543.4 158.2,543.6 159.3,544.1 160.6,543.9 161.8,544.2 162.6,545.9 163.4,547.1 164.9,546.3 166.5,545.4 167.8,545.2 168.8,545.8 169.7,547.3 170.9,547.9 172.2,547.5 173.4,547.1 174.5,546.5 175.2,545.4 175.8,544.1 177,543.7 178.3,543.5 179.3,542.7 180.4,542 181.5,541.6 182.8,541.7 184.1,541.8 185.2,541 186.3,540.7 187.7,541 188.9,541.3 190,540.5 190.9,539 192.1,539 193.3,538.9 194.5,538.7 195.9,539 197.2,539 198.2,538.4 199.3,537.8 200.5,537.5 201.4,536.4 202.5,535.9 203.7,535.8 204.9,535.8 206.2,536.5 207.5,536.8 208.6,536.3 209.6,535 210.7,534.1 212,534.3 213.2,534.2 214.3,533.6 215.5,533.4 216.8,533.7 218,533.6 219.1,532.9 220.2,532.3 221.1,531.4 222,530.3 223.1,529.8 224.1,529.5 225.6,529.8 227.1,529.4 227.7,528.1 228.4,527.1 229.2,526.4 229.3,525.4 230,524.4 231,523.4 232.2,522.9 233.4,523 234.5,522.7 235.7,523 235.4,521.9 234.1,521.5 232.8,521.8 231.5,522 230.4,521.5 229.2,521 228.8,519.7 229.8,518.8 230.7,518 231.5,517 232.4,516.2 233.2,515.2 234,514.2 235.2,513.8 236.6,513.8 238.3,514.2 238.9,512.9 L238.9,512.2 L5.4,512.2Z"/><path d="M45.7,570.6 47,571 47.8,571.9 48.8,572.5 49.5,573.6 50.7,574 52.1,574.3 52.6,575.6 53.1,576.8 54.1,577.5 55,578.3 55.3,579.7 56.1,580.6 57.6,580.8 58.6,581.6 59.2,582.7 59.6,583.9 59.9,585.4 61.2,585.8 62.8,585.8 63.7,586.7 63.7,588.4 64.1,589.8 65.4,590.1 66.7,590.5 67.5,591.4 68.2,592.5 69,593.5 70.4,593.7 71.6,594 72.6,594.7 73.9,594.9 75,595.3 75.8,596.4 77,596.8 78.4,596.6 79.7,596.8 80.6,597.6 81.1,599.1 81.8,600.3 82.7,601.1 83.6,601.8 84.7,602.3 85.8,602.8 86.6,603.7 87.5,604.4 88.5,605.2 88.9,606.3 89.3,607.4 90.5,608.1 91.5,608.9 91.5,610.4 92.1,611.6 93.6,611.9 94.9,612.2 95.7,613.2 96.9,613.6 98.2,613.1 99.3,613.9 100.5,614.5 101.8,614.2 103,614.6 104.2,614.3 105.3,613.5 106.5,613 107.6,612.3 108.9,612.9 110.3,613.7 111.5,613.3 112.7,613.1 113.9,612.7 114.9,611.9 115.5,610.5 115.8,608.9 117.1,608.7 118.3,608.3 118.4,607.1 118.8,606.2 119.8,605.3 119.5,604.1 119,602.9 119.9,601.8 120.8,600.7 121.2,599.7 121.9,600.1 122.2,601 123.8,600.9 125.5,601 126.4,601.9 126.4,603.4 126.6,604.9 127.5,605.8 128.6,606.4 129.7,606.9 130.8,607.5 132,607.7 133.2,607.7 134.5,607.3 135.6,607.4 136.7,607.9 137.8,608 138.9,608.3 140.2,609 141.6,609.8 143.1,610.4 144.1,609.3 144.9,607.8 146.1,607.6 147.1,607 148.2,606.3 149.3,606 149.9,604.4 150.6,603.1 152.2,603.6 153.7,603.9 154.8,603.5 155.5,602.2 156.5,601.5 157.9,601.7 158.9,600.9 160.2,601 161.5,601.4 162.6,600.8 163.7,600.2 164.9,600.3 166.1,600.2 167.3,599.6 168.5,599.7 170,600.2 171.2,600.1 172,598.5 172.9,597.5 174.2,597.5 175.3,597.1 176.5,596.8 177.7,596.9 178.9,596.7 180,595.9 181.1,594.9 182.2,594 183.5,594.8 184.9,595.9 185.9,595 186.6,593.8 187.5,593.4 188.9,593.2 189.6,592.2 190,591 191.3,590.4 192.4,589.9 193.1,589 194.1,588.5 195.4,588.5 196.4,588 197.4,586.8 198.4,586.2 199.7,586.3 201,586.3 202.2,586 203.4,585.8 204.7,585.6 205.9,585.3 206.8,584.4 207.3,582.7 208,581.5 209.5,581.8 210.9,581.9 212,581.3 212.9,580.5 213.8,579.5 214.7,578.6 215.9,578.4 217.4,578.6 218.3,577.9 219,576.4 220,575.6 221.4,576 222.9,576.5 223.9,575.6 224.9,574.9 226.3,575.4 227.6,575.5 228.7,574.8 229.8,574.3 230.9,573.9 232,573.4 233,572.6 234.1,572.1 235.4,572.3 236.7,572.4 237.7,571.6 238.7,570.6 L238.7,570.6 L45.7,570.6Z"/><path d="M30.4,637.5 30.9,638.8 32,639.3 32.8,640.2 33.4,641.3 34.5,641.9 35.7,642.5 36.2,643.6 36.2,645 36.7,646.1 37.8,646.9 38.7,647.7 39.4,648.8 40.4,649.5 41.9,649.3 43,649.5 44,650.2 44.9,650 45.9,649.8 47.2,649.6 48.2,648.9 49.2,648.2 50.5,648 51.8,648.2 52.9,648.8 54.2,649.3 55,650.2 55.4,651.6 56.3,652.5 57.2,653.3 57.6,654.5 57.8,655.8 58.5,656.8 59.3,657.8 60.1,658.6 61.4,658.9 62.6,659.3 63.4,660.2 64.2,661.5 65.3,662.3 66.6,662.3 67.9,661.9 69.1,662 70.2,662.4 71.4,662.8 72.2,663.7 73.1,664.3 74.4,664.7 75.3,665.5 75.9,666.7 76.3,668.4 77.6,669.3 79.3,668.4 80.3,667 81,666.1 82.3,666 83.4,665.6 84.4,664.8 85.4,664.2 86.3,663.3 87.4,662.8 88.5,662.3 89.5,661.7 91,661.8 92,661.4 93.1,660 94.6,660.2 95.4,661.6 96.4,662.3 97.6,662.7 98.4,663.6 99.1,664.7 99.8,665.7 100.4,666.7 101,667.8 101.4,669 102.2,669.9 103.1,670.6 103.5,671.6 103.9,672.6 105,673.5 106,674.4 106.2,675.7 106.5,677 107.5,678 108.8,678.4 110.1,678.5 111.3,679.1 112.5,679.4 113.7,679 115,678.6 116.2,678.5 117.3,678.3 118.6,678.2 119.8,678.2 121,678.6 122.2,678.8 123.3,678.2 124.6,678.1 125.6,678.7 126.7,679.1 128.1,679.2 129.1,679.5 130.1,680.3 131.3,680.4 132.4,679.7 133.2,678.7 134.2,678.1 135.7,678.2 136.9,678.1 137.7,677.5 138.8,677.3 140,677.3 141.3,677.3 142.4,677.7 143.5,678.4 144.6,678.7 145.7,678.1 146.7,677.5 148.3,677.8 149.5,677.5 150.2,676.3 151.2,675.6 152.3,675.5 153.4,675 154.6,674.7 155.8,675.1 157,675.2 158.3,675.3 159.5,674.9 160.6,674.2 161.8,674.1 163,673.8 163.8,672.8 164.7,671.9 165.6,671.1 166.8,670.7 168.3,671.1 169.5,671 170.6,670.5 171.7,670.1 172.8,669.3 174.1,669.4 175.5,670 176.5,669 177,666.7 177.8,665.6 179.4,666.5 181,667.2 182,666.5 183.1,666 184.2,665.5 185.1,664.8 186.4,664.5 187.7,664.4 188.7,663.7 189.6,662.8 190.5,662 191.5,661.4 192.6,660.8 194.2,660.9 195.3,660.3 195.1,658.2 195.3,656.6 196.7,656.3 198.3,656.3 199.6,655.9 200.2,654.7 200.2,653.2 200.8,652.2 201.7,651.3 202.1,650.2 202.8,649.1 203.5,648.1 204.1,647.1 204.9,646.2 205.5,645.1 205.6,643.8 205.7,642.5 206.6,641.6 207.7,641.3 208.7,641.7 209.6,642.3 211,642.4 212.2,642.2 213,642.1 214.1,641.9 215.1,641.2 215.8,640.2 216.8,639.5 217.6,638.6 218.2,637.5 L218.2,635.6 L30.4,635.6Z"/><path d="M244.2,516.9 245.3,516.5 246.5,516.1 247.6,515.6 248.9,515.8 250.1,515.8 251.2,515.3 252.4,515.2 253.6,515.4 254.7,515 255.9,514.5 257.1,514.5 258.3,514.8 259.5,514.7 260.8,514.7 261.9,515.3 263,515.7 264.2,516 265.3,516.6 266.3,517.1 267.5,517.6 268.4,518.2 269.4,519.1 270.5,519.5 271.8,519.6 272.9,519.8 274,519.9 273.4,520.4 272.3,520.6 271.1,521 270,521.5 268.9,522 267.9,522.6 266.8,523.3 265.7,523.6 264.4,523.7 263.3,524.1 262.3,524.8 261.2,525.4 260.2,526 259.5,526.7 259.7,526.9 260.7,527.4 261.8,527.6 263,527.8 264.2,528.2 265.4,528.4 266.5,528.7 267.8,529.1 268.9,529 269.8,529 270.6,529.7 271.4,530.7 272.1,531.5 272.9,532 274,532.3 275,532.9 276.1,533.8 277.3,534.2 278.5,534.1 279.7,533.7 280.9,533.7 282.1,533.7 283.4,533.8 284.5,533.9 285.7,534.2 286.9,534.7 288.1,534.7 289.3,534.7 290.5,534.4 291.7,534.4 292.8,535 293.9,535.4 295.1,535.4 296.4,535.7 297.3,536.8 296.7,538 295.9,539 296.1,540.1 297.3,540.3 298.5,540.4 299.6,541 300.8,541.4 302,541.4 303.2,541.2 304.4,541.2 305.6,541.6 306.8,541.6 308,541.4 309.2,541.3 310.4,541 311.6,541.1 312.8,541.4 314,541.7 315,542 315.2,541.9 314.2,542.7 313,542.8 311.8,542.8 310.6,543.1 309.5,543.8 308.3,544 307,543.7 305.8,543.8 304.7,544.3 303.5,544.5 302.3,544.6 301.2,545.2 299.9,545 298.7,544.5 297.5,544.8 296.3,545.3 295.1,545.4 293.9,545.4 292.7,545.7 291.5,545.7 290.3,545.8 289.2,546 288,546.1 286.8,546.4 285.6,546.6 284.4,546.4 283.2,546.4 281.9,546.3 280.7,546.9 282,547.5 283.2,547.6 284.3,547.9 285.5,548.3 286.6,548.6 287.8,548.7 289,548.8 290.2,548.7 291.4,548.8 292.6,548.9 293.8,548.8 295,549.1 296.2,549.2 297.4,548.9 298.6,548.6 299.8,548.4 301.1,548.4 302.5,548.5 302.6,549.8 301.4,550.3 300.1,550.4 298.9,550.5 297.8,550.9 296.7,551.3 295.5,551.6 294.3,551.9 293.1,552.3 291.9,552.4 290.7,551.9 289.6,551.2 288.4,551.1 287.2,551 286,551.5 285.7,552.8 285.6,554 285.1,555.2 284.4,556.2 283.3,556.9 282.3,557.7 282,558.9 282.1,560.3 280.9,560.9 279.6,561.1 278.4,561.1 277.2,560.8 276,560.4 274.8,560.3 273.6,560.5 272.4,561 271.3,561.2 270,560.8 268.8,561.2 268,562.2 267.3,562.9 268.3,563.4 269.5,563.7 270.7,563.7 271.9,563.6 273.1,563.7 274.3,563.8 275.5,563.6 276.7,563 277.9,562.8 279.1,563.2 280.3,563.5 281.5,564 282.7,564.3 283.9,564.2 285.1,564.1 286.3,564.4 287.5,564.6 288.7,564.6 289.8,564.9 290.9,565.4 291.7,566.1 292.2,567 292.7,568.1 292.8,569.2 292.4,570.4 291.5,571.3 290.3,571.7 289.1,571.9 287.9,572.2 286.8,572.5 285.5,572.7 284.3,572.4 283.1,572.4 281.9,572.7 280.7,572.8 279.5,572.9 278.3,573 277.2,573.7 276,574.1 274.8,573.8 273.6,574.1 272.6,574.7 271.7,575.4 271.2,576.1 270.9,576.9 271.5,577.7 272.5,578.4 273.8,578.4 275,577.9 276.2,577.9 277.4,578.1 278.6,578.2 279.8,578.6 281,578.8 282.2,578.7 283.4,578.8 284.6,579.3 285.7,579.7 286.9,579.8 288.1,579.6 289.4,579.5 290.6,579.5 291.8,579.7 292.9,580.1 293.8,580.9 294.3,582.1 293.6,583.3 292.6,584 292.9,584.9 294,585.2 295.1,585.7 296.1,586.4 297.3,586.6 298.5,586.8 299.7,587 300.9,587.3 302.1,587.6 303.3,587.4 304.5,586.8 305.7,586.7 306.9,587.5 306.7,588.1 305.7,588.6 304.7,589.1 303.6,589.7 302.4,590.1 301.2,589.9 300,589.9 298.8,590.2 297.6,590.6 296.4,590.7 295.3,590.9 294.1,591.4 293.6,592.4 293.7,593.5 294.2,594.4 295.1,595.2 296.2,595.6 296.2,596.6 295,597.3 293.8,597.4 292.6,597.5 291.6,598.3 290.7,598.7 290,599.7 290.9,600.6 292.2,600.8 293.4,601 294.6,601.2 295.9,601.1 297.1,601.1 298.3,601.2 299.4,601.2 300.6,601.1 301.9,600.9 303,601 304.3,601.2 305.4,602.1 305.5,603.4 305.6,604.7 305.6,605.9 305.4,607.1 304.9,608.1 304.3,609.1 304.1,610.1 304.8,610.9 305.9,611.5 307.1,611.7 307.9,612.3 307.3,612.4 306.4,612.8 305.4,613.6 304.3,614 303.4,614.6 304.4,614.5 305.6,614.4 306.6,615 307.7,615.8 308.8,616.5 310,616.6 311.3,616.5 312.4,617.2 313.2,618.1 314.1,619 314.6,620.2 313.9,621.3 312.8,621.8 311.7,622.3 310.5,622.6 309.3,622.7 308.2,623.2 307.1,623.8 305.9,623.7 304.7,623.9 303.6,624.4 302.5,625 301.5,625.7 300.6,626.5 299.8,627.4 298.9,628 297.9,628.6 296.8,629.3 295.7,629.6 294.9,630.5 296.1,631.2 297.3,631.3 298.5,631.6 299.7,631.8 300.9,631.8 302,632.2 303.2,632.8 304.4,632.9 305.6,632.7 306.8,632.9 308,633.4 309.1,633.6 310.3,633.4 311.5,633.5 312.5,634.2 312.8,635.1 312.8,635.7 311.9,636.2 310.7,636.1 309.6,636 308.4,636.1 307.2,636.2 305.9,636.4 304.7,636.3 303.5,636.1 302.3,636.2 301.1,636.2 299.9,635.9 298.7,636.2 297.6,636.7 296.4,636.7 295.1,636.4 293.9,636.4 292.7,636.6 291.5,637 290.4,637.5 289.2,637.8 288.1,637.8 286.9,638.1 286,638.8 285.4,639.8 285.3,641.3 286.6,641.7 287.9,641.4 289.1,641.4 290.2,641.2 291.4,640.5 292.9,640.3 293.8,641.6 293.8,643 293.3,644.1 292.2,644.9 290.9,645 289.6,644.6 288.4,644.7 287.9,645.4 288.9,645.8 290,646.1 291.2,646.1 292.4,646.5 293.5,646.9 294.7,647.2 295.9,647.3 297.2,647.1 298.4,647 299.6,647.1 300.9,647.2 300.3,648.2 299,648.4 297.9,648.8 296.7,649.1 295.6,649.4 294.4,649.8 293.2,649.8 292,649.8 290.8,649.9 289.6,650.1 288.5,650.7 287.4,651.2 286.2,651.3 285,651.4 283.8,651.5 282.6,651.9 281.5,652.5 280.3,652.4 279.2,652.1 278,651.9 276.8,651.9 275.6,651.7 274.4,651.5 273.3,651.2 272.1,650.9 270.9,650.7 269.7,650.6 268.5,650.7 267.5,651.1 266.7,651.3 265.6,651.7 264.6,652.5 264,653.4 263.5,654.7 262.4,655.4 261.1,655.4 260,655.9 259,656.6 257.8,656.9 256.7,657.3 255.6,657.9 254.6,658.5 253.6,659.2 252.7,660.1 251.9,661.1 251,661.8 250,662.5 249.1,663.2 248.4,664.3 247.5,665.1 246.3,665.5 245.2,665.8 244.2,666.4 L244.2,515Z"/><path d="M323.5,506 324.7,505.6 326,505.5 327.2,506 328.5,506.8 329.1,508.1 328.7,509.3 328.8,510.5 329.7,511.2 330.4,512.2 331.2,513.3 332.3,513.9 333.5,514.2 334.5,514.4 335.2,515 335.8,515.9 336.1,517.1 336.6,518.3 337.6,519 338.4,519.9 338.7,521.1 338.5,522.3 337.6,523.2 336.7,524 336.2,525.1 335.4,526 334.4,526.7 333.8,527.8 334.2,529.2 334,530.1 333.7,531.6 335,531.3 335.4,529.7 336.3,529 337.6,528.7 338.8,528.2 340,528.1 341.3,528 342.4,527.5 343.6,527.2 344.8,527.8 345.8,528.2 346.9,528.1 347.3,529 347.5,530.1 348.1,531.1 349,532.1 349.9,533 350.2,534.2 350,535.6 350.4,537 351.2,538 352.3,538.7 353.5,539.2 354.9,539.2 356,539.5 356.9,540.4 358,541 359.3,540.8 360.7,540.6 361.9,541.2 362.8,542.2 363.4,543.4 364.1,544.5 364.3,545.7 363.8,546.8 362.7,547.3 361.7,547.8 360.7,548.9 359.4,549.1 358.3,547.8 356.6,547.3 355.6,548.9 355.8,550.3 355.9,551.6 356.3,552.8 356.8,553.9 356.8,555.1 356.9,556.2 357.9,555.7 358.7,554.7 358.8,553.3 359.7,552.4 361,552.5 362.2,551.9 363.6,551.5 365,552.2 365.2,553.8 364.7,555.2 364.9,556.3 365.6,557.4 366.2,558.5 366.5,559.7 367,560.7 367.2,562.1 366.1,562.8 364.8,563.1 363.8,564 363.8,565.4 363.6,566.7 363.6,567.9 364.8,568.9 365.4,570 365.1,571.4 365.6,572.6 366.9,573 368.1,573.1 369.3,573.2 370.5,573.2 371.7,573.1 372.9,573 374.1,572.4 375.3,572.4 376.5,573 377.5,573.8 378.1,574.8 378.7,575.8 378.6,576.9 377.8,577.8 377.8,578.8 378.7,579.4 379.3,580.1 380,580.9 381,581.5 382.1,582.1 383.3,582.4 384.5,582.7 385.3,583 385.5,582.6 385.3,583.1 384.2,583.1 383.2,583.4 382,584.1 380.8,584 379.6,583.8 378.4,583.9 377.2,584 376,584.1 374.8,584.6 373.7,585.2 373.1,586.3 372.9,587.5 373,588.7 373,590 371.8,590.6 370.5,590.4 369.4,591 368.3,591.7 367.8,592.9 368.2,594 368.7,595 369.1,596.1 369.7,597.1 370.8,597.7 372,597.9 373.2,598 374.5,597.8 375.7,598 376.6,599.1 377.6,599.9 379,599.8 380.3,600.1 380.9,601.3 381.8,602.2 383.1,602.8 383.7,604.3 382.6,605.5 381.3,605.8 380.2,606.3 379.1,606.6 377.8,606.2 376.7,606.5 375.5,606.9 374.3,606.7 372.9,606.5 371.1,607.1 371.2,609.1 372.7,609.9 373.8,610 375,610 376.2,610.2 377.4,610.2 378.6,610.4 379.5,610.9 380.6,611.2 381.3,612 381,613.1 380.6,614.5 379.5,615.1 378,615 376.9,615.2 375.7,615.4 374.5,615.5 373.3,615.8 372.1,616 370.9,616.5 369.7,616.2 368.5,615.5 367.3,615.7 366.1,615.5 365,614.7 363.8,614.6 362.5,615.2 361.4,615.5 360.4,615.9 359.6,616.7 358.8,617.5 358.3,618.7 358.1,619.9 358,621.2 357.9,622.5 357.9,623.8 358.8,624.8 360.1,625.6 360.6,626.7 361.1,628 360.7,629.3 359.5,630 358.7,630.9 357.8,631.8 357.7,632.9 359,633.3 360.1,633.5 361,634.5 361.5,634.3 360.8,634.5 359.6,635.1 358.5,635.1 357.2,634.7 355.7,635.1 354.9,636.2 354.4,637.4 354,638.6 354.1,639.9 353.8,641.1 353.8,642.3 353.9,643.6 353.1,644.6 352.2,645.5 351.4,646.4 350.2,646.6 349.1,646.6 348.2,646.8 347,646.6 346.4,645.6 345.7,644.3 344.4,643.9 343,644.2 341.9,643.8 340.6,643.4 339.4,643.8 338.1,643.8 336.6,644 335.9,645.3 335.7,646.6 336.1,647.3 336.7,648.1 337.6,649.2 338.8,649.2 340.2,649 341.6,649.9 340.5,650.6 339.3,650.5 338.1,650.5 336.9,650.3 335.8,649.8 334.9,649.1 334.1,648.2 333.1,647.6 331.9,647 331.1,646.1 330.4,645.2 329.5,644.8 328.6,645.1 327.6,646 327.4,647.5 328.5,648.4 329.6,648.9 330.6,649.7 331.2,650.8 330.6,652 329.6,652.8 329,653.8 328.4,655 327.8,656 327,656.9 325.8,657.4 324.9,658.2 324.2,659.2 L323.5,506Z"/><path d="M410.4,491.7 411.6,492 412.5,492.9 413.7,493.1 415,493.2 416,493.8 417.2,494.1 418.4,494.3 419.4,494.9 420.6,495.3 421.8,495.6 422.9,496.2 423.7,497.2 424.4,498.1 425.4,498.8 426.4,499.6 427.1,500.5 427.5,501.8 427.6,502.8 427.6,503.8 427.2,504.9 427.2,506.1 427.2,507.4 426.9,508.5 427.1,509.6 427.3,510.8 427.7,512 428.9,512.7 429.6,513.7 430.5,514.9 431.8,515 433.1,515 434.2,515.3 435.4,515.5 436.6,515.9 437.8,516.1 439,516.4 439.8,517.4 441,517.7 442.2,518.1 443,519.2 444.1,519.6 445.3,519.8 446.4,520.4 447.5,520.8 448.7,521.1 449.8,521.6 450.8,522.5 451.3,523.7 450.1,523.7 448.8,523.6 447.5,524 447.6,525.4 448.4,526.3 448.6,527.6 448.8,528.9 449.6,529.8 450.5,530.6 451.2,531.6 451.9,532.6 452.6,533.6 453.7,534.2 454.7,533.8 455.4,532.8 456.5,532.1 457.8,532.1 458.8,532.2 459.4,532.7 460.1,533.5 460.7,534.6 460.9,535.9 461.9,536.6 463.2,536.9 463.9,537.9 464.3,539.2 465.1,539.9 466.5,540.7 465.6,541.9 464.2,542.1 463.1,542.8 462,543.2 460.7,543.3 459.6,543.7 458.4,543.9 457.2,543.5 455.7,543.2 454.7,544.1 454.6,545.5 454.6,546.8 454.6,548.1 455,549.3 456.1,550.1 457.3,550.7 458.1,551.5 459,552.2 459.9,553 461,553.4 462.3,553.6 463.2,554.6 463.9,555.6 464.9,556.2 466.2,556.6 467.4,556.8 468.6,557.3 469.5,558.2 469.9,559.5 470.3,560.7 471.2,561.5 472.4,562.1 473.3,563 473.7,564.1 474.6,565 475.8,565.7 476.4,566.8 476.5,568.2 476.5,569.5 476.3,570.8 477,571.8 477.8,572.9 477.5,574.2 477.1,575.4 477.2,576.6 476.9,577.7 476.2,578.8 475.8,579.8 475.6,581 475.4,582.2 474.6,583.1 473.8,584 473,585 472.2,586 471.6,587.1 471.6,588.4 471.7,589.7 471.5,590.9 470.8,591.9 470,592.8 469.1,593.6 468.4,594.7 468.4,596 468.2,597.1 467.5,598.2 467.6,599.4 467.7,600.6 467.2,601.9 467.9,603 469.2,603.9 469.1,605.2 468.5,606.6 468.7,607.7 468.8,608.8 468.6,610 468.9,611.2 469.2,612.4 469.3,613.6 469.9,614.7 470.5,615.8 471.3,616.6 472.1,617.4 472.4,618.3 472.8,619.4 472.4,620.6 471.5,621.2 470.8,621.7 469.8,622 468.6,622.3 467.4,622.2 466.2,621.7 465.2,621.2 464.3,620.4 463.7,619.3 463,618.1 461.7,617.7 460.4,618.1 459.1,618.3 458,618.8 457.3,620.1 456.4,620.6 454.8,621 454.2,622.3 454.6,623.7 455.2,624.8 456.1,625.8 456.7,626.9 456.8,628.1 456.8,629.4 456.1,630.5 455.3,631.4 454.1,631.7 453,631.3 452.4,631.3 451.4,631.3 450.3,630.7 449.2,630.2 448.3,629.3 447.9,627.9 447.6,629.1 448.6,629.9 449.3,630.9 450.1,631.7 451.1,632.6 451.1,633.9 451,635.2 451.5,636.3 451.6,637.4 451.7,638.6 451.7,639.8 450.9,640.7 450,641.3 449.2,641.9 448.6,643.3 449,644.8 449.7,645.9 450.1,647 450.6,648.1 450.5,649.4 450,650.7 450.1,651.9 450.8,653 451.2,654.2 451.7,655.3 452,656.6 452,658.1 450.9,659.3 449.4,659.1 448.2,659.1 447.4,659.9 446.9,660.9 446.7,661.9 446.6,662.9 447,664 447.7,665.1 447.6,666.4 446.2,666.3 445.1,665.6 444.2,665 443.4,664.5 442.4,663.9 441.3,663.1 440.7,662.1 440.7,660.8 439.3,660 438.4,661.4 439.4,662.9 439.6,663.9 439.4,665.1 439.5,666.3 439.4,667.5 439.4,668.7 439.5,670 439.4,671.2 439.2,672.6 438.6,673.7 437.2,674.2 L434,684.7 L403.5,684.7 L403.5,491.7Z"/></clipPath><clipPath id="grv"><path d="M5.4,515.7 6.7,516.4 7.2,517.5 7.5,518.7 8.3,519.5 9.3,520.1 10.5,520.6 11.1,521.6 11,523.6 10.9,525.5 12.4,525.6 14.2,525.3 15.3,525.8 16.5,526.2 17.6,526.7 18.2,527.9 19,529 19.9,529.8 20.9,530.5 22.1,530.8 23.1,531.6 23.9,532.8 25.2,532.8 26.6,532.5 27.7,533.1 28.4,534.5 29.4,535.4 30.9,534.9 32.1,535.1 33.2,535.7 34.5,535.5 35.6,536 36.5,537.2 37.7,537.5 38.9,537.6 40.3,536.9 41.6,536.3 42.7,537.2 43.9,537.1 45.1,536.8 46.2,538 47.3,538.7 48.6,538 49.9,537.7 51,538.3 52.1,539.3 53.2,540.1 54.4,540.1 55.6,540 56.8,540.2 58.1,539.6 59.4,539.4 60.5,540.3 61.6,540.8 62.9,540.3 64.2,540.2 65.5,540.2 66.8,540.2 67.6,541.7 68.6,542.3 69.9,541.7 71,541.8 72.1,542.1 73.2,541.7 73.9,540.4 75.2,540.3 76.9,541.2 77.9,540.5 78.5,538.7 79.8,538.6 81.2,539.1 82.4,539.2 83.6,539.4 84.8,538.8 86.1,538.5 87.2,538.9 88.4,539.7 89.6,539.6 90.9,538.6 92.1,538.8 93.1,540.4 94.3,541.1 95.5,541 96.7,541.1 98,540.5 99.3,539.6 100.5,539.3 101.7,540 102.8,540.6 104.1,539.8 105.3,539.6 106.5,540.4 107.6,541.1 108.8,541 110.2,540 111.4,539.8 112.4,541.3 113.4,542.7 114.6,542.8 115.9,542.4 117.2,542.3 118.3,542.7 119.3,543.4 120.4,543.9 121.6,544.2 122.6,544.8 123.5,545.7 124.6,546.4 126,547.2 127.9,547.8 129.3,547.1 129.6,545.2 129.6,543 130.5,542.3 131.9,542.2 132.7,541.2 133.4,540.2 135.2,540.6 136.3,540.2 136.9,538.4 138.1,537.7 139.5,538.1 140.7,539.1 141.6,540.5 142.6,541.2 143.9,540.9 145.2,540.9 146.3,541.7 147.3,542.4 148.5,542.8 149.8,542.4 151.2,541.6 152.5,541.5 153.5,542.4 154.4,543.7 155.6,543.9 157,543.4 158.2,543.6 159.3,544.1 160.6,543.9 161.8,544.2 162.6,545.9 163.4,547.1 164.9,546.3 166.5,545.4 167.8,545.2 168.8,545.8 169.7,547.3 170.9,547.9 172.2,547.5 173.4,547.1 174.5,546.5 175.2,545.4 175.8,544.1 177,543.7 178.3,543.5 179.3,542.7 180.4,542 181.5,541.6 182.8,541.7 184.1,541.8 185.2,541 186.3,540.7 187.7,541 188.9,541.3 190,540.5 190.9,539 192.1,539 193.3,538.9 194.5,538.7 195.9,539 197.2,539 198.2,538.4 199.3,537.8 200.5,537.5 201.4,536.4 202.5,535.9 203.7,535.8 204.9,535.8 206.2,536.5 207.5,536.8 208.6,536.3 209.6,535 210.7,534.1 212,534.3 213.2,534.2 214.3,533.6 215.5,533.4 216.8,533.7 218,533.6 219.1,532.9 220.2,532.3 221.1,531.4 222,530.3 223.1,529.8 224.1,529.5 225.6,529.8 227.1,529.4 227.7,528.1 228.4,527.1 229.2,526.4 229.3,525.4 230,524.4 231,523.4 232.2,522.9 233.4,523 234.5,522.7 235.7,523 235.4,521.9 234.1,521.5 232.8,521.8 231.5,522 230.4,521.5 229.2,521 228.8,519.7 229.8,518.8 230.7,518 231.5,517 232.4,516.2 233.2,515.2 234,514.2 235.2,513.8 236.6,513.8 238.3,514.2 238.9,512.9 L238.9,512.2 L5.4,512.2Z"/><path d="M244.2,516.9 245.3,516.5 246.5,516.1 247.6,515.6 248.9,515.8 250.1,515.8 251.2,515.3 252.4,515.2 253.6,515.4 254.7,515 255.9,514.5 257.1,514.5 258.3,514.8 259.5,514.7 260.8,514.7 261.9,515.3 263,515.7 264.2,516 265.3,516.6 266.3,517.1 267.5,517.6 268.4,518.2 269.4,519.1 270.5,519.5 271.8,519.6 272.9,519.8 274,519.9 273.4,520.4 272.3,520.6 271.1,521 270,521.5 268.9,522 267.9,522.6 266.8,523.3 265.7,523.6 264.4,523.7 263.3,524.1 262.3,524.8 261.2,525.4 260.2,526 259.5,526.7 259.7,526.9 260.7,527.4 261.8,527.6 263,527.8 264.2,528.2 265.4,528.4 266.5,528.7 267.8,529.1 268.9,529 269.8,529 270.6,529.7 271.4,530.7 272.1,531.5 272.9,532 274,532.3 275,532.9 276.1,533.8 277.3,534.2 278.5,534.1 279.7,533.7 280.9,533.7 282.1,533.7 283.4,533.8 284.5,533.9 285.7,534.2 286.9,534.7 288.1,534.7 289.3,534.7 290.5,534.4 291.7,534.4 292.8,535 293.9,535.4 295.1,535.4 296.4,535.7 297.3,536.8 296.7,538 295.9,539 296.1,540.1 297.3,540.3 298.5,540.4 299.6,541 300.8,541.4 302,541.4 303.2,541.2 304.4,541.2 305.6,541.6 306.8,541.6 308,541.4 309.2,541.3 310.4,541 311.6,541.1 312.8,541.4 314,541.7 315,542 315.2,541.9 314.2,542.7 313,542.8 311.8,542.8 310.6,543.1 309.5,543.8 308.3,544 307,543.7 305.8,543.8 304.7,544.3 303.5,544.5 302.3,544.6 301.2,545.2 299.9,545 298.7,544.5 297.5,544.8 296.3,545.3 295.1,545.4 293.9,545.4 292.7,545.7 291.5,545.7 290.3,545.8 289.2,546 288,546.1 286.8,546.4 285.6,546.6 284.4,546.4 283.2,546.4 281.9,546.3 280.7,546.9 282,547.5 283.2,547.6 284.3,547.9 285.5,548.3 286.6,548.6 287.8,548.7 289,548.8 290.2,548.7 291.4,548.8 292.6,548.9 293.8,548.8 295,549.1 296.2,549.2 297.4,548.9 298.6,548.6 299.8,548.4 301.1,548.4 302.5,548.5 302.6,549.8 301.4,550.3 300.1,550.4 298.9,550.5 297.8,550.9 296.7,551.3 295.5,551.6 294.3,551.9 293.1,552.3 291.9,552.4 290.7,551.9 289.6,551.2 288.4,551.1 287.2,551 286,551.5 285.7,552.8 285.6,554 285.1,555.2 284.4,556.2 283.3,556.9 282.3,557.7 282,558.9 282.1,560.3 280.9,560.9 279.6,561.1 278.4,561.1 277.2,560.8 276,560.4 274.8,560.3 273.6,560.5 272.4,561 271.3,561.2 270,560.8 268.8,561.2 268,562.2 267.3,562.9 268.3,563.4 269.5,563.7 270.7,563.7 271.9,563.6 273.1,563.7 274.3,563.8 275.5,563.6 276.7,563 277.9,562.8 279.1,563.2 280.3,563.5 281.5,564 282.7,564.3 283.9,564.2 285.1,564.1 286.3,564.4 287.5,564.6 288.7,564.6 289.8,564.9 290.9,565.4 291.7,566.1 292.2,567 292.7,568.1 292.8,569.2 292.4,570.4 291.5,571.3 290.3,571.7 289.1,571.9 287.9,572.2 286.8,572.5 285.5,572.7 284.3,572.4 283.1,572.4 281.9,572.7 280.7,572.8 279.5,572.9 278.3,573 277.2,573.7 276,574.1 274.8,573.8 273.6,574.1 272.6,574.7 271.7,575.4 271.2,576.1 270.9,576.9 271.5,577.7 272.5,578.4 273.8,578.4 275,577.9 276.2,577.9 277.4,578.1 278.6,578.2 279.8,578.6 281,578.8 282.2,578.7 283.4,578.8 284.6,579.3 285.7,579.7 286.9,579.8 288.1,579.6 289.4,579.5 290.6,579.5 291.8,579.7 292.9,580.1 293.8,580.9 294.3,582.1 293.6,583.3 292.6,584 292.9,584.9 294,585.2 295.1,585.7 296.1,586.4 297.3,586.6 298.5,586.8 299.7,587 300.9,587.3 302.1,587.6 303.3,587.4 304.5,586.8 305.7,586.7 306.9,587.5 306.7,588.1 305.7,588.6 304.7,589.1 303.6,589.7 302.4,590.1 301.2,589.9 300,589.9 298.8,590.2 297.6,590.6 296.4,590.7 295.3,590.9 294.1,591.4 293.6,592.4 293.7,593.5 294.2,594.4 295.1,595.2 296.2,595.6 296.2,596.6 295,597.3 293.8,597.4 292.6,597.5 291.6,598.3 290.7,598.7 290,599.7 290.9,600.6 292.2,600.8 293.4,601 294.6,601.2 295.9,601.1 297.1,601.1 298.3,601.2 299.4,601.2 300.6,601.1 301.9,600.9 303,601 304.3,601.2 305.4,602.1 305.5,603.4 305.6,604.7 305.6,605.9 305.4,607.1 304.9,608.1 304.3,609.1 304.1,610.1 304.8,610.9 305.9,611.5 307.1,611.7 307.9,612.3 307.3,612.4 306.4,612.8 305.4,613.6 304.3,614 303.4,614.6 304.4,614.5 305.6,614.4 306.6,615 307.7,615.8 308.8,616.5 310,616.6 311.3,616.5 312.4,617.2 313.2,618.1 314.1,619 314.6,620.2 313.9,621.3 312.8,621.8 311.7,622.3 310.5,622.6 309.3,622.7 308.2,623.2 307.1,623.8 305.9,623.7 304.7,623.9 303.6,624.4 302.5,625 301.5,625.7 300.6,626.5 299.8,627.4 298.9,628 297.9,628.6 296.8,629.3 295.7,629.6 294.9,630.5 296.1,631.2 297.3,631.3 298.5,631.6 299.7,631.8 300.9,631.8 302,632.2 303.2,632.8 304.4,632.9 305.6,632.7 306.8,632.9 308,633.4 309.1,633.6 310.3,633.4 311.5,633.5 312.5,634.2 312.8,635.1 312.8,635.7 311.9,636.2 310.7,636.1 309.6,636 308.4,636.1 307.2,636.2 305.9,636.4 304.7,636.3 303.5,636.1 302.3,636.2 301.1,636.2 299.9,635.9 298.7,636.2 297.6,636.7 296.4,636.7 295.1,636.4 293.9,636.4 292.7,636.6 291.5,637 290.4,637.5 289.2,637.8 288.1,637.8 286.9,638.1 286,638.8 285.4,639.8 285.3,641.3 286.6,641.7 287.9,641.4 289.1,641.4 290.2,641.2 291.4,640.5 292.9,640.3 293.8,641.6 293.8,643 293.3,644.1 292.2,644.9 290.9,645 289.6,644.6 288.4,644.7 287.9,645.4 288.9,645.8 290,646.1 291.2,646.1 292.4,646.5 293.5,646.9 294.7,647.2 295.9,647.3 297.2,647.1 298.4,647 299.6,647.1 300.9,647.2 300.3,648.2 299,648.4 297.9,648.8 296.7,649.1 295.6,649.4 294.4,649.8 293.2,649.8 292,649.8 290.8,649.9 289.6,650.1 288.5,650.7 287.4,651.2 286.2,651.3 285,651.4 283.8,651.5 282.6,651.9 281.5,652.5 280.3,652.4 279.2,652.1 278,651.9 276.8,651.9 275.6,651.7 274.4,651.5 273.3,651.2 272.1,650.9 270.9,650.7 269.7,650.6 268.5,650.7 267.5,651.1 266.7,651.3 265.6,651.7 264.6,652.5 264,653.4 263.5,654.7 262.4,655.4 261.1,655.4 260,655.9 259,656.6 257.8,656.9 256.7,657.3 255.6,657.9 254.6,658.5 253.6,659.2 252.7,660.1 251.9,661.1 251,661.8 250,662.5 249.1,663.2 248.4,664.3 247.5,665.1 246.3,665.5 245.2,665.8 244.2,666.4 L244.2,515Z"/></clipPath><filter id="tx" filterUnits="userSpaceOnUse" x="0" y="485" width="490" height="205" color-interpolation-filters="sRGB"><feTurbulence type="fractalNoise" baseFrequency="0.28" numOctaves="2" seed="4" result="a"/><feColorMatrix in="a" type="matrix" values="0 0 0 0 0  1.85 0 0 0 -0.62  0 0 0 0 0  0 0 0 0 1" result="G"/><feTurbulence type="fractalNoise" baseFrequency="0.65" numOctaves="1" seed="8" result="b"/><feColorMatrix in="b" type="matrix" values="1 0 0 0 0  1 0 0 0 0  1 0 0 0 0  0 0 0 0 1" result="B"/><feTurbulence type="fractalNoise" baseFrequency="0.035" numOctaves="2" seed="12" result="c"/><feColorMatrix in="c" type="matrix" values="1 0 0 0 0  1 0 0 0 0  1 0 0 0 0  0 0 0 0 1" result="C"/><feComposite in="B" in2="C" operator="arithmetic" k2="3.4" k3="1.3" k4="-2.32" result="Mg"/><feColorMatrix in="Mg" type="matrix" values="0.85 0 0 0 0  0.3 0 0 0 0  0.9 0 0 0 0  0 0 0 0 1" result="M"/><feComposite in="G" in2="M" operator="arithmetic" k2="1" k3="1"/><feGaussianBlur stdDeviation="0.55"/></filter><filter id="tx2" filterUnits="userSpaceOnUse" x="0" y="485" width="490" height="205" color-interpolation-filters="sRGB"><feTurbulence type="fractalNoise" baseFrequency="0.07" numOctaves="2" seed="9" result="n"/><feColorMatrix in="n" type="matrix" values="0 0 0 0 0  0 0 0 0 0  0 0 0 0 0  -3 0 0 0 1.8"/></filter><filter id="mg" x="0" y="0" width="1" height="1" color-interpolation-filters="sRGB"><feTurbulence type="fractalNoise" baseFrequency="0.7" numOctaves="1" seed="21" result="n"/><feColorMatrix in="n" type="matrix" values="0 0 0 0 0.86  0 0 0 0 0.4  0 0 0 0 0.92  4.2 0 0 0 -2.0"/><feGaussianBlur stdDeviation="0.45"/></filter><radialGradient id="mfade"><stop offset="0.6" stop-color="#fff"/><stop offset="1" stop-color="#000"/></radialGradient><mask id="mm" maskUnits="userSpaceOnUse" x="0" y="485" width="490" height="205"><ellipse cx="160" cy="528" rx="95" ry="30" fill="url(#mfade)"/><ellipse cx="75" cy="655" rx="60" ry="35" fill="url(#mfade)"/><ellipse cx="256" cy="615" rx="38" ry="70" fill="url(#mfade)" opacity="0.6"/><ellipse cx="440" cy="600" rx="40" ry="70" fill="url(#mfade)"/><ellipse cx="150" cy="590" rx="60" ry="25" fill="url(#mfade)" opacity="0.6"/></mask><pattern id="hl" patternUnits="userSpaceOnUse" width="6" height="2.6"><rect width="6" height="0.7" fill="#e0b8e8" opacity="0.3"/></pattern></defs><g clip-path="url(#tis)"><rect x="0" y="485" width="490" height="202" filter="url(#tx)"/><rect x="0" y="485" width="490" height="202" filter="url(#tx2)" opacity="0.5"/><g mask="url(#mm)"><rect x="0" y="485" width="490" height="202" fill="#000" opacity="0.3"/><rect x="0" y="485" width="490" height="202" filter="url(#mg)" opacity="0.9"/></g></g><g clip-path="url(#grv)"><rect x="0" y="485" width="490" height="202" fill="url(#hl)"/></g><g clip-path="url(#tis)" fill="none" stroke="#38f038" stroke-width="5" stroke-opacity="0.22" stroke-linejoin="round"><path d="M5.4,515.7 6.7,516.4 7.2,517.5 7.5,518.7 8.3,519.5 9.3,520.1 10.5,520.6 11.1,521.6 11,523.6 10.9,525.5 12.4,525.6 14.2,525.3 15.3,525.8 16.5,526.2 17.6,526.7 18.2,527.9 19,529 19.9,529.8 20.9,530.5 22.1,530.8 23.1,531.6 23.9,532.8 25.2,532.8 26.6,532.5 27.7,533.1 28.4,534.5 29.4,535.4 30.9,534.9 32.1,535.1 33.2,535.7 34.5,535.5 35.6,536 36.5,537.2 37.7,537.5 38.9,537.6 40.3,536.9 41.6,536.3 42.7,537.2 43.9,537.1 45.1,536.8 46.2,538 47.3,538.7 48.6,538 49.9,537.7 51,538.3 52.1,539.3 53.2,540.1 54.4,540.1 55.6,540 56.8,540.2 58.1,539.6 59.4,539.4 60.5,540.3 61.6,540.8 62.9,540.3 64.2,540.2 65.5,540.2 66.8,540.2 67.6,541.7 68.6,542.3 69.9,541.7 71,541.8 72.1,542.1 73.2,541.7 73.9,540.4 75.2,540.3 76.9,541.2 77.9,540.5 78.5,538.7 79.8,538.6 81.2,539.1 82.4,539.2 83.6,539.4 84.8,538.8 86.1,538.5 87.2,538.9 88.4,539.7 89.6,539.6 90.9,538.6 92.1,538.8 93.1,540.4 94.3,541.1 95.5,541 96.7,541.1 98,540.5 99.3,539.6 100.5,539.3 101.7,540 102.8,540.6 104.1,539.8 105.3,539.6 106.5,540.4 107.6,541.1 108.8,541 110.2,540 111.4,539.8 112.4,541.3 113.4,542.7 114.6,542.8 115.9,542.4 117.2,542.3 118.3,542.7 119.3,543.4 120.4,543.9 121.6,544.2 122.6,544.8 123.5,545.7 124.6,546.4 126,547.2 127.9,547.8 129.3,547.1 129.6,545.2 129.6,543 130.5,542.3 131.9,542.2 132.7,541.2 133.4,540.2 135.2,540.6 136.3,540.2 136.9,538.4 138.1,537.7 139.5,538.1 140.7,539.1 141.6,540.5 142.6,541.2 143.9,540.9 145.2,540.9 146.3,541.7 147.3,542.4 148.5,542.8 149.8,542.4 151.2,541.6 152.5,541.5 153.5,542.4 154.4,543.7 155.6,543.9 157,543.4 158.2,543.6 159.3,544.1 160.6,543.9 161.8,544.2 162.6,545.9 163.4,547.1 164.9,546.3 166.5,545.4 167.8,545.2 168.8,545.8 169.7,547.3 170.9,547.9 172.2,547.5 173.4,547.1 174.5,546.5 175.2,545.4 175.8,544.1 177,543.7 178.3,543.5 179.3,542.7 180.4,542 181.5,541.6 182.8,541.7 184.1,541.8 185.2,541 186.3,540.7 187.7,541 188.9,541.3 190,540.5 190.9,539 192.1,539 193.3,538.9 194.5,538.7 195.9,539 197.2,539 198.2,538.4 199.3,537.8 200.5,537.5 201.4,536.4 202.5,535.9 203.7,535.8 204.9,535.8 206.2,536.5 207.5,536.8 208.6,536.3 209.6,535 210.7,534.1 212,534.3 213.2,534.2 214.3,533.6 215.5,533.4 216.8,533.7 218,533.6 219.1,532.9 220.2,532.3 221.1,531.4 222,530.3 223.1,529.8 224.1,529.5 225.6,529.8 227.1,529.4 227.7,528.1 228.4,527.1 229.2,526.4 229.3,525.4 230,524.4 231,523.4 232.2,522.9 233.4,523 234.5,522.7 235.7,523 235.4,521.9 234.1,521.5 232.8,521.8 231.5,522 230.4,521.5 229.2,521 228.8,519.7 229.8,518.8 230.7,518 231.5,517 232.4,516.2 233.2,515.2 234,514.2 235.2,513.8 236.6,513.8 238.3,514.2 238.9,512.9"/><path d="M45.7,570.6 47,571 47.8,571.9 48.8,572.5 49.5,573.6 50.7,574 52.1,574.3 52.6,575.6 53.1,576.8 54.1,577.5 55,578.3 55.3,579.7 56.1,580.6 57.6,580.8 58.6,581.6 59.2,582.7 59.6,583.9 59.9,585.4 61.2,585.8 62.8,585.8 63.7,586.7 63.7,588.4 64.1,589.8 65.4,590.1 66.7,590.5 67.5,591.4 68.2,592.5 69,593.5 70.4,593.7 71.6,594 72.6,594.7 73.9,594.9 75,595.3 75.8,596.4 77,596.8 78.4,596.6 79.7,596.8 80.6,597.6 81.1,599.1 81.8,600.3 82.7,601.1 83.6,601.8 84.7,602.3 85.8,602.8 86.6,603.7 87.5,604.4 88.5,605.2 88.9,606.3 89.3,607.4 90.5,608.1 91.5,608.9 91.5,610.4 92.1,611.6 93.6,611.9 94.9,612.2 95.7,613.2 96.9,613.6 98.2,613.1 99.3,613.9 100.5,614.5 101.8,614.2 103,614.6 104.2,614.3 105.3,613.5 106.5,613 107.6,612.3 108.9,612.9 110.3,613.7 111.5,613.3 112.7,613.1 113.9,612.7 114.9,611.9 115.5,610.5 115.8,608.9 117.1,608.7 118.3,608.3 118.4,607.1 118.8,606.2 119.8,605.3 119.5,604.1 119,602.9 119.9,601.8 120.8,600.7 121.2,599.7 121.9,600.1 122.2,601 123.8,600.9 125.5,601 126.4,601.9 126.4,603.4 126.6,604.9 127.5,605.8 128.6,606.4 129.7,606.9 130.8,607.5 132,607.7 133.2,607.7 134.5,607.3 135.6,607.4 136.7,607.9 137.8,608 138.9,608.3 140.2,609 141.6,609.8 143.1,610.4 144.1,609.3 144.9,607.8 146.1,607.6 147.1,607 148.2,606.3 149.3,606 149.9,604.4 150.6,603.1 152.2,603.6 153.7,603.9 154.8,603.5 155.5,602.2 156.5,601.5 157.9,601.7 158.9,600.9 160.2,601 161.5,601.4 162.6,600.8 163.7,600.2 164.9,600.3 166.1,600.2 167.3,599.6 168.5,599.7 170,600.2 171.2,600.1 172,598.5 172.9,597.5 174.2,597.5 175.3,597.1 176.5,596.8 177.7,596.9 178.9,596.7 180,595.9 181.1,594.9 182.2,594 183.5,594.8 184.9,595.9 185.9,595 186.6,593.8 187.5,593.4 188.9,593.2 189.6,592.2 190,591 191.3,590.4 192.4,589.9 193.1,589 194.1,588.5 195.4,588.5 196.4,588 197.4,586.8 198.4,586.2 199.7,586.3 201,586.3 202.2,586 203.4,585.8 204.7,585.6 205.9,585.3 206.8,584.4 207.3,582.7 208,581.5 209.5,581.8 210.9,581.9 212,581.3 212.9,580.5 213.8,579.5 214.7,578.6 215.9,578.4 217.4,578.6 218.3,577.9 219,576.4 220,575.6 221.4,576 222.9,576.5 223.9,575.6 224.9,574.9 226.3,575.4 227.6,575.5 228.7,574.8 229.8,574.3 230.9,573.9 232,573.4 233,572.6 234.1,572.1 235.4,572.3 236.7,572.4 237.7,571.6 238.7,570.6"/><path d="M30.4,637.5 30.9,638.8 32,639.3 32.8,640.2 33.4,641.3 34.5,641.9 35.7,642.5 36.2,643.6 36.2,645 36.7,646.1 37.8,646.9 38.7,647.7 39.4,648.8 40.4,649.5 41.9,649.3 43,649.5 44,650.2 44.9,650 45.9,649.8 47.2,649.6 48.2,648.9 49.2,648.2 50.5,648 51.8,648.2 52.9,648.8 54.2,649.3 55,650.2 55.4,651.6 56.3,652.5 57.2,653.3 57.6,654.5 57.8,655.8 58.5,656.8 59.3,657.8 60.1,658.6 61.4,658.9 62.6,659.3 63.4,660.2 64.2,661.5 65.3,662.3 66.6,662.3 67.9,661.9 69.1,662 70.2,662.4 71.4,662.8 72.2,663.7 73.1,664.3 74.4,664.7 75.3,665.5 75.9,666.7 76.3,668.4 77.6,669.3 79.3,668.4 80.3,667 81,666.1 82.3,666 83.4,665.6 84.4,664.8 85.4,664.2 86.3,663.3 87.4,662.8 88.5,662.3 89.5,661.7 91,661.8 92,661.4 93.1,660 94.6,660.2 95.4,661.6 96.4,662.3 97.6,662.7 98.4,663.6 99.1,664.7 99.8,665.7 100.4,666.7 101,667.8 101.4,669 102.2,669.9 103.1,670.6 103.5,671.6 103.9,672.6 105,673.5 106,674.4 106.2,675.7 106.5,677 107.5,678 108.8,678.4 110.1,678.5 111.3,679.1 112.5,679.4 113.7,679 115,678.6 116.2,678.5 117.3,678.3 118.6,678.2 119.8,678.2 121,678.6 122.2,678.8 123.3,678.2 124.6,678.1 125.6,678.7 126.7,679.1 128.1,679.2 129.1,679.5 130.1,680.3 131.3,680.4 132.4,679.7 133.2,678.7 134.2,678.1 135.7,678.2 136.9,678.1 137.7,677.5 138.8,677.3 140,677.3 141.3,677.3 142.4,677.7 143.5,678.4 144.6,678.7 145.7,678.1 146.7,677.5 148.3,677.8 149.5,677.5 150.2,676.3 151.2,675.6 152.3,675.5 153.4,675 154.6,674.7 155.8,675.1 157,675.2 158.3,675.3 159.5,674.9 160.6,674.2 161.8,674.1 163,673.8 163.8,672.8 164.7,671.9 165.6,671.1 166.8,670.7 168.3,671.1 169.5,671 170.6,670.5 171.7,670.1 172.8,669.3 174.1,669.4 175.5,670 176.5,669 177,666.7 177.8,665.6 179.4,666.5 181,667.2 182,666.5 183.1,666 184.2,665.5 185.1,664.8 186.4,664.5 187.7,664.4 188.7,663.7 189.6,662.8 190.5,662 191.5,661.4 192.6,660.8 194.2,660.9 195.3,660.3 195.1,658.2 195.3,656.6 196.7,656.3 198.3,656.3 199.6,655.9 200.2,654.7 200.2,653.2 200.8,652.2 201.7,651.3 202.1,650.2 202.8,649.1 203.5,648.1 204.1,647.1 204.9,646.2 205.5,645.1 205.6,643.8 205.7,642.5 206.6,641.6 207.7,641.3 208.7,641.7 209.6,642.3 211,642.4 212.2,642.2 213,642.1 214.1,641.9 215.1,641.2 215.8,640.2 216.8,639.5 217.6,638.6 218.2,637.5"/><path d="M244.2,516.9 245.3,516.5 246.5,516.1 247.6,515.6 248.9,515.8 250.1,515.8 251.2,515.3 252.4,515.2 253.6,515.4 254.7,515 255.9,514.5 257.1,514.5 258.3,514.8 259.5,514.7 260.8,514.7 261.9,515.3 263,515.7 264.2,516 265.3,516.6 266.3,517.1 267.5,517.6 268.4,518.2 269.4,519.1 270.5,519.5 271.8,519.6 272.9,519.8 274,519.9 273.4,520.4 272.3,520.6 271.1,521 270,521.5 268.9,522 267.9,522.6 266.8,523.3 265.7,523.6 264.4,523.7 263.3,524.1 262.3,524.8 261.2,525.4 260.2,526 259.5,526.7 259.7,526.9 260.7,527.4 261.8,527.6 263,527.8 264.2,528.2 265.4,528.4 266.5,528.7 267.8,529.1 268.9,529 269.8,529 270.6,529.7 271.4,530.7 272.1,531.5 272.9,532 274,532.3 275,532.9 276.1,533.8 277.3,534.2 278.5,534.1 279.7,533.7 280.9,533.7 282.1,533.7 283.4,533.8 284.5,533.9 285.7,534.2 286.9,534.7 288.1,534.7 289.3,534.7 290.5,534.4 291.7,534.4 292.8,535 293.9,535.4 295.1,535.4 296.4,535.7 297.3,536.8 296.7,538 295.9,539 296.1,540.1 297.3,540.3 298.5,540.4 299.6,541 300.8,541.4 302,541.4 303.2,541.2 304.4,541.2 305.6,541.6 306.8,541.6 308,541.4 309.2,541.3 310.4,541 311.6,541.1 312.8,541.4 314,541.7 315,542 315.2,541.9 314.2,542.7 313,542.8 311.8,542.8 310.6,543.1 309.5,543.8 308.3,544 307,543.7 305.8,543.8 304.7,544.3 303.5,544.5 302.3,544.6 301.2,545.2 299.9,545 298.7,544.5 297.5,544.8 296.3,545.3 295.1,545.4 293.9,545.4 292.7,545.7 291.5,545.7 290.3,545.8 289.2,546 288,546.1 286.8,546.4 285.6,546.6 284.4,546.4 283.2,546.4 281.9,546.3 280.7,546.9 282,547.5 283.2,547.6 284.3,547.9 285.5,548.3 286.6,548.6 287.8,548.7 289,548.8 290.2,548.7 291.4,548.8 292.6,548.9 293.8,548.8 295,549.1 296.2,549.2 297.4,548.9 298.6,548.6 299.8,548.4 301.1,548.4 302.5,548.5 302.6,549.8 301.4,550.3 300.1,550.4 298.9,550.5 297.8,550.9 296.7,551.3 295.5,551.6 294.3,551.9 293.1,552.3 291.9,552.4 290.7,551.9 289.6,551.2 288.4,551.1 287.2,551 286,551.5 285.7,552.8 285.6,554 285.1,555.2 284.4,556.2 283.3,556.9 282.3,557.7 282,558.9 282.1,560.3 280.9,560.9 279.6,561.1 278.4,561.1 277.2,560.8 276,560.4 274.8,560.3 273.6,560.5 272.4,561 271.3,561.2 270,560.8 268.8,561.2 268,562.2 267.3,562.9 268.3,563.4 269.5,563.7 270.7,563.7 271.9,563.6 273.1,563.7 274.3,563.8 275.5,563.6 276.7,563 277.9,562.8 279.1,563.2 280.3,563.5 281.5,564 282.7,564.3 283.9,564.2 285.1,564.1 286.3,564.4 287.5,564.6 288.7,564.6 289.8,564.9 290.9,565.4 291.7,566.1 292.2,567 292.7,568.1 292.8,569.2 292.4,570.4 291.5,571.3 290.3,571.7 289.1,571.9 287.9,572.2 286.8,572.5 285.5,572.7 284.3,572.4 283.1,572.4 281.9,572.7 280.7,572.8 279.5,572.9 278.3,573 277.2,573.7 276,574.1 274.8,573.8 273.6,574.1 272.6,574.7 271.7,575.4 271.2,576.1 270.9,576.9 271.5,577.7 272.5,578.4 273.8,578.4 275,577.9 276.2,577.9 277.4,578.1 278.6,578.2 279.8,578.6 281,578.8 282.2,578.7 283.4,578.8 284.6,579.3 285.7,579.7 286.9,579.8 288.1,579.6 289.4,579.5 290.6,579.5 291.8,579.7 292.9,580.1 293.8,580.9 294.3,582.1 293.6,583.3 292.6,584 292.9,584.9 294,585.2 295.1,585.7 296.1,586.4 297.3,586.6 298.5,586.8 299.7,587 300.9,587.3 302.1,587.6 303.3,587.4 304.5,586.8 305.7,586.7 306.9,587.5 306.7,588.1 305.7,588.6 304.7,589.1 303.6,589.7 302.4,590.1 301.2,589.9 300,589.9 298.8,590.2 297.6,590.6 296.4,590.7 295.3,590.9 294.1,591.4 293.6,592.4 293.7,593.5 294.2,594.4 295.1,595.2 296.2,595.6 296.2,596.6 295,597.3 293.8,597.4 292.6,597.5 291.6,598.3 290.7,598.7 290,599.7 290.9,600.6 292.2,600.8 293.4,601 294.6,601.2 295.9,601.1 297.1,601.1 298.3,601.2 299.4,601.2 300.6,601.1 301.9,600.9 303,601 304.3,601.2 305.4,602.1 305.5,603.4 305.6,604.7 305.6,605.9 305.4,607.1 304.9,608.1 304.3,609.1 304.1,610.1 304.8,610.9 305.9,611.5 307.1,611.7 307.9,612.3 307.3,612.4 306.4,612.8 305.4,613.6 304.3,614 303.4,614.6 304.4,614.5 305.6,614.4 306.6,615 307.7,615.8 308.8,616.5 310,616.6 311.3,616.5 312.4,617.2 313.2,618.1 314.1,619 314.6,620.2 313.9,621.3 312.8,621.8 311.7,622.3 310.5,622.6 309.3,622.7 308.2,623.2 307.1,623.8 305.9,623.7 304.7,623.9 303.6,624.4 302.5,625 301.5,625.7 300.6,626.5 299.8,627.4 298.9,628 297.9,628.6 296.8,629.3 295.7,629.6 294.9,630.5 296.1,631.2 297.3,631.3 298.5,631.6 299.7,631.8 300.9,631.8 302,632.2 303.2,632.8 304.4,632.9 305.6,632.7 306.8,632.9 308,633.4 309.1,633.6 310.3,633.4 311.5,633.5 312.5,634.2 312.8,635.1 312.8,635.7 311.9,636.2 310.7,636.1 309.6,636 308.4,636.1 307.2,636.2 305.9,636.4 304.7,636.3 303.5,636.1 302.3,636.2 301.1,636.2 299.9,635.9 298.7,636.2 297.6,636.7 296.4,636.7 295.1,636.4 293.9,636.4 292.7,636.6 291.5,637 290.4,637.5 289.2,637.8 288.1,637.8 286.9,638.1 286,638.8 285.4,639.8 285.3,641.3 286.6,641.7 287.9,641.4 289.1,641.4 290.2,641.2 291.4,640.5 292.9,640.3 293.8,641.6 293.8,643 293.3,644.1 292.2,644.9 290.9,645 289.6,644.6 288.4,644.7 287.9,645.4 288.9,645.8 290,646.1 291.2,646.1 292.4,646.5 293.5,646.9 294.7,647.2 295.9,647.3 297.2,647.1 298.4,647 299.6,647.1 300.9,647.2 300.3,648.2 299,648.4 297.9,648.8 296.7,649.1 295.6,649.4 294.4,649.8 293.2,649.8 292,649.8 290.8,649.9 289.6,650.1 288.5,650.7 287.4,651.2 286.2,651.3 285,651.4 283.8,651.5 282.6,651.9 281.5,652.5 280.3,652.4 279.2,652.1 278,651.9 276.8,651.9 275.6,651.7 274.4,651.5 273.3,651.2 272.1,650.9 270.9,650.7 269.7,650.6 268.5,650.7 267.5,651.1 266.7,651.3 265.6,651.7 264.6,652.5 264,653.4 263.5,654.7 262.4,655.4 261.1,655.4 260,655.9 259,656.6 257.8,656.9 256.7,657.3 255.6,657.9 254.6,658.5 253.6,659.2 252.7,660.1 251.9,661.1 251,661.8 250,662.5 249.1,663.2 248.4,664.3 247.5,665.1 246.3,665.5 245.2,665.8 244.2,666.4"/><path d="M323.5,506 324.7,505.6 326,505.5 327.2,506 328.5,506.8 329.1,508.1 328.7,509.3 328.8,510.5 329.7,511.2 330.4,512.2 331.2,513.3 332.3,513.9 333.5,514.2 334.5,514.4 335.2,515 335.8,515.9 336.1,517.1 336.6,518.3 337.6,519 338.4,519.9 338.7,521.1 338.5,522.3 337.6,523.2 336.7,524 336.2,525.1 335.4,526 334.4,526.7 333.8,527.8 334.2,529.2 334,530.1 333.7,531.6 335,531.3 335.4,529.7 336.3,529 337.6,528.7 338.8,528.2 340,528.1 341.3,528 342.4,527.5 343.6,527.2 344.8,527.8 345.8,528.2 346.9,528.1 347.3,529 347.5,530.1 348.1,531.1 349,532.1 349.9,533 350.2,534.2 350,535.6 350.4,537 351.2,538 352.3,538.7 353.5,539.2 354.9,539.2 356,539.5 356.9,540.4 358,541 359.3,540.8 360.7,540.6 361.9,541.2 362.8,542.2 363.4,543.4 364.1,544.5 364.3,545.7 363.8,546.8 362.7,547.3 361.7,547.8 360.7,548.9 359.4,549.1 358.3,547.8 356.6,547.3 355.6,548.9 355.8,550.3 355.9,551.6 356.3,552.8 356.8,553.9 356.8,555.1 356.9,556.2 357.9,555.7 358.7,554.7 358.8,553.3 359.7,552.4 361,552.5 362.2,551.9 363.6,551.5 365,552.2 365.2,553.8 364.7,555.2 364.9,556.3 365.6,557.4 366.2,558.5 366.5,559.7 367,560.7 367.2,562.1 366.1,562.8 364.8,563.1 363.8,564 363.8,565.4 363.6,566.7 363.6,567.9 364.8,568.9 365.4,570 365.1,571.4 365.6,572.6 366.9,573 368.1,573.1 369.3,573.2 370.5,573.2 371.7,573.1 372.9,573 374.1,572.4 375.3,572.4 376.5,573 377.5,573.8 378.1,574.8 378.7,575.8 378.6,576.9 377.8,577.8 377.8,578.8 378.7,579.4 379.3,580.1 380,580.9 381,581.5 382.1,582.1 383.3,582.4 384.5,582.7 385.3,583 385.5,582.6 385.3,583.1 384.2,583.1 383.2,583.4 382,584.1 380.8,584 379.6,583.8 378.4,583.9 377.2,584 376,584.1 374.8,584.6 373.7,585.2 373.1,586.3 372.9,587.5 373,588.7 373,590 371.8,590.6 370.5,590.4 369.4,591 368.3,591.7 367.8,592.9 368.2,594 368.7,595 369.1,596.1 369.7,597.1 370.8,597.7 372,597.9 373.2,598 374.5,597.8 375.7,598 376.6,599.1 377.6,599.9 379,599.8 380.3,600.1 380.9,601.3 381.8,602.2 383.1,602.8 383.7,604.3 382.6,605.5 381.3,605.8 380.2,606.3 379.1,606.6 377.8,606.2 376.7,606.5 375.5,606.9 374.3,606.7 372.9,606.5 371.1,607.1 371.2,609.1 372.7,609.9 373.8,610 375,610 376.2,610.2 377.4,610.2 378.6,610.4 379.5,610.9 380.6,611.2 381.3,612 381,613.1 380.6,614.5 379.5,615.1 378,615 376.9,615.2 375.7,615.4 374.5,615.5 373.3,615.8 372.1,616 370.9,616.5 369.7,616.2 368.5,615.5 367.3,615.7 366.1,615.5 365,614.7 363.8,614.6 362.5,615.2 361.4,615.5 360.4,615.9 359.6,616.7 358.8,617.5 358.3,618.7 358.1,619.9 358,621.2 357.9,622.5 357.9,623.8 358.8,624.8 360.1,625.6 360.6,626.7 361.1,628 360.7,629.3 359.5,630 358.7,630.9 357.8,631.8 357.7,632.9 359,633.3 360.1,633.5 361,634.5 361.5,634.3 360.8,634.5 359.6,635.1 358.5,635.1 357.2,634.7 355.7,635.1 354.9,636.2 354.4,637.4 354,638.6 354.1,639.9 353.8,641.1 353.8,642.3 353.9,643.6 353.1,644.6 352.2,645.5 351.4,646.4 350.2,646.6 349.1,646.6 348.2,646.8 347,646.6 346.4,645.6 345.7,644.3 344.4,643.9 343,644.2 341.9,643.8 340.6,643.4 339.4,643.8 338.1,643.8 336.6,644 335.9,645.3 335.7,646.6 336.1,647.3 336.7,648.1 337.6,649.2 338.8,649.2 340.2,649 341.6,649.9 340.5,650.6 339.3,650.5 338.1,650.5 336.9,650.3 335.8,649.8 334.9,649.1 334.1,648.2 333.1,647.6 331.9,647 331.1,646.1 330.4,645.2 329.5,644.8 328.6,645.1 327.6,646 327.4,647.5 328.5,648.4 329.6,648.9 330.6,649.7 331.2,650.8 330.6,652 329.6,652.8 329,653.8 328.4,655 327.8,656 327,656.9 325.8,657.4 324.9,658.2 324.2,659.2"/><path d="M410.4,491.7 411.6,492 412.5,492.9 413.7,493.1 415,493.2 416,493.8 417.2,494.1 418.4,494.3 419.4,494.9 420.6,495.3 421.8,495.6 422.9,496.2 423.7,497.2 424.4,498.1 425.4,498.8 426.4,499.6 427.1,500.5 427.5,501.8 427.6,502.8 427.6,503.8 427.2,504.9 427.2,506.1 427.2,507.4 426.9,508.5 427.1,509.6 427.3,510.8 427.7,512 428.9,512.7 429.6,513.7 430.5,514.9 431.8,515 433.1,515 434.2,515.3 435.4,515.5 436.6,515.9 437.8,516.1 439,516.4 439.8,517.4 441,517.7 442.2,518.1 443,519.2 444.1,519.6 445.3,519.8 446.4,520.4 447.5,520.8 448.7,521.1 449.8,521.6 450.8,522.5 451.3,523.7 450.1,523.7 448.8,523.6 447.5,524 447.6,525.4 448.4,526.3 448.6,527.6 448.8,528.9 449.6,529.8 450.5,530.6 451.2,531.6 451.9,532.6 452.6,533.6 453.7,534.2 454.7,533.8 455.4,532.8 456.5,532.1 457.8,532.1 458.8,532.2 459.4,532.7 460.1,533.5 460.7,534.6 460.9,535.9 461.9,536.6 463.2,536.9 463.9,537.9 464.3,539.2 465.1,539.9 466.5,540.7 465.6,541.9 464.2,542.1 463.1,542.8 462,543.2 460.7,543.3 459.6,543.7 458.4,543.9 457.2,543.5 455.7,543.2 454.7,544.1 454.6,545.5 454.6,546.8 454.6,548.1 455,549.3 456.1,550.1 457.3,550.7 458.1,551.5 459,552.2 459.9,553 461,553.4 462.3,553.6 463.2,554.6 463.9,555.6 464.9,556.2 466.2,556.6 467.4,556.8 468.6,557.3 469.5,558.2 469.9,559.5 470.3,560.7 471.2,561.5 472.4,562.1 473.3,563 473.7,564.1 474.6,565 475.8,565.7 476.4,566.8 476.5,568.2 476.5,569.5 476.3,570.8 477,571.8 477.8,572.9 477.5,574.2 477.1,575.4 477.2,576.6 476.9,577.7 476.2,578.8 475.8,579.8 475.6,581 475.4,582.2 474.6,583.1 473.8,584 473,585 472.2,586 471.6,587.1 471.6,588.4 471.7,589.7 471.5,590.9 470.8,591.9 470,592.8 469.1,593.6 468.4,594.7 468.4,596 468.2,597.1 467.5,598.2 467.6,599.4 467.7,600.6 467.2,601.9 467.9,603 469.2,603.9 469.1,605.2 468.5,606.6 468.7,607.7 468.8,608.8 468.6,610 468.9,611.2 469.2,612.4 469.3,613.6 469.9,614.7 470.5,615.8 471.3,616.6 472.1,617.4 472.4,618.3 472.8,619.4 472.4,620.6 471.5,621.2 470.8,621.7 469.8,622 468.6,622.3 467.4,622.2 466.2,621.7 465.2,621.2 464.3,620.4 463.7,619.3 463,618.1 461.7,617.7 460.4,618.1 459.1,618.3 458,618.8 457.3,620.1 456.4,620.6 454.8,621 454.2,622.3 454.6,623.7 455.2,624.8 456.1,625.8 456.7,626.9 456.8,628.1 456.8,629.4 456.1,630.5 455.3,631.4 454.1,631.7 453,631.3 452.4,631.3 451.4,631.3 450.3,630.7 449.2,630.2 448.3,629.3 447.9,627.9 447.6,629.1 448.6,629.9 449.3,630.9 450.1,631.7 451.1,632.6 451.1,633.9 451,635.2 451.5,636.3 451.6,637.4 451.7,638.6 451.7,639.8 450.9,640.7 450,641.3 449.2,641.9 448.6,643.3 449,644.8 449.7,645.9 450.1,647 450.6,648.1 450.5,649.4 450,650.7 450.1,651.9 450.8,653 451.2,654.2 451.7,655.3 452,656.6 452,658.1 450.9,659.3 449.4,659.1 448.2,659.1 447.4,659.9 446.9,660.9 446.7,661.9 446.6,662.9 447,664 447.7,665.1 447.6,666.4 446.2,666.3 445.1,665.6 444.2,665 443.4,664.5 442.4,663.9 441.3,663.1 440.7,662.1 440.7,660.8 439.3,660 438.4,661.4 439.4,662.9 439.6,663.9 439.4,665.1 439.5,666.3 439.4,667.5 439.4,668.7 439.5,670 439.4,671.2 439.2,672.6 438.6,673.7 437.2,674.2"/></g><g fill="none" stroke="#e6e61e" stroke-width="1.15" stroke-linejoin="round"><path d="M5.4,515.7 6.7,516.4 7.2,517.5 7.5,518.7 8.3,519.5 9.3,520.1 10.5,520.6 11.1,521.6 11,523.6 10.9,525.5 12.4,525.6 14.2,525.3 15.3,525.8 16.5,526.2 17.6,526.7 18.2,527.9 19,529 19.9,529.8 20.9,530.5 22.1,530.8 23.1,531.6 23.9,532.8 25.2,532.8 26.6,532.5 27.7,533.1 28.4,534.5 29.4,535.4 30.9,534.9 32.1,535.1 33.2,535.7 34.5,535.5 35.6,536 36.5,537.2 37.7,537.5 38.9,537.6 40.3,536.9 41.6,536.3 42.7,537.2 43.9,537.1 45.1,536.8 46.2,538 47.3,538.7 48.6,538 49.9,537.7 51,538.3 52.1,539.3 53.2,540.1 54.4,540.1 55.6,540 56.8,540.2 58.1,539.6 59.4,539.4 60.5,540.3 61.6,540.8 62.9,540.3 64.2,540.2 65.5,540.2 66.8,540.2 67.6,541.7 68.6,542.3 69.9,541.7 71,541.8 72.1,542.1 73.2,541.7 73.9,540.4 75.2,540.3 76.9,541.2 77.9,540.5 78.5,538.7 79.8,538.6 81.2,539.1 82.4,539.2 83.6,539.4 84.8,538.8 86.1,538.5 87.2,538.9 88.4,539.7 89.6,539.6 90.9,538.6 92.1,538.8 93.1,540.4 94.3,541.1 95.5,541 96.7,541.1 98,540.5 99.3,539.6 100.5,539.3 101.7,540 102.8,540.6 104.1,539.8 105.3,539.6 106.5,540.4 107.6,541.1 108.8,541 110.2,540 111.4,539.8 112.4,541.3 113.4,542.7 114.6,542.8 115.9,542.4 117.2,542.3 118.3,542.7 119.3,543.4 120.4,543.9 121.6,544.2 122.6,544.8 123.5,545.7 124.6,546.4 126,547.2 127.9,547.8 129.3,547.1 129.6,545.2 129.6,543 130.5,542.3 131.9,542.2 132.7,541.2 133.4,540.2 135.2,540.6 136.3,540.2 136.9,538.4 138.1,537.7 139.5,538.1 140.7,539.1 141.6,540.5 142.6,541.2 143.9,540.9 145.2,540.9 146.3,541.7 147.3,542.4 148.5,542.8 149.8,542.4 151.2,541.6 152.5,541.5 153.5,542.4 154.4,543.7 155.6,543.9 157,543.4 158.2,543.6 159.3,544.1 160.6,543.9 161.8,544.2 162.6,545.9 163.4,547.1 164.9,546.3 166.5,545.4 167.8,545.2 168.8,545.8 169.7,547.3 170.9,547.9 172.2,547.5 173.4,547.1 174.5,546.5 175.2,545.4 175.8,544.1 177,543.7 178.3,543.5 179.3,542.7 180.4,542 181.5,541.6 182.8,541.7 184.1,541.8 185.2,541 186.3,540.7 187.7,541 188.9,541.3 190,540.5 190.9,539 192.1,539 193.3,538.9 194.5,538.7 195.9,539 197.2,539 198.2,538.4 199.3,537.8 200.5,537.5 201.4,536.4 202.5,535.9 203.7,535.8 204.9,535.8 206.2,536.5 207.5,536.8 208.6,536.3 209.6,535 210.7,534.1 212,534.3 213.2,534.2 214.3,533.6 215.5,533.4 216.8,533.7 218,533.6 219.1,532.9 220.2,532.3 221.1,531.4 222,530.3 223.1,529.8 224.1,529.5 225.6,529.8 227.1,529.4 227.7,528.1 228.4,527.1 229.2,526.4 229.3,525.4 230,524.4 231,523.4 232.2,522.9 233.4,523 234.5,522.7 235.7,523 235.4,521.9 234.1,521.5 232.8,521.8 231.5,522 230.4,521.5 229.2,521 228.8,519.7 229.8,518.8 230.7,518 231.5,517 232.4,516.2 233.2,515.2 234,514.2 235.2,513.8 236.6,513.8 238.3,514.2 238.9,512.9"/><path d="M45.7,570.6 47,571 47.8,571.9 48.8,572.5 49.5,573.6 50.7,574 52.1,574.3 52.6,575.6 53.1,576.8 54.1,577.5 55,578.3 55.3,579.7 56.1,580.6 57.6,580.8 58.6,581.6 59.2,582.7 59.6,583.9 59.9,585.4 61.2,585.8 62.8,585.8 63.7,586.7 63.7,588.4 64.1,589.8 65.4,590.1 66.7,590.5 67.5,591.4 68.2,592.5 69,593.5 70.4,593.7 71.6,594 72.6,594.7 73.9,594.9 75,595.3 75.8,596.4 77,596.8 78.4,596.6 79.7,596.8 80.6,597.6 81.1,599.1 81.8,600.3 82.7,601.1 83.6,601.8 84.7,602.3 85.8,602.8 86.6,603.7 87.5,604.4 88.5,605.2 88.9,606.3 89.3,607.4 90.5,608.1 91.5,608.9 91.5,610.4 92.1,611.6 93.6,611.9 94.9,612.2 95.7,613.2 96.9,613.6 98.2,613.1 99.3,613.9 100.5,614.5 101.8,614.2 103,614.6 104.2,614.3 105.3,613.5 106.5,613 107.6,612.3 108.9,612.9 110.3,613.7 111.5,613.3 112.7,613.1 113.9,612.7 114.9,611.9 115.5,610.5 115.8,608.9 117.1,608.7 118.3,608.3 118.4,607.1 118.8,606.2 119.8,605.3 119.5,604.1 119,602.9 119.9,601.8 120.8,600.7 121.2,599.7 121.9,600.1 122.2,601 123.8,600.9 125.5,601 126.4,601.9 126.4,603.4 126.6,604.9 127.5,605.8 128.6,606.4 129.7,606.9 130.8,607.5 132,607.7 133.2,607.7 134.5,607.3 135.6,607.4 136.7,607.9 137.8,608 138.9,608.3 140.2,609 141.6,609.8 143.1,610.4 144.1,609.3 144.9,607.8 146.1,607.6 147.1,607 148.2,606.3 149.3,606 149.9,604.4 150.6,603.1 152.2,603.6 153.7,603.9 154.8,603.5 155.5,602.2 156.5,601.5 157.9,601.7 158.9,600.9 160.2,601 161.5,601.4 162.6,600.8 163.7,600.2 164.9,600.3 166.1,600.2 167.3,599.6 168.5,599.7 170,600.2 171.2,600.1 172,598.5 172.9,597.5 174.2,597.5 175.3,597.1 176.5,596.8 177.7,596.9 178.9,596.7 180,595.9 181.1,594.9 182.2,594 183.5,594.8 184.9,595.9 185.9,595 186.6,593.8 187.5,593.4 188.9,593.2 189.6,592.2 190,591 191.3,590.4 192.4,589.9 193.1,589 194.1,588.5 195.4,588.5 196.4,588 197.4,586.8 198.4,586.2 199.7,586.3 201,586.3 202.2,586 203.4,585.8 204.7,585.6 205.9,585.3 206.8,584.4 207.3,582.7 208,581.5 209.5,581.8 210.9,581.9 212,581.3 212.9,580.5 213.8,579.5 214.7,578.6 215.9,578.4 217.4,578.6 218.3,577.9 219,576.4 220,575.6 221.4,576 222.9,576.5 223.9,575.6 224.9,574.9 226.3,575.4 227.6,575.5 228.7,574.8 229.8,574.3 230.9,573.9 232,573.4 233,572.6 234.1,572.1 235.4,572.3 236.7,572.4 237.7,571.6 238.7,570.6"/><path d="M30.4,637.5 30.9,638.8 32,639.3 32.8,640.2 33.4,641.3 34.5,641.9 35.7,642.5 36.2,643.6 36.2,645 36.7,646.1 37.8,646.9 38.7,647.7 39.4,648.8 40.4,649.5 41.9,649.3 43,649.5 44,650.2 44.9,650 45.9,649.8 47.2,649.6 48.2,648.9 49.2,648.2 50.5,648 51.8,648.2 52.9,648.8 54.2,649.3 55,650.2 55.4,651.6 56.3,652.5 57.2,653.3 57.6,654.5 57.8,655.8 58.5,656.8 59.3,657.8 60.1,658.6 61.4,658.9 62.6,659.3 63.4,660.2 64.2,661.5 65.3,662.3 66.6,662.3 67.9,661.9 69.1,662 70.2,662.4 71.4,662.8 72.2,663.7 73.1,664.3 74.4,664.7 75.3,665.5 75.9,666.7 76.3,668.4 77.6,669.3 79.3,668.4 80.3,667 81,666.1 82.3,666 83.4,665.6 84.4,664.8 85.4,664.2 86.3,663.3 87.4,662.8 88.5,662.3 89.5,661.7 91,661.8 92,661.4 93.1,660 94.6,660.2 95.4,661.6 96.4,662.3 97.6,662.7 98.4,663.6 99.1,664.7 99.8,665.7 100.4,666.7 101,667.8 101.4,669 102.2,669.9 103.1,670.6 103.5,671.6 103.9,672.6 105,673.5 106,674.4 106.2,675.7 106.5,677 107.5,678 108.8,678.4 110.1,678.5 111.3,679.1 112.5,679.4 113.7,679 115,678.6 116.2,678.5 117.3,678.3 118.6,678.2 119.8,678.2 121,678.6 122.2,678.8 123.3,678.2 124.6,678.1 125.6,678.7 126.7,679.1 128.1,679.2 129.1,679.5 130.1,680.3 131.3,680.4 132.4,679.7 133.2,678.7 134.2,678.1 135.7,678.2 136.9,678.1 137.7,677.5 138.8,677.3 140,677.3 141.3,677.3 142.4,677.7 143.5,678.4 144.6,678.7 145.7,678.1 146.7,677.5 148.3,677.8 149.5,677.5 150.2,676.3 151.2,675.6 152.3,675.5 153.4,675 154.6,674.7 155.8,675.1 157,675.2 158.3,675.3 159.5,674.9 160.6,674.2 161.8,674.1 163,673.8 163.8,672.8 164.7,671.9 165.6,671.1 166.8,670.7 168.3,671.1 169.5,671 170.6,670.5 171.7,670.1 172.8,669.3 174.1,669.4 175.5,670 176.5,669 177,666.7 177.8,665.6 179.4,666.5 181,667.2 182,666.5 183.1,666 184.2,665.5 185.1,664.8 186.4,664.5 187.7,664.4 188.7,663.7 189.6,662.8 190.5,662 191.5,661.4 192.6,660.8 194.2,660.9 195.3,660.3 195.1,658.2 195.3,656.6 196.7,656.3 198.3,656.3 199.6,655.9 200.2,654.7 200.2,653.2 200.8,652.2 201.7,651.3 202.1,650.2 202.8,649.1 203.5,648.1 204.1,647.1 204.9,646.2 205.5,645.1 205.6,643.8 205.7,642.5 206.6,641.6 207.7,641.3 208.7,641.7 209.6,642.3 211,642.4 212.2,642.2 213,642.1 214.1,641.9 215.1,641.2 215.8,640.2 216.8,639.5 217.6,638.6 218.2,637.5"/><path d="M244.2,516.9 245.3,516.5 246.5,516.1 247.6,515.6 248.9,515.8 250.1,515.8 251.2,515.3 252.4,515.2 253.6,515.4 254.7,515 255.9,514.5 257.1,514.5 258.3,514.8 259.5,514.7 260.8,514.7 261.9,515.3 263,515.7 264.2,516 265.3,516.6 266.3,517.1 267.5,517.6 268.4,518.2 269.4,519.1 270.5,519.5 271.8,519.6 272.9,519.8 274,519.9 273.4,520.4 272.3,520.6 271.1,521 270,521.5 268.9,522 267.9,522.6 266.8,523.3 265.7,523.6 264.4,523.7 263.3,524.1 262.3,524.8 261.2,525.4 260.2,526 259.5,526.7 259.7,526.9 260.7,527.4 261.8,527.6 263,527.8 264.2,528.2 265.4,528.4 266.5,528.7 267.8,529.1 268.9,529 269.8,529 270.6,529.7 271.4,530.7 272.1,531.5 272.9,532 274,532.3 275,532.9 276.1,533.8 277.3,534.2 278.5,534.1 279.7,533.7 280.9,533.7 282.1,533.7 283.4,533.8 284.5,533.9 285.7,534.2 286.9,534.7 288.1,534.7 289.3,534.7 290.5,534.4 291.7,534.4 292.8,535 293.9,535.4 295.1,535.4 296.4,535.7 297.3,536.8 296.7,538 295.9,539 296.1,540.1 297.3,540.3 298.5,540.4 299.6,541 300.8,541.4 302,541.4 303.2,541.2 304.4,541.2 305.6,541.6 306.8,541.6 308,541.4 309.2,541.3 310.4,541 311.6,541.1 312.8,541.4 314,541.7 315,542 315.2,541.9 314.2,542.7 313,542.8 311.8,542.8 310.6,543.1 309.5,543.8 308.3,544 307,543.7 305.8,543.8 304.7,544.3 303.5,544.5 302.3,544.6 301.2,545.2 299.9,545 298.7,544.5 297.5,544.8 296.3,545.3 295.1,545.4 293.9,545.4 292.7,545.7 291.5,545.7 290.3,545.8 289.2,546 288,546.1 286.8,546.4 285.6,546.6 284.4,546.4 283.2,546.4 281.9,546.3 280.7,546.9 282,547.5 283.2,547.6 284.3,547.9 285.5,548.3 286.6,548.6 287.8,548.7 289,548.8 290.2,548.7 291.4,548.8 292.6,548.9 293.8,548.8 295,549.1 296.2,549.2 297.4,548.9 298.6,548.6 299.8,548.4 301.1,548.4 302.5,548.5 302.6,549.8 301.4,550.3 300.1,550.4 298.9,550.5 297.8,550.9 296.7,551.3 295.5,551.6 294.3,551.9 293.1,552.3 291.9,552.4 290.7,551.9 289.6,551.2 288.4,551.1 287.2,551 286,551.5 285.7,552.8 285.6,554 285.1,555.2 284.4,556.2 283.3,556.9 282.3,557.7 282,558.9 282.1,560.3 280.9,560.9 279.6,561.1 278.4,561.1 277.2,560.8 276,560.4 274.8,560.3 273.6,560.5 272.4,561 271.3,561.2 270,560.8 268.8,561.2 268,562.2 267.3,562.9 268.3,563.4 269.5,563.7 270.7,563.7 271.9,563.6 273.1,563.7 274.3,563.8 275.5,563.6 276.7,563 277.9,562.8 279.1,563.2 280.3,563.5 281.5,564 282.7,564.3 283.9,564.2 285.1,564.1 286.3,564.4 287.5,564.6 288.7,564.6 289.8,564.9 290.9,565.4 291.7,566.1 292.2,567 292.7,568.1 292.8,569.2 292.4,570.4 291.5,571.3 290.3,571.7 289.1,571.9 287.9,572.2 286.8,572.5 285.5,572.7 284.3,572.4 283.1,572.4 281.9,572.7 280.7,572.8 279.5,572.9 278.3,573 277.2,573.7 276,574.1 274.8,573.8 273.6,574.1 272.6,574.7 271.7,575.4 271.2,576.1 270.9,576.9 271.5,577.7 272.5,578.4 273.8,578.4 275,577.9 276.2,577.9 277.4,578.1 278.6,578.2 279.8,578.6 281,578.8 282.2,578.7 283.4,578.8 284.6,579.3 285.7,579.7 286.9,579.8 288.1,579.6 289.4,579.5 290.6,579.5 291.8,579.7 292.9,580.1 293.8,580.9 294.3,582.1 293.6,583.3 292.6,584 292.9,584.9 294,585.2 295.1,585.7 296.1,586.4 297.3,586.6 298.5,586.8 299.7,587 300.9,587.3 302.1,587.6 303.3,587.4 304.5,586.8 305.7,586.7 306.9,587.5 306.7,588.1 305.7,588.6 304.7,589.1 303.6,589.7 302.4,590.1 301.2,589.9 300,589.9 298.8,590.2 297.6,590.6 296.4,590.7 295.3,590.9 294.1,591.4 293.6,592.4 293.7,593.5 294.2,594.4 295.1,595.2 296.2,595.6 296.2,596.6 295,597.3 293.8,597.4 292.6,597.5 291.6,598.3 290.7,598.7 290,599.7 290.9,600.6 292.2,600.8 293.4,601 294.6,601.2 295.9,601.1 297.1,601.1 298.3,601.2 299.4,601.2 300.6,601.1 301.9,600.9 303,601 304.3,601.2 305.4,602.1 305.5,603.4 305.6,604.7 305.6,605.9 305.4,607.1 304.9,608.1 304.3,609.1 304.1,610.1 304.8,610.9 305.9,611.5 307.1,611.7 307.9,612.3 307.3,612.4 306.4,612.8 305.4,613.6 304.3,614 303.4,614.6 304.4,614.5 305.6,614.4 306.6,615 307.7,615.8 308.8,616.5 310,616.6 311.3,616.5 312.4,617.2 313.2,618.1 314.1,619 314.6,620.2 313.9,621.3 312.8,621.8 311.7,622.3 310.5,622.6 309.3,622.7 308.2,623.2 307.1,623.8 305.9,623.7 304.7,623.9 303.6,624.4 302.5,625 301.5,625.7 300.6,626.5 299.8,627.4 298.9,628 297.9,628.6 296.8,629.3 295.7,629.6 294.9,630.5 296.1,631.2 297.3,631.3 298.5,631.6 299.7,631.8 300.9,631.8 302,632.2 303.2,632.8 304.4,632.9 305.6,632.7 306.8,632.9 308,633.4 309.1,633.6 310.3,633.4 311.5,633.5 312.5,634.2 312.8,635.1 312.8,635.7 311.9,636.2 310.7,636.1 309.6,636 308.4,636.1 307.2,636.2 305.9,636.4 304.7,636.3 303.5,636.1 302.3,636.2 301.1,636.2 299.9,635.9 298.7,636.2 297.6,636.7 296.4,636.7 295.1,636.4 293.9,636.4 292.7,636.6 291.5,637 290.4,637.5 289.2,637.8 288.1,637.8 286.9,638.1 286,638.8 285.4,639.8 285.3,641.3 286.6,641.7 287.9,641.4 289.1,641.4 290.2,641.2 291.4,640.5 292.9,640.3 293.8,641.6 293.8,643 293.3,644.1 292.2,644.9 290.9,645 289.6,644.6 288.4,644.7 287.9,645.4 288.9,645.8 290,646.1 291.2,646.1 292.4,646.5 293.5,646.9 294.7,647.2 295.9,647.3 297.2,647.1 298.4,647 299.6,647.1 300.9,647.2 300.3,648.2 299,648.4 297.9,648.8 296.7,649.1 295.6,649.4 294.4,649.8 293.2,649.8 292,649.8 290.8,649.9 289.6,650.1 288.5,650.7 287.4,651.2 286.2,651.3 285,651.4 283.8,651.5 282.6,651.9 281.5,652.5 280.3,652.4 279.2,652.1 278,651.9 276.8,651.9 275.6,651.7 274.4,651.5 273.3,651.2 272.1,650.9 270.9,650.7 269.7,650.6 268.5,650.7 267.5,651.1 266.7,651.3 265.6,651.7 264.6,652.5 264,653.4 263.5,654.7 262.4,655.4 261.1,655.4 260,655.9 259,656.6 257.8,656.9 256.7,657.3 255.6,657.9 254.6,658.5 253.6,659.2 252.7,660.1 251.9,661.1 251,661.8 250,662.5 249.1,663.2 248.4,664.3 247.5,665.1 246.3,665.5 245.2,665.8 244.2,666.4"/><path d="M323.5,506 324.7,505.6 326,505.5 327.2,506 328.5,506.8 329.1,508.1 328.7,509.3 328.8,510.5 329.7,511.2 330.4,512.2 331.2,513.3 332.3,513.9 333.5,514.2 334.5,514.4 335.2,515 335.8,515.9 336.1,517.1 336.6,518.3 337.6,519 338.4,519.9 338.7,521.1 338.5,522.3 337.6,523.2 336.7,524 336.2,525.1 335.4,526 334.4,526.7 333.8,527.8 334.2,529.2 334,530.1 333.7,531.6 335,531.3 335.4,529.7 336.3,529 337.6,528.7 338.8,528.2 340,528.1 341.3,528 342.4,527.5 343.6,527.2 344.8,527.8 345.8,528.2 346.9,528.1 347.3,529 347.5,530.1 348.1,531.1 349,532.1 349.9,533 350.2,534.2 350,535.6 350.4,537 351.2,538 352.3,538.7 353.5,539.2 354.9,539.2 356,539.5 356.9,540.4 358,541 359.3,540.8 360.7,540.6 361.9,541.2 362.8,542.2 363.4,543.4 364.1,544.5 364.3,545.7 363.8,546.8 362.7,547.3 361.7,547.8 360.7,548.9 359.4,549.1 358.3,547.8 356.6,547.3 355.6,548.9 355.8,550.3 355.9,551.6 356.3,552.8 356.8,553.9 356.8,555.1 356.9,556.2 357.9,555.7 358.7,554.7 358.8,553.3 359.7,552.4 361,552.5 362.2,551.9 363.6,551.5 365,552.2 365.2,553.8 364.7,555.2 364.9,556.3 365.6,557.4 366.2,558.5 366.5,559.7 367,560.7 367.2,562.1 366.1,562.8 364.8,563.1 363.8,564 363.8,565.4 363.6,566.7 363.6,567.9 364.8,568.9 365.4,570 365.1,571.4 365.6,572.6 366.9,573 368.1,573.1 369.3,573.2 370.5,573.2 371.7,573.1 372.9,573 374.1,572.4 375.3,572.4 376.5,573 377.5,573.8 378.1,574.8 378.7,575.8 378.6,576.9 377.8,577.8 377.8,578.8 378.7,579.4 379.3,580.1 380,580.9 381,581.5 382.1,582.1 383.3,582.4 384.5,582.7 385.3,583 385.5,582.6 385.3,583.1 384.2,583.1 383.2,583.4 382,584.1 380.8,584 379.6,583.8 378.4,583.9 377.2,584 376,584.1 374.8,584.6 373.7,585.2 373.1,586.3 372.9,587.5 373,588.7 373,590 371.8,590.6 370.5,590.4 369.4,591 368.3,591.7 367.8,592.9 368.2,594 368.7,595 369.1,596.1 369.7,597.1 370.8,597.7 372,597.9 373.2,598 374.5,597.8 375.7,598 376.6,599.1 377.6,599.9 379,599.8 380.3,600.1 380.9,601.3 381.8,602.2 383.1,602.8 383.7,604.3 382.6,605.5 381.3,605.8 380.2,606.3 379.1,606.6 377.8,606.2 376.7,606.5 375.5,606.9 374.3,606.7 372.9,606.5 371.1,607.1 371.2,609.1 372.7,609.9 373.8,610 375,610 376.2,610.2 377.4,610.2 378.6,610.4 379.5,610.9 380.6,611.2 381.3,612 381,613.1 380.6,614.5 379.5,615.1 378,615 376.9,615.2 375.7,615.4 374.5,615.5 373.3,615.8 372.1,616 370.9,616.5 369.7,616.2 368.5,615.5 367.3,615.7 366.1,615.5 365,614.7 363.8,614.6 362.5,615.2 361.4,615.5 360.4,615.9 359.6,616.7 358.8,617.5 358.3,618.7 358.1,619.9 358,621.2 357.9,622.5 357.9,623.8 358.8,624.8 360.1,625.6 360.6,626.7 361.1,628 360.7,629.3 359.5,630 358.7,630.9 357.8,631.8 357.7,632.9 359,633.3 360.1,633.5 361,634.5 361.5,634.3 360.8,634.5 359.6,635.1 358.5,635.1 357.2,634.7 355.7,635.1 354.9,636.2 354.4,637.4 354,638.6 354.1,639.9 353.8,641.1 353.8,642.3 353.9,643.6 353.1,644.6 352.2,645.5 351.4,646.4 350.2,646.6 349.1,646.6 348.2,646.8 347,646.6 346.4,645.6 345.7,644.3 344.4,643.9 343,644.2 341.9,643.8 340.6,643.4 339.4,643.8 338.1,643.8 336.6,644 335.9,645.3 335.7,646.6 336.1,647.3 336.7,648.1 337.6,649.2 338.8,649.2 340.2,649 341.6,649.9 340.5,650.6 339.3,650.5 338.1,650.5 336.9,650.3 335.8,649.8 334.9,649.1 334.1,648.2 333.1,647.6 331.9,647 331.1,646.1 330.4,645.2 329.5,644.8 328.6,645.1 327.6,646 327.4,647.5 328.5,648.4 329.6,648.9 330.6,649.7 331.2,650.8 330.6,652 329.6,652.8 329,653.8 328.4,655 327.8,656 327,656.9 325.8,657.4 324.9,658.2 324.2,659.2"/><path d="M410.4,491.7 411.6,492 412.5,492.9 413.7,493.1 415,493.2 416,493.8 417.2,494.1 418.4,494.3 419.4,494.9 420.6,495.3 421.8,495.6 422.9,496.2 423.7,497.2 424.4,498.1 425.4,498.8 426.4,499.6 427.1,500.5 427.5,501.8 427.6,502.8 427.6,503.8 427.2,504.9 427.2,506.1 427.2,507.4 426.9,508.5 427.1,509.6 427.3,510.8 427.7,512 428.9,512.7 429.6,513.7 430.5,514.9 431.8,515 433.1,515 434.2,515.3 435.4,515.5 436.6,515.9 437.8,516.1 439,516.4 439.8,517.4 441,517.7 442.2,518.1 443,519.2 444.1,519.6 445.3,519.8 446.4,520.4 447.5,520.8 448.7,521.1 449.8,521.6 450.8,522.5 451.3,523.7 450.1,523.7 448.8,523.6 447.5,524 447.6,525.4 448.4,526.3 448.6,527.6 448.8,528.9 449.6,529.8 450.5,530.6 451.2,531.6 451.9,532.6 452.6,533.6 453.7,534.2 454.7,533.8 455.4,532.8 456.5,532.1 457.8,532.1 458.8,532.2 459.4,532.7 460.1,533.5 460.7,534.6 460.9,535.9 461.9,536.6 463.2,536.9 463.9,537.9 464.3,539.2 465.1,539.9 466.5,540.7 465.6,541.9 464.2,542.1 463.1,542.8 462,543.2 460.7,543.3 459.6,543.7 458.4,543.9 457.2,543.5 455.7,543.2 454.7,544.1 454.6,545.5 454.6,546.8 454.6,548.1 455,549.3 456.1,550.1 457.3,550.7 458.1,551.5 459,552.2 459.9,553 461,553.4 462.3,553.6 463.2,554.6 463.9,555.6 464.9,556.2 466.2,556.6 467.4,556.8 468.6,557.3 469.5,558.2 469.9,559.5 470.3,560.7 471.2,561.5 472.4,562.1 473.3,563 473.7,564.1 474.6,565 475.8,565.7 476.4,566.8 476.5,568.2 476.5,569.5 476.3,570.8 477,571.8 477.8,572.9 477.5,574.2 477.1,575.4 477.2,576.6 476.9,577.7 476.2,578.8 475.8,579.8 475.6,581 475.4,582.2 474.6,583.1 473.8,584 473,585 472.2,586 471.6,587.1 471.6,588.4 471.7,589.7 471.5,590.9 470.8,591.9 470,592.8 469.1,593.6 468.4,594.7 468.4,596 468.2,597.1 467.5,598.2 467.6,599.4 467.7,600.6 467.2,601.9 467.9,603 469.2,603.9 469.1,605.2 468.5,606.6 468.7,607.7 468.8,608.8 468.6,610 468.9,611.2 469.2,612.4 469.3,613.6 469.9,614.7 470.5,615.8 471.3,616.6 472.1,617.4 472.4,618.3 472.8,619.4 472.4,620.6 471.5,621.2 470.8,621.7 469.8,622 468.6,622.3 467.4,622.2 466.2,621.7 465.2,621.2 464.3,620.4 463.7,619.3 463,618.1 461.7,617.7 460.4,618.1 459.1,618.3 458,618.8 457.3,620.1 456.4,620.6 454.8,621 454.2,622.3 454.6,623.7 455.2,624.8 456.1,625.8 456.7,626.9 456.8,628.1 456.8,629.4 456.1,630.5 455.3,631.4 454.1,631.7 453,631.3 452.4,631.3 451.4,631.3 450.3,630.7 449.2,630.2 448.3,629.3 447.9,627.9 447.6,629.1 448.6,629.9 449.3,630.9 450.1,631.7 451.1,632.6 451.1,633.9 451,635.2 451.5,636.3 451.6,637.4 451.7,638.6 451.7,639.8 450.9,640.7 450,641.3 449.2,641.9 448.6,643.3 449,644.8 449.7,645.9 450.1,647 450.6,648.1 450.5,649.4 450,650.7 450.1,651.9 450.8,653 451.2,654.2 451.7,655.3 452,656.6 452,658.1 450.9,659.3 449.4,659.1 448.2,659.1 447.4,659.9 446.9,660.9 446.7,661.9 446.6,662.9 447,664 447.7,665.1 447.6,666.4 446.2,666.3 445.1,665.6 444.2,665 443.4,664.5 442.4,663.9 441.3,663.1 440.7,662.1 440.7,660.8 439.3,660 438.4,661.4 439.4,662.9 439.6,663.9 439.4,665.1 439.5,666.3 439.4,667.5 439.4,668.7 439.5,670 439.4,671.2 439.2,672.6 438.6,673.7 437.2,674.2"/></g><rect x="242.4" y="488" width="1.5" height="199" fill="#fff"/><line x1="323.4" y1="491.5" x2="323.4" y2="684.7" stroke="#8a8a8a" stroke-width="0.9"/><line x1="403.3" y1="491.5" x2="403.3" y2="684.7" stroke="#8a8a8a" stroke-width="0.9"/><path d="M95.3,496.2 H101.4 C103.2,496.2 103.2,501.1 104.9,501.1 H119.8 C121.5,501.1 121.5,496.2 123.3,496.2 H139.9 C141.7,496.2 141.7,501.1 143.4,501.1 H158.3" stroke="#b8aa16" stroke-width="1.1" fill="none"/><path d="M247.1,496.8 H252.9 C255.2,496.8 255.2,500.8 257.6,500.8 H271.6 C273.4,500.8 273.4,496.8 275.1,496.8 H290.9 C292.6,496.8 292.6,500.8 294.4,500.8 H310.2" stroke="#c4b618" stroke-width="1.2" fill="none"/><path d="M94.7,557.5 96.3,558.1 98,558.7 99.6,559.2 101.2,559.5 102.9,559.8 104.5,559.8 106.1,559.6 107.8,559.3 109.4,558.9 111,558.3 112.7,557.7 114.3,557.1 116,556.6 117.6,556.1 119.2,555.8 120.9,555.6 122.5,555.6 124.1,555.8 125.8,556.2 127.4,556.7 129,557.2 130.7,557.9 132.3,558.5 133.9,559 135.6,559.4 137.2,559.7 138.8,559.8 140.5,559.7 142.1,559.5 143.8,559.1 145.4,558.6 147,558 148.7,557.4 150.3,556.8 151.9,556.3 153.6,555.9 155.2,555.7 156.8,555.6 158.5,555.7 160.1,556" stroke="#a81414" stroke-width="1.3" fill="none"/><path d="M335.1,497.5 336.7,498.2 338.4,498.9 340,499.6 341.7,500.2 343.3,500.7 344.9,500.9 346.6,501 348.2,500.8 349.8,500.4 351.5,499.9 353.1,499.2 354.8,498.5 356.4,497.7 358,497.1 359.7,496.6 361.3,496.3 362.9,496.2 364.6,496.3 366.2,496.7 367.9,497.2 369.5,497.9 371.1,498.6 372.8,499.3 374.4,500 376,500.5 377.7,500.9 379.3,501 381,500.9 382.6,500.6 384.2,500.1 385.9,499.5 387.5,498.8 389.1,498.1 390.8,497.4 392.4,496.8 394.1,496.4 395.7,496.2 397.3,496.2 399,496.5 400.6,496.9" stroke="#a81414" stroke-width="1.3" fill="none"/><text class="lab" x="12" y="509.8" fill="#fff">e</text><text x="162.6" y="501" font-size="14" fill="#f2f2f2">Topo I</text><text x="9" y="560.4" font-size="14" fill="#f2f2f2">South</text><text x="161.8" y="560.6" font-size="13.8" fill="#f2f2f2">Topo V</text><text x="9" y="626.4" font-size="14" fill="#f2f2f2">South</text><text x="161" y="629" font-size="13.5" fill="#f2f2f2">Flat</text><text x="9" y="677.9" font-size="16" fill="#f2f2f2">South</text><text x="197.4" y="673.6" font-size="14" fill="#f2f2f2">200 µm</text><text x="289.8" y="677.8" font-size="16" fill="#f2f2f2">East</text><text x="358.8" y="677.8" font-size="16" fill="#f2f2f2">East</text><text x="451.2" y="677.9" font-size="16" fill="#f2f2f2">East</text><text x="454" y="502.9" font-size="14" fill="#f2f2f2">Flat</text><rect x="215" y="676.4" width="15.5" height="3" fill="#f2f2f2"/><text class="lab" x="489.3" y="489.8">f</text><g stroke="#2a2a2a" fill="none"><line x1="523.9" y1="494.8" x2="523.9" y2="648.9" stroke-width="1.3"/><line x1="523.3" y1="648.3" x2="677" y2="648.3" stroke-width="1.3"/><line x1="521.3" y1="648.3" x2="523.9" y2="648.3" stroke-width="0.9"/><line x1="522.3" y1="640.7" x2="523.9" y2="640.7" stroke-width="0.9"/><line x1="522.3" y1="633.1" x2="523.9" y2="633.1" stroke-width="0.9"/><line x1="522.3" y1="625.6" x2="523.9" y2="625.6" stroke-width="0.9"/><line x1="522.3" y1="618" x2="523.9" y2="618" stroke-width="0.9"/><line x1="521.3" y1="610.4" x2="523.9" y2="610.4" stroke-width="0.9"/><line x1="522.3" y1="602.8" x2="523.9" y2="602.8" stroke-width="0.9"/><line x1="522.3" y1="595.2" x2="523.9" y2="595.2" stroke-width="0.9"/><line x1="522.3" y1="587.7" x2="523.9" y2="587.7" stroke-width="0.9"/><line x1="522.3" y1="580.1" x2="523.9" y2="580.1" stroke-width="0.9"/><line x1="521.3" y1="572.5" x2="523.9" y2="572.5" stroke-width="0.9"/><line x1="522.3" y1="564.9" x2="523.9" y2="564.9" stroke-width="0.9"/><line x1="522.3" y1="557.3" x2="523.9" y2="557.3" stroke-width="0.9"/><line x1="522.3" y1="549.8" x2="523.9" y2="549.8" stroke-width="0.9"/><line x1="522.3" y1="542.2" x2="523.9" y2="542.2" stroke-width="0.9"/><line x1="521.3" y1="534.6" x2="523.9" y2="534.6" stroke-width="0.9"/><line x1="522.3" y1="527" x2="523.9" y2="527" stroke-width="0.9"/><line x1="522.3" y1="519.4" x2="523.9" y2="519.4" stroke-width="0.9"/><line x1="522.3" y1="511.9" x2="523.9" y2="511.9" stroke-width="0.9"/><line x1="522.3" y1="504.3" x2="523.9" y2="504.3" stroke-width="0.9"/><line x1="521.3" y1="496.7" x2="523.9" y2="496.7" stroke-width="0.9"/><line x1="676" y1="648.3" x2="676" y2="650.9" stroke-width="0.9"/><line x1="665.8" y1="648.3" x2="665.8" y2="649.9" stroke-width="0.9"/><line x1="655.6" y1="648.3" x2="655.6" y2="649.9" stroke-width="0.9"/><line x1="645.5" y1="648.3" x2="645.5" y2="649.9" stroke-width="0.9"/><line x1="635.3" y1="648.3" x2="635.3" y2="649.9" stroke-width="0.9"/><line x1="625.1" y1="648.3" x2="625.1" y2="650.9" stroke-width="0.9"/><line x1="614.9" y1="648.3" x2="614.9" y2="649.9" stroke-width="0.9"/><line x1="604.7" y1="648.3" x2="604.7" y2="649.9" stroke-width="0.9"/><line x1="594.6" y1="648.3" x2="594.6" y2="649.9" stroke-width="0.9"/><line x1="584.4" y1="648.3" x2="584.4" y2="649.9" stroke-width="0.9"/><line x1="574.2" y1="648.3" x2="574.2" y2="650.9" stroke-width="0.9"/><line x1="564" y1="648.3" x2="564" y2="649.9" stroke-width="0.9"/><line x1="553.8" y1="648.3" x2="553.8" y2="649.9" stroke-width="0.9"/><line x1="543.7" y1="648.3" x2="543.7" y2="649.9" stroke-width="0.9"/><line x1="533.5" y1="648.3" x2="533.5" y2="649.9" stroke-width="0.9"/><line x1="523.3" y1="648.3" x2="523.3" y2="650.9" stroke-width="0.9"/><path d="M539.8,497 V493.4 H676.3 V497" stroke-width="1.2"/><line x1="603.5" y1="493.4" x2="603.5" y2="497" stroke-width="1.1"/><line x1="653.3" y1="493.4" x2="653.3" y2="497" stroke-width="1.1"/><line x1="665.5" y1="493.4" x2="665.5" y2="497" stroke-width="1.1"/><line x1="671.2" y1="493.4" x2="671.2" y2="497" stroke-width="1.1"/></g><text x="603.3" y="495.3" font-size="14" fill="#333" text-anchor="middle">***</text><text x="517.6" y="501.5" font-size="13.5" fill="#222" text-anchor="end">0.8</text><text x="517.6" y="539.4" font-size="13.5" fill="#222" text-anchor="end">0.6</text><text x="517.6" y="577.3" font-size="13.5" fill="#222" text-anchor="end">0.4</text><text x="517.6" y="615.2" font-size="13.5" fill="#222" text-anchor="end">0.2</text><text x="517.6" y="653.1" font-size="13.5" fill="#222" text-anchor="end">0.0</text><text x="523.3" y="661.3" font-size="13.5" fill="#222" text-anchor="middle">0.6</text><text x="574.2" y="661.3" font-size="13.5" fill="#222" text-anchor="middle">0.4</text><text x="625.1" y="661.3" font-size="13.5" fill="#222" text-anchor="middle">0.2</text><text x="676" y="661.3" font-size="13.5" fill="#222" text-anchor="middle">0.0</text><text x="559.3" y="678.7" font-size="14" fill="#222">Curvature [µm<tspan font-size="9" dy="-5.5">-1</tspan><tspan dy="5.5">]</tspan></text><text transform="translate(497,566) rotate(-90)" font-size="14" fill="#222" text-anchor="middle">Protrusion bias index</text><path d="M538,501.2 H541.6 M539.8,501.2 V511.3 M538,511.3 H541.6" stroke="#555" stroke-width="1" fill="none"/><circle cx="539.8" cy="506.4" r="2.5" fill="#f5a81c"/><path d="M602,517.4 H605.6 M603.8,517.4 V540.1 M602,540.1 H605.6" stroke="#555" stroke-width="1" fill="none"/><circle cx="603.8" cy="528.8" r="2.5" fill="#1e88d0"/><path d="M651.1,518.0 H654.7 M652.9,518.0 V542.0 M651.1,542.0 H654.7" stroke="#555" stroke-width="1" fill="none"/><circle cx="652.9" cy="530.0" r="2.5" fill="#c030c0"/><path d="M663.3,537.2 H666.9 M665.1,537.2 V548.3 M663.3,548.3 H666.9" stroke="#555" stroke-width="1" fill="none"/><circle cx="665.1" cy="542.8" r="2.5" fill="#2a9d38"/><path d="M668.9,532.3 H672.5 M670.7,532.3 V572.0 M668.9,572.0 H672.5" stroke="#555" stroke-width="1" fill="none"/><circle cx="670.7" cy="552.1" r="2.5" fill="#c82323"/><path d="M674.5,625.0 H678.1 M676.3,625.0 V648.0 M674.5,648.0 H678.1" stroke="#555" stroke-width="1" fill="none"/><circle cx="676.3" cy="644.2" r="2.5" fill="#b0b0b0"/>
</svg>
</body></html>
